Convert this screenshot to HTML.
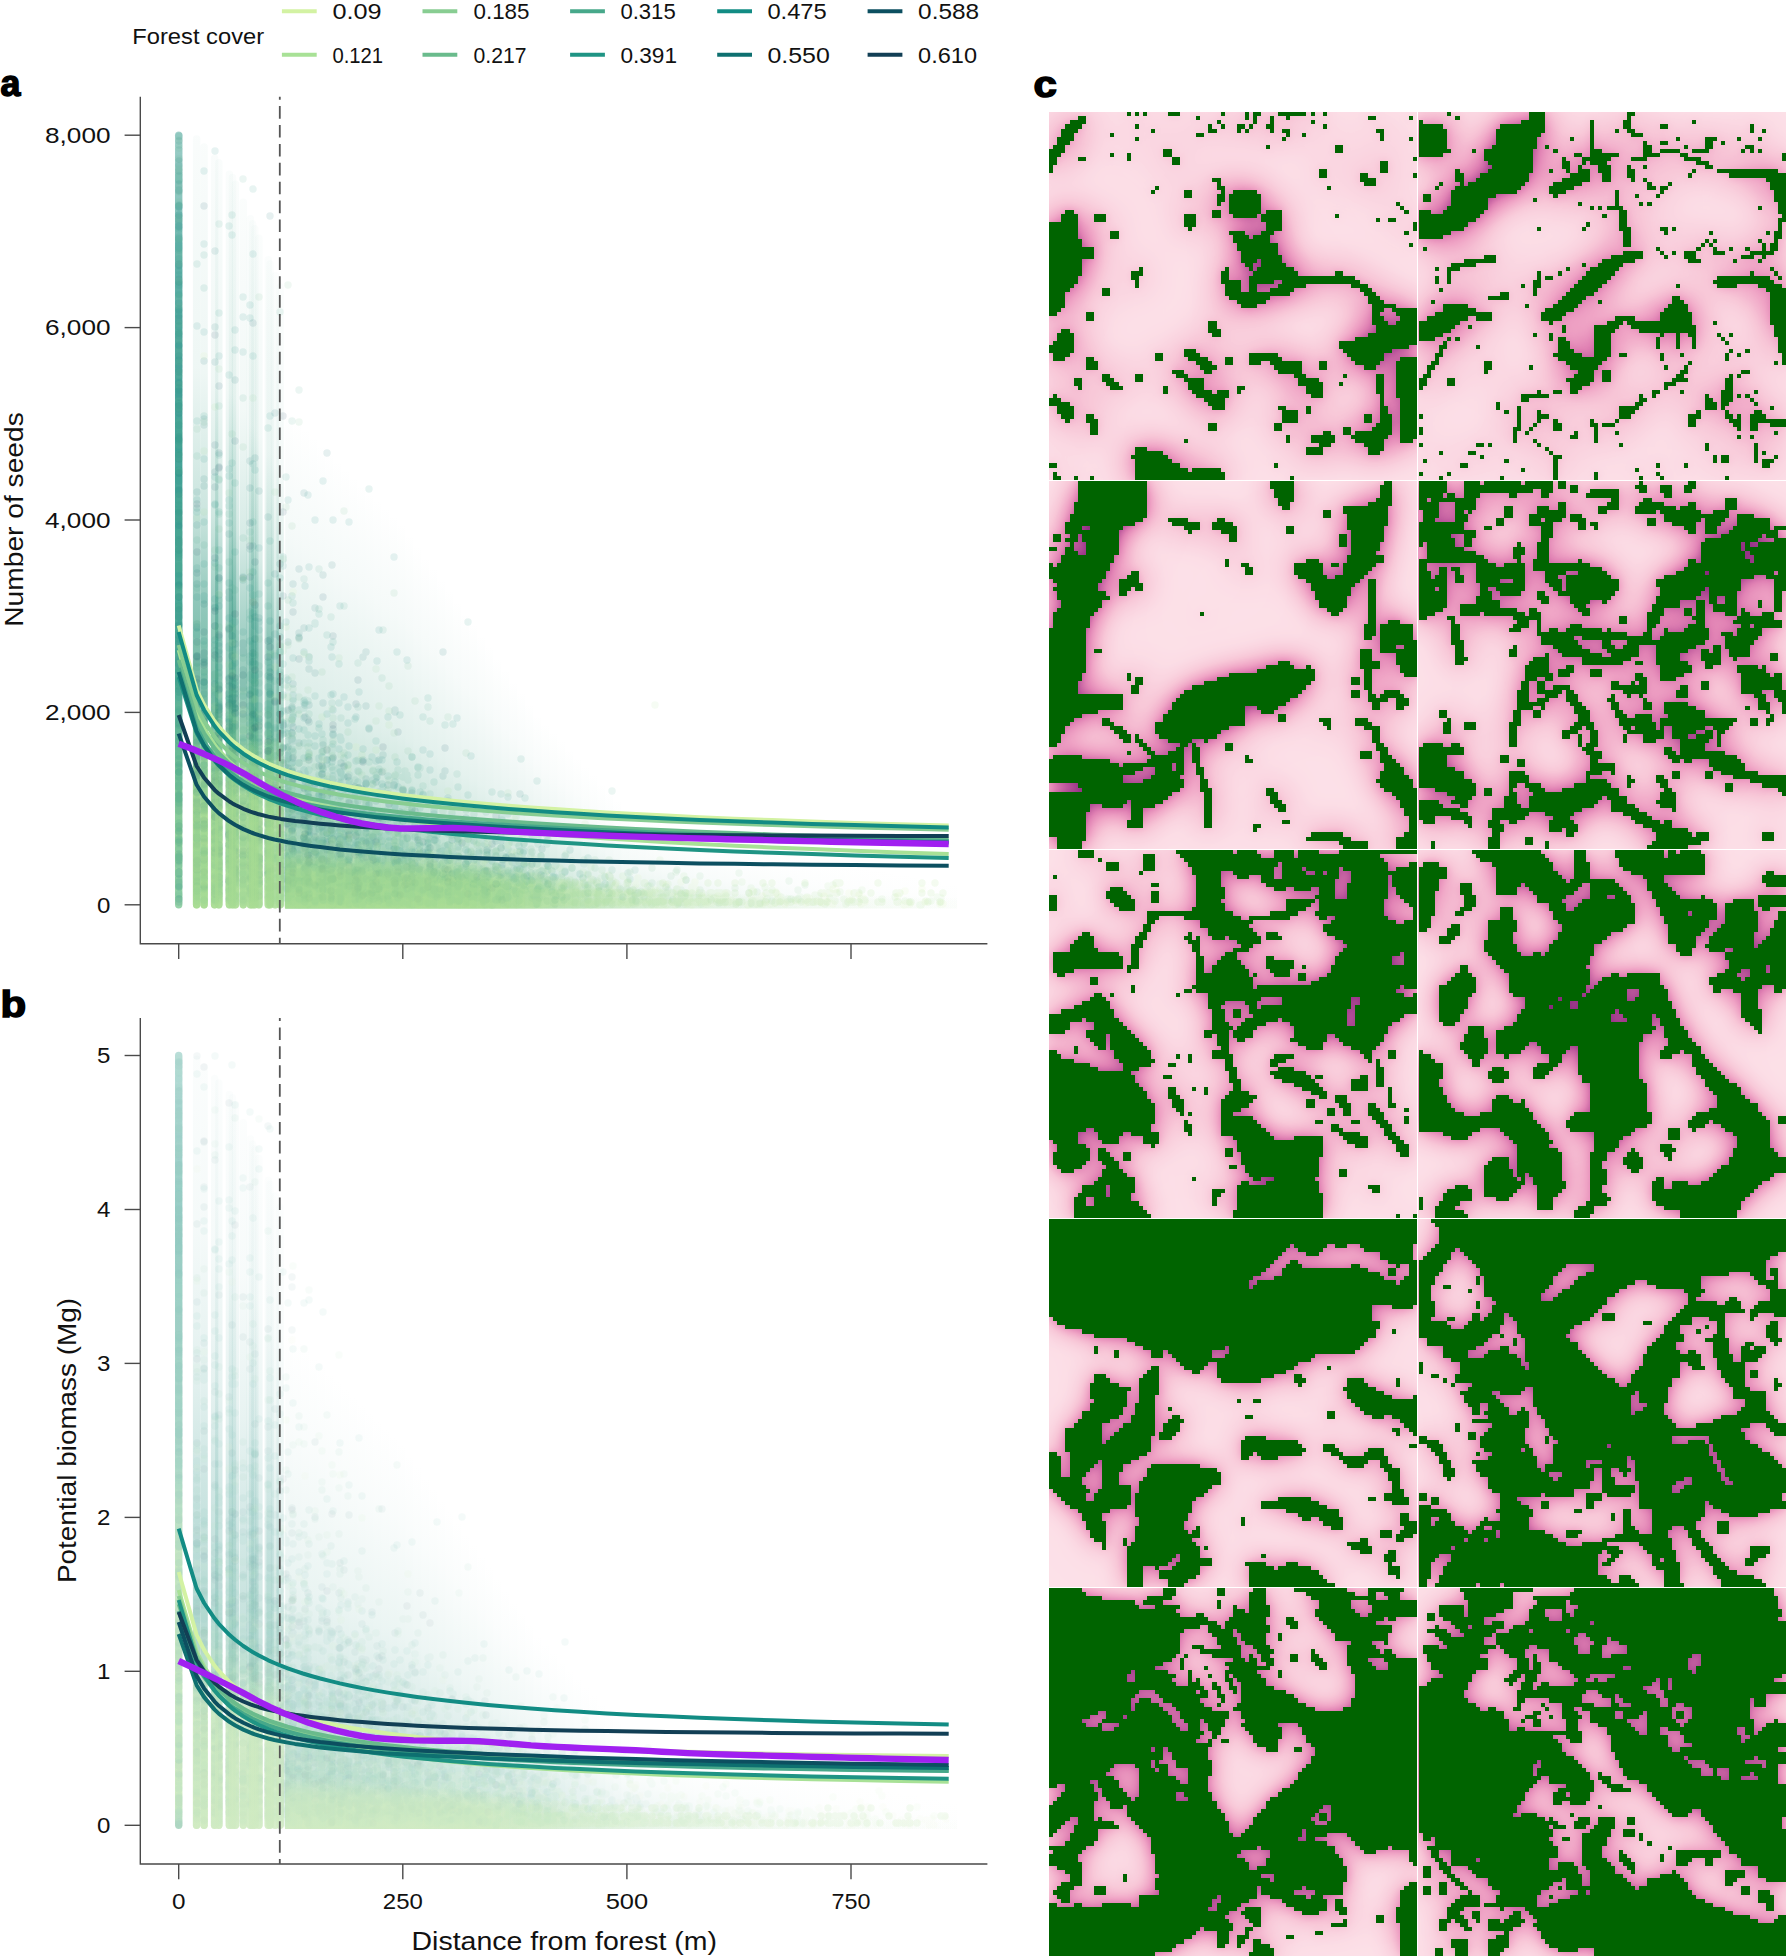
<!DOCTYPE html>
<html><head><meta charset="utf-8"><title>Figure</title>
<style>html,body{margin:0;padding:0;background:#fff}body{width:1786px;height:1957px;position:relative;overflow:hidden}</style>
</head><body>
<svg width="1040" height="1957" viewBox="0 0 1040 1957" style="position:absolute;left:0;top:0" font-family="Liberation Sans, sans-serif" fill="#111">
<text x="132.3" y="43.9" font-size="22.5" text-anchor="start" textLength="131.8" lengthAdjust="spacingAndGlyphs">Forest cover</text>
<path d="M281.9 11.3h34.8" stroke="#d3f2a3" stroke-width="4" fill="none"/>
<text x="332.4" y="19.3" font-size="22" text-anchor="start" textLength="49.2" lengthAdjust="spacingAndGlyphs">0.09</text>
<path d="M281.9 54.7h34.8" stroke="#a8e196" stroke-width="4" fill="none"/>
<text x="332.4" y="62.7" font-size="22" text-anchor="start" textLength="50.7" lengthAdjust="spacingAndGlyphs">0.121</text>
<path d="M422.5 11.3h34.8" stroke="#88cd92" stroke-width="4" fill="none"/>
<text x="473.5" y="19.3" font-size="22" text-anchor="start" textLength="56.0" lengthAdjust="spacingAndGlyphs">0.185</text>
<path d="M422.5 54.7h34.8" stroke="#6abb8c" stroke-width="4" fill="none"/>
<text x="473.5" y="62.7" font-size="22" text-anchor="start" textLength="53.0" lengthAdjust="spacingAndGlyphs">0.217</text>
<path d="M570.1 11.3h34.8" stroke="#47a88a" stroke-width="4" fill="none"/>
<text x="620.4" y="19.3" font-size="22" text-anchor="start" textLength="55.3" lengthAdjust="spacingAndGlyphs">0.315</text>
<path d="M570.1 54.7h34.8" stroke="#1f9484" stroke-width="4" fill="none"/>
<text x="620.4" y="62.7" font-size="22" text-anchor="start" textLength="56.6" lengthAdjust="spacingAndGlyphs">0.391</text>
<path d="M717.2 11.3h34.8" stroke="#128c84" stroke-width="4" fill="none"/>
<text x="767.4" y="19.3" font-size="22" text-anchor="start" textLength="59.3" lengthAdjust="spacingAndGlyphs">0.475</text>
<path d="M717.2 54.7h34.8" stroke="#0e7070" stroke-width="4" fill="none"/>
<text x="767.4" y="62.7" font-size="22" text-anchor="start" textLength="62.4" lengthAdjust="spacingAndGlyphs">0.550</text>
<path d="M867.6 11.3h34.8" stroke="#0c4f60" stroke-width="4" fill="none"/>
<text x="918.1" y="19.3" font-size="22" text-anchor="start" textLength="61.0" lengthAdjust="spacingAndGlyphs">0.588</text>
<path d="M867.6 54.7h34.8" stroke="#123f55" stroke-width="4" fill="none"/>
<text x="918.1" y="62.7" font-size="22" text-anchor="start" textLength="58.9" lengthAdjust="spacingAndGlyphs">0.610</text>
<text transform="translate(0.4 96.2) scale(0.98 1)" font-size="36.5" font-weight="bold" fill="#000" stroke="#000" stroke-width="1.5">a</text>
<text transform="translate(0.6 1017.4) scale(1.15 1)" font-size="36.5" font-weight="bold" fill="#000" stroke="#000" stroke-width="1.5">b</text>
<defs><linearGradient id="gan" x1="0" y1="1" x2="0" y2="0"><stop offset="0" stop-color="#a8dc93" stop-opacity="0.96"/><stop offset="0.13" stop-color="#a4da92" stop-opacity="0.94"/><stop offset="0.2" stop-color="#7cc48e" stop-opacity="0.9"/><stop offset="0.28" stop-color="#4fa88a" stop-opacity="0.8"/><stop offset="0.4" stop-color="#3f9e88" stop-opacity="0.58"/><stop offset="0.52" stop-color="#45a28b" stop-opacity="0.28"/><stop offset="0.7" stop-color="#48a48c" stop-opacity="0.09"/><stop offset="1" stop-color="#48a48c" stop-opacity="0.03"/></linearGradient><linearGradient id="gaz" x1="0" y1="1" x2="0" y2="0"><stop offset="0" stop-color="#7cc694" stop-opacity="0.8"/><stop offset="0.1" stop-color="#86cc92" stop-opacity="0.9"/><stop offset="0.3" stop-color="#3fa28c" stop-opacity="0.9"/><stop offset="0.6" stop-color="#2c968a" stop-opacity="0.88"/><stop offset="0.85" stop-color="#3a9d92" stop-opacity="0.75"/><stop offset="1" stop-color="#5fb0a4" stop-opacity="0.5"/></linearGradient><linearGradient id="gab" x1="0" y1="1" x2="0" y2="0"><stop offset="0" stop-color="#a8dc93" stop-opacity="1"/><stop offset="0.6" stop-color="#a6db93" stop-opacity="0.92"/><stop offset="1" stop-color="#96d392" stop-opacity="0"/></linearGradient><linearGradient id="gac" x1="0" y1="1" x2="0" y2="0"><stop offset="0" stop-color="#74c08f" stop-opacity="0.7"/><stop offset="0.2" stop-color="#62b38f" stop-opacity="0.5"/><stop offset="0.45" stop-color="#5fae98" stop-opacity="0.22"/><stop offset="0.75" stop-color="#62ae9c" stop-opacity="0.07"/><stop offset="1" stop-color="#62ae9c" stop-opacity="0"/></linearGradient><linearGradient id="gat" x1="0" y1="1" x2="0" y2="0"><stop offset="0" stop-color="#a8dc93" stop-opacity="0.62"/><stop offset="0.6" stop-color="#a8dc93" stop-opacity="0.5"/><stop offset="1" stop-color="#a8dc93" stop-opacity="0"/></linearGradient></defs><g><rect x="175.0" y="131.5" width="7.4" height="777.0" rx="3.7" fill="url(#gaz)"/><rect x="192.9" y="135.2" width="7.4" height="773.3" rx="3.7" fill="url(#gan)" opacity="1.00"/><rect x="200.4" y="143.2" width="7.4" height="765.3" rx="3.7" fill="url(#gan)" opacity="0.97"/><rect x="210.9" y="154.4" width="7.4" height="754.1" rx="3.7" fill="url(#gan)" opacity="0.92"/><rect x="215.1" y="159.0" width="7.4" height="749.5" rx="3.7" fill="url(#gan)" opacity="0.90"/><rect x="225.7" y="170.4" width="7.4" height="738.1" rx="3.7" fill="url(#gan)" opacity="0.85"/><rect x="228.8" y="173.7" width="7.4" height="734.8" rx="3.7" fill="url(#gan)" opacity="0.84"/><rect x="231.7" y="180.4" width="7.4" height="728.1" rx="3.7" fill="url(#gan)" opacity="0.83"/><rect x="239.6" y="198.6" width="7.4" height="709.9" rx="3.7" fill="url(#gan)" opacity="0.79"/><rect x="246.7" y="214.9" width="7.4" height="693.6" rx="3.7" fill="url(#gan)" opacity="0.76"/><rect x="248.9" y="220.0" width="7.4" height="688.5" rx="3.7" fill="url(#gan)" opacity="0.75"/><rect x="251.1" y="224.9" width="7.4" height="683.6" rx="3.7" fill="url(#gan)" opacity="0.74"/><rect x="255.2" y="234.4" width="7.4" height="674.1" rx="3.7" fill="url(#gan)" opacity="0.72"/><rect x="264.6" y="256.1" width="7.4" height="652.4" rx="3.7" fill="url(#gan)" opacity="0.68"/><rect x="266.4" y="260.2" width="7.4" height="648.3" rx="3.7" fill="url(#gan)" opacity="0.68"/><rect x="271.5" y="272.0" width="7.4" height="636.5" rx="3.7" fill="url(#gan)" opacity="0.65"/><rect x="276.4" y="283.2" width="7.4" height="625.3" rx="3.7" fill="url(#gan)" opacity="0.63"/><rect x="285.2" y="411.3" width="8.05" height="497.2" fill="url(#gac)" opacity="0.94"/><rect x="285.2" y="853.1" width="8.05" height="55.4" fill="url(#gab)" opacity="0.95"/><rect x="293.2" y="419.3" width="8.05" height="489.2" fill="url(#gac)" opacity="0.94"/><rect x="293.2" y="853.5" width="8.05" height="55.0" fill="url(#gab)" opacity="0.94"/><rect x="301.2" y="427.3" width="8.05" height="481.2" fill="url(#gac)" opacity="0.93"/><rect x="301.2" y="853.9" width="8.05" height="54.6" fill="url(#gab)" opacity="0.94"/><rect x="309.2" y="435.3" width="8.05" height="473.2" fill="url(#gac)" opacity="0.92"/><rect x="309.2" y="854.3" width="8.05" height="54.2" fill="url(#gab)" opacity="0.94"/><rect x="317.2" y="443.3" width="8.05" height="465.2" fill="url(#gac)" opacity="0.92"/><rect x="317.2" y="854.7" width="8.05" height="53.8" fill="url(#gab)" opacity="0.94"/><rect x="325.2" y="451.3" width="8.05" height="457.2" fill="url(#gac)" opacity="0.91"/><rect x="325.2" y="855.1" width="8.05" height="53.4" fill="url(#gab)" opacity="0.93"/><rect x="333.2" y="459.2" width="8.05" height="449.3" fill="url(#gac)" opacity="0.90"/><rect x="333.2" y="855.4" width="8.05" height="53.1" fill="url(#gab)" opacity="0.93"/><rect x="341.2" y="467.2" width="8.05" height="441.3" fill="url(#gac)" opacity="0.90"/><rect x="341.2" y="855.8" width="8.05" height="52.7" fill="url(#gab)" opacity="0.93"/><rect x="349.2" y="475.2" width="8.05" height="433.3" fill="url(#gac)" opacity="0.89"/><rect x="349.2" y="856.2" width="8.05" height="52.3" fill="url(#gab)" opacity="0.92"/><rect x="357.2" y="483.2" width="8.05" height="425.3" fill="url(#gac)" opacity="0.88"/><rect x="357.2" y="856.6" width="8.05" height="51.9" fill="url(#gab)" opacity="0.92"/><rect x="365.2" y="491.2" width="8.05" height="417.3" fill="url(#gac)" opacity="0.88"/><rect x="365.2" y="857.0" width="8.05" height="51.5" fill="url(#gab)" opacity="0.92"/><rect x="373.2" y="499.2" width="8.05" height="409.3" fill="url(#gac)" opacity="0.87"/><rect x="373.2" y="857.4" width="8.05" height="51.1" fill="url(#gab)" opacity="0.92"/><rect x="381.2" y="507.2" width="8.05" height="401.3" fill="url(#gac)" opacity="0.86"/><rect x="381.2" y="857.8" width="8.05" height="50.7" fill="url(#gab)" opacity="0.91"/><rect x="389.2" y="515.2" width="8.05" height="393.3" fill="url(#gac)" opacity="0.86"/><rect x="389.2" y="858.2" width="8.05" height="50.3" fill="url(#gab)" opacity="0.91"/><rect x="397.2" y="523.2" width="8.05" height="385.3" fill="url(#gac)" opacity="0.85"/><rect x="397.2" y="858.5" width="8.05" height="50.0" fill="url(#gab)" opacity="0.91"/><rect x="405.2" y="533.7" width="8.05" height="374.8" fill="url(#gac)" opacity="0.84"/><rect x="405.2" y="858.9" width="8.05" height="49.6" fill="url(#gab)" opacity="0.90"/><rect x="413.2" y="544.9" width="8.05" height="363.6" fill="url(#gac)" opacity="0.82"/><rect x="413.2" y="859.3" width="8.05" height="49.2" fill="url(#gab)" opacity="0.90"/><rect x="421.2" y="556.0" width="8.05" height="352.5" fill="url(#gac)" opacity="0.81"/><rect x="421.2" y="859.7" width="8.05" height="48.8" fill="url(#gab)" opacity="0.90"/><rect x="429.2" y="567.2" width="8.05" height="341.3" fill="url(#gac)" opacity="0.79"/><rect x="429.2" y="860.1" width="8.05" height="48.4" fill="url(#gab)" opacity="0.90"/><rect x="437.2" y="578.3" width="8.05" height="330.2" fill="url(#gac)" opacity="0.78"/><rect x="437.2" y="860.5" width="8.05" height="48.0" fill="url(#gab)" opacity="0.89"/><rect x="445.2" y="589.5" width="8.05" height="319.0" fill="url(#gac)" opacity="0.76"/><rect x="445.2" y="861.0" width="8.05" height="47.5" fill="url(#gab)" opacity="0.89"/><rect x="453.2" y="600.6" width="8.05" height="307.9" fill="url(#gac)" opacity="0.75"/><rect x="453.2" y="862.1" width="8.05" height="46.4" fill="url(#gab)" opacity="0.89"/><rect x="461.2" y="611.8" width="8.05" height="296.7" fill="url(#gac)" opacity="0.73"/><rect x="461.2" y="863.2" width="8.05" height="45.3" fill="url(#gab)" opacity="0.88"/><rect x="469.2" y="622.9" width="8.05" height="285.6" fill="url(#gac)" opacity="0.72"/><rect x="469.2" y="864.2" width="8.05" height="44.3" fill="url(#gab)" opacity="0.88"/><rect x="477.2" y="634.4" width="8.05" height="274.1" fill="url(#gac)" opacity="0.70"/><rect x="477.2" y="865.3" width="8.05" height="43.2" fill="url(#gab)" opacity="0.84"/><rect x="485.2" y="645.8" width="8.05" height="262.7" fill="url(#gac)" opacity="0.69"/><rect x="485.2" y="866.4" width="8.05" height="42.1" fill="url(#gab)" opacity="0.79"/><rect x="493.2" y="657.3" width="8.05" height="251.2" fill="url(#gac)" opacity="0.67"/><rect x="493.2" y="867.4" width="8.05" height="41.1" fill="url(#gab)" opacity="0.74"/><rect x="501.2" y="668.8" width="8.05" height="239.7" fill="url(#gac)" opacity="0.66"/><rect x="501.2" y="868.5" width="8.05" height="40.0" fill="url(#gab)" opacity="0.69"/><rect x="509.2" y="680.3" width="8.05" height="228.2" fill="url(#gac)" opacity="0.64"/><rect x="509.2" y="869.6" width="8.05" height="38.9" fill="url(#gab)" opacity="0.65"/><rect x="517.2" y="691.7" width="8.05" height="216.8" fill="url(#gac)" opacity="0.63"/><rect x="517.2" y="870.6" width="8.05" height="37.9" fill="url(#gab)" opacity="0.60"/><rect x="525.2" y="703.2" width="8.05" height="205.3" fill="url(#gac)" opacity="0.62"/><rect x="525.2" y="871.7" width="8.05" height="36.8" fill="url(#gab)" opacity="0.55"/><rect x="533.2" y="714.7" width="8.05" height="193.8" fill="url(#gac)" opacity="0.60"/><rect x="533.2" y="872.8" width="8.05" height="35.7" fill="url(#gab)" opacity="0.50"/><rect x="541.2" y="723.2" width="8.05" height="185.3" fill="url(#gac)" opacity="0.57"/><rect x="541.2" y="873.9" width="8.05" height="34.6" fill="url(#gab)" opacity="0.46"/><rect x="549.2" y="731.7" width="8.05" height="176.8" fill="url(#gac)" opacity="0.55"/><rect x="549.2" y="874.9" width="8.05" height="33.6" fill="url(#gab)" opacity="0.43"/><rect x="557.2" y="740.2" width="8.05" height="168.3" fill="url(#gac)" opacity="0.52"/><rect x="557.2" y="876.0" width="8.05" height="32.5" fill="url(#gab)" opacity="0.39"/><rect x="565.2" y="748.6" width="8.05" height="159.9" fill="url(#gac)" opacity="0.49"/><rect x="565.2" y="877.1" width="8.05" height="31.4" fill="url(#gab)" opacity="0.36"/><rect x="573.2" y="757.1" width="8.05" height="151.4" fill="url(#gac)" opacity="0.47"/><rect x="573.2" y="878.1" width="8.05" height="30.4" fill="url(#gab)" opacity="0.32"/><rect x="581.2" y="765.6" width="8.05" height="142.9" fill="url(#gac)" opacity="0.44"/><rect x="581.2" y="879.1" width="8.05" height="29.4" fill="url(#gab)" opacity="0.29"/><rect x="589.2" y="774.1" width="8.05" height="134.4" fill="url(#gac)" opacity="0.41"/><rect x="589.2" y="880.0" width="8.05" height="28.5" fill="url(#gab)" opacity="0.28"/><rect x="597.2" y="782.5" width="8.05" height="126.0" fill="url(#gac)" opacity="0.39"/><rect x="597.2" y="880.8" width="8.05" height="27.7" fill="url(#gab)" opacity="0.26"/><rect x="605.2" y="791.0" width="8.05" height="117.5" fill="url(#gac)" opacity="0.36"/><rect x="605.2" y="881.6" width="8.05" height="26.9" fill="url(#gab)" opacity="0.24"/><rect x="613.2" y="799.5" width="8.05" height="109.0" fill="url(#gac)" opacity="0.33"/><rect x="613.2" y="882.5" width="8.05" height="26.0" fill="url(#gab)" opacity="0.23"/><rect x="621.2" y="808.0" width="8.05" height="100.5" fill="url(#gac)" opacity="0.31"/><rect x="621.2" y="883.3" width="8.05" height="25.2" fill="url(#gab)" opacity="0.21"/><rect x="629.2" y="812.3" width="8.05" height="96.2" fill="url(#gac)" opacity="0.29"/><rect x="629.2" y="884.1" width="8.05" height="24.4" fill="url(#gab)" opacity="0.19"/><rect x="637.2" y="815.4" width="8.05" height="93.1" fill="url(#gac)" opacity="0.28"/><rect x="637.2" y="885.0" width="8.05" height="23.5" fill="url(#gab)" opacity="0.18"/><rect x="645.2" y="818.5" width="8.05" height="90.0" fill="url(#gac)" opacity="0.27"/><rect x="645.2" y="885.8" width="8.05" height="22.7" fill="url(#gab)" opacity="0.16"/><rect x="653.2" y="821.6" width="8.05" height="86.9" fill="url(#gac)" opacity="0.26"/><rect x="653.2" y="886.6" width="8.05" height="21.9" fill="url(#gab)" opacity="0.14"/><rect x="661.2" y="824.7" width="8.05" height="83.8" fill="url(#gac)" opacity="0.25"/><rect x="661.2" y="887.5" width="8.05" height="21.0" fill="url(#gab)" opacity="0.13"/><rect x="669.2" y="827.9" width="8.05" height="80.6" fill="url(#gac)" opacity="0.24"/><rect x="669.2" y="888.3" width="8.05" height="20.2" fill="url(#gab)" opacity="0.12"/><rect x="677.2" y="831.0" width="8.05" height="77.5" fill="url(#gac)" opacity="0.23"/><rect x="677.2" y="889.1" width="8.05" height="19.4" fill="url(#gab)" opacity="0.12"/><rect x="685.2" y="834.1" width="8.05" height="74.4" fill="url(#gac)" opacity="0.22"/><rect x="685.2" y="890.0" width="8.05" height="18.5" fill="url(#gab)" opacity="0.12"/><rect x="693.2" y="837.2" width="8.05" height="71.3" fill="url(#gac)" opacity="0.21"/><rect x="693.2" y="890.8" width="8.05" height="17.7" fill="url(#gab)" opacity="0.11"/><rect x="701.2" y="840.4" width="8.05" height="68.1" fill="url(#gac)" opacity="0.20"/><rect x="701.2" y="891.6" width="8.05" height="16.9" fill="url(#gab)" opacity="0.11"/><rect x="709.2" y="843.5" width="8.05" height="65.0" fill="url(#gac)" opacity="0.19"/><rect x="709.2" y="892.5" width="8.05" height="16.0" fill="url(#gab)" opacity="0.10"/><rect x="717.2" y="845.4" width="8.05" height="63.1" fill="url(#gac)" opacity="0.18"/><rect x="717.2" y="892.9" width="8.05" height="15.6" fill="url(#gab)" opacity="0.10"/><rect x="725.2" y="846.4" width="8.05" height="62.1" fill="url(#gac)" opacity="0.17"/><rect x="725.2" y="893.0" width="8.05" height="15.5" fill="url(#gab)" opacity="0.09"/><rect x="733.2" y="847.5" width="8.05" height="61.0" fill="url(#gac)" opacity="0.16"/><rect x="733.2" y="893.2" width="8.05" height="15.3" fill="url(#gab)" opacity="0.09"/><rect x="741.2" y="848.5" width="8.05" height="60.0" fill="url(#gac)" opacity="0.15"/><rect x="741.2" y="893.3" width="8.05" height="15.2" fill="url(#gab)" opacity="0.08"/><rect x="749.2" y="849.5" width="8.05" height="59.0" fill="url(#gac)" opacity="0.15"/><rect x="749.2" y="893.4" width="8.05" height="15.1" fill="url(#gab)" opacity="0.08"/><rect x="757.2" y="850.5" width="8.05" height="58.0" fill="url(#gac)" opacity="0.14"/><rect x="757.2" y="893.6" width="8.05" height="14.9" fill="url(#gab)" opacity="0.08"/><rect x="765.2" y="851.6" width="8.05" height="56.9" fill="url(#gac)" opacity="0.13"/><rect x="765.2" y="893.7" width="8.05" height="14.8" fill="url(#gab)" opacity="0.07"/><rect x="773.2" y="852.6" width="8.05" height="55.9" fill="url(#gac)" opacity="0.12"/><rect x="773.2" y="893.8" width="8.05" height="14.7" fill="url(#gab)" opacity="0.07"/><rect x="781.2" y="853.6" width="8.05" height="54.9" fill="url(#gac)" opacity="0.11"/><rect x="781.2" y="894.0" width="8.05" height="14.5" fill="url(#gab)" opacity="0.06"/><rect x="789.2" y="854.7" width="8.05" height="53.8" fill="url(#gac)" opacity="0.10"/><rect x="789.2" y="894.1" width="8.05" height="14.4" fill="url(#gab)" opacity="0.06"/><rect x="797.2" y="855.7" width="8.05" height="52.8" fill="url(#gac)" opacity="0.09"/><rect x="797.2" y="894.3" width="8.05" height="14.2" fill="url(#gab)" opacity="0.05"/><rect x="805.2" y="856.7" width="8.05" height="51.8" fill="url(#gac)" opacity="0.08"/><rect x="805.2" y="894.4" width="8.05" height="14.1" fill="url(#gab)" opacity="0.05"/><rect x="813.2" y="857.8" width="8.05" height="50.7" fill="url(#gac)" opacity="0.08"/><rect x="813.2" y="894.5" width="8.05" height="14.0" fill="url(#gab)" opacity="0.05"/><rect x="821.2" y="858.8" width="8.05" height="49.7" fill="url(#gac)" opacity="0.07"/><rect x="821.2" y="894.7" width="8.05" height="13.8" fill="url(#gab)" opacity="0.05"/><rect x="829.2" y="859.8" width="8.05" height="48.7" fill="url(#gac)" opacity="0.07"/><rect x="829.2" y="894.8" width="8.05" height="13.7" fill="url(#gab)" opacity="0.04"/><rect x="837.2" y="860.8" width="8.05" height="47.7" fill="url(#gac)" opacity="0.07"/><rect x="837.2" y="894.9" width="8.05" height="13.6" fill="url(#gab)" opacity="0.04"/><rect x="845.2" y="861.9" width="8.05" height="46.6" fill="url(#gac)" opacity="0.06"/><rect x="845.2" y="895.1" width="8.05" height="13.4" fill="url(#gab)" opacity="0.04"/><rect x="853.2" y="862.9" width="8.05" height="45.6" fill="url(#gac)" opacity="0.06"/><rect x="853.2" y="895.2" width="8.05" height="13.3" fill="url(#gab)" opacity="0.04"/><rect x="861.2" y="863.9" width="8.05" height="44.6" fill="url(#gac)" opacity="0.06"/><rect x="861.2" y="895.4" width="8.05" height="13.1" fill="url(#gab)" opacity="0.04"/><rect x="869.2" y="865.0" width="8.05" height="43.5" fill="url(#gac)" opacity="0.05"/><rect x="869.2" y="895.5" width="8.05" height="13.0" fill="url(#gab)" opacity="0.04"/><rect x="877.2" y="866.0" width="8.05" height="42.5" fill="url(#gac)" opacity="0.05"/><rect x="877.2" y="895.6" width="8.05" height="12.9" fill="url(#gab)" opacity="0.03"/><rect x="885.2" y="867.0" width="8.05" height="41.5" fill="url(#gac)" opacity="0.05"/><rect x="885.2" y="895.8" width="8.05" height="12.7" fill="url(#gab)" opacity="0.03"/><rect x="893.2" y="868.1" width="8.05" height="40.4" fill="url(#gac)" opacity="0.04"/><rect x="893.2" y="895.9" width="8.05" height="12.6" fill="url(#gab)" opacity="0.03"/><rect x="901.2" y="869.1" width="8.05" height="39.4" fill="url(#gac)" opacity="0.04"/><rect x="901.2" y="896.0" width="8.05" height="12.5" fill="url(#gab)" opacity="0.03"/><rect x="909.2" y="870.1" width="8.05" height="38.4" fill="url(#gac)" opacity="0.04"/><rect x="909.2" y="896.2" width="8.05" height="12.3" fill="url(#gab)" opacity="0.03"/><rect x="917.2" y="871.1" width="8.05" height="37.4" fill="url(#gac)" opacity="0.03"/><rect x="917.2" y="896.3" width="8.05" height="12.2" fill="url(#gab)" opacity="0.03"/><rect x="925.2" y="872.2" width="8.05" height="36.3" fill="url(#gac)" opacity="0.03"/><rect x="925.2" y="896.4" width="8.05" height="12.1" fill="url(#gab)" opacity="0.02"/><rect x="933.2" y="873.2" width="8.05" height="35.3" fill="url(#gac)" opacity="0.03"/><rect x="933.2" y="896.6" width="8.05" height="11.9" fill="url(#gab)" opacity="0.02"/><rect x="941.2" y="874.2" width="8.05" height="34.3" fill="url(#gac)" opacity="0.02"/><rect x="941.2" y="896.7" width="8.05" height="11.8" fill="url(#gab)" opacity="0.02"/><rect x="949.2" y="874.8" width="8.05" height="33.7" fill="url(#gac)" opacity="0.02"/><rect x="949.2" y="896.8" width="8.05" height="11.7" fill="url(#gab)" opacity="0.02"/></g><g fill="none" stroke-linecap="round" stroke-width="7.4" stroke-opacity="0.100"><path d="M197 504zm0 48zm0 105zm0 22zm0 23zm0 10zm0 13zm0 50zm0 27zm0 3zm0 2zm0 1zm0 4zm0 8zm0 26zm0 15zm0 2zm0 1zm0 6zm7-205zm0 0zm0 56zm0 63zm0 36zm0 8zm0 14zm11-507zm0 276zm0 44zm0 70zm0 56zm0 15zm0 4zm0 15zm0 2zm0 15zm0 6zm0 15zm0 25zm4-410zm0 110zm0 57zm0 24zm0 79zm0 25zm0 2zm0 42zm0 9zm0 3zm0 31zm0 4zm10-225zm0 156zm0 50zm0 46zm0 0zm0 0zm3-205zm0 96zm0 4zm0 42zm0 14zm0 9zm0 7zm0 4zm3-238zm0 99zm0 40zm0 74zm0 24zm0 8zm0 2zm0 7zm0 6zm0 5zm8-301zm0 127zm0 101zm0 22zm0 23zm0 15zm7-320zm0 190zm0 46zm0 9zm0 23zm0 24zm0 28zm3-264zm0 213zm0 33zm0 24zm0 20zm2-222zm0 58zm0 68zm4-70zm0 89zm0 15zm0 10zm0 18zm0 1zm0 8zm0 6zm0 2zm0 21zm9-154zm0 9zm0 32zm0 36zm0 37zm2-209zm0 157zm0 68zm0 5zm0 11zm5-186zm0 83zm0 33zm0 7zm0 43zm0 18zm5-110zm0 29zm0 60zm3-449zm0 96zm0 213zm0 23zm0 15zm0 17zm0 49zm0 19zm0 22zm3-66zm0 20zm2-114zm0 171zm4-99zm0 63zm0 3zm0 1zm1 24zm6 20zm5-73zm0 24zm1-10zm0 15zm3-8zm0 14zm1-41zm0 48zm6-78zm7 76zm0 9zm1-53zm0 81zm4-147zm0 111zm4-71zm0 3zm0 51zm0 47zm2-166zm6 122zm1 7zm0 22zm9-73zm0 32zm6 20zm0 28zm0 7zm0 3zm1-57zm0 44zm2 8zm5-126zm0 133zm3-38zm6 36zm1-33zm3-18zm0 32zm0 8zm3-64zm4-71zm6 57zm6 79zm3-11zm2 23zm5-17zm0 7zm13 14zm10-18zm0 6zm2-23zm18 6zm0 12zm20 12zm24-6z" stroke="#123f55"/><path d="M197 573zm0 69zm0 14zm0 27zm0 83zm0 7zm0 19zm0 8zm0 6zm0 21zm0 10zm0 1zm0 2zm0 4zm0 16zm0 7zm0 14zm0 1zm7-676zm0 426zm0 21zm0 6zm0 23zm0 31zm0 19zm0 25zm0 40zm0 9zm0 5zm0 13zm0 2zm0 25zm0 7zm0 2zm0 12zm0 14zm11-441zm0 27zm0 15zm0 71zm0 68zm0 110zm0 26zm0 6zm0 9zm0 25zm0 15zm0 31zm0 41zm0 5zm4-508zm0 67zm0 14zm0 222zm0 19zm0 5zm0 1zm0 9zm0 6zm0 8zm0 2zm0 32zm0 13zm0 42zm0 27zm0 12zm0 1zm0 11zm10-198zm0 2zm0 24zm0 22zm0 22zm0 12zm0 0zm0 38zm0 4zm0 11zm0 20zm0 1zm0 10zm0 19zm0 1zm0 33zm3-211zm0 11zm0 4zm0 45zm0 17zm0 1zm0 6zm0 39zm0 5zm0 3zm0 4zm0 16zm0 3zm0 5zm0 11zm0 15zm0 13zm0 3zm3-447zm0 237zm0 20zm0 10zm0 50zm0 31zm0 1zm0 22zm0 6zm0 34zm0 3zm0 1zm0 13zm0 3zm8-197zm0 39zm0 50zm0 23zm0 11zm0 3zm0 16zm0 16zm0 4zm0 19zm0 24zm7-357zm0 54zm0 118zm0 83zm0 29zm0 44zm0 7zm0 5zm0 16zm0 9zm0 6zm3-571zm0 391zm0 127zm0 14zm0 17zm0 8zm0 12zm2-330zm0 43zm0 122zm0 34zm0 4zm0 12zm0 9zm0 23zm0 6zm0 1zm0 6zm0 5zm0 30zm0 2zm0 14zm0 9zm4-100zm0 40zm0 1zm0 10zm0 4zm0 20zm0 23zm9-239zm0 16zm0 94zm0 70zm0 4zm0 16zm0 9zm0 16zm0 3zm0 2zm2-194zm0 145zm0 7zm0 7zm0 32zm0 13zm0 1zm0 6zm5-100zm0 29zm0 19zm5-46zm0 59zm3-253zm0 283zm5-111zm0 41zm0 16zm4-16zm0 14zm0 7zm0 42zm1-260zm0 115zm0 31zm0 21zm0 41zm0 6zm0 39zm0 18zm6-245zm0 21zm5 129zm0 20zm0 1zm0 5zm0 4zm0 19zm1-120zm0 151zm3-148zm0 87zm0 57zm0 8zm1-112zm0 54zm0 14zm0 4zm0 26zm0 24zm0 16zm6-61zm0 15zm0 33zm4-68zm3-51zm0 8zm0 18zm1-195zm0 271zm0 1zm4-27zm0 8zm4-20zm0 20zm0 20zm0 9zm0 0zm0 19zm2-262zm0 93zm0 29zm0 81zm0 40zm6-34zm1-34zm0 3zm1 57zm3-105zm4 11zm0 54zm1 7zm0 27zm0 6zm6-84zm0 88zm1-171zm2-24zm0 190zm0 8zm0 9zm1-35zm0 33zm3-96zm0 23zm0 2zm4 29zm6-32zm1 74zm6 4zm3-117zm15 88zm1-128zm9 135zm5 10zm0 5zm3-71zm3 29zm5 2zm7 6zm4 24zm11-124zm0 121zm3 9zm14-35zm15 34zm10-6zm5-27zm4-28zm0 68zm6 16zm4-42z" stroke="#0c4f60"/><path d="M197 492zm0 16zm0 17zm0 59zm0 40zm0 4zm0 34zm0 1zm0 26zm0 53zm0 14zm0 18zm0 2zm0 16zm0 1zm0 20zm0 1zm0 10zm0 5zm0 46zm0 0zm0 2zm0 9zm0 5zm7-530zm0 58zm0 6zm0 54zm0 7zm0 118zm0 58zm0 50zm0 6zm0 5zm0 9zm0 1zm0 8zm0 6zm0 18zm0 11zm0 1zm0 29zm0 1zm0 17zm0 14zm0 0zm0 16zm0 4zm0 2zm0 12zm0 3zm0 10zm0 2zm11-636zm0 76zm0 35zm0 246zm0 76zm0 37zm0 15zm0 6zm0 5zm0 19zm0 4zm0 13zm0 1zm0 33zm0 4zm0 3zm0 8zm0 3zm0 5zm0 10zm0 4zm0 3zm0 8zm0 19zm0 10zm4-257zm0 9zm0 5zm0 39zm0 16zm0 3zm0 1zm0 18zm0 6zm0 9zm0 24zm0 13zm0 3zm0 7zm0 12zm0 3zm0 1zm0 23zm0 16zm0 3zm0 8zm0 6zm0 9zm0 12zm0 1zm0 11zm10-361zm0 58zm0 6zm0 88zm0 8zm0 9zm0 19zm0 29zm0 5zm0 11zm0 25zm0 4zm0 8zm0 0zm0 1zm0 21zm0 2zm0 5zm0 1zm0 3zm0 22zm0 10zm0 10zm0 2zm0 10zm3-255zm0 20zm0 69zm0 5zm0 22zm0 4zm0 6zm0 1zm0 3zm0 2zm0 15zm0 13zm0 25zm0 4zm0 2zm0 19zm0 16zm0 30zm0 2zm3-514zm0 264zm0 45zm0 15zm0 20zm0 2zm0 23zm0 0zm0 18zm0 9zm0 17zm0 9zm0 20zm0 1zm0 1zm0 5zm0 5zm0 3zm0 33zm0 8zm0 1zm0 0zm0 3zm0 14zm8-253zm0 2zm0 6zm0 2zm0 17zm0 1zm0 5zm0 6zm0 6zm0 68zm0 4zm0 21zm0 10zm0 19zm0 2zm0 11zm0 3zm0 12zm0 16zm0 1zm0 45zm7-439zm0 27zm0 61zm0 222zm0 4zm0 3zm0 20zm0 1zm0 1zm0 5zm0 6zm0 10zm0 1zm0 6zm0 2zm0 5zm0 4zm0 3zm0 5zm0 4zm0 6zm0 11zm0 9zm3-331zm0 107zm0 9zm0 53zm0 14zm0 44zm0 8zm0 11zm0 13zm0 7zm0 16zm0 31zm0 3zm0 4zm0 2zm0 14zm0 0zm0 16zm2-440zm0 159zm0 22zm0 162zm0 35zm0 2zm0 5zm0 10zm0 3zm0 36zm0 6zm4-407zm0 127zm0 101zm0 36zm0 1zm0 16zm0 4zm0 3zm0 5zm0 40zm0 11zm0 6zm0 21zm0 4zm0 17zm9-366zm0 198zm0 37zm0 6zm0 20zm0 20zm0 42zm0 3zm0 10zm0 1zm0 20zm0 1zm2-659zm0 424zm0 32zm0 22zm0 45zm0 1zm0 1zm0 9zm0 63zm0 11zm0 29zm0 18zm0 25zm5-483zm0 161zm0 60zm0 67zm0 72zm0 9zm0 1zm0 75zm5-294zm0 73zm0 44zm0 33zm0 39zm0 58zm0 11zm0 13zm0 4zm0 7zm0 18zm0 3zm0 1zm3-134zm0 26zm0 24zm0 93zm0 1zm3-106zm0 2zm0 9zm0 14zm0 45zm0 1zm0 13zm0 0zm0 20zm0 8zm0 4zm2-246zm0 105zm0 8zm0 3zm0 24zm0 79zm0 3zm0 17zm0 3zm0 5zm4-182zm0 26zm0 5zm0 3zm0 0zm0 30zm0 9zm0 23zm0 14zm0 6zm0 8zm0 17zm0 29zm0 1zm1-294zm0 100zm0 57zm0 34zm0 21zm0 8zm0 6zm0 14zm0 16zm0 11zm0 18zm6-300zm0 64zm0 110zm0 31zm0 26zm0 4zm0 50zm0 5zm0 1zm0 30zm5-397zm0 135zm0 179zm0 19zm0 12zm0 5zm0 14zm0 38zm1-190zm0 76zm0 99zm0 3zm3-86zm0 27zm0 7zm0 12zm0 20zm0 0zm0 15zm1-209zm0 36zm0 17zm0 60zm0 26zm0 44zm0 3zm0 6zm6-253zm0 65zm0 144zm0 7zm0 7zm0 23zm0 1zm0 7zm4-96zm0 74zm0 42zm3-86zm0 32zm0 31zm0 9zm0 2zm1-295zm0 128zm0 42zm0 67zm0 17zm0 6zm0 8zm0 40zm0 7zm4-437zm0 307zm0 29zm0 44zm0 41zm0 4zm0 3zm5-316zm0 312zm0 19zm1-161zm0 70zm0 74zm6-93zm1 53zm0 7zm0 2zm1-85zm0 92zm0 10zm3-44zm0 16zm0 7zm0 19zm4-16zm1-35zm0 46zm0 28zm6-72zm0 15zm0 44zm3-72zm0 44zm0 44zm1-101zm0 38zm0 29zm3-33zm0 49zm0 25zm1-239zm0 103zm3-108zm0 54zm0 73zm0 5zm0 44zm3-99zm0 76zm0 46zm0 43zm3-37zm1-20zm0 59zm3-114zm0 19zm0 61zm1 33zm2-135zm0 113zm3-55zm1-63zm0 144zm5-114zm0 34zm0 55zm6-89zm0 64zm0 10zm0 22zm1-171zm0 2zm0 144zm0 5zm0 19zm0 4zm0 10zm3-33zm2-49zm3-22zm0 31zm2 34zm2-17zm0 46zm5-91zm0 16zm0 56zm0 5zm3-7zm0 20zm4-29zm0 15zm4-17zm5 4zm2 11zm0 2zm2 6zm3-35zm0 19zm5 30zm3-237zm0 124zm0 98zm2-103zm3 30zm0 60zm4-21zm0 34zm1 6zm0 3zm5-44zm4 38zm4-59zm0 46zm7-37zm11 63zm3-40zm0 42zm9-51zm0 29zm5-29zm0 7zm0 27zm1-10zm10-8zm8-63zm7 82zm5-12zm9 11zm1-26zm6 35z" stroke="#0e7070"/><path d="M197 326zm0 174zm0 68zm0 1zm0 28zm0 30zm0 29zm0 11zm0 40zm0 1zm0 0zm0 5zm0 5zm0 20zm0 1zm0 2zm0 15zm0 4zm0 5zm0 8zm0 4zm0 9zm0 6zm0 9zm0 3zm0 11zm0 1zm0 1zm0 1zm0 1zm0 6zm0 12zm0 0zm0 2zm0 16zm0 1zm0 0zm0 4zm0 1zm0 3zm0 14zm0 3zm0 10zm0 3zm0 7zm7-730zm0 0zm0 73zm0 88zm0 127zm0 63zm0 42zm0 32zm0 4zm0 41zm0 31zm0 11zm0 3zm0 8zm0 26zm0 3zm0 3zm0 46zm0 0zm0 13zm0 7zm0 0zm0 2zm0 1zm0 4zm0 3zm0 7zm0 12zm0 5zm0 3zm0 10zm0 11zm0 3zm0 11zm0 14zm0 10zm11-737zm0 326zm0 27zm0 59zm0 36zm0 41zm0 11zm0 44zm0 1zm0 6zm0 14zm0 2zm0 10zm0 10zm0 3zm0 10zm0 1zm0 7zm0 1zm0 11zm0 6zm0 3zm0 23zm0 2zm0 5zm0 0zm0 7zm0 9zm0 7zm0 10zm0 5zm0 20zm0 23zm0 9zm4-544zm0 124zm0 70zm0 28zm0 28zm0 47zm0 1zm0 13zm0 37zm0 6zm0 7zm0 36zm0 0zm0 3zm0 30zm0 4zm0 1zm0 7zm0 5zm0 0zm0 21zm0 3zm0 9zm0 3zm0 9zm0 6zm0 23zm0 4zm0 5zm0 2zm10-513zm0 94zm0 7zm0 47zm0 60zm0 35zm0 10zm0 50zm0 15zm0 4zm0 18zm0 5zm0 10zm0 28zm0 8zm0 5zm0 8zm0 8zm0 7zm0 0zm0 5zm0 21zm0 12zm0 2zm0 4zm0 7zm0 7zm0 4zm0 1zm0 4zm0 20zm0 1zm3-216zm0 17zm0 17zm0 1zm0 8zm0 18zm0 24zm0 8zm0 0zm0 24zm0 10zm0 20zm0 12zm0 6zm0 10zm0 11zm0 2zm0 7zm0 4zm0 24zm0 3zm0 10zm3-572zm0 20zm0 335zm0 9zm0 14zm0 56zm0 2zm0 8zm0 1zm0 4zm0 30zm0 4zm0 9zm0 11zm0 16zm0 7zm0 0zm0 18zm8-557zm0 35zm0 228zm0 52zm0 106zm0 15zm0 1zm0 23zm0 0zm0 2zm0 25zm0 8zm0 6zm0 13zm0 6zm0 8zm0 6zm0 5zm0 0zm0 7zm0 11zm0 1zm0 6zm0 1zm0 2zm0 18zm7-597zm0 13zm0 270zm0 106zm0 12zm0 18zm0 23zm0 13zm0 7zm0 26zm0 1zm0 13zm0 5zm0 24zm0 19zm0 16zm0 5zm0 12zm0 4zm0 1zm3-639zm0 102zm0 108zm0 108zm0 41zm0 31zm0 5zm0 7zm0 8zm0 3zm0 43zm0 10zm0 2zm0 16zm0 61zm0 4zm0 2zm0 5zm0 24zm0 4zm0 4zm0 3zm0 6zm0 8zm0 1zm0 3zm0 28zm2-421zm0 151zm0 2zm0 3zm0 38zm0 12zm0 7zm0 62zm0 6zm0 10zm0 11zm0 46zm0 1zm0 7zm0 3zm0 4zm0 4zm0 3zm0 1zm0 17zm0 27zm0 0zm0 7zm0 6zm4-350zm0 74zm0 8zm0 63zm0 21zm0 28zm0 9zm0 11zm0 3zm0 7zm0 4zm0 2zm0 4zm0 12zm0 6zm0 29zm0 7zm0 2zm0 1zm0 1zm0 3zm0 15zm0 2zm0 3zm0 1zm0 11zm0 9zm9-197zm0 39zm0 8zm0 1zm0 19zm0 8zm0 12zm0 4zm0 3zm0 35zm0 9zm0 6zm0 1zm0 1zm0 2zm0 0zm0 5zm0 8zm0 3zm0 10zm0 2zm0 11zm0 14zm2-472zm0 205zm0 47zm0 11zm0 15zm0 40zm0 24zm0 0zm0 8zm0 18zm0 17zm0 6zm0 3zm0 13zm0 13zm0 6zm0 2zm0 11zm0 6zm0 1zm0 5zm0 14zm5-225zm0 72zm0 28zm0 46zm0 1zm0 43zm0 2zm0 4zm0 3zm0 23zm5-252zm0 88zm0 6zm0 16zm0 53zm0 22zm0 23zm0 6zm0 21zm0 28zm0 7zm3-339zm0 3zm0 6zm0 129zm0 28zm0 3zm0 7zm0 68zm0 14zm0 7zm0 13zm0 1zm0 1zm0 20zm0 5zm0 2zm0 10zm0 1zm0 0zm0 0zm0 18zm3-271zm0 111zm0 15zm0 16zm0 1zm0 34zm0 24zm0 27zm0 2zm0 37zm2-389zm0 180zm0 71zm0 6zm0 2zm0 16zm0 10zm0 3zm0 7zm0 7zm0 7zm0 7zm0 3zm0 1zm0 3zm0 20zm0 24zm0 4zm0 9zm4-284zm0 123zm0 14zm0 26zm0 4zm0 9zm0 32zm0 17zm0 10zm0 6zm0 2zm0 4zm0 15zm0 6zm0 14zm1-220zm0 37zm0 4zm0 16zm0 37zm0 10zm0 37zm0 20zm0 15zm0 7zm0 10zm0 1zm0 33zm6-156zm0 34zm0 27zm0 7zm0 1zm0 5zm0 12zm0 66zm0 8zm5-237zm0 66zm0 52zm0 72zm0 27zm0 4zm0 8zm1-295zm0 117zm0 70zm0 36zm0 5zm0 11zm0 16zm0 6zm0 25zm0 27zm3-404zm0 262zm0 32zm0 0zm0 11zm0 9zm0 4zm0 6zm0 18zm0 18zm0 24zm1-312zm0 61zm0 29zm0 4zm0 136zm0 1zm0 28zm0 9zm0 30zm0 0zm0 17zm0 0zm0 2zm0 10zm6-374zm0 216zm0 10zm0 39zm0 56zm0 10zm0 17zm4-144zm0 34zm0 1zm0 35zm0 13zm0 22zm0 15zm0 12zm0 17zm0 13zm0 3zm3-137zm0 22zm0 26zm0 5zm0 21zm0 1zm0 16zm0 1zm0 29zm0 9zm0 15zm1-416zm0 326zm0 46zm0 2zm0 1zm0 0zm0 5zm0 2zm0 6zm0 4zm0 5zm0 22zm4-186zm0 75zm0 7zm0 10zm0 21zm0 6zm0 7zm0 10zm0 20zm0 16zm0 4zm4-243zm0 159zm0 21zm0 6zm0 23zm0 11zm0 2zm0 11zm0 21zm1-244zm0 102zm0 3zm0 52zm0 11zm1-305zm0 174zm0 16zm0 24zm0 42zm0 3zm0 37zm0 51zm0 12zm6-130zm0 57zm0 14zm0 12zm0 1zm0 0zm0 19zm0 6zm0 14zm0 19zm0 1zm0 7zm0 3zm1-165zm0 35zm0 61zm0 3zm0 4zm0 3zm0 0zm0 11zm0 13zm0 20zm1-147zm0 33zm0 10zm0 29zm0 20zm0 12zm0 22zm0 27zm0 5zm3-201zm0 80zm0 58zm0 1zm0 17zm0 33zm4-179zm0 16zm0 68zm1-269zm0 224zm0 110zm0 4zm0 13zm0 3zm0 5zm6-85zm0 37zm0 7zm0 7zm0 23zm0 26zm0 4zm1-183zm0 44zm0 120zm0 12zm0 4zm2-109zm0 34zm0 2zm0 14zm0 2zm0 12zm0 40zm1-200zm0 132zm0 26zm0 21zm0 12zm3-122zm0 92zm0 2zm0 17zm1-123zm0 0zm0 62zm0 2zm0 25zm0 19zm0 1zm0 12zm3-86zm0 49zm0 8zm0 27zm0 11zm0 14zm3-44zm0 2zm0 1zm0 10zm0 39zm3-144zm0 87zm0 13zm0 7zm0 16zm0 1zm0 9zm0 2zm1-112zm0 73zm0 26zm0 5zm3-123zm0 17zm0 82zm0 9zm0 15zm0 2zm1-225zm0 185zm0 1zm0 25zm0 17zm2-259zm0 187zm0 70zm0 14zm3-141zm0 24zm0 52zm0 2zm0 3zm0 19zm1-3zm5-140zm0 77zm0 40zm0 38zm0 2zm0 22zm1-59zm0 40zm5-320zm0 277zm1-28zm0 40zm0 1zm0 2zm0 14zm0 13zm0 9zm0 5zm2-128zm1 25zm0 42zm0 2zm0 36zm0 9zm0 9zm0 11zm0 2zm2-47zm0 10zm0 21zm0 0zm3-91zm0 64zm2-54zm2-141zm0 218zm0 11zm1-28zm4-61zm0 13zm0 39zm0 4zm0 12zm0 1zm0 18zm3-62zm0 12zm3-70zm0 50zm1 29zm0 11zm1-11zm0 7zm0 1zm3-104zm0 45zm0 30zm0 65zm5-47zm0 10zm0 34zm2-133zm0 16zm0 62zm0 23zm0 11zm2 19zm0 2zm2-76zm0 23zm0 39zm0 18zm1-84zm0 77zm2-49zm0 62zm3-45zm0 27zm3-28zm2 6zm0 20zm3-79zm0 55zm0 34zm0 4zm0 4zm2-93zm0 31zm7-115zm0 154zm1 5zm0 0zm0 10zm1-61zm0 58zm7-53zm0 27zm0 17zm2-43zm0 20zm0 9zm0 11zm0 15zm3-131zm0 133zm2-12zm1-17zm0 19zm0 9zm3-56zm0 42zm0 18zm2-10zm5-10zm0 3zm0 3zm0 7zm1-14zm0 18zm0 6zm2-43zm1 25zm4-16zm4-5zm0 44zm2-1zm1-23zm2-39zm1-20zm1 67zm3 2zm0 12zm2-101zm0 17zm0 72zm0 11zm1-41zm3 6zm2 17zm2-23zm0 3zm0 18zm0 14zm0 3zm1-29zm0 3zm2-22zm5 5zm0 13zm0 14zm3-51zm0 54zm11 8zm10-23zm5 11zm2 23zm10-44zm0 16zm5-22zm10 24z" stroke="#128c84"/><path d="M197 264zm0 157zm0 91zm0 120zm0 3zm0 0zm0 74zm0 40zm0 1zm0 9zm0 6zm0 6zm0 10zm0 10zm0 2zm0 19zm0 6zm0 0zm0 2zm0 6zm0 9zm0 1zm0 2zm0 7zm0 0zm0 1zm0 2zm0 4zm0 4zm0 2zm0 4zm0 3zm0 2zm0 3zm0 7zm0 10zm0 0zm0 2zm0 7zm7-641zm0 33zm0 128zm0 168zm0 79zm0 19zm0 28zm0 1zm0 11zm0 43zm0 6zm0 15zm0 19zm0 8zm0 14zm0 4zm0 3zm0 14zm0 5zm0 17zm0 1zm0 7zm0 0zm0 0zm0 11zm0 11zm11-395zm0 102zm0 38zm0 13zm0 16zm0 4zm0 31zm0 47zm0 31zm0 0zm0 3zm0 1zm0 3zm0 18zm0 1zm0 3zm0 1zm0 4zm0 0zm0 20zm0 10zm0 2zm0 0zm0 1zm0 6zm0 0zm0 3zm0 0zm0 13zm0 12zm0 12zm0 1zm4-588zm0 142zm0 57zm0 56zm0 27zm0 48zm0 30zm0 12zm0 22zm0 13zm0 27zm0 0zm0 20zm0 10zm0 4zm0 14zm0 7zm0 1zm0 27zm0 3zm0 12zm0 2zm0 14zm0 3zm0 5zm0 8zm0 1zm0 3zm0 3zm0 1zm0 6zm0 1zm10-666zm0 274zm0 6zm0 140zm0 2zm0 51zm0 20zm0 12zm0 4zm0 8zm0 26zm0 10zm0 1zm0 37zm0 1zm0 3zm0 2zm0 1zm0 4zm0 2zm0 3zm0 1zm0 2zm0 6zm0 5zm0 1zm0 0zm0 6zm0 9zm0 25zm0 1zm3-674zm0 20zm0 228zm0 161zm0 79zm0 31zm0 3zm0 20zm0 1zm0 28zm0 1zm0 7zm0 5zm0 7zm0 3zm0 0zm0 16zm0 4zm0 2zm0 11zm0 2zm0 2zm0 1zm0 4zm0 10zm0 2zm0 2zm0 1zm0 2zm0 1zm0 3zm0 5zm0 2zm0 2zm0 5zm3-403zm0 69zm0 70zm0 41zm0 19zm0 27zm0 5zm0 40zm0 4zm0 10zm0 16zm0 14zm0 2zm0 12zm0 2zm0 14zm0 3zm0 2zm0 2zm0 2zm0 1zm0 3zm0 7zm0 15zm0 4zm0 1zm0 4zm0 2zm0 2zm0 2zm0 3zm0 2zm0 12zm0 2zm0 2zm8-602zm0 280zm0 119zm0 46zm0 19zm0 19zm0 8zm0 13zm0 16zm0 11zm0 1zm0 11zm0 3zm0 17zm0 5zm0 1zm0 6zm0 1zm0 14zm0 8zm0 1zm7-277zm0 22zm0 15zm0 6zm0 13zm0 3zm0 12zm0 27zm0 15zm0 42zm0 3zm0 6zm0 2zm0 9zm0 12zm0 2zm0 22zm0 2zm0 42zm0 3zm0 1zm0 13zm3-702zm0 333zm0 73zm0 85zm0 52zm0 6zm0 0zm0 24zm0 2zm0 7zm0 26zm0 9zm0 4zm0 4zm0 4zm0 1zm0 17zm0 2zm0 4zm0 17zm0 10zm0 2zm0 2zm0 25zm2-220zm0 14zm0 25zm0 42zm0 3zm0 8zm0 8zm0 6zm0 14zm0 12zm0 7zm0 13zm0 10zm0 9zm0 2zm0 8zm0 5zm0 12zm0 0zm0 10zm4-292zm0 80zm0 32zm0 3zm0 13zm0 8zm0 0zm0 8zm0 28zm0 23zm0 15zm0 6zm0 25zm0 3zm0 6zm0 1zm0 2zm0 6zm0 3zm0 4zm0 12zm0 3zm0 5zm0 1zm0 8zm0 3zm9-464zm0 155zm0 23zm0 56zm0 14zm0 28zm0 4zm0 17zm0 8zm0 12zm0 24zm0 2zm0 35zm0 6zm0 4zm0 8zm0 8zm0 3zm0 24zm0 9zm0 1zm0 3zm0 8zm2-339zm0 151zm0 54zm0 6zm0 10zm0 26zm0 17zm0 4zm0 28zm0 4zm0 11zm0 6zm0 10zm0 2zm0 25zm0 8zm5-161zm0 5zm0 8zm0 2zm0 9zm0 36zm0 6zm0 7zm0 20zm0 2zm0 11zm0 9zm0 4zm0 25zm0 4zm0 2zm0 6zm5-320zm0 74zm0 23zm0 2zm0 76zm0 24zm0 17zm0 1zm0 32zm0 3zm0 17zm0 5zm0 9zm0 1zm0 2zm0 9zm0 4zm0 10zm3-223zm0 47zm0 12zm0 7zm0 17zm0 27zm0 7zm0 13zm0 13zm0 28zm0 9zm0 17zm0 3zm0 21zm0 1zm0 12zm3-421zm0 307zm0 25zm0 7zm0 5zm0 22zm0 4zm0 17zm0 3zm0 1zm0 5zm0 8zm2-153zm0 13zm0 25zm0 19zm0 2zm0 2zm0 2zm0 10zm0 11zm0 1zm0 7zm0 22zm0 4zm0 3zm0 1zm0 5zm0 6zm0 17zm0 6zm0 3zm0 4zm0 7zm4-189zm0 0zm0 14zm0 16zm0 10zm0 14zm0 7zm0 24zm0 11zm0 24zm0 24zm0 7zm0 5zm0 10zm0 3zm0 4zm0 2zm0 2zm0 8zm1-291zm0 114zm0 0zm0 0zm0 68zm0 26zm0 17zm0 14zm0 1zm0 7zm0 15zm0 3zm0 5zm0 1zm0 1zm0 12zm6-250zm0 73zm0 87zm0 0zm0 2zm0 2zm0 2zm0 2zm0 6zm0 14zm0 22zm0 3zm0 0zm0 12zm0 10zm0 4zm0 5zm0 4zm0 3zm0 5zm0 6zm5-198zm0 2zm0 5zm0 22zm0 13zm0 15zm0 48zm0 6zm0 3zm0 23zm0 7zm0 24zm0 3zm0 4zm0 0zm0 15zm0 3zm0 2zm1-111zm0 36zm0 4zm0 1zm0 0zm0 8zm0 2zm0 2zm0 1zm0 12zm0 16zm0 10zm0 16zm0 9zm3-167zm0 56zm0 5zm0 32zm0 12zm0 30zm0 4zm0 6zm0 1zm0 2zm0 0zm0 1zm0 2zm0 4zm1-147zm0 10zm0 26zm0 6zm0 15zm0 4zm0 8zm0 24zm0 0zm0 6zm0 1zm0 3zm0 4zm0 11zm0 3zm0 2zm6-243zm0 1zm0 72zm0 147zm0 6zm0 37zm0 15zm4-287zm0 114zm0 68zm0 24zm0 3zm0 1zm0 25zm0 3zm0 0zm0 5zm0 6zm0 7zm0 6zm0 22zm3-164zm0 23zm0 70zm0 13zm0 11zm0 15zm0 20zm1-117zm0 18zm0 16zm0 21zm0 2zm0 15zm0 4zm0 8zm0 25zm0 6zm0 5zm4-254zm0 125zm0 4zm0 26zm0 26zm0 3zm0 6zm0 4zm0 4zm0 14zm0 4zm0 4zm0 4zm0 6zm0 10zm0 5zm0 1zm4-186zm0 130zm0 6zm0 4zm0 5zm0 17zm0 34zm1-104zm0 3zm0 29zm0 27zm0 2zm0 10zm0 2zm0 13zm0 6zm0 11zm0 9zm1-257zm0 102zm0 26zm0 17zm0 0zm0 11zm0 12zm0 1zm0 11zm0 8zm0 6zm0 5zm0 15zm0 8zm0 13zm0 1zm0 7zm6-221zm0 39zm0 65zm0 41zm0 19zm0 8zm0 3zm0 2zm0 5zm0 37zm0 10zm1-287zm0 164zm0 19zm0 20zm0 82zm0 1zm0 0zm1-120zm0 5zm0 19zm0 26zm0 36zm0 20zm0 9zm0 3zm0 6zm0 3zm0 3zm3-135zm0 22zm0 40zm0 11zm0 6zm0 3zm0 23zm0 9zm0 3zm0 8zm4-137zm0 71zm0 13zm0 2zm0 19zm0 19zm0 6zm0 4zm1-108zm0 5zm0 14zm0 31zm0 17zm0 28zm0 0zm6-157zm0 70zm0 5zm0 18zm0 34zm0 26zm0 8zm0 6zm1-101zm0 42zm0 18zm0 26zm0 5zm2-105zm0 11zm0 36zm0 14zm0 10zm0 18zm0 7zm1-6zm0 15zm0 8zm0 1zm0 9zm0 5zm3-106zm0 57zm0 5zm0 14zm0 2zm0 2zm0 4zm0 4zm0 2zm0 5zm1-47zm0 21zm0 3zm0 16zm0 5zm0 0zm0 1zm3-104zm0 12zm0 1zm0 6zm0 3zm0 71zm3-387zm0 239zm0 98zm0 2zm0 9zm0 4zm0 2zm0 13zm0 4zm0 2zm3-24zm0 30zm0 2zm0 8zm0 9zm0 3zm1-119zm0 39zm0 19zm0 2zm0 9zm0 4zm0 3zm0 12zm0 0zm0 14zm0 13zm0 13zm3-158zm0 78zm0 7zm0 6zm0 8zm0 23zm0 8zm0 4zm1-98zm0 45zm0 38zm0 10zm0 20zm0 7zm2-125zm0 20zm0 2zm0 95zm3-66zm0 24zm0 5zm0 15zm0 3zm0 6zm0 3zm0 6zm1-98zm0 66zm0 13zm0 7zm0 10zm5-107zm0 33zm0 20zm0 18zm0 9zm0 19zm0 10zm0 9zm0 5zm1-94zm0 36zm0 21zm0 4zm0 2zm0 5zm0 7zm0 23zm5-118zm0 1zm0 55zm0 17zm0 5zm1-81zm0 25zm0 42zm0 14zm0 0zm0 8zm0 5zm0 2zm0 0zm0 15zm2-241zm0 170zm0 43zm0 11zm0 15zm1-75zm0 17zm0 17zm0 11zm0 17zm2-163zm0 154zm0 2zm3-58zm0 3zm0 22zm0 1zm0 4zm0 18zm0 29zm0 4zm2-50zm0 1zm0 4zm0 17zm0 0zm0 2zm0 12zm0 5zm2-89zm0 18zm1-1zm0 81zm4-137zm0 33zm0 69zm0 6zm0 6zm0 0zm0 6zm0 12zm0 7zm0 2zm3-46zm0 14zm0 16zm3-107zm0 111zm0 1zm1-44zm0 27zm0 3zm0 7zm1-88zm0 16zm0 77zm0 4zm3-172zm0 107zm0 57zm0 12zm5-195zm0 103zm0 45zm0 5zm0 21zm2-44zm0 11zm0 21zm0 17zm0 16zm4-111zm0 32zm0 26zm0 29zm0 9zm0 11zm1-70zm0 46zm0 25zm0 6zm2-92zm0 61zm0 8zm0 7zm3-59zm0 10zm0 60zm0 1zm0 2zm3-12zm0 0zm2-157zm0 101zm0 53zm3-34zm0 47zm2-46zm0 14zm0 25zm0 17zm2-89zm0 9zm0 29zm0 41zm0 8zm1-176zm0 130zm0 19zm0 12zm4-61zm0 12zm0 33zm0 6zm0 12zm0 14zm1-114zm0 55zm0 5zm1 10zm0 12zm0 15zm0 8zm0 9zm3-23zm0 6zm0 1zm0 1zm0 3zm0 6zm4-45zm0 14zm0 2zm0 15zm2-259zm0 173zm3 27zm0 75zm2-61zm0 21zm0 11zm0 16zm1-60zm0 7zm0 10zm3 39zm0 16zm0 2zm2-45zm0 29zm0 3zm4-79zm0 77zm0 19zm1-28zm0 17zm0 5zm1-25zm0 1zm0 16zm1-6zm0 18zm1-45zm0 32zm0 8zm5-103zm0 82zm4-7zm0 17zm3-16zm0 28zm0 1zm2-103zm0 99zm1-25zm0 26zm1-34zm3-3zm2 14zm4 6zm0 0zm4 2zm3-52zm0 56zm1-14zm1-110zm2 94zm0 37zm1-46zm0 33zm0 7zm1-86zm0 14zm0 71zm0 7zm6-17zm0 7zm1-45zm0 46zm0 17zm4-58zm0 61zm1-120zm0 83zm0 27zm0 4zm0 9zm1-67zm0 64zm1-14zm2-31zm1 33zm2-13zm4-36zm0 26zm0 14zm0 5zm4-14zm0 12zm0 9zm3-15zm1 19zm6-8zm2 12zm3-3zm5-68zm16 29zm0 35zm11-6zm6-3z" stroke="#1f9484"/><path d="M197 456zm0 84zm0 48zm0 111zm0 31zm0 7zm0 8zm0 4zm0 31zm0 2zm0 16zm0 1zm0 2zm0 5zm0 0zm0 5zm0 6zm0 8zm0 3zm0 6zm0 1zm0 5zm0 3zm0 1zm0 2zm0 1zm0 6zm0 2zm0 1zm0 3zm0 3zm0 3zm0 1zm0 3zm0 2zm0 1zm0 10zm0 3zm0 3zm0 5zm0 4zm0 0zm7-352zm0 100zm0 32zm0 22zm0 28zm0 4zm0 12zm0 27zm0 19zm0 4zm0 3zm0 3zm0 11zm0 0zm0 11zm0 0zm0 5zm0 23zm0 3zm0 9zm0 19zm0 8zm0 3zm0 1zm0 1zm0 0zm0 2zm0 5zm0 2zm11-276zm0 66zm0 24zm0 22zm0 25zm0 8zm0 4zm0 1zm0 8zm0 10zm0 4zm0 16zm0 17zm0 4zm0 6zm0 2zm0 7zm0 7zm0 1zm0 5zm0 2zm0 10zm0 11zm0 4zm0 1zm0 1zm0 4zm0 3zm4-675zm0 182zm0 108zm0 66zm0 20zm0 77zm0 51zm0 9zm0 12zm0 6zm0 21zm0 3zm0 0zm0 3zm0 5zm0 20zm0 1zm0 11zm0 3zm0 6zm0 4zm0 4zm0 1zm0 3zm0 0zm0 11zm0 1zm0 7zm0 3zm0 3zm0 1zm0 3zm0 4zm0 1zm0 6zm0 0zm0 1zm0 0zm0 5zm0 0zm0 8zm0 2zm0 4zm10-386zm0 48zm0 68zm0 68zm0 8zm0 59zm0 2zm0 0zm0 3zm0 27zm0 0zm0 0zm0 1zm0 9zm0 5zm0 6zm0 2zm0 7zm0 3zm0 5zm0 2zm0 1zm0 7zm0 0zm0 13zm0 13zm0 6zm0 6zm0 17zm3-312zm0 40zm0 66zm0 38zm0 8zm0 40zm0 11zm0 1zm0 20zm0 4zm0 5zm0 1zm0 3zm0 9zm0 1zm0 0zm0 2zm0 6zm0 3zm0 0zm0 4zm0 2zm0 1zm0 1zm0 4zm0 3zm0 9zm0 18zm0 4zm0 1zm0 3zm3-306zm0 43zm0 6zm0 54zm0 34zm0 15zm0 20zm0 13zm0 4zm0 5zm0 2zm0 1zm0 28zm0 1zm0 6zm0 10zm0 1zm0 4zm0 2zm0 2zm0 1zm0 1zm0 24zm0 1zm0 1zm0 4zm0 6zm0 1zm0 3zm0 2zm0 16zm0 1zm8-723zm0 219zm0 140zm0 120zm0 72zm0 10zm0 5zm0 10zm0 33zm0 2zm0 35zm0 18zm0 1zm0 1zm0 1zm0 9zm0 6zm0 2zm0 1zm0 6zm0 3zm0 3zm0 0zm0 4zm0 5zm0 9zm7-362zm0 80zm0 3zm0 126zm0 2zm0 8zm0 38zm0 6zm0 5zm0 2zm0 6zm0 1zm0 2zm0 1zm0 20zm0 4zm0 4zm0 6zm0 6zm0 4zm0 8zm0 1zm0 14zm0 2zm0 7zm0 11zm3-187zm0 10zm0 62zm0 2zm0 22zm0 23zm0 6zm0 4zm0 13zm0 12zm0 2zm0 18zm0 5zm0 2zm2-238zm0 10zm0 58zm0 27zm0 4zm0 20zm0 26zm0 0zm0 19zm0 8zm0 1zm0 3zm0 3zm0 2zm0 4zm0 0zm0 0zm0 7zm0 12zm0 1zm0 2zm0 8zm0 3zm0 9zm0 0zm0 2zm0 5zm0 2zm0 3zm0 1zm0 1zm0 6zm4-236zm0 17zm0 60zm0 31zm0 30zm0 26zm0 7zm0 11zm0 8zm0 5zm0 15zm0 6zm0 2zm0 9zm0 4zm0 7zm9-194zm0 38zm0 29zm0 41zm0 6zm0 10zm0 10zm0 6zm0 3zm0 1zm0 20zm0 0zm0 12zm0 1zm0 10zm2-124zm0 4zm0 2zm0 13zm0 14zm0 44zm0 0zm0 4zm0 1zm0 3zm0 23zm0 3zm0 1zm0 1zm0 0zm0 2zm0 4zm0 5zm5-216zm0 49zm0 7zm0 1zm0 34zm0 7zm0 6zm0 2zm0 8zm0 14zm0 20zm0 0zm0 9zm0 15zm0 6zm0 12zm0 3zm0 0zm0 26zm5-588zm0 360zm0 96zm0 5zm0 19zm0 40zm0 10zm0 0zm0 2zm0 0zm0 4zm0 1zm0 16zm0 3zm0 3zm0 1zm0 2zm0 5zm0 1zm0 6zm0 1zm0 13zm0 2zm3-218zm0 48zm0 16zm0 15zm0 6zm0 21zm0 5zm0 17zm0 10zm0 2zm0 1zm0 3zm0 8zm0 1zm0 3zm0 7zm0 6zm0 2zm0 6zm0 1zm0 0zm0 4zm0 0zm0 5zm0 4zm0 1zm0 12zm0 5zm0 0zm0 4zm3-219zm0 7zm0 26zm0 11zm0 2zm0 31zm0 13zm0 6zm0 7zm0 35zm0 1zm0 9zm0 1zm0 3zm0 6zm0 5zm0 13zm0 4zm0 18zm0 0zm0 1zm0 0zm0 1zm0 3zm0 6zm0 1zm0 7zm0 1zm0 0zm2-162zm0 22zm0 3zm0 32zm0 9zm0 1zm0 36zm0 2zm0 14zm0 3zm0 7zm0 4zm0 1zm0 6zm0 2zm0 8zm0 3zm0 1zm0 2zm0 0zm0 8zm0 2zm4-479zm0 287zm0 81zm0 21zm0 14zm0 15zm0 29zm0 5zm0 3zm0 0zm0 1zm0 0zm0 2zm0 3zm0 4zm0 3zm0 10zm1-198zm0 76zm0 6zm0 20zm0 19zm0 2zm0 4zm0 16zm0 7zm0 3zm0 13zm0 5zm0 7zm0 9zm0 12zm0 1zm0 1zm6-512zm0 386zm0 31zm0 2zm0 6zm0 0zm0 9zm0 23zm0 2zm0 0zm0 10zm0 13zm0 4zm0 4zm0 0zm0 2zm0 1zm0 4zm0 0zm0 12zm0 0zm0 2zm5-322zm0 236zm0 4zm0 11zm0 7zm0 21zm0 5zm0 0zm0 8zm0 7zm0 9zm0 0zm0 10zm1-197zm0 89zm0 9zm0 25zm0 5zm0 25zm0 2zm0 10zm0 16zm0 15zm3-195zm0 70zm0 15zm0 6zm0 3zm0 37zm0 20zm0 12zm0 2zm0 6zm0 1zm0 5zm0 6zm0 6zm0 1zm0 0zm0 6zm0 2zm1-185zm0 43zm0 13zm0 19zm0 32zm0 8zm0 13zm0 2zm0 9zm0 12zm0 7zm0 4zm0 0zm0 0zm0 0zm0 2zm0 8zm0 8zm0 3zm6-98zm0 3zm0 15zm0 6zm0 1zm0 15zm0 6zm0 7zm0 15zm0 3zm0 8zm0 0zm0 2zm0 8zm0 4zm0 8zm0 2zm0 0zm4-333zm0 40zm0 165zm0 21zm0 8zm0 6zm0 33zm0 7zm0 2zm0 1zm0 11zm0 13zm0 7zm3-118zm0 31zm0 8zm0 14zm0 29zm0 12zm0 4zm0 4zm0 19zm0 8zm0 2zm1-156zm0 2zm0 1zm0 8zm0 18zm0 9zm0 4zm0 27zm0 7zm0 2zm0 4zm0 10zm0 9zm0 23zm0 0zm0 4zm0 5zm0 1zm0 9zm0 3zm0 1zm0 5zm0 6zm0 2zm4-118zm0 14zm0 3zm0 7zm0 14zm0 29zm0 13zm0 0zm0 5zm0 10zm0 1zm0 1zm0 8zm0 7zm0 6zm4-283zm0 174zm0 17zm0 30zm0 0zm0 12zm0 1zm0 14zm0 2zm0 4zm0 4zm0 6zm0 2zm0 2zm0 4zm1-186zm0 44zm0 5zm0 15zm0 58zm0 5zm0 1zm0 5zm0 5zm0 8zm0 18zm0 2zm0 6zm0 2zm0 1zm0 5zm0 8zm0 3zm0 0zm1-137zm0 49zm0 34zm0 12zm0 0zm0 2zm0 1zm0 3zm0 2zm0 1zm6-79zm0 0zm0 16zm0 46zm0 0zm0 7zm0 11zm0 2zm0 1zm0 18zm1-57zm0 3zm0 1zm0 19zm0 14zm0 17zm0 1zm0 17zm0 3zm1-183zm0 92zm0 1zm0 6zm0 10zm0 3zm0 29zm0 8zm0 3zm0 8zm3-272zm0 152zm0 31zm0 19zm0 16zm0 38zm0 8zm0 6zm4-111zm0 11zm0 35zm0 7zm0 22zm0 20zm0 2zm0 20zm0 2zm0 3zm0 8zm1-120zm0 9zm0 3zm0 47zm0 8zm0 10zm0 8zm0 0zm0 12zm0 2zm0 5zm0 0zm0 0zm0 2zm0 8zm0 2zm0 2zm0 2zm0 8zm6-123zm0 22zm0 42zm0 1zm0 21zm0 7zm0 15zm0 6zm1-86zm0 15zm0 21zm0 23zm0 4zm0 8zm0 9zm0 1zm0 1zm0 1zm0 12zm2-240zm0 44zm0 144zm0 11zm0 1zm0 12zm0 8zm0 0zm0 2zm0 7zm0 4zm0 7zm0 1zm1-72zm0 9zm0 2zm0 10zm0 1zm0 9zm0 7zm0 8zm0 5zm3-55zm0 0zm0 13zm0 11zm0 1zm0 11zm0 3zm0 0zm0 1zm0 13zm0 14zm0 7zm1-108zm0 54zm0 16zm0 10zm0 11zm0 5zm0 14zm3-95zm0 2zm0 3zm0 19zm0 32zm0 20zm0 7zm0 1zm0 1zm3-132zm0 41zm0 13zm0 4zm0 21zm0 3zm0 3zm0 33zm0 2zm0 16zm3-62zm0 41zm0 6zm0 1zm0 1zm0 10zm0 5zm1-116zm0 59zm0 15zm0 25zm0 2zm0 16zm0 2zm3-71zm0 28zm0 1zm0 18zm0 2zm0 8zm0 9zm1-67zm0 13zm0 12zm0 23zm2-110zm0 68zm0 25zm0 16zm0 4zm0 3zm3-207zm0 133zm0 51zm0 6zm0 5zm0 6zm0 8zm0 2zm0 7zm1-266zm0 194zm0 36zm0 3zm0 0zm0 9zm0 6zm0 13zm5 8zm1-73zm0 5zm0 15zm0 20zm0 6zm0 15zm0 13zm5-83zm0 4zm1-45zm0 44zm0 5zm0 15zm0 15zm0 1zm0 6zm0 3zm0 5zm0 0zm0 4zm0 0zm0 5zm0 1zm0 2zm0 0zm0 2zm0 2zm0 8zm0 8zm0 0zm2-126zm0 45zm0 3zm0 40zm0 16zm0 10zm0 4zm0 7zm1-131zm0 60zm0 7zm0 6zm0 5zm0 30zm0 10zm0 6zm2-67zm0 16zm0 6zm0 4zm0 7zm0 10zm0 8zm0 14zm0 0zm0 5zm0 4zm3-124zm0 13zm0 17zm0 1zm0 6zm0 46zm0 43zm2-132zm0 91zm0 5zm0 8zm0 16zm0 1zm2-117zm0 41zm0 15zm0 31zm0 15zm0 19zm1-116zm0 24zm0 17zm0 12zm0 5zm0 14zm0 1zm0 6zm0 2zm0 1zm0 42zm4-147zm0 34zm0 18zm0 41zm0 13zm0 1zm0 11zm0 4zm0 7zm0 2zm0 1zm0 0zm0 3zm0 2zm3-75zm0 5zm3-56zm0 51zm0 18zm0 49zm0 5zm1-17zm0 0zm0 5zm0 1zm0 4zm0 9zm0 3zm1-128zm0 103zm0 6zm0 14zm0 9zm0 1zm0 1zm3-116zm0 8zm0 42zm0 17zm0 17zm0 13zm0 1zm0 5zm5-182zm0 117zm0 7zm0 8zm0 11zm0 0zm0 11zm0 3zm0 8zm0 0zm0 1zm0 3zm0 1zm0 2zm0 7zm0 17zm2-182zm0 73zm0 39zm0 28zm0 3zm0 1zm0 1zm0 3zm0 4zm0 3zm0 14zm0 5zm2-12zm2-45zm0 34zm0 1zm0 21zm0 9zm1-25zm0 11zm2-61zm0 14zm0 33zm3-27zm0 1zm0 46zm3-65zm0 18zm0 15zm0 4zm0 13zm0 1zm0 13zm2-74zm0 10zm0 16zm0 9zm0 34zm3-57zm0 2zm0 17zm0 4zm0 5zm0 9zm0 28zm2-26zm0 1zm0 1zm0 2zm2-40zm0 22zm0 11zm0 0zm0 9zm0 2zm0 1zm0 7zm0 8zm0 2zm0 3zm1-38zm0 23zm4-111zm0 32zm0 82zm0 5zm1-37zm0 17zm1-1zm0 2zm0 5zm0 15zm0 0zm0 7zm3-33zm0 16zm0 11zm4-85zm0 57zm0 5zm0 12zm0 16zm0 3zm2-67zm0 3zm0 22zm0 15zm0 7zm0 4zm0 3zm0 2zm0 1zm0 4zm3-20zm2 18zm1-81zm0 40zm0 18zm0 8zm0 10zm0 6zm3-35zm2-18zm0 8zm0 17zm4 25zm0 0zm0 5zm0 2zm1-63zm1 7zm0 35zm0 7zm0 7zm1-81zm0 59zm0 28zm1-7zm1-17zm0 8zm4-74zm0 44zm0 30zm0 6zm0 6zm0 4zm4-61zm0 13zm0 15zm2 15zm0 6zm0 1zm0 2zm1 6zm0 4zm2-44zm0 22zm0 20zm1-78zm0 72zm1-36zm0 45zm0 2zm3-57zm0 41zm2-38zm0 24zm0 10zm0 1zm0 2zm0 5zm1-48zm0 55zm3-24zm2-5zm0 12zm0 9zm3-15zm0 8zm2 18zm1-50zm0 23zm0 20zm3-24zm1-5zm0 20zm3-10zm4-9zm0 23zm1-37zm0 28zm0 10zm0 1zm2-2zm0 7zm1-20zm1-3zm2-29zm0 29zm0 21zm1-12zm0 5zm0 6zm0 5zm2-7zm1-20zm2 11zm3-46zm0 8zm0 57zm1-9zm4-2zm1 12zm2-36zm0 38zm1-39zm3-32zm1 60zm2 4zm2-11zm8-18zm11 10zm2 7zm20-8zm4 16zm3-102zm0 79zm11 27zm5-24zm2 6zm5-9zm0 25zm1 6zm2-8z" stroke="#47a88a"/><path d="M197 429zm0 215zm0 58zm0 4zm0 13zm0 5zm0 26zm0 38zm0 17zm0 3zm0 1zm0 2zm0 6zm0 1zm0 5zm0 7zm0 7zm0 2zm0 10zm0 5zm0 1zm0 4zm0 4zm0 3zm0 6zm0 1zm0 0zm0 2zm0 0zm0 1zm0 0zm0 8zm0 2zm0 5zm0 0zm7-469zm0 316zm0 36zm0 10zm0 41zm0 5zm0 1zm0 2zm0 7zm0 14zm0 4zm0 6zm0 0zm0 1zm0 5zm0 1zm0 1zm0 1zm0 1zm0 1zm0 0zm0 3zm0 2zm0 3zm0 1zm0 7zm0 0zm0 2zm0 7zm11-350zm0 17zm0 65zm0 4zm0 39zm0 15zm0 28zm0 30zm0 11zm0 21zm0 9zm0 15zm0 8zm0 14zm0 13zm0 3zm0 7zm0 0zm0 5zm0 0zm0 6zm0 1zm0 2zm0 0zm0 2zm0 2zm0 4zm0 6zm0 1zm0 7zm0 4zm0 5zm4-415zm0 50zm0 98zm0 59zm0 28zm0 10zm0 20zm0 1zm0 7zm0 5zm0 24zm0 20zm0 8zm0 7zm0 5zm0 6zm0 0zm0 11zm0 1zm0 4zm0 1zm0 5zm0 1zm0 9zm0 6zm0 3zm0 2zm0 4zm0 0zm0 1zm0 0zm0 6zm0 1zm0 10zm0 1zm0 5zm0 0zm10-192zm0 4zm0 18zm0 30zm0 24zm0 21zm0 6zm0 4zm0 2zm0 4zm0 1zm0 3zm0 0zm0 2zm0 8zm0 1zm0 13zm0 3zm0 3zm0 0zm0 2zm0 0zm0 1zm0 4zm0 1zm0 5zm0 10zm0 4zm0 1zm0 5zm0 2zm0 2zm0 0zm0 3zm0 7zm3-466zm0 258zm0 38zm0 11zm0 31zm0 13zm0 24zm0 1zm0 5zm0 6zm0 16zm0 3zm0 12zm0 3zm0 7zm0 4zm0 1zm0 2zm0 4zm0 15zm0 1zm0 1zm0 0zm0 6zm0 6zm0 0zm3-147zm0 5zm0 26zm0 2zm0 11zm0 3zm0 28zm0 4zm0 3zm0 1zm0 0zm0 3zm0 1zm0 13zm0 5zm0 4zm0 1zm0 8zm0 1zm0 3zm0 3zm0 8zm0 1zm0 2zm0 1zm8-445zm0 244zm0 28zm0 27zm0 27zm0 7zm0 3zm0 15zm0 5zm0 1zm0 7zm0 9zm0 1zm0 0zm0 2zm0 18zm0 1zm0 19zm0 11zm0 0zm0 3zm0 7zm0 0zm0 4zm0 2zm0 6zm0 2zm7-356zm0 170zm0 17zm0 13zm0 4zm0 52zm0 10zm0 5zm0 6zm0 5zm0 1zm0 7zm0 1zm0 1zm0 1zm0 0zm0 22zm0 6zm0 1zm0 1zm0 4zm0 7zm0 4zm0 4zm0 0zm0 15zm0 0zm0 1zm0 4zm3-209zm0 55zm0 28zm0 6zm0 12zm0 19zm0 7zm0 8zm0 7zm0 6zm0 17zm0 3zm0 1zm0 3zm0 1zm0 6zm0 8zm0 0zm0 2zm0 3zm0 0zm0 0zm0 7zm0 9zm0 1zm2-220zm0 90zm0 9zm0 0zm0 23zm0 5zm0 14zm0 8zm0 5zm0 19zm0 1zm0 2zm0 5zm0 3zm0 2zm0 4zm0 1zm0 5zm0 5zm0 1zm0 6zm0 3zm0 1zm0 6zm4-603zm0 342zm0 107zm0 36zm0 3zm0 26zm0 49zm0 8zm0 5zm0 4zm0 9zm0 2zm0 12zm0 3zm9-189zm0 34zm0 72zm0 1zm0 3zm0 7zm0 1zm0 10zm0 2zm0 3zm0 5zm0 0zm0 8zm0 9zm0 4zm0 7zm0 0zm0 2zm0 2zm0 1zm0 6zm0 5zm2-139zm0 19zm0 17zm0 42zm0 2zm0 3zm0 18zm0 1zm0 2zm0 1zm0 5zm0 4zm0 8zm0 10zm5-235zm0 88zm0 18zm0 32zm0 4zm0 17zm0 5zm0 29zm0 3zm0 9zm0 3zm0 9zm0 3zm0 3zm0 1zm0 3zm0 3zm0 7zm0 5zm0 7zm5-257zm0 106zm0 61zm0 22zm0 1zm0 6zm0 14zm0 3zm0 14zm0 1zm0 10zm0 11zm0 3zm0 1zm0 2zm0 0zm3-204zm0 127zm0 7zm0 5zm0 19zm0 1zm0 3zm0 5zm0 3zm0 4zm0 2zm0 6zm0 3zm0 8zm0 4zm0 1zm0 8zm3-396zm0 254zm0 18zm0 10zm0 31zm0 9zm0 1zm0 23zm0 4zm0 2zm0 17zm0 10zm0 0zm0 5zm0 1zm0 2zm0 4zm2-613zm0 315zm0 136zm0 12zm0 33zm0 53zm0 1zm0 17zm0 2zm0 1zm0 5zm0 0zm0 0zm0 2zm0 1zm0 3zm0 4zm0 6zm0 20zm0 7zm4-377zm0 194zm0 69zm0 27zm0 18zm0 12zm0 4zm0 0zm0 3zm0 4zm0 7zm0 12zm0 2zm0 0zm0 8zm0 9zm0 2zm0 0zm1-208zm0 24zm0 38zm0 5zm0 12zm0 26zm0 10zm0 9zm0 1zm0 10zm0 0zm0 10zm0 4zm0 0zm0 1zm0 8zm0 3zm0 10zm0 5zm0 1zm0 2zm0 7zm0 6zm0 3zm0 0zm0 7zm0 1zm6-470zm0 217zm0 58zm0 49zm0 17zm0 34zm0 19zm0 7zm0 1zm0 8zm0 4zm0 8zm0 2zm0 10zm0 4zm0 4zm0 10zm0 2zm0 0zm0 0zm0 5zm0 0zm0 6zm0 6zm0 2zm0 0zm0 2zm0 1zm0 0zm5-87zm0 28zm0 9zm0 22zm0 5zm0 18zm0 4zm0 1zm0 2zm0 2zm1-112zm0 9zm0 61zm0 0zm0 0zm0 7zm0 0zm0 10zm0 5zm0 6zm0 7zm3-148zm0 41zm0 21zm0 12zm0 9zm0 13zm0 14zm0 0zm0 11zm0 3zm0 4zm0 0zm0 0zm0 4zm0 1zm0 9zm0 1zm0 4zm0 2zm0 8zm1-247zm0 98zm0 57zm0 2zm0 3zm0 12zm0 15zm0 7zm0 7zm0 7zm0 18zm0 1zm0 0zm0 4zm0 5zm0 4zm0 0zm0 4zm0 2zm6-136zm0 28zm0 10zm0 3zm0 11zm0 31zm0 5zm0 2zm0 7zm0 12zm0 2zm0 9zm0 16zm4-127zm0 1zm0 41zm0 10zm0 5zm0 19zm0 0zm0 9zm0 3zm0 7zm0 6zm0 7zm0 9zm0 7zm0 2zm3-230zm0 96zm0 40zm0 36zm0 1zm0 1zm0 5zm0 4zm0 15zm0 13zm0 2zm0 1zm0 3zm1-94zm0 18zm0 10zm0 21zm0 7zm0 9zm0 1zm0 7zm0 9zm0 4zm0 0zm0 3zm0 6zm0 2zm0 1zm0 8zm4-122zm0 29zm0 13zm0 14zm0 19zm0 4zm0 10zm0 6zm0 13zm0 1zm0 0zm0 5zm0 3zm0 1zm4-106zm0 33zm0 4zm0 5zm0 12zm0 9zm0 18zm0 1zm0 6zm0 6zm1-106zm0 31zm0 22zm0 6zm0 1zm0 1zm0 6zm0 20zm0 8zm0 0zm0 1zm0 3zm0 10zm0 3zm0 2zm1-175zm0 23zm0 52zm0 22zm0 23zm0 1zm0 4zm0 7zm0 4zm0 11zm0 0zm0 1zm0 6zm0 14zm0 1zm0 4zm0 7zm0 2zm0 2zm6-60zm0 11zm0 3zm0 2zm0 3zm0 21zm0 11zm0 6zm0 1zm0 0zm0 0zm1-102zm0 42zm0 35zm0 4zm1-82zm0 5zm0 6zm0 9zm0 20zm0 2zm0 10zm0 10zm0 1zm0 4zm0 2zm0 8zm0 18zm0 2zm0 2zm0 3zm0 3zm3-391zm0 242zm0 102zm0 3zm0 2zm0 2zm0 1zm0 12zm0 3zm0 7zm0 2zm0 16zm4-171zm0 71zm0 75zm0 0zm0 1zm0 8zm0 2zm0 8zm0 3zm0 0zm1-76zm0 15zm0 27zm0 14zm0 7zm0 1zm0 4zm0 5zm0 1zm0 0zm6-94zm0 19zm0 50zm0 4zm0 8zm0 5zm0 3zm0 2zm0 2zm0 2zm0 1zm0 0zm1-71zm0 2zm0 3zm0 18zm0 15zm0 3zm0 4zm0 13zm0 6zm0 10zm2-143zm0 28zm0 40zm0 6zm0 34zm0 5zm0 0zm0 9zm1-110zm0 60zm0 1zm0 12zm0 3zm0 12zm0 9zm0 1zm0 4zm0 2zm0 6zm0 1zm0 7zm3-69zm0 5zm0 27zm0 2zm0 10zm0 8zm0 1zm0 3zm0 3zm0 1zm0 1zm0 4zm0 1zm0 12zm1-66zm0 5zm0 7zm0 11zm0 8zm0 11zm0 4zm0 2zm0 6zm0 6zm0 1zm0 8zm3-100zm0 4zm0 28zm0 29zm0 27zm0 6zm3-83zm0 24zm0 5zm0 3zm0 3zm0 5zm0 13zm0 7zm0 5zm0 1zm0 5zm0 6zm0 8zm3-36zm0 19zm0 1zm0 6zm0 6zm1-78zm0 5zm0 0zm0 18zm0 16zm0 4zm0 6zm0 9zm0 4zm0 5zm0 4zm0 7zm0 5zm3-124zm0 58zm0 12zm0 16zm0 11zm0 1zm0 6zm0 2zm0 5zm0 1zm0 8zm0 1zm0 0zm1-85zm0 26zm0 14zm0 13zm0 2zm0 1zm0 3zm0 14zm0 0zm2-51zm0 28zm0 4zm0 14zm0 1zm0 5zm0 4zm0 8zm0 1zm3-86zm0 29zm0 10zm0 22zm0 8zm0 0zm0 3zm0 9zm0 5zm0 0zm1-52zm0 16zm0 13zm0 5zm0 9zm0 5zm0 3zm0 6zm5-113zm0 64zm0 1zm0 1zm0 38zm0 2zm0 3zm1-213zm0 94zm0 71zm0 8zm0 11zm0 9zm0 2zm0 6zm0 1zm0 4zm0 9zm0 1zm5-309zm0 236zm0 23zm0 0zm0 9zm0 4zm0 9zm0 10zm0 8zm0 5zm1-140zm0 18zm0 59zm0 8zm0 2zm0 7zm0 23zm0 2zm0 1zm0 0zm0 1zm0 0zm0 2zm0 9zm0 2zm0 2zm0 0zm0 1zm0 2zm0 1zm0 6zm2-61zm0 4zm0 20zm0 6zm0 18zm0 7zm0 1zm0 0zm0 4zm1-31zm0 13zm0 5zm0 1zm0 0zm0 5zm0 4zm0 1zm0 3zm0 1zm2-71zm0 43zm0 6zm0 6zm0 4zm0 4zm0 1zm0 6zm3-114zm0 33zm0 12zm0 10zm0 11zm0 14zm0 14zm0 12zm0 1zm2-24zm0 16zm0 7zm0 3zm0 2zm2-56zm0 19zm0 11zm0 12zm0 2zm0 14zm1-236zm0 85zm0 53zm0 51zm0 3zm0 14zm0 14zm0 6zm0 5zm0 2zm0 0zm4-54zm0 4zm0 14zm0 1zm0 11zm0 1zm0 7zm0 2zm0 1zm0 3zm0 1zm0 5zm0 1zm0 1zm0 0zm0 2zm0 1zm0 1zm0 3zm3-203zm0 132zm0 2zm0 33zm0 9zm0 16zm0 4zm0 5zm3-87zm0 24zm0 16zm0 14zm0 10zm0 6zm0 4zm0 2zm0 7zm1-48zm0 31zm0 9zm0 6zm0 4zm0 1zm0 1zm1-35zm0 9zm0 2zm3-22zm0 2zm0 16zm0 2zm0 15zm0 0zm0 11zm0 0zm5-63zm0 35zm0 1zm0 3zm0 5zm0 4zm0 2zm0 10zm0 1zm0 1zm0 3zm2-59zm0 4zm0 31zm0 3zm0 1zm0 1zm0 7zm0 1zm0 0zm0 6zm0 0zm2-17zm0 13zm0 1zm2-38zm0 19zm0 13zm0 5zm0 5zm0 2zm1-56zm0 32zm0 16zm0 6zm2-52zm0 9zm0 10zm0 5zm0 19zm3-64zm0 63zm0 2zm0 8zm3-89zm0 52zm0 33zm0 0zm0 3zm0 1zm2-28zm0 24zm3-179zm0 128zm0 23zm0 1zm0 3zm0 10zm0 10zm0 3zm0 1zm0 4zm0 1zm2-18zm0 15zm0 0zm0 3zm2-10zm0 2zm0 4zm1-12zm0 14zm4-4zm1-57zm0 61zm1-62zm0 13zm0 13zm0 8zm0 6zm0 2zm0 0zm0 7zm0 13zm0 2zm3-82zm0 22zm0 55zm4-143zm0 84zm0 2zm0 5zm0 31zm0 1zm0 16zm0 4zm0 2zm0 1zm2-7zm0 2zm0 0zm0 3zm0 5zm3-62zm0 12zm0 21zm0 5zm2 2zm0 9zm0 1zm0 11zm1-15zm0 3zm0 13zm1-16zm0 9zm0 4zm0 2zm0 2zm2-71zm0 13zm2 28zm0 11zm0 5zm4-43zm0 4zm0 19zm0 10zm0 5zm0 9zm0 2zm0 4zm1-48zm0 18zm0 4zm0 19zm0 5zm0 1zm1-25zm0 18zm0 3zm0 10zm1-34zm0 3zm0 6zm0 4zm1-57zm0 12zm0 21zm0 34zm0 1zm0 3zm1-49zm0 53zm4-30zm0 34zm4-81zm0 6zm0 22zm0 14zm0 6zm0 21zm0 6zm0 3zm2-35zm0 18zm0 9zm1-10zm2-36zm0 39zm0 2zm0 7zm1-37zm0 28zm1-14zm0 3zm3 0zm2 4zm0 2zm0 9zm0 13zm1-15zm0 2zm3-49zm0 31zm0 18zm2-50zm0 36zm2-60zm0 53zm0 8zm0 19zm0 6zm1-60zm0 52zm0 7zm2-40zm0 27zm0 1zm0 4zm0 3zm0 2zm1-59zm0 12zm0 23zm0 11zm0 10zm0 2zm0 0zm0 2zm1-33zm0 12zm0 9zm0 2zm2-31zm0 23zm0 13zm1-52zm1 42zm2-23zm0 24zm0 9zm0 6zm0 1zm4-53zm0 6zm0 25zm0 13zm1-10zm0 17zm0 1zm4-8zm0 5zm0 6zm1-29zm0 2zm0 13zm0 11zm1-25zm0 16zm0 7zm1-26zm2-2zm0 7zm1 19zm5-33zm0 7zm1 9zm4 0zm0 5zm0 0zm1-7zm0 18zm2-18zm0 22zm1-6zm6-20zm0 23zm2-9zm1-17zm2 10zm5 6zm1 7zm2-12zm0 21zm5-9zm3 0zm1-34zm0 4zm4 11zm0 10zm0 12zm0 1zm0 2zm0 0zm5-20zm2-20zm0 8zm2 29zm1 6zm1-12zm7 11zm3-26zm0 10zm0 12zm1-21zm0 7zm2-1zm8 6zm0 0zm10 2zm2 9zm1-10zm11 4zm0 3zm8-29zm0 15zm14 4zm5-11zm2 24zm4-30zm1 34zm3-10zm0 5zm4-3zm1-16z" stroke="#6abb8c"/><path d="M197 518zm0 105zm0 44zm0 63zm0 4zm0 2zm0 12zm0 16zm0 11zm0 5zm0 20zm0 1zm0 16zm0 7zm0 8zm0 3zm0 10zm0 2zm0 11zm0 1zm0 10zm0 1zm0 5zm0 3zm0 3zm0 2zm0 7zm0 4zm0 2zm0 4zm0 1zm0 1zm0 2zm7-233zm0 105zm0 26zm0 9zm0 1zm0 9zm0 1zm0 19zm0 2zm0 5zm0 2zm0 3zm0 4zm0 8zm0 1zm0 2zm0 7zm0 5zm0 2zm0 19zm0 1zm0 2zm11-217zm0 22zm0 29zm0 6zm0 30zm0 10zm0 7zm0 29zm0 2zm0 8zm0 8zm0 2zm0 6zm0 11zm0 9zm0 1zm0 3zm0 12zm0 5zm0 3zm0 2zm0 2zm0 1zm0 0zm0 1zm0 5zm0 0zm0 0zm0 1zm0 0zm4-533zm0 365zm0 26zm0 18zm0 7zm0 33zm0 10zm0 3zm0 6zm0 9zm0 0zm0 1zm0 1zm0 2zm0 13zm0 0zm0 4zm0 8zm0 8zm0 4zm0 1zm0 1zm0 0zm0 1zm0 4zm0 2zm0 6zm0 1zm10-410zm0 133zm0 89zm0 47zm0 14zm0 11zm0 0zm0 33zm0 5zm0 1zm0 1zm0 17zm0 2zm0 5zm0 2zm0 28zm0 6zm0 2zm0 1zm0 0zm0 3zm3-265zm0 133zm0 18zm0 12zm0 33zm0 6zm0 10zm0 4zm0 13zm0 6zm0 3zm0 2zm0 7zm0 4zm0 5zm0 0zm0 4zm0 11zm0 0zm0 4zm0 1zm3-250zm0 129zm0 7zm0 27zm0 18zm0 6zm0 3zm0 1zm0 3zm0 6zm0 1zm0 4zm0 10zm0 1zm0 10zm0 5zm0 7zm0 0zm0 0zm0 2zm0 4zm0 3zm8-173zm0 3zm0 25zm0 8zm0 33zm0 8zm0 3zm0 5zm0 4zm0 13zm0 12zm0 10zm0 9zm0 0zm0 1zm0 3zm0 3zm0 1zm0 2zm0 13zm0 0zm0 6zm0 0zm0 0zm0 1zm0 1zm0 2zm0 2zm0 3zm0 0zm0 2zm0 2zm7-331zm0 147zm0 10zm0 1zm0 71zm0 6zm0 6zm0 11zm0 2zm0 3zm0 5zm0 3zm0 5zm0 2zm0 3zm0 7zm0 2zm0 9zm0 7zm0 12zm0 3zm0 1zm0 0zm0 3zm0 1zm0 1zm0 5zm0 1zm0 0zm3-501zm0 302zm0 51zm0 18zm0 39zm0 3zm0 4zm0 1zm0 10zm0 18zm0 7zm0 4zm0 5zm0 5zm0 4zm0 0zm0 11zm0 5zm0 3zm0 1zm0 0zm0 1zm0 1zm0 1zm2-103zm0 3zm0 0zm0 12zm0 25zm0 1zm0 7zm0 29zm0 2zm0 3zm0 2zm0 10zm0 2zm0 3zm0 2zm0 1zm0 6zm4-172zm0 63zm0 12zm0 1zm0 20zm0 36zm0 2zm0 1zm0 1zm0 1zm0 9zm0 11zm0 2zm0 4zm0 1zm0 0zm0 2zm0 4zm9-93zm0 39zm0 2zm0 20zm0 2zm0 0zm0 7zm0 4zm0 4zm0 1zm0 10zm0 0zm0 1zm0 0zm0 0zm0 7zm0 1zm2-246zm0 129zm0 30zm0 2zm0 14zm0 13zm0 2zm0 7zm0 8zm0 3zm0 0zm0 5zm0 3zm0 1zm0 7zm0 0zm0 3zm0 2zm0 1zm0 1zm0 1zm0 1zm0 0zm0 2zm0 1zm0 7zm0 2zm0 4zm5-411zm0 252zm0 8zm0 24zm0 26zm0 4zm0 39zm0 10zm0 2zm0 4zm0 3zm0 5zm0 1zm0 0zm0 6zm0 1zm0 2zm0 8zm0 2zm0 2zm0 5zm5-129zm0 16zm0 26zm0 16zm0 17zm0 1zm0 5zm0 7zm0 6zm0 9zm0 4zm0 6zm0 2zm0 7zm0 4zm0 2zm0 2zm0 0zm0 4zm0 2zm3-344zm0 88zm0 4zm0 112zm0 42zm0 36zm0 2zm0 10zm0 16zm0 2zm0 3zm0 0zm0 7zm0 8zm0 10zm0 3zm3-184zm0 105zm0 14zm0 29zm0 3zm0 9zm0 3zm0 1zm0 1zm0 1zm0 1zm0 5zm0 6zm0 5zm2-256zm0 42zm0 91zm0 13zm0 0zm0 8zm0 3zm0 12zm0 0zm0 22zm0 2zm0 1zm0 5zm0 15zm0 1zm0 8zm0 1zm0 0zm0 1zm0 12zm0 0zm0 2zm0 2zm0 1zm0 2zm0 0zm0 9zm4-221zm0 43zm0 87zm0 1zm0 14zm0 19zm0 4zm0 13zm0 1zm0 4zm0 13zm0 5zm0 5zm0 1zm0 1zm0 1zm0 6zm0 0zm0 3zm1-163zm0 90zm0 10zm0 8zm0 10zm0 1zm0 13zm0 4zm0 3zm0 3zm0 8zm0 3zm0 4zm0 3zm0 0zm0 2zm0 2zm0 5zm6-190zm0 90zm0 16zm0 2zm0 17zm0 1zm0 17zm0 0zm0 0zm0 8zm0 6zm0 2zm0 4zm0 7zm0 1zm0 8zm0 1zm0 0zm0 1zm0 1zm0 9zm5-78zm0 1zm0 18zm0 5zm0 10zm0 11zm0 3zm0 7zm0 3zm0 6zm0 0zm0 2zm0 5zm0 6zm1-79zm0 11zm0 0zm0 31zm0 3zm0 20zm0 3zm0 7zm3-210zm0 70zm0 79zm0 3zm0 6zm0 16zm0 6zm0 4zm0 3zm0 6zm0 2zm0 3zm0 2zm0 1zm0 0zm0 1zm0 0zm0 0zm0 2zm0 0zm0 1zm0 0zm0 1zm0 3zm0 5zm1-119zm0 7zm0 57zm0 11zm0 4zm0 0zm0 4zm0 1zm0 3zm0 2zm0 1zm0 1zm0 5zm0 3zm0 1zm0 3zm0 1zm0 6zm0 4zm0 0zm6-44zm0 0zm0 12zm0 4zm0 2zm0 12zm0 1zm0 2zm0 3zm0 3zm0 9zm4-60zm0 12zm0 7zm0 10zm0 1zm0 6zm0 0zm0 6zm0 2zm0 8zm0 0zm0 4zm0 1zm3-88zm0 24zm0 6zm0 14zm0 14zm0 2zm0 0zm0 3zm0 6zm0 3zm0 11zm0 1zm0 1zm1-145zm0 83zm0 1zm0 27zm0 2zm0 3zm0 0zm0 10zm0 6zm0 3zm0 6zm0 1zm4-145zm0 27zm0 19zm0 25zm0 0zm0 5zm0 10zm0 24zm0 4zm0 8zm0 5zm0 4zm0 1zm0 0zm0 5zm0 4zm0 1zm0 5zm0 3zm0 1zm0 2zm4-52zm0 4zm0 0zm0 2zm0 1zm0 1zm0 1zm0 8zm0 6zm0 0zm0 5zm0 9zm0 1zm0 4zm0 2zm0 5zm0 2zm1-192zm0 47zm0 86zm0 7zm0 5zm0 7zm0 16zm0 5zm0 4zm0 4zm0 1zm0 6zm0 6zm0 2zm1-65zm0 8zm0 33zm0 3zm0 4zm0 3zm0 3zm0 5zm0 0zm0 5zm6-246zm0 207zm0 6zm0 6zm0 17zm0 1zm0 3zm0 3zm1-66zm0 22zm0 2zm0 3zm0 4zm0 10zm0 13zm0 4zm0 3zm0 1zm1-142zm0 62zm0 7zm0 14zm0 18zm0 5zm0 5zm0 4zm0 6zm0 5zm0 2zm0 8zm0 5zm0 2zm3-87zm0 33zm0 11zm0 6zm0 8zm0 2zm0 10zm0 2zm0 0zm0 6zm0 2zm0 2zm0 1zm0 6zm4-135zm0 54zm0 53zm0 1zm0 6zm0 3zm0 3zm0 2zm0 3zm0 4zm0 1zm0 0zm0 5zm0 3zm1-74zm0 14zm0 8zm0 6zm0 11zm0 12zm0 6zm0 4zm0 5zm0 1zm0 0zm0 8zm6-74zm0 3zm0 34zm0 2zm0 1zm0 3zm0 2zm0 2zm0 0zm0 10zm0 8zm0 4zm0 2zm0 1zm1-51zm0 1zm0 3zm0 23zm0 3zm0 2zm0 2zm0 0zm0 2zm0 5zm0 8zm0 2zm0 0zm0 1zm0 0zm2-76zm0 9zm0 2zm0 12zm0 8zm0 10zm0 2zm0 1zm0 3zm0 1zm0 4zm0 1zm0 2zm0 6zm0 3zm0 4zm0 1zm0 2zm0 2zm0 0zm1-56zm0 17zm0 6zm0 7zm0 1zm0 4zm0 1zm0 6zm0 6zm3-117zm0 71zm0 16zm0 3zm0 6zm0 2zm0 4zm0 8zm0 1zm0 4zm0 2zm0 6zm0 2zm1-60zm0 9zm0 23zm0 1zm0 1zm0 4zm0 1zm0 4zm0 1zm0 0zm0 8zm0 5zm0 4zm0 3zm3-104zm0 36zm0 3zm0 29zm0 4zm0 3zm0 4zm0 5zm0 3zm0 6zm3-49zm0 9zm0 11zm0 2zm0 2zm0 20zm0 11zm3-115zm0 41zm0 40zm0 7zm0 4zm0 1zm0 11zm0 2zm0 14zm1-134zm0 52zm0 10zm0 4zm0 32zm0 5zm0 2zm0 1zm0 6zm0 1zm0 7zm0 0zm0 0zm0 1zm0 3zm0 1zm0 7zm3-233zm0 52zm0 147zm0 11zm0 7zm0 1zm1-29zm0 16zm0 1zm0 11zm0 4zm0 1zm0 7zm0 1zm0 3zm2-196zm0 126zm0 11zm0 23zm0 5zm0 4zm0 22zm0 5zm0 0zm3-32zm0 5zm0 8zm0 0zm0 1zm0 0zm0 4zm0 5zm0 1zm0 7zm0 1zm0 1zm1-132zm0 56zm0 43zm0 1zm0 8zm0 1zm0 13zm0 2zm0 0zm5-52zm0 11zm0 7zm0 12zm0 15zm0 10zm1-187zm0 151zm0 20zm0 5zm0 6zm0 2zm0 2zm0 2zm0 2zm0 2zm5-170zm0 109zm0 27zm0 10zm0 5zm0 3zm0 3zm0 2zm0 1zm0 0zm0 8zm0 3zm1-48zm0 4zm0 11zm0 3zm0 0zm0 8zm0 1zm0 1zm0 0zm0 6zm0 1zm0 0zm0 1zm0 1zm0 0zm0 3zm0 2zm0 1zm0 4zm2-57zm0 26zm0 10zm0 6zm0 8zm0 3zm0 0zm0 0zm0 2zm0 0zm1-73zm0 10zm0 33zm0 2zm0 17zm0 12zm0 3zm2-108zm0 58zm0 7zm0 3zm0 6zm0 3zm0 11zm0 3zm0 12zm3-46zm0 31zm0 2zm0 6zm0 3zm0 5zm2-103zm0 40zm0 19zm0 11zm0 10zm0 6zm0 2zm0 7zm2-54zm0 31zm0 14zm0 2zm0 1zm0 0zm0 2zm0 7zm0 0zm0 4zm1-90zm0 40zm0 5zm0 12zm0 4zm0 0zm0 21zm0 4zm0 7zm4-57zm0 10zm0 2zm0 1zm0 9zm0 8zm0 10zm0 1zm0 5zm0 1zm0 8zm0 1zm0 0zm0 3zm3-48zm0 18zm0 8zm0 3zm0 4zm0 4zm0 1zm0 2zm0 7zm3-29zm0 9zm0 6zm0 2zm0 7zm0 4zm1-72zm0 22zm0 9zm0 7zm0 0zm0 17zm0 2zm0 2zm0 0zm0 4zm0 9zm1-58zm0 28zm0 21zm0 2zm3-37zm0 3zm0 12zm0 6zm0 9zm0 6zm0 6zm5-45zm0 5zm0 11zm0 12zm0 4zm0 1zm0 3zm0 1zm0 0zm0 0zm0 4zm0 3zm0 0zm2-79zm0 38zm0 4zm0 1zm0 2zm0 6zm0 1zm0 5zm0 0zm0 0zm0 6zm0 2zm0 13zm0 5zm2-34zm0 0zm0 2zm0 10zm0 1zm0 12zm2-42zm0 15zm0 5zm0 5zm0 5zm0 0zm0 3zm0 3zm0 13zm1-36zm0 22zm0 5zm0 3zm0 0zm0 1zm0 6zm0 1zm2-19zm0 2zm0 1zm0 3zm0 10zm0 1zm0 0zm3-47zm0 9zm0 36zm0 1zm0 0zm0 1zm3-31zm0 18zm0 3zm0 1zm0 10zm2-48zm0 37zm0 3zm0 6zm0 1zm3-20zm0 2zm0 2zm0 5zm0 0zm0 6zm0 3zm0 1zm0 2zm2-40zm0 28zm0 2zm0 8zm2-68zm0 4zm0 19zm0 24zm0 3zm0 7zm0 8zm0 1zm0 4zm1-19zm0 9zm0 1zm0 4zm0 0zm0 3zm4-39zm0 21zm0 13zm0 3zm1-10zm0 2zm1-34zm0 0zm0 5zm0 11zm0 10zm0 2zm0 1zm0 7zm0 3zm0 0zm0 2zm0 4zm0 1zm0 1zm3-35zm0 19zm0 2zm0 8zm4-72zm0 42zm0 1zm0 18zm0 0zm0 4zm0 1zm0 0zm0 0zm0 3zm0 3zm0 3zm2-29zm0 10zm0 3zm0 0zm0 12zm0 1zm0 1zm0 1zm3-49zm0 3zm0 49zm2-36zm0 15zm0 19zm0 1zm0 2zm1-38zm0 11zm0 7zm0 7zm1-10zm0 1zm0 13zm0 3zm2-28zm0 0zm0 18zm0 8zm0 3zm0 2zm0 1zm2-42zm0 6zm0 5zm0 13zm0 8zm0 5zm4-31zm0 7zm0 17zm0 1zm0 2zm0 1zm0 3zm0 2zm0 0zm0 0zm1-38zm0 27zm0 15zm0 0zm0 1zm0 0zm1-34zm0 18zm0 2zm0 15zm1-14zm0 2zm0 11zm1-48zm0 7zm0 2zm0 30zm1-17zm0 7zm0 3zm0 2zm0 11zm0 1zm0 2zm4-38zm0 18zm0 6zm0 3zm0 8zm0 0zm0 4zm4-54zm0 6zm0 21zm0 9zm0 1zm0 4zm0 10zm2-3zm0 3zm1-26zm0 13zm2 12zm1-27zm0 23zm0 4zm1-24zm0 10zm0 5zm0 1zm0 1zm3-16zm0 17zm2-102zm0 83zm0 3zm0 11zm0 2zm1 9zm0 0zm0 3zm3-52zm0 44zm0 7zm0 1zm2-15zm2-1zm1-17zm0 6zm0 27zm2-13zm0 1zm0 1zm0 5zm0 5zm0 1zm1-24zm0 9zm1-8zm0 6zm0 5zm0 4zm0 6zm0 1zm2-5zm0 0zm0 2zm0 2zm0 1zm1-30zm0 10zm0 6zm0 9zm1-5zm0 1zm2-28zm4 15zm0 21zm1-18zm0 19zm2-44zm0 24zm0 2zm0 1zm0 10zm1-2zm0 9zm1-12zm1-8zm1 1zm0 1zm0 13zm0 4zm0 0zm1-21zm0 1zm0 6zm0 5zm0 1zm0 0zm0 1zm0 3zm0 0zm0 2zm0 1zm0 2zm2-47zm1 30zm2 6zm0 3zm3-6zm0 0zm0 4zm0 7zm1-30zm0 13zm0 18zm4-5zm0 3zm0 1zm0 1zm0 2zm0 1zm1-3zm0 0zm2-8zm1 6zm6-22zm0 14zm0 12zm0 0zm3-19zm1-30zm0 44zm4-13zm0 16zm2-40zm0 7zm0 0zm2 34zm1-7zm1-4zm0 8zm7 4zm2-10zm0 3zm3-22zm0 14zm0 13zm0 3zm3-2zm2 2zm2-1zm1 1zm1-23zm0 2zm1 11zm1 4zm2-12zm1-16zm0 27zm2 3zm2-12zm3-28zm0 39zm0 1zm3-6zm0 10zm10-4zm5-11zm1-7zm0 0zm2-10zm1 20zm2 8zm0 4zm3-8zm0 7zm2-2zm2-1zm1-8zm7-6zm1 14zm3 3zm0 1zm5-2zm4-5zm2 4zm3-7zm0 6zm2-10zm0 10zm8-28zm0 19zm1-2zm4 1zm5-10zm0 13zm13 2zm1-19zm0 14zm11 10zm8 3zm6-1zm10-14zm1 16zm3-31zm0 29zm10-9zm2 10zm6-11zm3 11zm12-2zm17-20zm2 18zm7-9zm0 9zm7-14z" stroke="#88cd92"/><path d="M197 699zm0 14zm0 12zm0 82zm0 2zm0 39zm0 10zm0 4zm0 2zm0 5zm0 6zm0 1zm0 4zm0 1zm0 4zm0 4zm0 3zm0 1zm0 4zm0 2zm0 4zm0 0zm0 1zm7-453zm0 61zm0 205zm0 82zm0 12zm0 29zm0 1zm0 16zm0 1zm0 7zm0 1zm0 0zm0 2zm0 7zm0 5zm0 1zm0 1zm0 2zm0 10zm0 5zm0 3zm11-495zm0 299zm0 57zm0 66zm0 7zm0 5zm0 2zm0 5zm0 0zm0 7zm0 2zm0 1zm0 5zm0 6zm0 8zm0 0zm0 6zm0 1zm0 8zm0 2zm0 0zm0 2zm0 1zm0 0zm0 2zm4-105zm0 25zm0 16zm0 14zm0 15zm0 0zm0 5zm0 0zm0 4zm0 3zm0 2zm0 5zm0 1zm0 1zm0 1zm0 2zm0 2zm0 3zm0 0zm0 3zm0 0zm0 4zm0 2zm10-237zm0 82zm0 37zm0 15zm0 8zm0 6zm0 16zm0 28zm0 2zm0 4zm0 4zm0 9zm0 4zm0 2zm0 2zm0 1zm0 0zm0 0zm0 3zm0 1zm0 3zm0 4zm0 0zm0 1zm0 4zm3-228zm0 44zm0 26zm0 10zm0 6zm0 43zm0 35zm0 13zm0 0zm0 2zm0 1zm0 0zm0 4zm0 2zm0 2zm0 8zm0 10zm0 6zm0 2zm0 3zm0 0zm0 1zm0 2zm0 0zm0 1zm0 2zm0 2zm0 0zm0 0zm0 3zm3-181zm0 46zm0 43zm0 14zm0 4zm0 12zm0 1zm0 5zm0 16zm0 10zm0 3zm0 3zm0 6zm0 2zm0 2zm0 0zm0 2zm0 2zm0 1zm0 2zm0 3zm0 0zm0 1zm0 1zm0 0zm0 0zm0 1zm0 2zm8-323zm0 174zm0 19zm0 26zm0 32zm0 3zm0 2zm0 26zm0 5zm0 4zm0 2zm0 1zm0 0zm0 3zm0 4zm0 3zm0 1zm0 4zm0 1zm0 2zm0 2zm0 0zm0 6zm0 2zm0 0zm0 2zm7-155zm0 0zm0 57zm0 7zm0 2zm0 14zm0 3zm0 6zm0 4zm0 12zm0 1zm0 4zm0 1zm0 3zm0 11zm0 6zm0 6zm0 3zm0 1zm0 1zm0 1zm0 0zm0 4zm0 2zm0 5zm0 2zm0 0zm3-100zm0 13zm0 2zm0 21zm0 6zm0 6zm0 3zm0 3zm0 12zm0 5zm0 5zm0 5zm0 1zm0 4zm0 0zm0 4zm0 4zm0 2zm0 2zm0 0zm0 0zm2-203zm0 71zm0 21zm0 12zm0 40zm0 0zm0 11zm0 4zm0 5zm0 12zm0 5zm0 14zm0 2zm0 5zm4-110zm0 2zm0 18zm0 33zm0 9zm0 6zm0 2zm0 3zm0 1zm0 3zm0 9zm0 0zm0 1zm0 5zm0 3zm0 1zm0 1zm0 0zm0 3zm0 8zm0 0zm0 0zm0 0zm0 4zm9-169zm0 9zm0 79zm0 33zm0 5zm0 1zm0 2zm0 22zm0 1zm0 0zm0 1zm0 1zm0 0zm0 2zm0 1zm0 2zm0 0zm0 5zm0 0zm0 1zm0 1zm0 0zm0 0zm0 2zm2-128zm0 9zm0 21zm0 2zm0 25zm0 9zm0 13zm0 16zm0 4zm0 2zm0 2zm0 6zm0 6zm0 7zm0 4zm0 2zm0 1zm5-206zm0 126zm0 18zm0 17zm0 4zm0 4zm0 18zm0 0zm0 3zm0 0zm0 5zm0 0zm0 1zm0 2zm0 3zm0 2zm5-154zm0 29zm0 14zm0 26zm0 1zm0 49zm0 4zm0 3zm0 4zm0 0zm0 4zm0 1zm0 1zm0 4zm0 3zm0 0zm0 9zm0 1zm0 1zm0 0zm0 3zm3-62zm0 3zm0 16zm0 8zm0 10zm0 13zm0 1zm0 2zm0 1zm0 5zm0 1zm0 2zm0 1zm0 0zm3-277zm0 170zm0 13zm0 25zm0 15zm0 20zm0 2zm0 10zm0 1zm0 7zm0 2zm0 2zm0 2zm0 0zm0 4zm0 3zm0 1zm2-207zm0 87zm0 19zm0 17zm0 12zm0 14zm0 7zm0 2zm0 1zm0 1zm0 3zm0 3zm0 1zm0 4zm0 2zm0 1zm0 1zm0 9zm0 4zm0 6zm0 1zm0 1zm0 0zm0 4zm0 1zm0 3zm0 0zm0 2zm0 0zm4-120zm0 3zm0 25zm0 47zm0 2zm0 8zm0 19zm0 0zm0 3zm0 7zm0 1zm1-57zm0 11zm0 15zm0 5zm0 1zm0 1zm0 8zm0 5zm0 0zm0 3zm0 4zm0 1zm0 0zm0 1zm0 2zm0 1zm0 2zm0 3zm6-60zm0 10zm0 4zm0 2zm0 5zm0 2zm0 5zm0 9zm0 4zm0 0zm0 1zm0 0zm0 2zm0 6zm0 0zm0 0zm0 2zm0 0zm0 0zm0 1zm0 2zm0 3zm5-248zm0 182zm0 15zm0 15zm0 8zm0 6zm0 6zm0 6zm0 4zm0 7zm1-103zm0 41zm0 2zm0 6zm0 2zm0 25zm0 1zm0 3zm0 11zm0 4zm0 3zm0 2zm0 0zm0 1zm0 2zm3-52zm0 5zm0 0zm0 3zm0 1zm0 1zm0 10zm0 2zm0 3zm0 7zm0 2zm0 4zm0 2zm0 1zm0 7zm0 3zm0 1zm0 2zm1-151zm0 44zm0 16zm0 1zm0 24zm0 3zm0 5zm0 26zm0 6zm0 2zm0 0zm0 6zm0 2zm0 0zm0 12zm0 1zm0 1zm6-92zm0 27zm0 14zm0 8zm0 8zm0 1zm0 0zm0 1zm0 2zm0 7zm0 3zm0 7zm0 2zm0 0zm0 5zm0 1zm0 0zm0 2zm0 0zm4-55zm0 35zm0 10zm0 0zm0 2zm0 8zm3-182zm0 143zm0 4zm0 5zm0 7zm0 1zm0 3zm0 0zm0 4zm0 1zm0 6zm0 3zm0 1zm0 7zm0 1zm1-38zm0 4zm0 2zm0 5zm0 4zm0 1zm0 5zm0 2zm0 3zm0 1zm4-100zm0 25zm0 49zm0 4zm0 7zm0 1zm0 2zm0 0zm0 1zm0 8zm0 1zm0 0zm0 5zm0 1zm0 4zm0 1zm0 0zm0 0zm4-70zm0 24zm0 3zm0 2zm0 14zm0 9zm0 6zm0 1zm0 2zm0 2zm0 3zm0 7zm0 0zm1-64zm0 13zm0 8zm0 3zm0 9zm0 0zm0 5zm0 1zm0 4zm0 7zm0 2zm0 1zm0 10zm1-85zm0 35zm0 11zm0 5zm0 2zm0 6zm0 0zm0 9zm0 1zm0 1zm0 4zm0 2zm0 0zm0 2zm0 1zm0 6zm0 2zm6-82zm0 22zm0 13zm0 7zm0 3zm0 8zm0 1zm0 4zm0 4zm0 3zm0 4zm0 8zm0 1zm0 0zm0 2zm1-53zm0 18zm0 5zm0 3zm0 8zm0 9zm0 3zm0 1zm0 2zm0 1zm0 4zm1-83zm0 9zm0 26zm0 11zm0 12zm0 2zm0 9zm0 1zm0 1zm0 3zm0 3zm0 1zm0 2zm0 2zm0 0zm0 2zm3-72zm0 30zm0 20zm0 3zm0 1zm0 11zm0 0zm0 1zm0 5zm0 0zm4-135zm0 61zm0 37zm0 12zm0 2zm0 5zm0 0zm0 4zm0 1zm0 6zm0 0zm0 5zm0 0zm0 1zm1-67zm0 34zm0 2zm0 0zm0 2zm0 3zm0 3zm0 3zm0 1zm0 1zm0 7zm0 0zm0 2zm0 2zm0 0zm0 4zm0 1zm0 0zm0 1zm6-48zm0 2zm0 9zm0 4zm0 4zm0 3zm0 1zm0 13zm0 9zm0 0zm0 4zm1-45zm0 10zm0 4zm0 8zm0 7zm0 0zm0 1zm0 3zm0 6zm0 2zm0 2zm0 3zm2-79zm0 46zm0 0zm0 1zm0 12zm0 2zm0 9zm0 5zm1-41zm0 8zm0 12zm0 4zm0 1zm0 1zm0 3zm0 1zm0 5zm0 1zm0 4zm0 2zm3-146zm0 36zm0 53zm0 1zm0 20zm0 5zm0 8zm0 1zm0 2zm0 17zm0 1zm0 0zm0 1zm0 1zm0 3zm0 1zm1-57zm0 19zm0 1zm0 3zm0 2zm0 1zm0 1zm0 9zm0 6zm0 5zm0 1zm0 0zm0 1zm0 0zm0 0zm0 1zm0 0zm0 3zm0 3zm3-12zm0 0zm0 3zm0 3zm0 2zm0 1zm0 3zm3-57zm0 10zm0 6zm0 9zm0 6zm0 2zm0 3zm0 1zm0 2zm0 2zm0 0zm0 4zm0 1zm0 5zm0 0zm0 3zm0 0zm0 1zm3-77zm0 9zm0 22zm0 13zm0 7zm0 6zm0 7zm0 2zm0 13zm1-49zm0 12zm0 0zm0 3zm0 4zm0 4zm0 18zm0 0zm0 5zm0 0zm0 1zm0 2zm3-154zm0 80zm0 45zm0 1zm0 2zm0 2zm0 7zm0 1zm0 0zm0 3zm0 1zm0 0zm0 10zm0 0zm0 1zm1-55zm0 3zm0 15zm0 18zm0 8zm0 4zm0 6zm0 1zm0 1zm2-39zm0 13zm0 4zm0 12zm0 0zm0 1zm0 0zm0 4zm3-86zm0 57zm0 5zm0 0zm0 3zm0 8zm0 4zm0 6zm0 3zm0 0zm0 1zm0 2zm0 2zm1-87zm0 34zm0 6zm0 12zm0 2zm0 14zm0 4zm0 1zm0 2zm5-74zm0 60zm0 11zm0 1zm0 0zm0 6zm0 2zm0 2zm1-175zm0 128zm0 8zm0 5zm0 1zm0 3zm0 1zm0 3zm0 4zm0 8zm0 3zm0 0zm0 3zm0 4zm0 4zm0 1zm0 0zm0 3zm0 0zm5-25zm0 1zm0 3zm0 2zm0 8zm0 1zm0 2zm0 1zm0 0zm0 7zm1-55zm0 10zm0 11zm0 4zm0 1zm0 2zm0 7zm0 1zm0 5zm0 2zm0 7zm0 1zm0 1zm0 1zm0 0zm0 0zm2-42zm0 1zm0 0zm0 14zm0 9zm0 3zm0 0zm0 1zm0 0zm0 1zm0 2zm0 7zm0 3zm0 2zm0 1zm0 1zm1-73zm0 24zm0 9zm0 2zm0 7zm0 2zm0 21zm0 0zm0 1zm0 0zm0 4zm2-37zm0 15zm0 7zm0 1zm0 7zm0 4zm0 5zm3-28zm0 2zm0 7zm0 5zm0 0zm0 0zm0 2zm0 2zm0 1zm0 3zm2-34zm0 16zm0 2zm0 2zm0 6zm0 3zm0 0zm0 1zm0 2zm0 1zm0 2zm0 3zm2-39zm0 15zm0 3zm0 3zm0 2zm0 3zm0 1zm0 2zm0 3zm0 3zm0 0zm0 2zm0 1zm0 1zm0 1zm0 0zm1-28zm0 12zm0 1zm0 7zm0 1zm0 2zm0 3zm0 1zm0 2zm4-96zm0 5zm0 11zm0 39zm0 0zm0 5zm0 4zm0 3zm0 12zm0 2zm0 3zm0 6zm0 0zm0 1zm0 2zm0 1zm0 0zm0 1zm3-44zm0 18zm0 1zm0 3zm0 2zm0 5zm0 3zm0 8zm0 0zm0 0zm0 1zm0 0zm0 3zm0 1zm3-27zm0 4zm0 1zm0 9zm0 3zm0 7zm0 2zm0 0zm1-22zm0 5zm0 5zm0 3zm0 2zm0 3zm0 5zm0 1zm1-26zm0 8zm0 2zm0 7zm0 2zm3-34zm0 2zm0 27zm0 1zm0 6zm0 1zm0 1zm0 0zm5-41zm0 16zm0 10zm0 2zm0 2zm0 2zm0 3zm0 0zm0 0zm0 0zm0 1zm0 2zm0 1zm0 1zm0 2zm0 1zm0 0zm2-28zm0 1zm0 6zm0 5zm0 0zm0 1zm0 2zm0 2zm0 7zm0 2zm0 0zm0 1zm0 2zm2-50zm0 8zm0 10zm0 16zm0 6zm0 9zm2-40zm0 3zm0 21zm0 1zm0 1zm0 1zm0 4zm0 3zm0 1zm0 1zm0 4zm1-21zm0 3zm0 1zm0 10zm0 1zm0 0zm0 2zm0 1zm2-14zm0 16zm3-20zm0 4zm0 4zm0 3zm0 1zm0 2zm0 1zm0 6zm0 1zm3-43zm0 10zm0 14zm2-19zm0 0zm0 1zm0 20zm0 4zm0 2zm0 5zm3-108zm0 73zm0 4zm0 6zm0 10zm0 1zm0 3zm0 0zm0 3zm0 0zm0 3zm0 0zm0 1zm0 3zm0 1zm0 1zm0 1zm0 1zm0 2zm2-45zm0 10zm0 20zm0 2zm0 1zm0 2zm0 9zm2-54zm0 17zm0 5zm0 1zm0 0zm0 3zm0 17zm0 2zm0 10zm1-58zm0 37zm0 10zm0 1zm0 1zm0 3zm0 5zm0 0zm4-30zm0 6zm0 9zm0 1zm0 2zm0 10zm0 3zm1-35zm0 20zm0 2zm0 8zm0 5zm1-67zm0 4zm0 16zm0 9zm0 14zm0 10zm0 5zm0 2zm0 1zm0 3zm0 3zm0 1zm3-27zm0 8zm0 0zm0 2zm0 4zm0 1zm0 3zm0 6zm0 0zm0 2zm4-41zm0 13zm0 1zm0 6zm0 1zm0 10zm0 1zm0 1zm0 3zm0 2zm0 2zm0 1zm2-65zm0 19zm0 15zm0 1zm0 1zm0 2zm0 2zm0 0zm0 9zm0 0zm0 1zm0 0zm0 3zm0 4zm0 0zm0 1zm0 2zm0 1zm0 1zm0 3zm0 0zm0 0zm3-39zm0 12zm0 14zm0 2zm0 9zm2 2zm1-27zm0 10zm0 9zm0 0zm0 6zm1-40zm0 23zm0 13zm0 3zm2-58zm0 41zm0 6zm0 1zm0 4zm0 6zm0 3zm0 0zm2-22zm0 12zm0 9zm4-28zm0 7zm0 4zm0 10zm0 2zm1-24zm0 3zm0 10zm0 2zm0 12zm0 0zm0 1zm0 1zm1-42zm0 29zm0 7zm0 7zm0 0zm1-21zm0 1zm0 5zm0 10zm0 1zm0 2zm0 0zm1-23zm0 7zm0 5zm0 1zm0 4zm0 1zm0 2zm0 4zm1-29zm0 13zm0 4zm0 1zm0 0zm0 2zm0 9zm4-29zm0 5zm0 1zm0 14zm0 0zm0 7zm0 0zm4-19zm0 1zm0 4zm0 1zm0 9zm0 1zm0 2zm0 0zm0 0zm0 4zm2-35zm0 9zm0 14zm0 1zm0 5zm0 4zm0 1zm1-17zm0 3zm0 4zm0 4zm0 0zm0 5zm2-20zm0 4zm0 1zm0 3zm0 11zm0 2zm0 1zm1-16zm0 5zm0 7zm1-5zm0 4zm0 5zm3-9zm0 0zm0 7zm0 1zm2-43zm0 8zm0 24zm0 1zm0 1zm0 0zm0 5zm0 1zm0 2zm0 0zm0 1zm0 1zm0 0zm1-39zm0 28zm0 9zm0 1zm0 0zm3-21zm0 20zm2-19zm0 15zm0 4zm0 0zm2-6zm0 7zm1-51zm0 43zm0 7zm0 3zm2-48zm0 14zm0 4zm0 6zm0 3zm0 3zm0 6zm0 3zm0 7zm1-23zm0 6zm0 13zm0 1zm1-5zm0 7zm2-67zm0 53zm0 10zm0 1zm0 1zm0 4zm1-41zm0 14zm0 9zm0 2zm0 3zm0 3zm0 0zm0 0zm0 7zm3-8zm4-2zm0 2zm0 2zm0 8zm1-27zm0 8zm0 9zm0 5zm0 1zm0 0zm0 4zm2-9zm0 3zm0 0zm0 5zm1 0zm0 1zm0 2zm0 0zm1-23zm0 15zm0 1zm0 1zm1-8zm0 2zm0 0zm0 3zm0 0zm1-17zm1-1zm0 4zm0 8zm0 9zm0 1zm0 2zm2-5zm0 5zm0 2zm1-24zm0 18zm0 6zm2-35zm0 16zm0 7zm0 10zm3-4zm0 3zm0 3zm1-20zm0 5zm0 8zm0 3zm0 3zm4-12zm0 8zm1-2zm0 0zm2-5zm0 11zm1-13zm1 2zm0 11zm2-22zm0 2zm0 14zm1-29zm0 31zm0 0zm2-8zm0 7zm0 2zm2-14zm0 12zm3-5zm0 11zm0 0zm3-24zm0 16zm2-12zm0 15zm1-14zm0 13zm0 1zm1 6zm2-17zm0 7zm1 5zm0 5zm3-9zm3-24zm0 6zm1 27zm1-81zm0 80zm3-17zm0 2zm0 13zm0 2zm3-37zm0 15zm0 8zm0 2zm0 12zm0 1zm4-1zm2-11zm1-2zm0 5zm1-1zm2-17zm0 21zm0 1zm3-24zm1 27zm4-22zm0 5zm0 2zm0 11zm3-6zm0 7zm1-19zm0 18zm0 0zm8-2zm0 2zm0 4zm1-8zm1-19zm5 4zm0 24zm2-12zm1 7zm1 3zm1-5zm13 7zm2-11zm2-7zm2 5zm0 3zm0 1zm0 7zm1-2zm2-195zm0 198zm1 1zm1-3zm3-41zm0 24zm0 5zm1-5zm0 16zm2-3zm0 6zm1-3zm0 4zm4-20zm4 18zm5-5zm1 3zm1 3zm5-27zm0 20zm1-3zm0 4zm0 7zm0 0zm1-3zm2-1zm0 3zm4-5zm4 0zm3 0zm0 2zm2 4zm3-6zm2 3zm8-3zm3 1zm1 1zm3 0zm2-1zm3-3zm13 6zm3-20zm9 6zm1 13zm0 3zm1-3zm1-9zm2 12zm4 0zm5-17zm1 13zm1-1zm5-9zm3 12zm0 1zm2-3zm4-3zm0 4zm7-2zm0 1zm7 0zm5-3zm0 3zm6 0zm1-3zm6 5zm2-7zm4 1zm2 6zm4 2zm3-18zm2 12zm3-13zm2 16zm5-9zm4 7zm2 5zm6-4zm9-1zm1-9zm3 10zm17-1zm13-2zm10 4zm4 1zm11 3zm1 0zm5-4zm5 0zm6-4zm4 1zm0 4z" stroke="#a8e196"/><path d="M197 796zm0 20zm0 2zm0 19zm0 8zm0 2zm0 8zm0 4zm0 1zm0 1zm0 4zm0 3zm0 9zm0 0zm0 11zm0 0zm0 2zm0 2zm0 5zm0 0zm0 1zm0 4zm0 3zm7-549zm0 461zm0 10zm0 8zm0 10zm0 2zm0 11zm0 3zm0 9zm0 2zm0 4zm0 5zm0 2zm0 0zm0 0zm0 8zm0 1zm0 1zm0 0zm0 1zm0 0zm0 2zm0 6zm0 2zm11-171zm0 7zm0 98zm0 8zm0 4zm0 1zm0 8zm0 5zm0 9zm0 1zm0 1zm0 3zm0 11zm0 3zm0 0zm0 2zm0 0zm0 1zm0 1zm0 2zm0 0zm0 2zm0 0zm0 1zm0 1zm0 2zm4-310zm0 101zm0 27zm0 18zm0 19zm0 64zm0 3zm0 32zm0 6zm0 0zm0 10zm0 2zm0 1zm0 2zm0 17zm0 1zm0 0zm0 1zm0 1zm0 1zm0 1zm0 0zm0 1zm0 2zm0 0zm10-105zm0 19zm0 3zm0 15zm0 9zm0 7zm0 8zm0 2zm0 1zm0 4zm0 2zm0 2zm0 0zm0 5zm0 5zm0 3zm0 3zm0 1zm0 2zm0 2zm0 0zm0 1zm0 1zm0 9zm0 0zm3-260zm0 138zm0 73zm0 11zm0 3zm0 4zm0 3zm0 4zm0 6zm0 1zm0 2zm0 0zm0 0zm0 1zm0 8zm0 0zm0 1zm0 0zm0 0zm0 0zm0 2zm0 2zm0 0zm3-245zm0 164zm0 4zm0 33zm0 8zm0 8zm0 0zm0 6zm0 1zm0 1zm0 7zm0 2zm0 2zm0 3zm0 5zm0 0zm0 1zm0 3zm8-195zm0 135zm0 16zm0 26zm0 0zm0 2zm0 2zm0 5zm0 2zm0 1zm0 0zm0 3zm0 1zm7-108zm0 50zm0 7zm0 5zm0 9zm0 5zm0 0zm0 1zm0 2zm0 1zm0 1zm0 5zm0 1zm0 2zm0 4zm0 2zm0 4zm0 0zm0 1zm0 3zm0 0zm0 1zm0 0zm0 1zm0 4zm0 0zm0 0zm3-302zm0 228zm0 44zm0 7zm0 8zm0 2zm0 4zm0 1zm0 1zm0 0zm0 1zm0 2zm0 1zm2-98zm0 22zm0 24zm0 11zm0 2zm0 8zm0 5zm0 0zm0 8zm0 3zm0 5zm0 1zm0 2zm0 0zm0 3zm0 2zm0 5zm0 0zm4-190zm0 81zm0 42zm0 0zm0 6zm0 15zm0 18zm0 3zm0 9zm0 9zm0 0zm0 4zm0 0zm0 1zm0 1zm0 0zm9-126zm0 57zm0 9zm0 6zm0 3zm0 5zm0 7zm0 13zm0 0zm0 10zm0 4zm0 0zm0 0zm0 1zm0 1zm0 7zm0 0zm0 3zm0 0zm0 1zm2-60zm0 8zm0 24zm0 1zm0 3zm0 4zm0 3zm0 1zm0 1zm0 5zm0 2zm0 2zm0 1zm0 5zm5-237zm0 103zm0 38zm0 28zm0 15zm0 17zm0 16zm0 2zm0 1zm0 1zm0 6zm0 1zm0 1zm0 0zm0 2zm0 4zm0 0zm5-80zm0 23zm0 25zm0 1zm0 17zm0 3zm0 3zm0 2zm0 0zm0 3zm0 0zm0 0zm0 0zm0 2zm0 0zm0 0zm0 1zm0 1zm0 1zm3-65zm0 4zm0 9zm0 11zm0 11zm0 4zm0 5zm0 2zm0 3zm0 1zm0 1zm0 4zm0 1zm0 1zm0 3zm0 3zm0 1zm3-72zm0 15zm0 3zm0 12zm0 13zm0 1zm0 0zm0 3zm0 0zm0 3zm0 2zm0 3zm0 2zm0 4zm0 3zm0 1zm0 1zm0 4zm0 1zm0 2zm2-82zm0 23zm0 2zm0 1zm0 26zm0 3zm0 1zm0 0zm0 7zm0 1zm0 1zm0 2zm0 0zm0 0zm0 2zm0 5zm0 1zm0 1zm0 1zm0 3zm0 2zm0 0zm4-110zm0 84zm0 0zm0 1zm0 0zm0 1zm0 1zm0 2zm0 6zm0 8zm0 0zm0 1zm0 1zm0 1zm0 0zm0 3zm0 1zm0 1zm1-313zm0 236zm0 4zm0 0zm0 1zm0 5zm0 23zm0 3zm0 6zm0 4zm0 17zm0 1zm0 5zm0 1zm0 5zm0 1zm6-36zm0 6zm0 11zm0 2zm0 1zm0 2zm0 2zm0 5zm0 1zm0 1zm0 0zm0 1zm0 3zm0 1zm0 0zm0 1zm5-76zm0 3zm0 18zm0 9zm0 9zm0 7zm0 14zm0 0zm0 2zm0 3zm0 0zm0 6zm0 4zm1-54zm0 5zm0 17zm0 10zm0 5zm0 2zm0 2zm0 1zm0 0zm0 3zm0 1zm0 6zm0 2zm3-39zm0 4zm0 0zm0 2zm0 5zm0 6zm0 4zm0 4zm0 1zm0 1zm0 2zm0 1zm0 2zm0 1zm0 1zm0 2zm0 2zm0 0zm1-121zm0 80zm0 10zm0 4zm0 1zm0 1zm0 0zm0 4zm0 1zm0 2zm0 4zm0 12zm0 1zm6-84zm0 32zm0 0zm0 25zm0 1zm0 5zm0 1zm0 3zm0 1zm0 0zm0 2zm0 0zm0 4zm0 6zm0 1zm0 4zm0 1zm4-43zm0 1zm0 9zm0 10zm0 2zm0 1zm0 3zm0 2zm0 1zm0 2zm0 1zm0 3zm0 2zm0 2zm0 1zm0 0zm0 1zm0 0zm0 1zm0 1zm3-55zm0 8zm0 7zm0 8zm0 1zm0 4zm0 4zm0 2zm0 1zm0 3zm0 1zm0 2zm0 7zm0 1zm0 3zm0 1zm0 1zm0 1zm1-144zm0 89zm0 2zm0 9zm0 8zm0 6zm0 8zm0 4zm0 6zm0 1zm0 0zm0 6zm0 1zm0 4zm4-100zm0 28zm0 14zm0 5zm0 25zm0 7zm0 0zm0 2zm0 7zm0 3zm0 1zm0 3zm0 0zm0 3zm0 3zm4-52zm0 4zm0 0zm0 13zm0 1zm0 5zm0 4zm0 2zm0 7zm0 2zm0 3zm0 4zm0 1zm0 1zm0 1zm0 2zm0 0zm0 1zm1-97zm0 5zm0 30zm0 6zm0 24zm0 0zm0 5zm0 2zm0 11zm0 2zm0 0zm0 1zm0 0zm0 11zm1-90zm0 59zm0 0zm0 1zm0 0zm0 2zm0 1zm0 5zm0 5zm0 6zm0 2zm0 0zm0 1zm0 2zm0 1zm0 1zm0 1zm0 1zm6-84zm0 61zm0 14zm0 6zm0 1zm0 1zm0 1zm1-61zm0 25zm0 14zm0 0zm0 0zm0 1zm0 0zm0 1zm0 4zm0 2zm0 6zm0 4zm0 1zm0 1zm0 1zm0 1zm0 0zm0 1zm0 1zm0 0zm1-60zm0 17zm0 5zm0 7zm0 5zm0 4zm0 2zm0 1zm0 4zm0 6zm0 2zm0 1zm0 3zm0 1zm0 2zm3-54zm0 20zm0 6zm0 7zm0 4zm0 3zm0 5zm0 1zm0 7zm0 1zm4-37zm0 3zm0 12zm0 10zm0 1zm0 6zm0 0zm0 1zm0 2zm0 0zm1-64zm0 17zm0 17zm0 6zm0 3zm0 5zm0 4zm0 3zm0 0zm0 4zm0 0zm0 1zm0 1zm0 0zm0 4zm6-75zm0 22zm0 29zm0 8zm0 0zm0 1zm0 1zm0 0zm0 2zm0 0zm0 3zm0 2zm0 0zm0 0zm0 1zm0 1zm0 2zm0 2zm0 2zm0 1zm1-158zm0 41zm0 71zm0 34zm0 1zm0 1zm0 1zm0 4zm0 1zm0 3zm0 0zm0 1zm2-55zm0 30zm0 6zm0 4zm0 4zm0 0zm0 1zm0 1zm0 2zm0 1zm0 3zm0 0zm0 1zm0 1zm1-38zm0 9zm0 4zm0 2zm0 5zm0 1zm0 2zm0 2zm0 2zm0 1zm0 3zm0 1zm0 3zm0 0zm0 0zm0 0zm0 1zm0 2zm0 0zm0 1zm0 0zm3-38zm0 9zm0 8zm0 2zm0 1zm0 4zm0 2zm0 1zm0 4zm0 4zm0 2zm0 0zm1-33zm0 9zm0 2zm0 0zm0 10zm0 1zm0 0zm0 4zm0 2zm0 3zm0 0zm0 1zm3-46zm0 3zm0 16zm0 3zm0 11zm0 4zm0 0zm0 0zm0 1zm0 2zm0 0zm0 1zm0 4zm0 2zm0 0zm3-49zm0 4zm0 7zm0 10zm0 17zm0 8zm0 0zm0 1zm3-28zm0 11zm0 6zm0 2zm0 0zm0 4zm0 6zm0 1zm0 0zm1-45zm0 17zm0 10zm0 3zm0 6zm0 2zm0 2zm0 1zm0 2zm0 0zm0 1zm3-20zm0 5zm0 3zm0 0zm0 0zm0 8zm0 4zm1-57zm0 20zm0 1zm0 17zm0 1zm0 4zm0 4zm0 1zm0 1zm0 1zm0 2zm0 3zm0 3zm0 0zm0 0zm2-24zm0 3zm0 11zm0 6zm0 2zm0 1zm3-22zm0 13zm0 5zm0 1zm0 1zm0 0zm0 1zm0 2zm1-15zm0 3zm0 1zm0 5zm0 1zm0 0zm0 1zm0 1zm5-35zm0 7zm0 4zm0 5zm0 5zm0 6zm0 0zm0 3zm0 2zm1-31zm0 6zm0 4zm0 2zm0 6zm0 1zm0 9zm0 0zm0 1zm0 2zm0 3zm0 2zm5-68zm0 43zm0 2zm0 2zm0 4zm0 2zm0 5zm0 3zm0 2zm0 0zm0 5zm1-60zm0 13zm0 20zm0 1zm0 2zm0 1zm0 5zm0 2zm0 2zm0 1zm0 1zm0 3zm0 0zm0 1zm0 1zm0 1zm0 0zm0 1zm0 1zm0 1zm0 1zm0 1zm0 2zm2-36zm0 2zm0 0zm0 10zm0 0zm0 1zm0 1zm0 12zm0 0zm0 0zm0 3zm0 7zm0 1zm1-24zm0 13zm0 0zm0 0zm0 9zm0 1zm2-22zm0 1zm0 4zm0 5zm0 1zm0 0zm0 0zm0 2zm0 4zm0 6zm3-25zm0 10zm0 2zm0 0zm0 4zm0 4zm0 4zm2-27zm0 16zm0 5zm0 0zm0 1zm0 0zm0 0zm0 1zm0 1zm0 0zm0 2zm0 0zm0 2zm2-38zm0 13zm0 7zm0 7zm0 8zm1-22zm0 19zm0 1zm0 0zm0 4zm4-39zm0 8zm0 7zm0 5zm0 1zm0 2zm0 0zm0 1zm0 0zm0 2zm0 0zm0 1zm0 0zm0 1zm0 0zm0 1zm0 1zm0 1zm0 1zm0 1zm0 3zm0 0zm0 1zm0 0zm0 2zm0 0zm0 0zm0 0zm0 0zm3-24zm0 5zm0 1zm0 3zm0 1zm0 7zm0 5zm0 1zm3-33zm0 20zm0 1zm0 9zm0 3zm0 1zm0 1zm1-53zm0 18zm0 0zm0 13zm0 3zm0 2zm0 2zm0 5zm0 4zm0 1zm0 1zm0 2zm1-29zm0 8zm0 5zm0 0zm0 11zm0 2zm3-42zm0 15zm0 5zm0 2zm0 8zm0 3zm0 2zm0 2zm0 4zm0 1zm0 0zm0 2zm0 0zm0 2zm5-49zm0 11zm0 3zm0 8zm0 2zm0 2zm0 4zm0 2zm0 3zm0 2zm0 0zm0 1zm0 2zm0 2zm0 3zm0 1zm0 0zm0 3zm0 1zm2-51zm0 5zm0 3zm0 10zm0 8zm0 4zm0 9zm0 2zm0 1zm0 1zm0 1zm0 0zm0 1zm0 5zm2-19zm0 4zm0 7zm0 1zm0 0zm0 4zm2-37zm0 11zm0 0zm0 7zm0 15zm0 2zm0 0zm0 3zm0 0zm0 1zm1-30zm0 11zm0 1zm0 2zm0 4zm0 1zm0 6zm0 1zm2-20zm0 5zm0 1zm0 3zm0 1zm0 0zm0 4zm0 0zm0 1zm0 5zm3-16zm0 2zm0 6zm0 1zm0 4zm0 5zm0 0zm0 1zm0 2zm3-13zm0 1zm0 0zm0 3zm0 3zm0 0zm0 2zm0 4zm2-21zm0 6zm0 7zm0 1zm0 1zm0 2zm0 2zm0 1zm3-51zm0 16zm0 11zm0 2zm0 3zm0 7zm0 2zm0 2zm0 0zm0 2zm0 2zm0 3zm0 0zm0 0zm0 1zm0 0zm0 1zm0 0zm2-24zm0 6zm0 6zm2-82zm0 50zm0 7zm0 15zm0 10zm0 2zm0 1zm0 0zm0 0zm0 3zm0 2zm0 3zm0 1zm1-18zm0 8zm0 10zm4-20zm0 6zm0 4zm0 1zm0 0zm0 1zm0 3zm0 1zm0 1zm0 3zm1-5zm0 2zm0 1zm0 2zm1-15zm0 1zm0 3zm0 2zm0 0zm0 0zm0 1zm0 4zm0 1zm0 1zm0 0zm0 2zm0 1zm0 0zm3-29zm0 3zm0 8zm0 4zm0 9zm0 0zm0 1zm0 1zm0 1zm0 1zm4-19zm0 2zm0 2zm0 6zm0 0zm0 3zm0 1zm0 2zm0 2zm2-9zm0 0zm0 2zm0 3zm0 0zm0 2zm0 0zm0 1zm0 0zm0 1zm0 0zm0 0zm0 1zm0 0zm0 1zm0 0zm3-36zm0 21zm0 5zm0 1zm0 1zm0 4zm2-35zm0 10zm0 25zm0 1zm0 1zm1-7zm0 2zm0 2zm0 0zm0 2zm0 2zm1-30zm0 19zm0 4zm0 5zm2-34zm0 23zm0 1zm0 7zm0 0zm0 1zm0 4zm2-10zm0 8zm0 1zm4-41zm0 15zm0 14zm0 3zm0 1zm0 3zm0 2zm0 3zm0 0zm1-7zm0 1zm0 4zm0 1zm0 1zm0 1zm0 0zm1-34zm0 1zm0 12zm0 12zm0 5zm0 2zm0 1zm1-1zm1-31zm0 14zm0 11zm0 1zm0 0zm0 4zm1-58zm0 53zm0 0zm0 2zm0 2zm0 3zm0 1zm4-21zm0 8zm0 2zm0 3zm0 2zm0 2zm0 1zm0 0zm0 1zm0 0zm0 0zm0 3zm0 0zm4-39zm0 14zm0 2zm0 8zm0 1zm0 2zm0 1zm0 1zm0 5zm0 1zm0 3zm2-2zm0 1zm0 1zm1-25zm0 16zm0 3zm0 4zm2-32zm0 21zm0 2zm0 6zm0 1zm0 2zm0 1zm1-23zm0 9zm0 13zm0 0zm0 3zm1-7zm0 2zm3-15zm0 10zm2-50zm0 40zm0 12zm0 1zm0 0zm0 2zm0 3zm0 2zm1-4zm0 1zm0 2zm3-50zm0 40zm0 0zm0 6zm0 3zm0 0zm0 1zm0 0zm2-85zm2 72zm0 3zm0 4zm0 3zm0 1zm0 2zm3-13zm0 1zm0 2zm0 3zm0 3zm0 0zm0 2zm1-26zm0 11zm0 2zm0 9zm0 2zm1-6zm0 4zm2-17zm0 7zm0 8zm0 4zm0 2zm0 0zm1-25zm0 22zm0 0zm1-10zm0 1zm0 8zm0 6zm0 1zm6-5zm0 1zm0 3zm0 0zm1-39zm0 7zm0 16zm0 10zm0 2zm0 2zm0 1zm0 0zm0 1zm0 0zm0 1zm2-37zm0 27zm0 4zm0 2zm0 3zm1-6zm0 3zm0 1zm0 1zm1-32zm0 21zm1-26zm0 9zm0 20zm1-30zm0 18zm0 10zm0 4zm0 5zm1-17zm0 16zm0 0zm0 0zm0 3zm2-5zm0 0zm0 3zm0 3zm1-11zm0 3zm0 3zm0 1zm0 1zm0 3zm2-29zm0 16zm0 0zm0 10zm0 2zm3-28zm0 18zm1 2zm0 1zm0 1zm0 0zm0 3zm0 2zm0 0zm4-34zm0 11zm0 3zm0 11zm0 0zm0 10zm1-6zm0 1zm2-4zm1 7zm1-3zm2-4zm0 2zm0 3zm0 2zm1-4zm2-13zm0 2zm0 6zm0 5zm2-15zm0 21zm2-4zm1-6zm0 4zm0 2zm0 3zm3-3zm2-10zm1 7zm0 4zm0 2zm1-13zm0 14zm1-3zm1 2zm4-19zm0 9zm2 3zm6-2zm0 10zm0 0zm3-25zm0 18zm0 5zm0 0zm2-3zm2 3zm1-6zm1 4zm1-10zm0 13zm0 2zm3-3zm1-7zm2 8zm1-7zm1 4zm3-25zm1 2zm0 18zm0 1zm0 5zm2-1zm1-10zm0 4zm0 10zm0 0zm2-19zm0 9zm0 7zm0 1zm1-10zm0 11zm5 1zm6-10zm0 3zm0 3zm0 4zm1-2zm2 1zm0 1zm1-5zm1-7zm0 10zm1-12zm2 10zm0 3zm1-19zm0 13zm1 3zm0 3zm1-25zm0 23zm0 1zm2-6zm0 7zm1-9zm0 8zm4-10zm3 9zm1-7zm1 4zm0 3zm2 3zm0 1zm3-15zm0 10zm2 4zm0 1zm3-5zm1 3zm0 2zm5-20zm0 18zm0 0zm0 2zm2-2zm0 1zm7 1zm2-16zm0 9zm1-3zm0 7zm3-20zm0 12zm5 5zm0 1zm2 2zm0 2zm1-11zm0 6zm0 3zm2-11zm1-4zm0 17zm0 1zm3-23zm1 7zm0 14zm3-3zm2-1zm1-3zm2 3zm2 1zm0 4zm4-6zm0 1zm1 4zm6-4zm1-3zm3 6zm4-8zm0 2zm0 7zm6-3zm1 3zm4 1zm12 1zm1-1zm2-8zm1 5zm1-10zm4 9zm0 3zm0 1zm5-8zm1 8zm7 0zm5-1zm1-11zm0 10zm2-7zm2 6zm1-1zm0 1zm4 3zm11-3zm10-3zm0 5zm3-5zm8 3zm4 1zm1 1zm2-7zm2 4zm1 1zm3 2zm3-14zm0 15zm3-15zm13 4zm1 7zm9-5zm2 9zm2-6zm0 3zm2 1zm33-6zm6 8zm0 1zm1-14zm2 12zm0 1zm3 0zm12-15zm3 13zm15 2zm2-1zm1 1z" stroke="#d3f2a3"/><path d="M179 141zm0 20zm0 3zm0 1zm0 6zm0 13zm0 2zm0 5zm0 15zm0 1zm0 8zm0 5zm0 6zm0 1zm0 37zm0 0zm0 1zm0 14zm0 3zm0 21zm0 7zm0 0zm0 8zm0 4zm0 1zm0 4zm0 7zm0 3zm0 4zm0 5zm0 4zm0 1zm0 4zm0 5zm0 0zm0 4zm0 1zm0 1zm0 5zm0 1zm0 11zm0 8zm0 5zm0 1zm0 9zm0 3zm0 4zm0 24zm0 0zm0 2zm0 16zm0 3zm0 0zm0 1zm0 14zm0 17zm0 4zm0 19zm0 5zm0 7zm0 15zm0 3zm0 7zm0 35zm0 12zm0 13zm0 1zm0 1zm0 0zm0 1zm0 3zm0 1zm0 8zm0 11zm0 7zm0 16zm0 3zm0 3zm0 16zm0 1zm0 1zm0 7zm0 0zm0 2zm0 29zm0 4zm0 16zm0 24zm0 7zm0 23zm0 0zm0 3zm0 3zm0 5zm0 1zm0 4zm0 15zm0 6zm0 10zm0 12zm0 3zm0 1zm0 3zm0 11zm0 2zm0 8zm0 4zm0 13zm0 2zm0 1z" stroke="#0e7070"/><path d="M179 136zm0 0zm0 1zm0 13zm0 2zm0 1zm0 0zm0 4zm0 0zm0 2zm0 17zm0 4zm0 10zm0 15zm0 2zm0 8zm0 11zm0 11zm0 2zm0 4zm0 4zm0 0zm0 1zm0 23zm0 12zm0 4zm0 5zm0 2zm0 18zm0 0zm0 4zm0 5zm0 12zm0 12zm0 11zm0 11zm0 3zm0 7zm0 11zm0 6zm0 9zm0 2zm0 20zm0 14zm0 2zm0 8zm0 29zm0 1zm0 0zm0 2zm0 24zm0 7zm0 1zm0 14zm0 6zm0 2zm0 19zm0 2zm0 1zm0 19zm0 3zm0 4zm0 0zm0 14zm0 9zm0 3zm0 15zm0 7zm0 8zm0 0zm0 12zm0 21zm0 6zm0 1zm0 3zm0 1zm0 2zm0 5zm0 7zm0 13zm0 9zm0 4zm0 14zm0 22zm0 1zm0 3zm0 9zm0 4zm0 1zm0 8zm0 1zm0 2zm0 8zm0 4zm0 3zm0 20zm0 2zm0 1zm0 2zm0 12zm0 9zm0 8zm0 1zm0 7zm0 14zm0 4zm0 1zm0 0zm0 3zm0 12z" stroke="#128c84"/><path d="M179 136zm0 9zm0 21zm0 2zm0 1zm0 5zm0 3zm0 3zm0 1zm0 0zm0 25zm0 11zm0 6zm0 6zm0 10zm0 6zm0 3zm0 2zm0 9zm0 0zm0 7zm0 9zm0 10zm0 10zm0 14zm0 6zm0 11zm0 1zm0 3zm0 5zm0 1zm0 10zm0 14zm0 22zm0 4zm0 4zm0 14zm0 5zm0 9zm0 2zm0 3zm0 5zm0 1zm0 0zm0 4zm0 7zm0 2zm0 11zm0 1zm0 16zm0 3zm0 18zm0 8zm0 2zm0 8zm0 2zm0 10zm0 21zm0 3zm0 6zm0 0zm0 3zm0 12zm0 3zm0 1zm0 4zm0 12zm0 1zm0 17zm0 2zm0 11zm0 9zm0 8zm0 4zm0 4zm0 10zm0 0zm0 10zm0 2zm0 0zm0 7zm0 8zm0 1zm0 6zm0 26zm0 2zm0 14zm0 4zm0 14zm0 2zm0 6zm0 2zm0 11zm0 5zm0 8zm0 4zm0 1zm0 2zm0 7zm0 5zm0 32zm0 8zm0 2zm0 2zm0 13zm0 4zm0 12zm0 2zm0 13zm0 7z" stroke="#1f9484"/><path d="M179 140zm0 0zm0 8zm0 11zm0 10zm0 5zm0 6zm0 7zm0 3zm0 2zm0 10zm0 2zm0 14zm0 1zm0 20zm0 14zm0 0zm0 3zm0 0zm0 6zm0 1zm0 18zm0 16zm0 9zm0 18zm0 9zm0 7zm0 11zm0 3zm0 8zm0 11zm0 2zm0 10zm0 16zm0 6zm0 1zm0 14zm0 1zm0 3zm0 2zm0 6zm0 1zm0 6zm0 1zm0 3zm0 9zm0 4zm0 13zm0 25zm0 1zm0 7zm0 0zm0 4zm0 1zm0 0zm0 5zm0 4zm0 15zm0 6zm0 3zm0 3zm0 4zm0 2zm0 6zm0 5zm0 3zm0 3zm0 1zm0 19zm0 3zm0 4zm0 1zm0 11zm0 27zm0 29zm0 4zm0 18zm0 21zm0 6zm0 14zm0 7zm0 4zm0 9zm0 4zm0 4zm0 6zm0 6zm0 5zm0 4zm0 0zm0 2zm0 0zm0 11zm0 6zm0 6zm0 5zm0 7zm0 0zm0 1zm0 7zm0 6zm0 5zm0 0zm0 8zm0 5zm0 13zm0 3zm0 0zm0 2zm0 34z" stroke="#6abb8c"/></g><g><rect x="192.9" y="739.8" width="7.4" height="168.7" rx="3.7" fill="url(#gat)"/><rect x="200.4" y="739.8" width="7.4" height="168.7" rx="3.7" fill="url(#gat)"/><rect x="210.9" y="739.8" width="7.4" height="168.7" rx="3.7" fill="url(#gat)"/><rect x="215.1" y="739.8" width="7.4" height="168.7" rx="3.7" fill="url(#gat)"/><rect x="225.7" y="739.8" width="7.4" height="168.7" rx="3.7" fill="url(#gat)"/><rect x="228.8" y="739.8" width="7.4" height="168.7" rx="3.7" fill="url(#gat)"/><rect x="231.7" y="739.8" width="7.4" height="168.7" rx="3.7" fill="url(#gat)"/><rect x="239.6" y="739.8" width="7.4" height="168.7" rx="3.7" fill="url(#gat)"/><rect x="246.7" y="739.8" width="7.4" height="168.7" rx="3.7" fill="url(#gat)"/><rect x="248.9" y="739.8" width="7.4" height="168.7" rx="3.7" fill="url(#gat)"/><rect x="251.1" y="739.8" width="7.4" height="168.7" rx="3.7" fill="url(#gat)"/><rect x="255.2" y="739.8" width="7.4" height="168.7" rx="3.7" fill="url(#gat)"/><rect x="264.6" y="739.8" width="7.4" height="168.7" rx="3.7" fill="url(#gat)"/><rect x="266.4" y="739.8" width="7.4" height="168.7" rx="3.7" fill="url(#gat)"/><rect x="271.5" y="739.8" width="7.4" height="168.7" rx="3.7" fill="url(#gat)"/><rect x="276.4" y="739.8" width="7.4" height="168.7" rx="3.7" fill="url(#gat)"/><rect x="285.2" y="845.3" width="8.05" height="63.2" fill="url(#gat)" opacity="1.00"/><rect x="293.2" y="845.9" width="8.05" height="62.6" fill="url(#gat)" opacity="0.99"/><rect x="301.2" y="846.4" width="8.05" height="62.1" fill="url(#gat)" opacity="0.99"/><rect x="309.2" y="847.0" width="8.05" height="61.5" fill="url(#gat)" opacity="0.98"/><rect x="317.2" y="847.6" width="8.05" height="60.9" fill="url(#gat)" opacity="0.98"/><rect x="325.2" y="848.2" width="8.05" height="60.3" fill="url(#gat)" opacity="0.98"/><rect x="333.2" y="848.8" width="8.05" height="59.7" fill="url(#gat)" opacity="0.97"/><rect x="341.2" y="849.3" width="8.05" height="59.2" fill="url(#gat)" opacity="0.97"/><rect x="349.2" y="849.9" width="8.05" height="58.6" fill="url(#gat)" opacity="0.96"/><rect x="357.2" y="850.5" width="8.05" height="58.0" fill="url(#gat)" opacity="0.96"/><rect x="365.2" y="851.1" width="8.05" height="57.4" fill="url(#gat)" opacity="0.95"/><rect x="373.2" y="851.7" width="8.05" height="56.8" fill="url(#gat)" opacity="0.95"/><rect x="381.2" y="852.3" width="8.05" height="56.2" fill="url(#gat)" opacity="0.95"/><rect x="389.2" y="852.8" width="8.05" height="55.7" fill="url(#gat)" opacity="0.94"/><rect x="397.2" y="853.4" width="8.05" height="55.1" fill="url(#gat)" opacity="0.94"/><rect x="405.2" y="854.0" width="8.05" height="54.5" fill="url(#gat)" opacity="0.93"/><rect x="413.2" y="854.6" width="8.05" height="53.9" fill="url(#gat)" opacity="0.93"/><rect x="421.2" y="855.2" width="8.05" height="53.3" fill="url(#gat)" opacity="0.93"/><rect x="429.2" y="855.7" width="8.05" height="52.8" fill="url(#gat)" opacity="0.92"/><rect x="437.2" y="856.3" width="8.05" height="52.2" fill="url(#gat)" opacity="0.92"/><rect x="445.2" y="857.0" width="8.05" height="51.5" fill="url(#gat)" opacity="0.91"/><rect x="453.2" y="858.2" width="8.05" height="50.3" fill="url(#gat)" opacity="0.91"/><rect x="461.2" y="859.4" width="8.05" height="49.1" fill="url(#gat)" opacity="0.90"/><rect x="469.2" y="860.6" width="8.05" height="47.9" fill="url(#gat)" opacity="0.90"/><rect x="477.2" y="861.8" width="8.05" height="46.7" fill="url(#gat)" opacity="0.86"/><rect x="485.2" y="863.0" width="8.05" height="45.5" fill="url(#gat)" opacity="0.81"/><rect x="493.2" y="864.2" width="8.05" height="44.3" fill="url(#gat)" opacity="0.76"/><rect x="501.2" y="865.4" width="8.05" height="43.1" fill="url(#gat)" opacity="0.70"/><rect x="509.2" y="866.6" width="8.05" height="41.9" fill="url(#gat)" opacity="0.65"/><rect x="517.2" y="867.7" width="8.05" height="40.8" fill="url(#gat)" opacity="0.60"/><rect x="525.2" y="868.9" width="8.05" height="39.6" fill="url(#gat)" opacity="0.55"/><rect x="533.2" y="870.1" width="8.05" height="38.4" fill="url(#gat)" opacity="0.50"/><rect x="541.2" y="871.3" width="8.05" height="37.2" fill="url(#gat)" opacity="0.46"/><rect x="549.2" y="872.5" width="8.05" height="36.0" fill="url(#gat)" opacity="0.43"/><rect x="557.2" y="873.7" width="8.05" height="34.8" fill="url(#gat)" opacity="0.39"/><rect x="565.2" y="874.9" width="8.05" height="33.6" fill="url(#gat)" opacity="0.36"/><rect x="573.2" y="876.1" width="8.05" height="32.4" fill="url(#gat)" opacity="0.32"/><rect x="581.2" y="877.2" width="8.05" height="31.3" fill="url(#gat)" opacity="0.29"/><rect x="589.2" y="878.1" width="8.05" height="30.4" fill="url(#gat)" opacity="0.28"/><rect x="597.2" y="879.1" width="8.05" height="29.4" fill="url(#gat)" opacity="0.26"/><rect x="605.2" y="880.0" width="8.05" height="28.5" fill="url(#gat)" opacity="0.24"/><rect x="613.2" y="881.0" width="8.05" height="27.5" fill="url(#gat)" opacity="0.23"/><rect x="621.2" y="881.9" width="8.05" height="26.6" fill="url(#gat)" opacity="0.21"/><rect x="629.2" y="882.9" width="8.05" height="25.6" fill="url(#gat)" opacity="0.19"/><rect x="637.2" y="883.8" width="8.05" height="24.7" fill="url(#gat)" opacity="0.18"/><rect x="645.2" y="884.8" width="8.05" height="23.7" fill="url(#gat)" opacity="0.16"/><rect x="653.2" y="885.7" width="8.05" height="22.8" fill="url(#gat)" opacity="0.14"/><rect x="661.2" y="886.7" width="8.05" height="21.8" fill="url(#gat)" opacity="0.13"/><rect x="669.2" y="887.6" width="8.05" height="20.9" fill="url(#gat)" opacity="0.12"/><rect x="677.2" y="888.6" width="8.05" height="19.9" fill="url(#gat)" opacity="0.12"/><rect x="685.2" y="889.5" width="8.05" height="19.0" fill="url(#gat)" opacity="0.12"/><rect x="693.2" y="890.5" width="8.05" height="18.0" fill="url(#gat)" opacity="0.11"/><rect x="701.2" y="891.4" width="8.05" height="17.1" fill="url(#gat)" opacity="0.11"/><rect x="709.2" y="892.4" width="8.05" height="16.1" fill="url(#gat)" opacity="0.10"/><rect x="717.2" y="892.9" width="8.05" height="15.6" fill="url(#gat)" opacity="0.10"/><rect x="725.2" y="893.0" width="8.05" height="15.5" fill="url(#gat)" opacity="0.09"/><rect x="733.2" y="893.2" width="8.05" height="15.3" fill="url(#gat)" opacity="0.09"/><rect x="741.2" y="893.3" width="8.05" height="15.2" fill="url(#gat)" opacity="0.08"/><rect x="749.2" y="893.4" width="8.05" height="15.1" fill="url(#gat)" opacity="0.08"/><rect x="757.2" y="893.6" width="8.05" height="14.9" fill="url(#gat)" opacity="0.08"/><rect x="765.2" y="893.7" width="8.05" height="14.8" fill="url(#gat)" opacity="0.07"/><rect x="773.2" y="893.8" width="8.05" height="14.7" fill="url(#gat)" opacity="0.07"/><rect x="781.2" y="894.0" width="8.05" height="14.5" fill="url(#gat)" opacity="0.06"/><rect x="789.2" y="894.1" width="8.05" height="14.4" fill="url(#gat)" opacity="0.06"/><rect x="797.2" y="894.3" width="8.05" height="14.2" fill="url(#gat)" opacity="0.05"/><rect x="805.2" y="894.4" width="8.05" height="14.1" fill="url(#gat)" opacity="0.05"/><rect x="813.2" y="894.5" width="8.05" height="14.0" fill="url(#gat)" opacity="0.05"/><rect x="821.2" y="894.7" width="8.05" height="13.8" fill="url(#gat)" opacity="0.05"/><rect x="829.2" y="894.8" width="8.05" height="13.7" fill="url(#gat)" opacity="0.04"/><rect x="837.2" y="894.9" width="8.05" height="13.6" fill="url(#gat)" opacity="0.04"/><rect x="845.2" y="895.1" width="8.05" height="13.4" fill="url(#gat)" opacity="0.04"/><rect x="853.2" y="895.2" width="8.05" height="13.3" fill="url(#gat)" opacity="0.04"/><rect x="861.2" y="895.4" width="8.05" height="13.1" fill="url(#gat)" opacity="0.04"/><rect x="869.2" y="895.5" width="8.05" height="13.0" fill="url(#gat)" opacity="0.04"/><rect x="877.2" y="895.6" width="8.05" height="12.9" fill="url(#gat)" opacity="0.03"/><rect x="885.2" y="895.8" width="8.05" height="12.7" fill="url(#gat)" opacity="0.03"/><rect x="893.2" y="895.9" width="8.05" height="12.6" fill="url(#gat)" opacity="0.03"/><rect x="901.2" y="896.0" width="8.05" height="12.5" fill="url(#gat)" opacity="0.03"/><rect x="909.2" y="896.2" width="8.05" height="12.3" fill="url(#gat)" opacity="0.03"/><rect x="917.2" y="896.3" width="8.05" height="12.2" fill="url(#gat)" opacity="0.03"/><rect x="925.2" y="896.4" width="8.05" height="12.1" fill="url(#gat)" opacity="0.02"/><rect x="933.2" y="896.6" width="8.05" height="11.9" fill="url(#gat)" opacity="0.02"/><rect x="941.2" y="896.7" width="8.05" height="11.8" fill="url(#gat)" opacity="0.02"/><rect x="949.2" y="896.8" width="8.05" height="11.7" fill="url(#gat)" opacity="0.02"/></g><path d="M520 893zm0 9zm1-9zm0 9zm2 0zm1-9zm0 9zm1-9zm0 9zm2-19zm0 10zm0 9zm4-9zm0 9zm1-19zm0 19zm0 0zm2-9zm0 9zm1-9zm0 9zm1-9zm0 9zm1-9zm0 9zm1-9zm0 9zm1-9zm0 9zm0 0zm2-9zm0 9zm1-9zm0 9zm2-9zm0 9zm3-9zm0 9zm1-9zm0 9zm0 0zm4 0zm1 0zm2-9zm1 0zm0 9zm1-9zm0 9zm2-9zm0 9zm0 0zm1-19zm0 19zm2-19zm0 0zm0 10zm0 9zm0 0zm2 0zm1-19zm0 10zm0 9zm1 0zm1-19zm0 10zm3 0zm0 9zm2-9zm0 9zm2-9zm0 9zm1-19zm0 19zm1 0zm1-9zm0 9zm3 0zm4-19zm0 19zm1-9zm3 9zm0 0zm3-9zm0 9zm0 0zm5-9zm0 9zm1-19zm0 10zm0 0zm0 9zm5 0zm2-9zm0 9zm1 0zm1-9zm3 9zm1-9zm0 9zm2 0zm1-9zm0 9zm2-9zm0 9zm1-19zm0 10zm0 9zm2 0zm2-9zm4 9zm3-19zm0 19zm1-19zm0 10zm0 9zm0 0zm4 0zm1 0zm2-9zm2 9zm1-9zm0 9zm0 0zm6-19zm0 0zm0 10zm1-10zm0 19zm3 0zm2-9zm2 0zm1 0zm2 9zm1-9zm1 9zm3 0zm0 0zm1-9zm0 9zm2-19zm0 19zm3-9zm5 0zm1 9zm1-9zm2 9zm1 0zm3 0zm2-9zm0 9zm1 0zm2 0zm2-9zm0 9zm6-9zm0 9zm4 0zm3-9zm0 9zm1 0zm1 0zm1-9zm4 9zm2-19zm0 19zm2-9zm1 0zm1 0zm5 0zm0 9zm0 0zm1-19zm0 19zm0 0zm1-9zm2 0zm0 9zm0 0zm2 0zm2-9zm0 0zm1 0zm1 0zm0 9zm2 0zm6-19zm0 10zm1 9zm3 0zm0 0zm1 0zm2 0zm7-9zm14-10zm2 19zm1-9zm0 9zm5-9zm1-10zm4 10zm4 9zm7 0zm4 0zm10 0zm4-19zm3 19zm2 0zm3 0zm2 0zm0 0zm5 0zm1-9zm3 0zm3 9zm1-9zm3 0zm5-10zm0 10zm1 0zm1-10zm2 0zm8 19zm1 0zm3 0zm2-9zm0 9zm1-9zm0 0zm4 0zm0 9zm12-9zm7-10zm0 19zm4 0zm14-9zm1 9zm1 0zm1-9zm1 0zm10 9zm1 0zm11-19zm0 10zm6 9zm3-9zm4-10zm5 19zm3-9z" fill="none" stroke="#b4e29c" stroke-linecap="round" stroke-width="7.4" stroke-opacity="0.15"/>
<defs><linearGradient id="gbn" x1="0" y1="1" x2="0" y2="0"><stop offset="0" stop-color="#cfeac0" stop-opacity="0.96"/><stop offset="0.16" stop-color="#cce9c0" stop-opacity="0.93"/><stop offset="0.2" stop-color="#b4dcc0" stop-opacity="0.85"/><stop offset="0.27" stop-color="#9ccdc4" stop-opacity="0.75"/><stop offset="0.45" stop-color="#98cac4" stop-opacity="0.5"/><stop offset="0.58" stop-color="#98cac4" stop-opacity="0.28"/><stop offset="0.78" stop-color="#98cac4" stop-opacity="0.1"/><stop offset="1" stop-color="#98cac4" stop-opacity="0.04"/></linearGradient><linearGradient id="gbz" x1="0" y1="1" x2="0" y2="0"><stop offset="0" stop-color="#a8d4c0" stop-opacity="0.9"/><stop offset="0.03" stop-color="#cdeac0" stop-opacity="0.95"/><stop offset="0.34" stop-color="#c6e7c0" stop-opacity="0.95"/><stop offset="0.48" stop-color="#a4d4c4" stop-opacity="0.9"/><stop offset="0.8" stop-color="#8cc8c0" stop-opacity="0.9"/><stop offset="1" stop-color="#9cd0c8" stop-opacity="0.7"/></linearGradient><linearGradient id="gbb" x1="0" y1="1" x2="0" y2="0"><stop offset="0" stop-color="#d0ebc2" stop-opacity="1"/><stop offset="0.5" stop-color="#cfeac2" stop-opacity="0.9"/><stop offset="1" stop-color="#c8e6c4" stop-opacity="0"/></linearGradient><linearGradient id="gbc" x1="0" y1="1" x2="0" y2="0"><stop offset="0" stop-color="#acd8c2" stop-opacity="0.75"/><stop offset="0.25" stop-color="#a0cec6" stop-opacity="0.55"/><stop offset="0.5" stop-color="#a4d0c8" stop-opacity="0.25"/><stop offset="0.8" stop-color="#a4d0c8" stop-opacity="0.07"/><stop offset="1" stop-color="#a4d0c8" stop-opacity="0"/></linearGradient><linearGradient id="gbt" x1="0" y1="1" x2="0" y2="0"><stop offset="0" stop-color="#d0ebc2" stop-opacity="0.62"/><stop offset="0.6" stop-color="#d0ebc2" stop-opacity="0.5"/><stop offset="1" stop-color="#d0ebc2" stop-opacity="0"/></linearGradient></defs><g><rect x="175.0" y="1051.8" width="7.4" height="777.2" rx="3.7" fill="url(#gbz)"/><rect x="192.9" y="1055.5" width="7.4" height="773.5" rx="3.7" fill="url(#gbn)" opacity="1.00"/><rect x="200.4" y="1063.5" width="7.4" height="765.5" rx="3.7" fill="url(#gbn)" opacity="0.97"/><rect x="210.9" y="1074.7" width="7.4" height="754.3" rx="3.7" fill="url(#gbn)" opacity="0.92"/><rect x="215.1" y="1079.3" width="7.4" height="749.7" rx="3.7" fill="url(#gbn)" opacity="0.90"/><rect x="225.7" y="1090.7" width="7.4" height="738.3" rx="3.7" fill="url(#gbn)" opacity="0.85"/><rect x="228.8" y="1094.0" width="7.4" height="735.0" rx="3.7" fill="url(#gbn)" opacity="0.84"/><rect x="231.7" y="1100.7" width="7.4" height="728.3" rx="3.7" fill="url(#gbn)" opacity="0.83"/><rect x="239.6" y="1119.0" width="7.4" height="710.0" rx="3.7" fill="url(#gbn)" opacity="0.79"/><rect x="246.7" y="1135.2" width="7.4" height="693.8" rx="3.7" fill="url(#gbn)" opacity="0.76"/><rect x="248.9" y="1140.3" width="7.4" height="688.7" rx="3.7" fill="url(#gbn)" opacity="0.75"/><rect x="251.1" y="1145.2" width="7.4" height="683.8" rx="3.7" fill="url(#gbn)" opacity="0.74"/><rect x="255.2" y="1154.7" width="7.4" height="674.3" rx="3.7" fill="url(#gbn)" opacity="0.72"/><rect x="264.6" y="1176.5" width="7.4" height="652.5" rx="3.7" fill="url(#gbn)" opacity="0.68"/><rect x="266.4" y="1180.6" width="7.4" height="648.4" rx="3.7" fill="url(#gbn)" opacity="0.68"/><rect x="271.5" y="1192.3" width="7.4" height="636.7" rx="3.7" fill="url(#gbn)" opacity="0.65"/><rect x="276.4" y="1203.6" width="7.4" height="625.4" rx="3.7" fill="url(#gbn)" opacity="0.63"/><rect x="285.2" y="1331.8" width="8.05" height="497.2" fill="url(#gbc)" opacity="0.94"/><rect x="285.2" y="1781.4" width="8.05" height="47.6" fill="url(#gbb)" opacity="0.95"/><rect x="293.2" y="1339.8" width="8.05" height="489.2" fill="url(#gbc)" opacity="0.94"/><rect x="293.2" y="1781.7" width="8.05" height="47.3" fill="url(#gbb)" opacity="0.94"/><rect x="301.2" y="1347.8" width="8.05" height="481.2" fill="url(#gbc)" opacity="0.93"/><rect x="301.2" y="1782.0" width="8.05" height="47.0" fill="url(#gbb)" opacity="0.94"/><rect x="309.2" y="1355.8" width="8.05" height="473.2" fill="url(#gbc)" opacity="0.92"/><rect x="309.2" y="1782.4" width="8.05" height="46.6" fill="url(#gbb)" opacity="0.94"/><rect x="317.2" y="1363.8" width="8.05" height="465.2" fill="url(#gbc)" opacity="0.92"/><rect x="317.2" y="1782.7" width="8.05" height="46.3" fill="url(#gbb)" opacity="0.94"/><rect x="325.2" y="1371.8" width="8.05" height="457.2" fill="url(#gbc)" opacity="0.91"/><rect x="325.2" y="1783.0" width="8.05" height="46.0" fill="url(#gbb)" opacity="0.93"/><rect x="333.2" y="1379.7" width="8.05" height="449.3" fill="url(#gbc)" opacity="0.90"/><rect x="333.2" y="1783.3" width="8.05" height="45.7" fill="url(#gbb)" opacity="0.93"/><rect x="341.2" y="1387.7" width="8.05" height="441.3" fill="url(#gbc)" opacity="0.90"/><rect x="341.2" y="1783.7" width="8.05" height="45.3" fill="url(#gbb)" opacity="0.93"/><rect x="349.2" y="1395.7" width="8.05" height="433.3" fill="url(#gbc)" opacity="0.89"/><rect x="349.2" y="1784.0" width="8.05" height="45.0" fill="url(#gbb)" opacity="0.92"/><rect x="357.2" y="1403.7" width="8.05" height="425.3" fill="url(#gbc)" opacity="0.88"/><rect x="357.2" y="1784.3" width="8.05" height="44.7" fill="url(#gbb)" opacity="0.92"/><rect x="365.2" y="1411.7" width="8.05" height="417.3" fill="url(#gbc)" opacity="0.88"/><rect x="365.2" y="1784.7" width="8.05" height="44.3" fill="url(#gbb)" opacity="0.92"/><rect x="373.2" y="1419.7" width="8.05" height="409.3" fill="url(#gbc)" opacity="0.87"/><rect x="373.2" y="1785.0" width="8.05" height="44.0" fill="url(#gbb)" opacity="0.92"/><rect x="381.2" y="1427.7" width="8.05" height="401.3" fill="url(#gbc)" opacity="0.86"/><rect x="381.2" y="1785.3" width="8.05" height="43.7" fill="url(#gbb)" opacity="0.91"/><rect x="389.2" y="1435.7" width="8.05" height="393.3" fill="url(#gbc)" opacity="0.86"/><rect x="389.2" y="1785.7" width="8.05" height="43.3" fill="url(#gbb)" opacity="0.91"/><rect x="397.2" y="1443.7" width="8.05" height="385.3" fill="url(#gbc)" opacity="0.85"/><rect x="397.2" y="1786.0" width="8.05" height="43.0" fill="url(#gbb)" opacity="0.91"/><rect x="405.2" y="1454.2" width="8.05" height="374.8" fill="url(#gbc)" opacity="0.84"/><rect x="405.2" y="1786.3" width="8.05" height="42.7" fill="url(#gbb)" opacity="0.90"/><rect x="413.2" y="1465.4" width="8.05" height="363.6" fill="url(#gbc)" opacity="0.82"/><rect x="413.2" y="1786.6" width="8.05" height="42.4" fill="url(#gbb)" opacity="0.90"/><rect x="421.2" y="1476.5" width="8.05" height="352.5" fill="url(#gbc)" opacity="0.81"/><rect x="421.2" y="1787.0" width="8.05" height="42.0" fill="url(#gbb)" opacity="0.90"/><rect x="429.2" y="1487.7" width="8.05" height="341.3" fill="url(#gbc)" opacity="0.79"/><rect x="429.2" y="1787.3" width="8.05" height="41.7" fill="url(#gbb)" opacity="0.90"/><rect x="437.2" y="1498.8" width="8.05" height="330.2" fill="url(#gbc)" opacity="0.78"/><rect x="437.2" y="1787.6" width="8.05" height="41.4" fill="url(#gbb)" opacity="0.89"/><rect x="445.2" y="1510.0" width="8.05" height="319.0" fill="url(#gbc)" opacity="0.76"/><rect x="445.2" y="1788.1" width="8.05" height="40.9" fill="url(#gbb)" opacity="0.89"/><rect x="453.2" y="1521.1" width="8.05" height="307.9" fill="url(#gbc)" opacity="0.75"/><rect x="453.2" y="1789.0" width="8.05" height="40.0" fill="url(#gbb)" opacity="0.89"/><rect x="461.2" y="1532.3" width="8.05" height="296.7" fill="url(#gbc)" opacity="0.73"/><rect x="461.2" y="1789.9" width="8.05" height="39.1" fill="url(#gbb)" opacity="0.88"/><rect x="469.2" y="1543.4" width="8.05" height="285.6" fill="url(#gbc)" opacity="0.72"/><rect x="469.2" y="1790.8" width="8.05" height="38.2" fill="url(#gbb)" opacity="0.88"/><rect x="477.2" y="1554.9" width="8.05" height="274.1" fill="url(#gbc)" opacity="0.70"/><rect x="477.2" y="1791.7" width="8.05" height="37.3" fill="url(#gbb)" opacity="0.84"/><rect x="485.2" y="1566.3" width="8.05" height="262.7" fill="url(#gbc)" opacity="0.69"/><rect x="485.2" y="1792.6" width="8.05" height="36.4" fill="url(#gbb)" opacity="0.79"/><rect x="493.2" y="1577.8" width="8.05" height="251.2" fill="url(#gbc)" opacity="0.67"/><rect x="493.2" y="1793.5" width="8.05" height="35.5" fill="url(#gbb)" opacity="0.74"/><rect x="501.2" y="1589.3" width="8.05" height="239.7" fill="url(#gbc)" opacity="0.66"/><rect x="501.2" y="1794.4" width="8.05" height="34.6" fill="url(#gbb)" opacity="0.69"/><rect x="509.2" y="1600.8" width="8.05" height="228.2" fill="url(#gbc)" opacity="0.64"/><rect x="509.2" y="1795.4" width="8.05" height="33.6" fill="url(#gbb)" opacity="0.65"/><rect x="517.2" y="1612.2" width="8.05" height="216.8" fill="url(#gbc)" opacity="0.63"/><rect x="517.2" y="1796.3" width="8.05" height="32.7" fill="url(#gbb)" opacity="0.60"/><rect x="525.2" y="1623.7" width="8.05" height="205.3" fill="url(#gbc)" opacity="0.62"/><rect x="525.2" y="1797.2" width="8.05" height="31.8" fill="url(#gbb)" opacity="0.55"/><rect x="533.2" y="1635.2" width="8.05" height="193.8" fill="url(#gbc)" opacity="0.60"/><rect x="533.2" y="1798.1" width="8.05" height="30.9" fill="url(#gbb)" opacity="0.50"/><rect x="541.2" y="1643.7" width="8.05" height="185.3" fill="url(#gbc)" opacity="0.57"/><rect x="541.2" y="1799.0" width="8.05" height="30.0" fill="url(#gbb)" opacity="0.46"/><rect x="549.2" y="1652.2" width="8.05" height="176.8" fill="url(#gbc)" opacity="0.55"/><rect x="549.2" y="1799.9" width="8.05" height="29.1" fill="url(#gbb)" opacity="0.43"/><rect x="557.2" y="1660.7" width="8.05" height="168.3" fill="url(#gbc)" opacity="0.52"/><rect x="557.2" y="1800.8" width="8.05" height="28.2" fill="url(#gbb)" opacity="0.39"/><rect x="565.2" y="1669.1" width="8.05" height="159.9" fill="url(#gbc)" opacity="0.49"/><rect x="565.2" y="1801.7" width="8.05" height="27.3" fill="url(#gbb)" opacity="0.36"/><rect x="573.2" y="1677.6" width="8.05" height="151.4" fill="url(#gbc)" opacity="0.47"/><rect x="573.2" y="1802.6" width="8.05" height="26.4" fill="url(#gbb)" opacity="0.32"/><rect x="581.2" y="1686.1" width="8.05" height="142.9" fill="url(#gbc)" opacity="0.44"/><rect x="581.2" y="1803.5" width="8.05" height="25.5" fill="url(#gbb)" opacity="0.29"/><rect x="589.2" y="1694.6" width="8.05" height="134.4" fill="url(#gbc)" opacity="0.41"/><rect x="589.2" y="1804.2" width="8.05" height="24.8" fill="url(#gbb)" opacity="0.28"/><rect x="597.2" y="1703.0" width="8.05" height="126.0" fill="url(#gbc)" opacity="0.39"/><rect x="597.2" y="1804.9" width="8.05" height="24.1" fill="url(#gbb)" opacity="0.26"/><rect x="605.2" y="1711.5" width="8.05" height="117.5" fill="url(#gbc)" opacity="0.36"/><rect x="605.2" y="1805.6" width="8.05" height="23.4" fill="url(#gbb)" opacity="0.24"/><rect x="613.2" y="1720.0" width="8.05" height="109.0" fill="url(#gbc)" opacity="0.33"/><rect x="613.2" y="1806.3" width="8.05" height="22.7" fill="url(#gbb)" opacity="0.23"/><rect x="621.2" y="1728.5" width="8.05" height="100.5" fill="url(#gbc)" opacity="0.31"/><rect x="621.2" y="1807.0" width="8.05" height="22.0" fill="url(#gbb)" opacity="0.21"/><rect x="629.2" y="1732.8" width="8.05" height="96.2" fill="url(#gbc)" opacity="0.29"/><rect x="629.2" y="1807.7" width="8.05" height="21.3" fill="url(#gbb)" opacity="0.19"/><rect x="637.2" y="1735.9" width="8.05" height="93.1" fill="url(#gbc)" opacity="0.28"/><rect x="637.2" y="1808.4" width="8.05" height="20.6" fill="url(#gbb)" opacity="0.18"/><rect x="645.2" y="1739.0" width="8.05" height="90.0" fill="url(#gbc)" opacity="0.27"/><rect x="645.2" y="1809.1" width="8.05" height="19.9" fill="url(#gbb)" opacity="0.16"/><rect x="653.2" y="1742.1" width="8.05" height="86.9" fill="url(#gbc)" opacity="0.26"/><rect x="653.2" y="1809.8" width="8.05" height="19.2" fill="url(#gbb)" opacity="0.14"/><rect x="661.2" y="1745.2" width="8.05" height="83.8" fill="url(#gbc)" opacity="0.25"/><rect x="661.2" y="1810.6" width="8.05" height="18.4" fill="url(#gbb)" opacity="0.13"/><rect x="669.2" y="1748.4" width="8.05" height="80.6" fill="url(#gbc)" opacity="0.24"/><rect x="669.2" y="1811.3" width="8.05" height="17.7" fill="url(#gbb)" opacity="0.12"/><rect x="677.2" y="1751.5" width="8.05" height="77.5" fill="url(#gbc)" opacity="0.23"/><rect x="677.2" y="1812.0" width="8.05" height="17.0" fill="url(#gbb)" opacity="0.12"/><rect x="685.2" y="1754.6" width="8.05" height="74.4" fill="url(#gbc)" opacity="0.22"/><rect x="685.2" y="1812.7" width="8.05" height="16.3" fill="url(#gbb)" opacity="0.12"/><rect x="693.2" y="1757.7" width="8.05" height="71.3" fill="url(#gbc)" opacity="0.21"/><rect x="693.2" y="1813.4" width="8.05" height="15.6" fill="url(#gbb)" opacity="0.11"/><rect x="701.2" y="1760.9" width="8.05" height="68.1" fill="url(#gbc)" opacity="0.20"/><rect x="701.2" y="1814.1" width="8.05" height="14.9" fill="url(#gbb)" opacity="0.11"/><rect x="709.2" y="1764.0" width="8.05" height="65.0" fill="url(#gbc)" opacity="0.19"/><rect x="709.2" y="1814.8" width="8.05" height="14.2" fill="url(#gbb)" opacity="0.10"/><rect x="717.2" y="1765.9" width="8.05" height="63.1" fill="url(#gbc)" opacity="0.18"/><rect x="717.2" y="1815.2" width="8.05" height="13.8" fill="url(#gbb)" opacity="0.10"/><rect x="725.2" y="1766.9" width="8.05" height="62.1" fill="url(#gbc)" opacity="0.17"/><rect x="725.2" y="1815.3" width="8.05" height="13.7" fill="url(#gbb)" opacity="0.09"/><rect x="733.2" y="1768.0" width="8.05" height="61.0" fill="url(#gbc)" opacity="0.16"/><rect x="733.2" y="1815.4" width="8.05" height="13.6" fill="url(#gbb)" opacity="0.09"/><rect x="741.2" y="1769.0" width="8.05" height="60.0" fill="url(#gbc)" opacity="0.15"/><rect x="741.2" y="1815.5" width="8.05" height="13.5" fill="url(#gbb)" opacity="0.08"/><rect x="749.2" y="1770.0" width="8.05" height="59.0" fill="url(#gbc)" opacity="0.15"/><rect x="749.2" y="1815.6" width="8.05" height="13.4" fill="url(#gbb)" opacity="0.08"/><rect x="757.2" y="1771.0" width="8.05" height="58.0" fill="url(#gbc)" opacity="0.14"/><rect x="757.2" y="1815.8" width="8.05" height="13.2" fill="url(#gbb)" opacity="0.08"/><rect x="765.2" y="1772.1" width="8.05" height="56.9" fill="url(#gbc)" opacity="0.13"/><rect x="765.2" y="1815.9" width="8.05" height="13.1" fill="url(#gbb)" opacity="0.07"/><rect x="773.2" y="1773.1" width="8.05" height="55.9" fill="url(#gbc)" opacity="0.12"/><rect x="773.2" y="1816.0" width="8.05" height="13.0" fill="url(#gbb)" opacity="0.07"/><rect x="781.2" y="1774.1" width="8.05" height="54.9" fill="url(#gbc)" opacity="0.11"/><rect x="781.2" y="1816.1" width="8.05" height="12.9" fill="url(#gbb)" opacity="0.06"/><rect x="789.2" y="1775.2" width="8.05" height="53.8" fill="url(#gbc)" opacity="0.10"/><rect x="789.2" y="1816.2" width="8.05" height="12.8" fill="url(#gbb)" opacity="0.06"/><rect x="797.2" y="1776.2" width="8.05" height="52.8" fill="url(#gbc)" opacity="0.09"/><rect x="797.2" y="1816.3" width="8.05" height="12.7" fill="url(#gbb)" opacity="0.05"/><rect x="805.2" y="1777.2" width="8.05" height="51.8" fill="url(#gbc)" opacity="0.08"/><rect x="805.2" y="1816.5" width="8.05" height="12.5" fill="url(#gbb)" opacity="0.05"/><rect x="813.2" y="1778.3" width="8.05" height="50.7" fill="url(#gbc)" opacity="0.08"/><rect x="813.2" y="1816.6" width="8.05" height="12.4" fill="url(#gbb)" opacity="0.05"/><rect x="821.2" y="1779.3" width="8.05" height="49.7" fill="url(#gbc)" opacity="0.07"/><rect x="821.2" y="1816.7" width="8.05" height="12.3" fill="url(#gbb)" opacity="0.05"/><rect x="829.2" y="1780.3" width="8.05" height="48.7" fill="url(#gbc)" opacity="0.07"/><rect x="829.2" y="1816.8" width="8.05" height="12.2" fill="url(#gbb)" opacity="0.04"/><rect x="837.2" y="1781.3" width="8.05" height="47.7" fill="url(#gbc)" opacity="0.07"/><rect x="837.2" y="1816.9" width="8.05" height="12.1" fill="url(#gbb)" opacity="0.04"/><rect x="845.2" y="1782.4" width="8.05" height="46.6" fill="url(#gbc)" opacity="0.06"/><rect x="845.2" y="1817.0" width="8.05" height="12.0" fill="url(#gbb)" opacity="0.04"/><rect x="853.2" y="1783.4" width="8.05" height="45.6" fill="url(#gbc)" opacity="0.06"/><rect x="853.2" y="1817.2" width="8.05" height="11.8" fill="url(#gbb)" opacity="0.04"/><rect x="861.2" y="1784.4" width="8.05" height="44.6" fill="url(#gbc)" opacity="0.06"/><rect x="861.2" y="1817.3" width="8.05" height="11.7" fill="url(#gbb)" opacity="0.04"/><rect x="869.2" y="1785.5" width="8.05" height="43.5" fill="url(#gbc)" opacity="0.05"/><rect x="869.2" y="1817.4" width="8.05" height="11.6" fill="url(#gbb)" opacity="0.04"/><rect x="877.2" y="1786.5" width="8.05" height="42.5" fill="url(#gbc)" opacity="0.05"/><rect x="877.2" y="1817.5" width="8.05" height="11.5" fill="url(#gbb)" opacity="0.03"/><rect x="885.2" y="1787.5" width="8.05" height="41.5" fill="url(#gbc)" opacity="0.05"/><rect x="885.2" y="1817.6" width="8.05" height="11.4" fill="url(#gbb)" opacity="0.03"/><rect x="893.2" y="1788.6" width="8.05" height="40.4" fill="url(#gbc)" opacity="0.04"/><rect x="893.2" y="1817.7" width="8.05" height="11.3" fill="url(#gbb)" opacity="0.03"/><rect x="901.2" y="1789.6" width="8.05" height="39.4" fill="url(#gbc)" opacity="0.04"/><rect x="901.2" y="1817.9" width="8.05" height="11.1" fill="url(#gbb)" opacity="0.03"/><rect x="909.2" y="1790.6" width="8.05" height="38.4" fill="url(#gbc)" opacity="0.04"/><rect x="909.2" y="1818.0" width="8.05" height="11.0" fill="url(#gbb)" opacity="0.03"/><rect x="917.2" y="1791.6" width="8.05" height="37.4" fill="url(#gbc)" opacity="0.03"/><rect x="917.2" y="1818.1" width="8.05" height="10.9" fill="url(#gbb)" opacity="0.03"/><rect x="925.2" y="1792.7" width="8.05" height="36.3" fill="url(#gbc)" opacity="0.03"/><rect x="925.2" y="1818.2" width="8.05" height="10.8" fill="url(#gbb)" opacity="0.02"/><rect x="933.2" y="1793.7" width="8.05" height="35.3" fill="url(#gbc)" opacity="0.03"/><rect x="933.2" y="1818.3" width="8.05" height="10.7" fill="url(#gbb)" opacity="0.02"/><rect x="941.2" y="1794.7" width="8.05" height="34.3" fill="url(#gbc)" opacity="0.02"/><rect x="941.2" y="1818.4" width="8.05" height="10.6" fill="url(#gbb)" opacity="0.02"/><rect x="949.2" y="1795.3" width="8.05" height="33.7" fill="url(#gbc)" opacity="0.02"/><rect x="949.2" y="1818.5" width="8.05" height="10.5" fill="url(#gbb)" opacity="0.02"/></g><g fill="none" stroke-linecap="round" stroke-width="7.4" stroke-opacity="0.085"><path d="M197 1359zm0 171zm0 79zm0 3zm0 51zm0 6zm0 18zm0 44zm0 21zm0 44zm0 7zm7-736zm0 74zm0 328zm0 87zm0 77zm0 3zm0 39zm0 25zm0 17zm0 7zm0 4zm0 13zm0 32zm0 3zm0 8zm11-245zm0 41zm0 23zm0 17zm0 55zm0 11zm0 18zm0 27zm0 17zm0 25zm0 29zm0 7zm0 5zm4-228zm0 85zm0 9zm0 26zm0 12zm0 4zm0 22zm0 8zm0 6zm0 9zm0 10zm0 30zm10-704zm0 510zm0 74zm0 37zm0 41zm3-87zm0 67zm0 29zm0 1zm0 27zm3-577zm0 289zm0 132zm0 46zm0 4zm0 2zm0 22zm0 3zm0 24zm8-98zm0 44zm0 0zm0 7zm0 25zm0 49zm0 6zm0 11zm0 24zm7-148zm0 93zm0 3zm3-203zm0 101zm0 31zm0 86zm0 23zm0 16zm2-138zm0 14zm0 16zm0 12zm4-190zm0 31zm0 86zm0 7zm0 21zm0 2zm0 5zm0 24zm0 10zm0 2zm0 21zm0 38zm0 14zm9-119zm0 98zm0 20zm2-82zm0 8zm5-116zm0 74zm0 99zm5-146zm0 26zm0 81zm0 25zm0 45zm3-326zm0 251zm0 25zm0 29zm0 6zm3-216zm0 66zm0 34zm0 25zm0 63zm0 8zm0 14zm2-39zm4-235zm0 91zm0 197zm1-36zm0 16zm6-155zm0 3zm0 131zm5 1zm1-33zm0 50zm3-70zm0 62zm1-85zm0 14zm0 62zm0 18zm6-13zm0 21zm0 15zm8-76zm0 58zm4-190zm0 132zm0 35zm0 52zm4-87zm0 5zm0 95zm1-309zm1 200zm0 82zm7-34zm0 34zm1-115zm3 46zm0 33zm0 37zm4-6zm1-45zm0 32zm6 25zm1-134zm6 135zm10-10zm1 29zm3-149zm0 63zm3-79zm0 0zm0 11zm4 106zm0 13zm5-42zm7 41zm12-181zm8 185zm3-27zm12-141zm10 143zm5-32zm0 43zm7-78zm16 66zm11 9zm9 38zm8-27zm18-3zm0 13z" stroke="#7d95a2"/><path d="M197 1224zm0 219zm0 72zm0 21zm0 7zm0 1zm0 62zm0 95zm0 14zm0 0zm0 22zm0 8zm0 1zm0 13zm0 1zm0 43zm0 9zm7-670zm0 65zm0 162zm0 62zm0 106zm0 20zm0 2zm0 32zm0 42zm0 10zm0 7zm0 21zm0 16zm0 13zm0 7zm0 4zm0 5zm0 14zm0 17zm0 26zm0 1zm0 12zm0 34zm11-267zm0 22zm0 100zm0 22zm0 29zm0 1zm0 4zm0 18zm0 21zm0 5zm0 14zm4-494zm0 283zm0 108zm0 25zm0 5zm0 1zm0 0zm0 8zm0 2zm0 18zm0 13zm0 1zm0 22zm0 9zm0 15zm10-274zm0 24zm0 49zm0 74zm0 57zm0 33zm0 2zm0 19zm0 24zm3-488zm0 128zm0 59zm0 101zm0 46zm0 34zm0 17zm0 6zm0 14zm0 11zm0 14zm0 26zm0 25zm3-336zm0 91zm0 41zm0 39zm0 17zm0 83zm0 3zm0 0zm8-447zm0 40zm0 259zm0 87zm0 15zm0 16zm0 29zm0 21zm0 5zm0 35zm7-297zm0 60zm0 72zm0 27zm0 48zm0 3zm0 28zm0 9zm0 3zm0 21zm0 24zm3-237zm0 17zm0 8zm0 79zm0 5zm0 4zm0 16zm0 37zm0 3zm0 17zm0 5zm2-332zm0 30zm0 151zm0 62zm0 73zm0 15zm0 8zm0 28zm4-237zm0 59zm0 11zm0 33zm0 40zm0 19zm0 12zm0 10zm0 13zm0 4zm0 23zm0 40zm9-489zm0 362zm0 5zm0 28zm0 26zm0 19zm0 11zm0 11zm2-223zm0 129zm0 8zm0 16zm0 4zm0 70zm5-386zm0 281zm0 6zm0 59zm0 28zm5-292zm0 138zm0 8zm0 34zm0 25zm0 12zm3-40zm0 20zm0 76zm3-125zm0 6zm0 60zm0 31zm0 50zm0 8zm0 17zm0 3zm2-93zm0 17zm0 2zm0 4zm0 8zm0 4zm0 15zm0 15zm4-509zm0 350zm0 53zm0 9zm0 15zm0 65zm1-64zm0 23zm0 5zm0 20zm0 16zm0 6zm6-57zm0 51zm5 28zm0 17zm1-40zm3-181zm0 177zm1-54zm0 65zm6-339zm0 351zm4-11zm3-17zm0 31zm1-7zm4-167zm0 137zm0 18zm4-58zm0 81zm1-76zm0 38zm0 9zm0 13zm0 38zm7-130zm0 12zm1-141zm0 85zm1 56zm0 66zm0 29zm0 5zm0 9zm3-151zm0 121zm0 4zm4-112zm0 91zm1-251zm0 127zm0 75zm0 100zm7-71zm2 7zm0 6zm0 4zm0 29zm0 25zm1-144zm0 30zm0 112zm3-26zm1-3zm3-74zm0 12zm3 2zm0 45zm4-29zm0 2zm0 35zm0 32zm4-20zm5-82zm1-5zm5 58zm1 5zm5 5zm0 9zm1-76zm0 26zm2-31zm0 117zm3-11zm3-99zm4-22zm5 79zm0 0zm0 45zm3-73zm5-143zm0 168zm3-146zm0 127zm12 52zm2 11zm11-64zm4 69zm6-12zm10-40zm11 38zm0 26zm7-107zm6 29zm28 60zm16-44z" stroke="#799ea8"/><path d="M197 1056zm0 246zm0 197zm0 44zm0 26zm0 30zm0 0zm0 12zm0 29zm0 10zm0 1zm0 19zm0 20zm0 2zm0 6zm0 26zm0 20zm0 7zm0 4zm0 6zm0 10zm0 48zm7-632zm0 156zm0 208zm0 53zm0 1zm0 25zm0 14zm0 36zm0 13zm0 18zm0 30zm0 38zm0 20zm0 7zm11-646zm0 232zm0 72zm0 21zm0 78zm0 5zm0 6zm0 1zm0 23zm0 74zm0 5zm0 10zm0 2zm0 0zm0 1zm0 9zm0 5zm0 30zm0 3zm0 20zm0 4zm0 4zm0 12zm0 20zm0 5zm0 6zm4-393zm0 97zm0 38zm0 27zm0 47zm0 22zm0 21zm0 2zm0 5zm0 5zm0 22zm0 5zm0 28zm0 13zm0 1zm0 7zm0 11zm0 0zm0 9zm0 3zm0 5zm0 5zm0 12zm0 2zm10-405zm0 124zm0 48zm0 39zm0 5zm0 46zm0 4zm0 4zm0 9zm0 3zm0 5zm0 20zm0 6zm0 1zm0 7zm0 30zm0 4zm0 1zm0 7zm0 0zm0 8zm0 4zm0 4zm0 5zm0 3zm0 1zm0 2zm0 15zm0 1zm3-285zm0 9zm0 2zm0 106zm0 0zm0 12zm0 7zm0 8zm0 2zm0 26zm0 11zm0 11zm0 32zm0 5zm0 16zm3-230zm0 23zm0 51zm0 14zm0 16zm0 10zm0 12zm0 15zm0 18zm0 26zm0 7zm0 8zm0 20zm0 5zm0 1zm0 11zm0 15zm0 12zm8-287zm0 20zm0 43zm0 24zm0 75zm0 20zm0 63zm0 1zm0 16zm0 4zm0 4zm0 6zm7-601zm0 155zm0 27zm0 166zm0 73zm0 1zm0 16zm0 5zm0 37zm0 6zm0 58zm0 17zm0 3zm0 32zm0 0zm0 21zm3-270zm0 25zm0 51zm0 19zm0 70zm0 43zm0 24zm0 37zm0 4zm2-453zm0 212zm0 36zm0 17zm0 56zm0 3zm0 24zm0 33zm0 1zm0 4zm0 10zm0 19zm0 9zm0 16zm4-316zm0 69zm0 30zm0 21zm0 86zm0 1zm0 35zm0 1zm0 10zm0 17zm0 0zm0 11zm0 1zm0 19zm0 3zm0 2zm0 17zm0 14zm9-689zm0 301zm0 24zm0 149zm0 46zm0 23zm0 13zm0 42zm0 21zm0 5zm0 12zm0 4zm0 1zm0 36zm0 10zm2-299zm0 13zm0 19zm0 79zm0 15zm0 10zm0 90zm0 14zm0 11zm0 14zm0 38zm5-302zm0 110zm0 25zm0 13zm0 62zm0 16zm0 32zm0 1zm0 4zm0 18zm0 16zm5-179zm0 8zm0 12zm0 1zm0 8zm0 6zm0 31zm0 6zm0 10zm0 2zm0 53zm0 12zm0 4zm0 10zm3-130zm0 11zm0 11zm0 15zm0 18zm0 45zm0 3zm0 14zm0 11zm3-126zm0 24zm0 9zm0 15zm0 22zm0 50zm0 12zm2-222zm0 29zm0 47zm0 32zm0 10zm0 16zm0 62zm0 9zm0 3zm4-499zm0 43zm0 178zm0 25zm0 84zm0 17zm0 53zm0 31zm0 8zm0 6zm0 3zm0 45zm1-182zm0 35zm0 82zm0 11zm0 59zm0 13zm6-176zm0 97zm0 18zm0 35zm0 25zm5-176zm0 46zm0 54zm0 15zm0 24zm0 20zm0 3zm1-174zm0 92zm0 14zm0 14zm0 12zm0 6zm0 5zm0 25zm0 7zm0 3zm0 30zm3-144zm0 22zm0 8zm0 2zm0 5zm0 4zm0 21zm0 48zm0 37zm0 3zm1-157zm0 42zm0 24zm0 24zm0 35zm6-274zm0 167zm0 5zm0 44zm0 22zm0 2zm0 27zm0 1zm0 1zm0 21zm4-176zm0 71zm0 47zm0 46zm0 16zm3-224zm0 34zm0 97zm0 14zm0 10zm0 12zm0 28zm0 0zm0 15zm0 8zm1-88zm0 60zm0 11zm4-168zm0 114zm0 4zm0 40zm4-61zm0 29zm0 27zm0 8zm0 8zm1-157zm0 77zm0 50zm0 7zm0 33zm1-105zm0 4zm0 21zm0 22zm0 8zm0 7zm0 13zm0 10zm0 6zm0 0zm0 14zm6-206zm0 36zm0 19zm0 45zm0 9zm0 6zm0 16zm0 81zm1-125zm0 32zm0 9zm1-12zm0 2zm0 38zm3-179zm0 128zm0 8zm0 4zm0 31zm0 7zm0 21zm0 2zm4-56zm0 34zm0 20zm1 6zm6-123zm0 46zm0 20zm0 15zm0 9zm0 49zm1-81zm0 13zm0 2zm0 31zm2-47zm0 18zm0 51zm0 11zm1-88zm0 54zm0 55zm3-186zm0 35zm0 19zm0 92zm0 8zm1-87zm0 26zm0 1zm0 37zm0 25zm3-120zm0 95zm0 25zm3-60zm0 43zm3-151zm0 93zm0 44zm1-15zm0 10zm0 16zm0 41zm3-62zm0 71zm1-164zm0 91zm0 71zm5-299zm0 147zm0 126zm1-41zm0 35zm5-14zm0 27zm6-26zm0 31zm0 9zm1-170zm0 107zm0 2zm0 35zm0 3zm0 15zm0 2zm2 1zm1-55zm0 37zm0 7zm0 11zm2-60zm0 43zm0 28zm3-83zm2 35zm0 1zm0 27zm2-41zm0 45zm5-125zm3 4zm0 29zm3 47zm0 18zm1 47zm1-77zm0 56zm3 13zm5-97zm0 24zm0 19zm0 22zm0 9zm2-4zm5-1zm5-46zm0 81zm3-11zm5-51zm0 57zm4-2zm7 7zm3-60zm6 44zm5-6zm10 5zm2-94zm2 68zm9 0zm0 5zm2 32zm1-58zm2 50zm1-35zm0 1zm6-16zm0 28zm1-41zm3 39zm4 27zm3-10zm1-63zm12 11zm0 3zm0 51zm5 14z" stroke="#7ab0b0"/><path d="M197 1074zm0 242zm0 37zm0 108zm0 3zm0 2zm0 14zm0 40zm0 7zm0 16zm0 1zm0 39zm0 1zm0 5zm0 13zm0 9zm0 0zm0 5zm0 17zm0 1zm0 14zm0 8zm0 7zm0 8zm0 8zm0 10zm0 16zm0 1zm0 3zm0 3zm0 13zm0 4zm0 9zm0 15zm0 0zm0 18zm0 9zm0 3zm0 10zm0 11zm0 8zm7-591zm0 10zm0 142zm0 3zm0 4zm0 27zm0 19zm0 86zm0 5zm0 2zm0 0zm0 5zm0 69zm0 12zm0 60zm0 26zm0 8zm0 1zm0 5zm0 1zm0 2zm0 0zm0 15zm0 4zm0 4zm0 3zm0 5zm0 6zm0 1zm0 8zm0 1zm0 10zm0 4zm0 35zm0 1zm0 1zm0 15zm11-765zm0 194zm0 81zm0 25zm0 61zm0 70zm0 73zm0 10zm0 22zm0 5zm0 7zm0 3zm0 3zm0 5zm0 21zm0 2zm0 25zm0 5zm0 2zm0 1zm0 5zm0 2zm0 15zm0 14zm0 4zm0 1zm0 28zm0 8zm0 7zm0 0zm0 4zm0 8zm0 4zm0 0zm0 4zm0 6zm0 2zm0 8zm4-590zm0 41zm0 17zm0 205zm0 81zm0 17zm0 5zm0 5zm0 44zm0 2zm0 5zm0 0zm0 27zm0 7zm0 4zm0 11zm0 11zm0 6zm0 2zm0 17zm0 1zm0 7zm0 2zm0 8zm0 7zm0 2zm0 1zm0 1zm0 2zm0 8zm0 9zm0 22zm0 25zm0 1zm10-540zm0 145zm0 78zm0 7zm0 59zm0 39zm0 13zm0 61zm0 3zm0 12zm0 32zm0 1zm0 22zm0 8zm0 11zm0 9zm0 8zm0 0zm0 14zm0 11zm3-732zm0 156zm0 15zm0 133zm0 8zm0 7zm0 92zm0 36zm0 11zm0 53zm0 12zm0 11zm0 3zm0 33zm0 13zm0 6zm0 39zm0 9zm0 12zm0 3zm0 2zm0 1zm0 2zm0 3zm0 2zm0 5zm0 17zm0 5zm0 13zm0 1zm0 3zm0 2zm0 19zm0 2zm0 17zm0 12zm3-612zm0 173zm0 29zm0 101zm0 21zm0 37zm0 6zm0 47zm0 11zm0 22zm0 1zm0 4zm0 1zm0 13zm0 7zm0 12zm0 4zm0 2zm0 3zm0 9zm0 9zm0 11zm0 10zm0 21zm0 4zm0 3zm0 5zm0 14zm0 8zm0 19zm8-640zm0 320zm0 39zm0 4zm0 36zm0 42zm0 20zm0 31zm0 15zm0 29zm0 6zm0 23zm0 23zm0 13zm0 3zm0 14zm7-524zm0 196zm0 1zm0 43zm0 37zm0 10zm0 2zm0 51zm0 24zm0 22zm0 5zm0 18zm0 0zm0 17zm0 3zm0 8zm0 4zm0 9zm0 6zm0 13zm0 6zm0 2zm0 8zm0 3zm0 2zm0 1zm0 5zm0 28zm3-578zm0 145zm0 112zm0 35zm0 23zm0 45zm0 13zm0 7zm0 8zm0 41zm0 16zm0 17zm0 7zm0 8zm0 9zm0 7zm0 4zm0 19zm0 7zm0 6zm0 1zm0 17zm0 6zm0 2zm0 3zm0 9zm0 2zm0 1zm0 7zm0 2zm2-354zm0 8zm0 3zm0 47zm0 2zm0 13zm0 43zm0 15zm0 13zm0 6zm0 12zm0 12zm0 28zm0 4zm0 3zm0 20zm0 24zm0 6zm0 1zm0 3zm0 14zm0 3zm0 3zm0 5zm0 11zm0 20zm0 13zm0 8zm0 0zm0 15zm0 6zm4-655zm0 20zm0 338zm0 9zm0 32zm0 111zm0 5zm0 1zm0 3zm0 20zm0 1zm0 22zm0 25zm0 0zm0 1zm0 25zm0 29zm0 0zm0 11zm9-344zm0 27zm0 167zm0 24zm0 10zm0 2zm0 2zm0 3zm0 7zm0 3zm0 17zm0 10zm0 28zm0 13zm0 17zm0 16zm0 1zm2-676zm0 171zm0 168zm0 41zm0 94zm0 5zm0 20zm0 6zm0 29zm0 26zm0 16zm0 10zm0 0zm0 3zm0 32zm0 32zm0 3zm0 3zm0 3zm0 21zm5-387zm0 31zm0 76zm0 72zm0 92zm0 7zm0 3zm0 0zm0 55zm0 2zm0 13zm0 25zm5-387zm0 177zm0 6zm0 9zm0 14zm0 30zm0 25zm0 7zm0 3zm0 44zm0 12zm0 69zm3-292zm0 17zm0 46zm0 27zm0 44zm0 29zm0 7zm0 18zm0 2zm0 11zm0 0zm0 19zm0 11zm0 25zm0 9zm0 16zm3-411zm0 152zm0 3zm0 102zm0 23zm0 19zm0 6zm0 11zm0 22zm0 8zm0 23zm0 13zm0 1zm0 12zm0 13zm0 13zm2-506zm0 171zm0 144zm0 41zm0 21zm0 31zm0 15zm0 6zm0 28zm0 6zm0 9zm0 6zm0 10zm0 2zm0 1zm0 25zm4-295zm0 35zm0 60zm0 36zm0 19zm0 30zm0 4zm0 18zm0 5zm0 2zm0 28zm0 1zm0 10zm0 5zm0 14zm0 12zm1-400zm0 141zm0 47zm0 18zm0 0zm0 47zm0 12zm0 18zm0 6zm0 31zm0 14zm0 23zm0 0zm0 7zm0 13zm0 21zm6-374zm0 211zm0 4zm0 13zm0 1zm0 22zm0 17zm0 3zm0 6zm0 36zm0 3zm0 10zm0 5zm0 11zm0 7zm0 22zm0 2zm0 3zm0 5zm0 3zm5-287zm0 60zm0 52zm0 25zm0 6zm0 13zm0 9zm0 67zm0 9zm0 36zm0 8zm1-234zm0 13zm0 39zm0 7zm0 45zm0 23zm0 18zm0 35zm0 6zm0 18zm3-213zm0 54zm0 32zm0 6zm0 1zm0 38zm0 25zm0 4zm0 1zm0 12zm0 7zm0 4zm0 26zm0 38zm1-514zm0 210zm0 87zm0 72zm0 10zm0 1zm0 35zm0 12zm0 1zm0 19zm6-64zm0 4zm0 61zm0 8zm0 3zm0 15zm4-142zm0 37zm0 43zm0 11zm0 25zm0 33zm0 26zm0 3zm0 2zm3-139zm0 3zm0 41zm0 17zm0 25zm0 20zm0 9zm0 15zm0 6zm0 2zm0 8zm1-507zm0 287zm0 94zm0 39zm4-233zm0 64zm0 50zm0 71zm0 1zm0 33zm0 21zm0 6zm0 36zm0 35zm4-185zm0 3zm0 4zm0 101zm0 21zm0 6zm0 38zm0 5zm0 5zm1-250zm0 132zm0 9zm0 19zm0 1zm0 29zm0 13zm0 7zm0 2zm0 0zm0 33zm0 6zm1-182zm0 67zm0 37zm0 33zm0 23zm0 1zm6-132zm0 56zm0 60zm0 11zm1-346zm0 198zm0 65zm0 13zm0 44zm0 5zm0 1zm0 15zm0 27zm1-206zm0 80zm0 24zm0 20zm0 24zm0 9zm0 3zm0 1zm0 10zm0 14zm0 1zm0 12zm3-242zm0 117zm0 98zm0 15zm0 6zm0 3zm4-198zm0 6zm0 32zm0 55zm0 2zm0 33zm0 2zm0 5zm0 1zm0 25zm0 23zm1-301zm0 211zm0 22zm0 16zm0 24zm0 16zm0 29zm0 1zm0 2zm6-172zm0 140zm0 18zm0 1zm0 27zm1-175zm0 45zm0 36zm0 3zm0 43zm0 4zm0 10zm0 3zm0 10zm0 25zm2-154zm0 16zm0 32zm0 67zm0 9zm0 11zm0 1zm1-368zm0 284zm0 9zm3-120zm0 54zm0 43zm0 1zm0 0zm0 99zm1-125zm0 64zm0 3zm0 49zm0 11zm3-128zm0 56zm0 45zm0 13zm3-99zm0 26zm0 23zm0 33zm0 21zm3-185zm0 97zm0 16zm0 6zm0 19zm0 0zm0 61zm1-138zm0 2zm0 48zm0 20zm0 30zm0 5zm0 30zm3-91zm0 90zm1-73zm0 3zm0 28zm2-93zm0 12zm0 42zm0 3zm0 41zm0 2zm0 26zm0 0zm3-157zm0 111zm1-95zm0 68zm0 46zm5-42zm0 18zm0 31zm0 8zm0 20zm0 2zm1-51zm5-27zm0 79zm0 9zm1-171zm0 85zm0 10zm0 33zm0 5zm0 17zm0 1zm2-256zm0 215zm0 10zm0 31zm1-101zm0 52zm0 42zm2-134zm0 34zm0 51zm3-63zm0 49zm0 61zm2-55zm0 49zm0 14zm2-149zm0 97zm0 9zm1-82zm0 80zm4-90zm0 35zm0 38zm0 8zm0 9zm0 1zm0 12zm0 19zm0 7zm0 12zm3-163zm0 30zm0 101zm0 9zm0 10zm3-72zm2 33zm0 64zm3-106zm0 79zm5-126zm0 118zm0 1zm0 9zm0 17zm0 11zm2-85zm0 31zm2-62zm0 35zm2-9zm0 25zm1-155zm0 159zm0 17zm5 37zm3-44zm2 42zm3-106zm0 72zm2 42zm2-120zm0 71zm0 23zm1 11zm0 0zm4-3zm2-3zm3-282zm0 220zm4 33zm0 24zm2-56zm0 73zm3-73zm0 42zm0 20zm0 0zm3-76zm1 61zm0 11zm0 6zm2-63zm2 13zm0 28zm4 20zm1-34zm1 12zm1 3zm2-3zm4 4zm4 3zm0 8zm3-60zm2 9zm1 46zm6-23zm0 35zm1-130zm3 128zm2 13zm5-51zm0 44zm0 9zm2 9zm4-47zm2-104zm0 84zm0 2zm0 56zm4-15zm4 6zm1 4zm8-34zm3 27zm0 10zm5-24zm7-24zm6-121zm10 165zm1-57z" stroke="#7dc0bb"/><path d="M197 1151zm0 175zm0 51zm0 95zm0 34zm0 39zm0 11zm0 25zm0 10zm0 7zm0 23zm0 5zm0 17zm0 30zm0 4zm0 9zm0 2zm0 11zm0 1zm0 2zm0 6zm0 4zm0 2zm0 5zm0 3zm0 14zm0 16zm0 3zm0 1zm0 8zm0 2zm0 1zm0 5zm0 3zm0 2zm0 12zm0 2zm0 23zm7-727zm0 102zm0 149zm0 30zm0 153zm0 17zm0 1zm0 41zm0 15zm0 0zm0 1zm0 12zm0 4zm0 3zm0 4zm0 25zm0 4zm0 21zm0 14zm0 10zm0 3zm0 0zm0 15zm0 11zm0 7zm0 7zm0 7zm0 3zm0 1zm0 8zm0 4zm0 6zm0 2zm0 29zm0 5zm0 0zm0 2zm0 2zm11-556zm0 66zm0 50zm0 21zm0 30zm0 10zm0 15zm0 106zm0 30zm0 20zm0 23zm0 8zm0 17zm0 15zm0 16zm0 4zm0 3zm0 5zm0 5zm0 16zm0 11zm0 1zm0 12zm0 2zm0 4zm0 10zm0 10zm0 0zm0 10zm0 3zm0 9zm0 9zm0 10zm0 12zm0 0zm4-543zm0 18zm0 51zm0 106zm0 54zm0 5zm0 23zm0 21zm0 0zm0 15zm0 32zm0 2zm0 11zm0 3zm0 2zm0 8zm0 16zm0 26zm0 0zm0 22zm0 5zm0 13zm0 9zm0 13zm0 0zm0 1zm0 3zm0 2zm0 9zm0 42zm0 6zm0 8zm0 2zm0 3zm0 9zm0 0zm0 6zm0 7zm10-675zm0 53zm0 8zm0 221zm0 96zm0 21zm0 17zm0 6zm0 42zm0 11zm0 7zm0 18zm0 25zm0 2zm0 11zm0 0zm0 23zm0 18zm0 14zm0 8zm0 13zm0 1zm0 22zm0 3zm0 2zm0 0zm0 2zm0 5zm0 6zm0 0zm0 2zm3-544zm0 175zm0 168zm0 15zm0 0zm0 25zm0 11zm0 4zm0 21zm0 14zm0 6zm0 6zm0 2zm0 1zm0 12zm0 7zm0 5zm0 8zm0 1zm0 0zm0 5zm0 5zm0 1zm0 15zm0 4zm0 3zm0 15zm0 18zm0 6zm3-708zm0 452zm0 36zm0 31zm0 16zm0 50zm0 2zm0 11zm0 8zm0 1zm0 11zm0 4zm0 0zm0 7zm0 0zm0 11zm0 4zm0 9zm0 3zm0 32zm0 1zm0 1zm0 1zm0 5zm0 6zm8-619zm0 280zm0 51zm0 131zm0 13zm0 5zm0 3zm0 12zm0 8zm0 3zm0 17zm0 14zm0 7zm0 4zm0 37zm0 2zm0 5zm0 2zm0 14zm0 12zm0 4zm0 10zm7-710zm0 146zm0 39zm0 9zm0 145zm0 43zm0 38zm0 63zm0 9zm0 41zm0 2zm0 45zm0 1zm0 8zm0 12zm0 2zm0 3zm0 1zm0 9zm0 8zm0 11zm0 14zm0 3zm0 3zm0 4zm0 3zm0 11zm0 12zm0 8zm3-421zm0 128zm0 45zm0 6zm0 41zm0 7zm0 20zm0 35zm0 1zm0 21zm0 21zm0 11zm0 0zm0 10zm0 6zm0 3zm0 3zm0 4zm0 26zm0 21zm0 1zm0 1zm0 7zm0 5zm0 0zm2-352zm0 75zm0 117zm0 4zm0 17zm0 5zm0 50zm0 1zm0 10zm0 1zm0 7zm0 1zm0 2zm0 12zm0 13zm0 2zm0 1zm0 20zm0 0zm0 3zm0 24zm4-543zm0 142zm0 147zm0 46zm0 64zm0 20zm0 4zm0 18zm0 4zm0 0zm0 4zm0 31zm0 8zm0 11zm0 2zm0 4zm0 12zm0 2zm0 15zm9-390zm0 104zm0 53zm0 19zm0 90zm0 9zm0 5zm0 31zm0 14zm0 7zm0 4zm0 7zm0 2zm0 3zm0 11zm0 6zm0 2zm0 11zm0 8zm0 8zm2-437zm0 237zm0 17zm0 12zm0 7zm0 15zm0 24zm0 2zm0 9zm0 10zm0 22zm0 1zm0 24zm0 2zm0 16zm0 2zm0 3zm0 12zm0 7zm0 22zm5-242zm0 21zm0 7zm0 26zm0 8zm0 3zm0 8zm0 82zm0 13zm0 10zm0 5zm0 21zm0 10zm0 3zm0 0zm0 5zm0 15zm5-423zm0 161zm0 14zm0 4zm0 51zm0 58zm0 30zm0 26zm0 21zm0 2zm0 1zm0 1zm0 8zm3-499zm0 345zm0 42zm0 0zm0 12zm0 24zm0 12zm0 11zm0 21zm0 40zm0 7zm0 10zm0 2zm0 6zm0 3zm0 5zm0 7zm3-239zm0 90zm0 7zm0 10zm0 28zm0 18zm0 34zm0 4zm0 4zm0 0zm0 8zm0 10zm0 13zm0 0zm0 3zm0 1zm0 13zm2-371zm0 111zm0 83zm0 13zm0 8zm0 35zm0 0zm0 4zm0 5zm0 25zm0 28zm0 5zm0 11zm0 13zm0 1zm0 12zm0 5zm4-211zm0 20zm0 35zm0 25zm0 38zm0 10zm0 2zm0 34zm0 12zm0 15zm0 14zm1-456zm0 234zm0 116zm0 6zm0 6zm0 4zm0 9zm0 7zm0 23zm0 14zm0 17zm0 2zm0 4zm0 11zm0 6zm6-271zm0 35zm0 123zm0 8zm0 1zm0 2zm0 24zm0 5zm0 7zm0 4zm0 24zm0 6zm0 15zm0 13zm0 1zm0 0zm0 6zm5-508zm0 232zm0 139zm0 6zm0 5zm0 5zm0 14zm0 2zm0 2zm0 9zm0 15zm0 9zm0 6zm0 38zm0 2zm0 7zm0 7zm0 3zm0 2zm0 4zm0 2zm1-142zm0 6zm0 33zm0 25zm0 37zm0 11zm0 12zm0 9zm0 9zm0 0zm3-212zm0 70zm0 5zm0 1zm0 9zm0 59zm0 9zm0 8zm0 5zm0 7zm0 2zm0 27zm1-258zm0 59zm0 31zm0 60zm0 22zm0 6zm0 0zm0 4zm0 1zm0 19zm0 2zm0 5zm0 31zm0 2zm0 6zm0 2zm0 4zm0 7zm0 4zm6-124zm0 11zm0 8zm0 13zm0 10zm0 4zm0 20zm0 0zm0 6zm0 17zm0 2zm0 7zm0 1zm0 21zm0 7zm0 1zm4-446zm0 241zm0 65zm0 5zm0 28zm0 23zm0 24zm0 4zm0 8zm0 5zm0 2zm0 42zm3-260zm0 44zm0 20zm0 114zm0 2zm0 12zm0 11zm0 4zm0 1zm0 16zm0 12zm0 5zm0 2zm1-186zm0 2zm0 38zm0 108zm0 4zm0 0zm0 9zm0 0zm0 11zm0 24zm0 11zm4-244zm0 59zm0 3zm0 1zm0 4zm0 59zm0 2zm0 42zm0 20zm0 2zm0 8zm0 0zm0 1zm0 7zm0 1zm0 25zm0 7zm0 1zm4-270zm0 201zm0 3zm0 27zm0 14zm1-157zm0 26zm0 27zm0 6zm0 13zm0 60zm0 6zm0 4zm0 18zm0 7zm0 11zm1-301zm0 210zm0 12zm0 6zm0 13zm0 0zm0 2zm0 22zm0 2zm0 5zm0 21zm0 3zm0 5zm0 9zm0 1zm6-212zm0 53zm0 64zm0 2zm0 9zm0 45zm0 14zm0 25zm1-174zm0 10zm0 21zm0 53zm0 55zm0 6zm0 5zm0 15zm0 6zm1-185zm0 41zm0 31zm0 52zm0 5zm0 13zm0 4zm0 14zm0 8zm0 1zm3-158zm0 49zm0 42zm0 9zm0 4zm0 33zm0 9zm0 1zm0 11zm4-139zm0 43zm0 34zm0 26zm0 4zm0 7zm0 13zm0 5zm0 2zm0 12zm1-145zm0 55zm0 18zm0 2zm0 0zm0 21zm0 1zm0 9zm0 15zm0 8zm0 10zm0 6zm6-142zm0 17zm0 19zm0 34zm0 5zm0 24zm0 7zm0 8zm0 4zm0 1zm0 28zm0 5zm1-149zm0 37zm0 6zm2-27zm0 4zm0 31zm0 5zm0 21zm0 17zm0 26zm0 17zm0 1zm0 0zm1-124zm0 31zm0 69zm0 8zm0 10zm0 12zm3-319zm0 55zm0 136zm0 59zm0 1zm0 42zm0 11zm0 1zm0 13zm1-114zm0 86zm0 12zm0 17zm3-186zm0 75zm0 20zm0 22zm0 13zm0 20zm0 18zm0 12zm0 6zm3-138zm0 84zm0 3zm0 12zm0 4zm0 2zm0 12zm0 14zm0 15zm3-129zm0 11zm0 15zm0 12zm0 1zm0 33zm0 19zm0 15zm0 4zm0 11zm1-149zm0 27zm0 11zm0 48zm0 5zm0 12zm0 20zm0 2zm0 0zm0 13zm0 3zm0 9zm3-89zm0 26zm0 7zm0 18zm0 5zm0 31zm0 1zm1-159zm0 97zm0 25zm0 1zm0 3zm0 2zm2-3zm0 5zm0 18zm0 6zm3-129zm0 21zm0 4zm0 30zm0 38zm0 2zm0 37zm1-70zm0 39zm0 5zm0 3zm5-56zm0 3zm0 47zm0 11zm0 6zm1-93zm0 56zm0 24zm0 15zm0 12zm5-267zm0 116zm0 21zm0 73zm0 27zm0 1zm1-79zm0 27zm0 28zm0 33zm0 2zm0 2zm2-18zm0 24zm0 1zm0 7zm0 2zm1-136zm0 84zm0 16zm0 20zm0 1zm0 7zm2-82zm0 50zm0 4zm0 0zm0 13zm0 11zm3-42zm0 26zm0 22zm0 8zm0 2zm2-135zm0 89zm0 1zm0 18zm0 23zm0 3zm2-111zm0 78zm0 12zm0 11zm1-101zm0 17zm0 1zm0 40zm0 23zm0 2zm0 6zm0 5zm4-259zm0 226zm0 8zm0 7zm0 2zm0 26zm0 1zm0 0zm3-30zm0 20zm0 3zm0 4zm0 5zm3-49zm0 19zm0 5zm0 9zm0 8zm1-35zm1-35zm0 51zm0 25zm3-140zm0 52zm0 22zm0 22zm5-42zm0 0zm0 57zm0 17zm0 7zm0 8zm2-98zm0 39zm0 23zm0 20zm0 13zm0 6zm2-104zm0 79zm0 9zm2-27zm0 17zm1-9zm0 5zm0 13zm0 6zm2-285zm0 220zm0 62zm3-66zm0 10zm0 6zm3-30zm0 10zm0 47zm0 17zm0 24zm2-49zm0 4zm0 33zm0 11zm3-88zm0 44zm0 12zm0 0zm2-98zm0 105zm0 3zm0 7zm2-71zm0 50zm0 5zm0 2zm0 27zm1-125zm0 121zm0 0zm4-22zm1-121zm0 133zm0 11zm1-66zm3-15zm0 27zm0 48zm4-109zm0 3zm0 14zm0 59zm0 8zm0 27zm0 6zm2-157zm0 39zm0 49zm0 3zm0 44zm0 2zm3-86zm0 58zm0 21zm0 17zm2-30zm0 15zm0 1zm0 0zm0 15zm1 2zm1-153zm0 114zm0 30zm0 11zm2-45zm2-40zm0 55zm0 27zm0 9zm0 1zm4-37zm0 40zm1-179zm0 138zm0 17zm1-24zm0 20zm0 26zm1-61zm0 7zm0 29zm2-52zm0 59zm4-55zm0 22zm0 10zm0 27zm4-47zm0 11zm0 54zm2-15zm1 9zm3-47zm1 12zm0 20zm5-31zm0 5zm1-33zm0 33zm0 3zm0 0zm0 15zm3-9zm4 22zm4-13zm3 5zm0 2zm0 4zm0 5zm8-22zm0 5zm1-3zm2-14zm1 37zm2-60zm0 48zm0 14zm1-37zm0 30zm1-136zm0 133zm8-15zm0 27zm1-75zm0 17zm0 46zm0 8zm4-48zm1-10zm0 27zm6 29zm3-60zm2-55zm0 122zm8-53zm0 6zm2-20zm1 22zm13-1zm0 35zm9-17zm7 25z" stroke="#84c4bb"/><path d="M197 1278zm0 94zm0 78zm0 28zm0 12zm0 7zm0 52zm0 54zm0 34zm0 25zm0 17zm0 10zm0 12zm0 5zm0 19zm0 12zm0 3zm0 6zm0 4zm0 6zm0 2zm0 3zm0 1zm0 5zm0 3zm0 8zm0 1zm0 13zm0 3zm0 19zm7-521zm0 108zm0 48zm0 6zm0 70zm0 1zm0 15zm0 41zm0 24zm0 0zm0 25zm0 26zm0 8zm0 7zm0 5zm0 23zm0 1zm0 3zm0 12zm0 5zm0 24zm0 15zm0 13zm0 1zm0 0zm0 6zm0 10zm0 5zm0 3zm0 2zm0 7zm0 4zm0 3zm11-659zm0 495zm0 2zm0 1zm0 26zm0 3zm0 5zm0 4zm0 8zm0 3zm0 13zm0 2zm0 1zm0 14zm0 6zm0 1zm0 3zm0 1zm0 4zm0 10zm0 5zm0 4zm0 3zm0 6zm0 1zm0 8zm0 1zm0 14zm0 1zm0 13zm0 11zm4-457zm0 27zm0 25zm0 72zm0 29zm0 38zm0 14zm0 30zm0 5zm0 30zm0 4zm0 2zm0 1zm0 7zm0 5zm0 8zm0 18zm0 15zm0 17zm0 14zm0 8zm0 7zm0 0zm0 1zm0 6zm0 6zm0 7zm0 1zm0 4zm0 5zm0 5zm0 1zm0 10zm0 1zm0 4zm0 0zm0 2zm0 0zm0 1zm0 12zm0 1zm0 4zm0 3zm0 3zm10-407zm0 156zm0 2zm0 5zm0 8zm0 3zm0 1zm0 10zm0 4zm0 13zm0 22zm0 2zm0 83zm0 7zm0 3zm0 6zm0 7zm0 0zm0 8zm0 6zm0 1zm0 0zm0 0zm0 6zm0 2zm0 3zm0 6zm0 4zm0 18zm0 1zm0 8zm0 4zm0 1zm3-270zm0 10zm0 56zm0 20zm0 21zm0 11zm0 13zm0 13zm0 26zm0 4zm0 6zm0 1zm0 1zm0 9zm0 4zm0 6zm0 1zm0 3zm0 9zm0 1zm0 13zm0 11zm0 6zm0 6zm0 7zm3-683zm0 179zm0 79zm0 88zm0 3zm0 7zm0 12zm0 5zm0 48zm0 14zm0 15zm0 48zm0 8zm0 4zm0 18zm0 25zm0 4zm0 8zm0 30zm0 9zm0 7zm0 7zm0 3zm0 6zm0 31zm0 8zm0 2zm0 10zm0 0zm0 12zm0 1zm0 1zm0 1zm0 1zm8-370zm0 35zm0 44zm0 111zm0 6zm0 18zm0 13zm0 24zm0 0zm0 11zm0 4zm0 5zm0 4zm0 5zm0 5zm0 2zm0 22zm0 28zm0 2zm0 10zm0 1zm0 1zm0 0zm0 6zm0 5zm0 1zm0 7zm0 2zm0 7zm7-300zm0 43zm0 33zm0 22zm0 21zm0 9zm0 0zm0 24zm0 7zm0 20zm0 11zm0 8zm0 7zm0 4zm0 10zm0 6zm0 1zm0 0zm0 7zm0 4zm0 2zm0 1zm0 5zm0 10zm0 0zm0 6zm0 8zm0 17zm0 3zm0 6zm3-492zm0 247zm0 29zm0 53zm0 10zm0 1zm0 1zm0 16zm0 9zm0 5zm0 2zm0 19zm0 7zm0 6zm0 6zm0 3zm0 14zm0 12zm0 12zm0 3zm0 7zm0 4zm0 2zm0 0zm0 0zm0 4zm0 8zm0 4zm0 9zm2-635zm0 271zm0 13zm0 190zm0 8zm0 9zm0 0zm0 6zm0 12zm0 24zm0 3zm0 6zm0 25zm0 2zm0 6zm0 0zm0 10zm0 7zm0 1zm0 4zm0 4zm0 2zm0 0zm0 4zm0 22zm0 6zm4-267zm0 60zm0 32zm0 10zm0 7zm0 3zm0 5zm0 26zm0 3zm0 8zm0 11zm0 22zm0 3zm0 8zm0 4zm0 13zm0 3zm0 8zm0 1zm0 6zm0 20zm0 7zm0 5zm9-584zm0 107zm0 146zm0 35zm0 0zm0 97zm0 38zm0 35zm0 26zm0 0zm0 39zm0 7zm0 3zm0 13zm0 6zm0 4zm0 8zm0 1zm0 2zm0 0zm0 7zm0 2zm0 10zm2-446zm0 29zm0 147zm0 78zm0 57zm0 7zm0 25zm0 4zm0 19zm0 8zm0 4zm0 5zm0 2zm0 4zm0 10zm0 7zm0 1zm0 4zm0 4zm0 4zm0 2zm0 2zm0 16zm0 2zm0 2zm0 3zm5-323zm0 114zm0 18zm0 33zm0 13zm0 2zm0 45zm0 26zm0 10zm0 10zm0 4zm0 1zm0 24zm0 17zm0 3zm0 0zm5-333zm0 51zm0 48zm0 35zm0 6zm0 79zm0 1zm0 1zm0 18zm0 4zm0 6zm0 28zm0 2zm0 0zm0 0zm0 26zm0 7zm0 1zm0 3zm0 2zm0 8zm0 8zm3-241zm0 32zm0 8zm0 21zm0 17zm0 3zm0 54zm0 1zm0 14zm0 3zm0 7zm0 1zm0 3zm0 12zm0 11zm0 6zm0 3zm0 4zm0 2zm0 4zm0 9zm0 1zm0 3zm0 20zm0 1zm3-437zm0 113zm0 128zm0 91zm0 6zm0 0zm0 0zm0 4zm0 15zm0 1zm0 11zm0 3zm0 3zm0 6zm0 4zm0 4zm0 11zm0 0zm0 5zm0 12zm0 6zm0 8zm2-164zm0 42zm0 5zm0 7zm0 10zm0 9zm0 9zm0 0zm0 42zm0 17zm0 7zm0 10zm0 4zm0 1zm0 9zm4-196zm0 32zm0 55zm0 7zm0 13zm0 11zm0 12zm0 17zm0 2zm0 2zm0 14zm0 9zm0 15zm0 0zm0 2zm1-297zm0 86zm0 131zm0 18zm0 3zm0 20zm0 26zm0 5zm0 7zm0 2zm0 6zm0 4zm6-406zm0 117zm0 24zm0 59zm0 3zm0 26zm0 38zm0 12zm0 2zm0 17zm0 11zm0 30zm0 3zm0 4zm0 13zm0 6zm0 3zm0 3zm0 19zm0 9zm5-466zm0 235zm0 75zm0 35zm0 27zm0 11zm0 19zm0 4zm0 2zm0 4zm0 0zm0 2zm0 26zm0 12zm0 1zm0 6zm0 0zm1-239zm0 78zm0 19zm0 37zm0 1zm0 15zm0 14zm0 13zm0 7zm0 2zm0 16zm0 14zm0 6zm0 0zm0 1zm0 6zm0 9zm0 3zm0 6zm3-215zm0 27zm0 20zm0 23zm0 30zm0 2zm0 38zm0 2zm0 1zm0 3zm0 0zm0 3zm0 5zm0 4zm0 5zm0 8zm0 24zm0 0zm0 6zm0 1zm0 4zm0 1zm0 3zm0 2zm0 1zm1-183zm0 59zm0 36zm0 15zm0 10zm0 1zm0 9zm0 6zm0 5zm0 2zm0 1zm0 2zm0 5zm0 1zm0 11zm0 14zm0 2zm0 8zm0 1zm0 6zm6-306zm0 128zm0 20zm0 47zm0 12zm0 3zm0 13zm0 1zm0 24zm0 2zm0 2zm0 5zm0 37zm4-184zm0 19zm0 28zm0 20zm0 54zm0 9zm0 29zm0 1zm0 19zm0 2zm0 5zm3-325zm0 185zm0 22zm0 9zm0 10zm0 35zm0 12zm0 1zm0 34zm0 14zm1-256zm0 160zm0 11zm0 2zm0 23zm0 3zm0 2zm0 14zm0 12zm0 15zm0 10zm0 2zm0 15zm4-410zm0 211zm0 76zm0 3zm0 8zm0 8zm0 31zm0 5zm0 2zm0 1zm0 11zm0 0zm0 8zm0 13zm0 0zm0 6zm0 4zm0 22zm0 0zm4-148zm0 8zm0 66zm0 17zm0 3zm0 6zm0 7zm0 1zm0 9zm0 7zm0 6zm0 10zm0 8zm1-146zm0 13zm0 44zm0 20zm0 8zm0 3zm0 23zm0 2zm0 4zm0 2zm0 5zm0 16zm1-119zm0 5zm0 7zm0 1zm0 8zm0 43zm0 29zm0 2zm0 1zm0 8zm0 2zm0 9zm0 3zm6-365zm0 82zm0 189zm0 3zm0 15zm0 12zm0 5zm0 12zm0 0zm0 1zm1-202zm0 5zm0 82zm0 51zm0 50zm0 3zm0 12zm0 12zm0 4zm0 4zm0 3zm0 4zm1-201zm0 71zm0 26zm0 35zm0 21zm0 12zm0 18zm0 8zm0 1zm0 18zm0 2zm0 6zm3-141zm0 84zm0 8zm0 9zm0 0zm0 25zm0 4zm0 8zm0 1zm0 1zm0 0zm0 1zm4-320zm0 108zm0 39zm0 41zm0 7zm0 19zm0 7zm0 50zm0 6zm0 2zm0 10zm0 6zm0 4zm0 8zm1-107zm0 19zm0 12zm0 35zm0 7zm0 9zm0 9zm0 6zm0 1zm0 0zm0 12zm0 11zm0 1zm6-221zm0 152zm0 26zm0 24zm0 5zm0 12zm1-144zm0 73zm0 22zm0 3zm0 9zm0 41zm0 2zm2-158zm0 18zm0 1zm0 13zm0 43zm0 9zm0 33zm0 3zm0 3zm0 14zm0 14zm1-169zm0 30zm0 16zm0 48zm0 23zm0 27zm0 6zm0 1zm0 17zm3-172zm0 6zm0 14zm0 35zm0 67zm0 6zm0 9zm0 22zm0 4zm0 3zm0 11zm1-157zm0 20zm0 57zm0 8zm0 1zm0 8zm0 37zm0 2zm0 29zm3-236zm0 43zm0 35zm0 2zm0 13zm0 15zm0 14zm0 35zm0 22zm0 6zm0 2zm0 19zm0 3zm0 7zm0 2zm0 4zm0 9zm3-182zm0 163zm3-73zm0 6zm0 4zm0 39zm0 10zm0 3zm0 1zm0 11zm0 13zm1-129zm0 35zm0 7zm0 8zm0 25zm0 11zm0 12zm0 13zm0 0zm3-94zm0 29zm0 19zm0 4zm0 31zm0 18zm0 12zm0 1zm0 2zm1-68zm0 29zm0 39zm2-309zm0 211zm0 42zm0 14zm0 2zm0 25zm0 14zm3-82zm0 2zm0 2zm0 22zm0 5zm0 14zm0 8zm1-137zm0 139zm0 1zm0 4zm0 5zm0 12zm5-137zm0 72zm0 13zm0 4zm0 24zm0 6zm1-73zm0 1zm0 9zm0 0zm0 6zm0 9zm0 10zm0 25zm0 1zm0 17zm0 12zm5-120zm0 58zm0 19zm0 5zm0 3zm0 15zm0 1zm0 19zm0 1zm0 1zm1-117zm0 29zm0 10zm0 18zm0 16zm0 10zm0 17zm0 5zm0 5zm0 3zm0 11zm2-355zm0 237zm0 16zm0 33zm0 9zm0 21zm0 18zm0 2zm0 5zm0 5zm0 1zm0 2zm1-183zm0 62zm0 59zm0 15zm0 9zm0 15zm0 1zm0 12zm0 20zm2-34zm0 4zm3-66zm0 83zm2-42zm0 6zm0 33zm2-86zm0 43zm0 35zm1-77zm0 1zm0 29zm0 18zm0 8zm0 13zm0 6zm0 4zm0 10zm0 2zm4-169zm0 69zm0 37zm0 28zm0 1zm0 11zm0 11zm0 2zm0 3zm0 11zm3-118zm0 58zm0 2zm0 10zm0 5zm0 6zm0 30zm3-178zm0 118zm0 13zm0 10zm0 4zm0 6zm1-14zm0 14zm0 10zm0 3zm0 7zm0 4zm1-45zm0 1zm0 17zm0 17zm0 10zm3-116zm0 4zm0 51zm0 14zm5-103zm0 93zm0 1zm0 7zm0 16zm0 4zm0 13zm0 9zm0 1zm0 14zm2-159zm0 71zm0 4zm0 25zm0 6zm0 21zm0 0zm0 19zm0 3zm0 6zm0 3zm2-31zm0 5zm2-29zm0 20zm0 11zm0 9zm0 2zm1-53zm0 7zm0 8zm0 14zm0 35zm2-87zm0 15zm0 43zm0 31zm0 8zm3-130zm0 39zm0 41zm3-118zm0 104zm0 27zm0 3zm0 12zm0 4zm0 10zm0 2zm2-42zm0 10zm3-48zm0 17zm0 29zm0 19zm0 6zm0 4zm2-9zm0 5zm2-44zm0 21zm0 5zm0 30zm1-70zm0 42zm0 8zm0 9zm4-56zm0 59zm0 6zm0 2zm2-32zm0 4zm0 25zm0 1zm3-37zm0 26zm0 1zm0 5zm4-86zm0 20zm0 48zm0 15zm0 1zm0 1zm0 4zm2-249zm0 205zm0 37zm0 14zm0 1zm3-122zm0 62zm0 48zm0 6zm2-80zm0 14zm0 38zm0 8zm0 17zm1-35zm1 7zm0 8zm4-18zm0 9zm4-128zm0 99zm0 12zm0 16zm0 11zm0 3zm0 0zm0 7zm0 12zm0 1zm1-68zm0 26zm0 14zm0 14zm0 1zm0 13zm0 3zm1-71zm0 59zm1-38zm2 15zm0 2zm0 33zm4-65zm0 13zm0 0zm0 3zm0 3zm0 3zm4-8zm0 14zm0 27zm2-37zm1 19zm0 13zm2-36zm0 32zm1-42zm0 4zm0 35zm1-13zm5-29zm0 41zm0 4zm0 4zm0 9zm1-39zm0 6zm0 22zm0 7zm0 3zm3-81zm0 48zm0 32zm2-28zm2-109zm0 91zm0 53zm1-43zm2-17zm0 47zm0 5zm0 3zm0 1zm0 4zm1-13zm0 2zm1-49zm0 38zm0 7zm0 6zm2-62zm0 27zm0 19zm1-26zm1 27zm0 19zm0 6zm6-40zm0 21zm1-44zm0 16zm0 32zm0 11zm3-26zm0 28zm2-25zm2-65zm2 68zm0 7zm0 10zm0 8zm3-101zm0 87zm3-58zm1-14zm0 61zm0 21zm0 2zm4-22zm1-102zm0 87zm0 12zm0 12zm0 8zm0 4zm2-17zm1-7zm1-14zm3 33zm2 0zm3-13zm8-10zm0 11zm3 1zm0 15zm1-43zm3 38zm5-85zm0 70zm0 1zm8 8zm0 2zm4-7zm13 14zm2-17zm0 16zm3-10zm0 15zm1-46zm8 28zm3-29zm9 24zm1 3zm3 6z" stroke="#9acfbf"/><path d="M197 1350zm0 31zm0 134zm0 34zm0 35zm0 5zm0 24zm0 6zm0 17zm0 39zm0 6zm0 10zm0 24zm0 18zm0 5zm0 6zm0 3zm0 1zm0 0zm0 2zm0 3zm0 12zm0 5zm0 1zm0 0zm0 4zm0 1zm0 5zm0 2zm0 7zm0 4zm0 4zm0 8zm0 3zm0 0zm7-540zm0 91zm0 215zm0 1zm0 16zm0 19zm0 5zm0 18zm0 20zm0 5zm0 7zm0 14zm0 30zm0 9zm0 2zm0 24zm0 5zm0 18zm0 5zm0 8zm0 1zm0 4zm0 5zm0 7zm0 14zm11-702zm0 34zm0 276zm0 19zm0 69zm0 119zm0 7zm0 4zm0 48zm0 21zm0 2zm0 18zm0 6zm0 4zm0 2zm0 8zm0 12zm0 6zm0 10zm0 1zm0 5zm0 2zm0 12zm0 4zm0 3zm0 12zm0 7zm4-324zm0 17zm0 155zm0 3zm0 5zm0 0zm0 8zm0 7zm0 24zm0 0zm0 4zm0 0zm0 8zm0 8zm0 7zm0 1zm0 11zm0 2zm0 1zm0 6zm0 2zm0 4zm0 0zm0 6zm0 3zm0 1zm0 16zm0 4zm0 4zm0 1zm0 3zm0 3zm0 2zm0 5zm0 5zm10-333zm0 52zm0 18zm0 11zm0 16zm0 6zm0 20zm0 6zm0 10zm0 9zm0 23zm0 41zm0 10zm0 6zm0 5zm0 6zm0 10zm0 2zm0 6zm0 9zm0 1zm0 0zm0 3zm0 2zm0 6zm0 5zm0 10zm0 6zm0 3zm0 5zm0 1zm0 1zm0 1zm0 5zm0 2zm0 11zm0 1zm3-267zm0 18zm0 31zm0 46zm0 30zm0 1zm0 11zm0 42zm0 3zm0 0zm0 3zm0 10zm0 13zm0 11zm0 10zm0 6zm0 12zm3-428zm0 95zm0 155zm0 17zm0 10zm0 17zm0 2zm0 1zm0 2zm0 10zm0 36zm0 16zm0 0zm0 9zm0 13zm0 0zm0 3zm0 14zm0 7zm0 2zm0 3zm0 8zm0 11zm0 2zm0 1zm0 2zm0 2zm0 2zm0 1zm8-506zm0 157zm0 99zm0 16zm0 18zm0 33zm0 26zm0 34zm0 11zm0 25zm0 3zm0 2zm0 2zm0 5zm0 6zm0 7zm0 12zm0 10zm0 6zm0 16zm0 4zm0 4zm0 1zm0 3zm0 14zm7-225zm0 25zm0 49zm0 3zm0 28zm0 7zm0 3zm0 6zm0 9zm0 13zm0 27zm0 1zm0 11zm0 1zm0 2zm0 3zm0 6zm0 2zm0 9zm0 3zm0 1zm0 1zm0 5zm0 2zm3-466zm0 275zm0 4zm0 6zm0 40zm0 4zm0 9zm0 13zm0 12zm0 13zm0 27zm0 0zm0 3zm0 1zm0 1zm0 2zm0 0zm0 5zm0 8zm0 0zm0 3zm0 11zm0 0zm0 6zm0 0zm0 12zm0 1zm2-423zm0 93zm0 38zm0 31zm0 7zm0 19zm0 3zm0 22zm0 12zm0 2zm0 28zm0 4zm0 18zm0 17zm0 12zm0 2zm0 37zm0 5zm0 3zm0 2zm0 2zm0 9zm0 2zm0 6zm0 18zm0 3zm0 6zm0 1zm0 12zm0 8zm0 3zm0 10zm4-695zm0 550zm0 20zm0 1zm0 13zm0 6zm0 25zm0 12zm0 4zm0 5zm0 3zm0 2zm0 1zm0 11zm0 1zm0 8zm0 8zm0 2zm0 1zm0 9zm0 6zm0 0zm0 15zm0 1zm9-484zm0 61zm0 89zm0 153zm0 12zm0 11zm0 40zm0 3zm0 7zm0 31zm0 1zm0 1zm0 17zm0 5zm0 11zm0 5zm0 13zm0 2zm0 10zm0 6zm0 1zm2-237zm0 6zm0 91zm0 6zm0 34zm0 2zm0 3zm0 5zm0 5zm0 12zm0 1zm0 14zm0 9zm0 2zm0 9zm0 2zm0 1zm0 6zm0 0zm0 3zm0 1zm0 0zm0 6zm0 3zm0 1zm0 3zm0 2zm0 4zm0 1zm0 2zm5-247zm0 8zm0 130zm0 1zm0 1zm0 18zm0 9zm0 2zm0 0zm0 4zm0 3zm0 4zm0 4zm0 10zm0 1zm0 13zm0 6zm0 3zm0 15zm0 1zm0 8zm0 5zm0 1zm0 3zm5-336zm0 145zm0 4zm0 9zm0 73zm0 3zm0 9zm0 1zm0 7zm0 30zm0 11zm0 6zm0 3zm0 1zm0 2zm0 8zm0 2zm0 1zm0 4zm0 9zm0 5zm3-257zm0 57zm0 58zm0 44zm0 7zm0 30zm0 2zm0 8zm0 4zm0 7zm0 1zm0 7zm0 6zm0 19zm0 4zm0 1zm3-343zm0 154zm0 47zm0 8zm0 21zm0 10zm0 6zm0 7zm0 20zm0 9zm0 4zm0 2zm0 0zm0 11zm0 3zm0 0zm0 3zm0 10zm0 7zm0 6zm0 7zm0 2zm0 0zm2-221zm0 37zm0 5zm0 53zm0 60zm0 5zm0 10zm0 15zm0 1zm0 2zm0 0zm0 17zm0 1zm0 2zm0 5zm0 3zm0 1zm0 10zm0 5zm0 0zm4-208zm0 56zm0 30zm0 21zm0 8zm0 13zm0 7zm0 5zm0 10zm0 11zm0 5zm0 16zm0 12zm0 4zm0 1zm0 1zm0 1zm0 11zm1-377zm0 70zm0 80zm0 5zm0 78zm0 34zm0 8zm0 14zm0 32zm0 9zm0 2zm0 0zm0 1zm0 13zm0 4zm0 1zm0 10zm0 2zm0 11zm0 1zm0 3zm6-122zm0 23zm0 13zm0 9zm0 7zm0 13zm0 0zm0 2zm0 1zm0 5zm0 6zm0 3zm0 9zm0 4zm0 4zm0 0zm0 10zm0 11zm5-394zm0 17zm0 174zm0 36zm0 24zm0 21zm0 1zm0 0zm0 14zm0 11zm0 10zm0 12zm0 6zm0 23zm0 1zm0 6zm0 28zm0 1zm0 1zm0 3zm0 0zm0 0zm1-177zm0 34zm0 50zm0 16zm0 3zm0 3zm0 9zm0 18zm0 10zm0 10zm0 1zm0 1zm0 0zm0 5zm0 13zm3-257zm0 93zm0 28zm0 13zm0 26zm0 23zm0 4zm0 1zm0 8zm0 24zm0 14zm0 1zm0 8zm0 11zm0 0zm0 5zm1-524zm0 324zm0 16zm0 46zm0 29zm0 18zm0 6zm0 20zm0 20zm0 7zm0 4zm0 3zm0 5zm0 10zm0 3zm0 0zm0 4zm0 8zm0 5zm6-137zm0 55zm0 37zm0 2zm0 4zm0 17zm0 21zm0 7zm4-287zm0 159zm0 31zm0 16zm0 2zm0 2zm0 9zm0 1zm0 14zm0 6zm0 1zm0 8zm0 11zm0 6zm0 1zm0 12zm0 1zm3-335zm0 131zm0 113zm0 2zm0 19zm0 7zm0 24zm0 1zm0 6zm0 3zm0 0zm0 9zm0 8zm0 4zm0 8zm0 3zm0 1zm0 2zm1-118zm0 18zm0 21zm0 13zm0 5zm0 1zm0 7zm0 6zm0 2zm0 13zm0 5zm0 9zm0 12zm4-112zm0 3zm0 23zm0 11zm0 1zm0 1zm0 23zm0 5zm0 8zm0 3zm0 7zm0 7zm0 6zm0 14zm4-135zm0 58zm0 17zm0 25zm0 1zm0 1zm0 4zm0 17zm0 8zm0 4zm1-136zm0 56zm0 26zm0 6zm0 25zm0 7zm0 2zm0 5zm0 1zm0 1zm0 3zm0 3zm0 1zm1-230zm0 161zm0 24zm0 15zm0 7zm0 2zm0 2zm0 8zm0 7zm0 4zm0 2zm6-331zm0 179zm0 17zm0 2zm0 14zm0 70zm0 4zm0 2zm0 6zm0 13zm0 7zm0 4zm0 3zm0 1zm0 3zm0 6zm1-116zm0 31zm0 8zm0 24zm0 18zm0 0zm0 7zm0 4zm0 1zm0 4zm0 6zm0 2zm1-125zm0 30zm0 0zm0 17zm0 6zm0 18zm0 12zm0 4zm0 6zm0 18zm0 1zm0 3zm0 12zm0 2zm0 3zm0 4zm3-345zm0 185zm0 59zm0 17zm0 22zm0 10zm0 1zm0 21zm0 2zm0 7zm0 3zm0 1zm0 10zm4-128zm0 13zm0 5zm0 31zm0 15zm0 14zm0 16zm0 11zm0 1zm0 20zm0 0zm0 2zm0 0zm0 3zm0 1zm0 7zm1-128zm0 9zm0 28zm0 1zm0 7zm0 35zm0 4zm0 23zm0 7zm0 4zm0 0zm0 3zm0 3zm0 4zm6-141zm0 28zm0 20zm0 3zm0 19zm0 26zm0 3zm0 10zm0 3zm0 1zm0 8zm0 16zm1-53zm0 10zm0 12zm0 7zm0 2zm0 0zm0 16zm2-242zm0 33zm0 116zm0 36zm0 2zm0 32zm0 2zm0 11zm0 1zm0 15zm0 3zm1-245zm0 153zm0 17zm0 12zm0 2zm0 20zm0 13zm0 12zm0 3zm0 14zm3-224zm0 151zm0 29zm0 3zm0 4zm0 10zm0 4zm0 2zm0 10zm0 11zm1-160zm0 56zm0 42zm0 1zm0 11zm0 4zm0 14zm0 15zm0 1zm0 10zm3-135zm0 13zm0 17zm0 19zm0 3zm0 40zm0 18zm0 11zm0 4zm0 5zm0 0zm0 2zm0 2zm0 3zm3-130zm0 37zm0 19zm0 11zm0 16zm0 25zm0 1zm0 8zm0 5zm0 1zm0 8zm0 4zm3-107zm0 6zm0 19zm0 1zm0 47zm0 3zm0 5zm0 4zm0 1zm1-96zm0 16zm0 29zm0 42zm0 6zm0 2zm0 5zm0 5zm0 0zm0 7zm0 6zm0 0zm3-192zm0 57zm0 17zm0 61zm0 8zm0 15zm1-25zm0 5zm0 6zm0 9zm0 3zm0 0zm0 4zm0 2zm0 16zm0 3zm2-212zm0 76zm0 81zm0 2zm0 26zm0 15zm0 12zm0 5zm3-41zm0 4zm0 4zm0 3zm0 1zm1-78zm0 9zm0 22zm0 17zm0 12zm0 20zm0 11zm0 5zm0 3zm0 6zm5-135zm0 66zm0 13zm0 24zm0 10zm0 4zm1-57zm0 15zm0 5zm0 18zm0 26zm0 2zm0 4zm0 9zm5-66zm0 1zm0 9zm0 12zm0 3zm0 2zm0 32zm0 2zm0 5zm1-139zm0 47zm0 15zm0 5zm0 3zm0 11zm0 6zm0 13zm0 3zm0 5zm0 9zm0 0zm0 2zm0 0zm0 5zm0 8zm0 1zm0 2zm0 0zm2-133zm0 17zm0 41zm0 47zm0 30zm0 0zm1-76zm0 42zm0 4zm0 11zm0 11zm0 5zm2-129zm0 14zm0 91zm0 25zm3-198zm0 168zm0 15zm0 12zm0 2zm0 5zm2-100zm0 23zm0 41zm0 5zm0 1zm0 1zm0 5zm0 6zm0 5zm0 3zm0 6zm0 2zm2-57zm0 7zm0 1zm0 4zm0 8zm0 6zm0 19zm1-215zm0 27zm0 66zm0 86zm0 5zm0 11zm0 2zm0 1zm0 4zm0 8zm0 1zm0 6zm0 8zm4-130zm0 48zm0 49zm0 0zm0 2zm0 0zm0 4zm0 2zm0 0zm0 3zm0 5zm0 9zm0 4zm0 0zm3-159zm0 120zm0 16zm0 13zm0 11zm3-35zm0 30zm0 0zm0 4zm0 2zm1-82zm0 21zm0 38zm0 10zm0 6zm0 14zm1-87zm0 18zm0 12zm0 25zm0 7zm0 17zm3-8zm0 10zm5-121zm0 16zm0 18zm0 4zm0 4zm0 35zm0 16zm0 2zm0 11zm0 4zm0 10zm2-113zm0 43zm0 39zm0 16zm0 7zm0 4zm0 4zm0 1zm0 5zm0 0zm2-41zm0 12zm0 1zm0 16zm0 14zm0 0zm2-107zm0 53zm0 5zm0 2zm0 7zm0 11zm0 2zm0 4zm0 6zm0 2zm0 6zm0 6zm0 1zm1-95zm0 70zm0 9zm0 3zm2-33zm0 22zm0 2zm0 8zm0 0zm0 5zm0 1zm3-27zm0 0zm0 25zm0 8zm0 3zm3-8zm0 2zm0 1zm2-142zm0 99zm0 4zm0 22zm0 8zm0 6zm0 1zm3-99zm0 50zm0 2zm0 14zm0 8zm0 30zm2-132zm0 103zm0 10zm0 3zm0 9zm0 11zm2-95zm0 22zm0 20zm0 20zm0 4zm0 1zm0 1zm0 6zm0 10zm0 2zm0 7zm1-45zm0 31zm0 2zm0 4zm0 3zm4-90zm0 52zm0 25zm0 1zm0 7zm0 7zm1-110zm0 62zm0 42zm1-220zm0 165zm0 36zm0 1zm0 12zm0 9zm0 4zm0 1zm0 1zm3-25zm0 6zm4-106zm0 90zm0 4zm0 1zm0 4zm0 15zm0 1zm2-64zm0 6zm0 12zm0 13zm0 2zm0 5zm0 24zm0 4zm0 6zm3-51zm0 23zm0 15zm0 5zm2-54zm0 12zm0 18zm0 6zm0 20zm0 1zm0 9zm1-51zm0 3zm0 22zm0 2zm0 2zm3-115zm0 113zm0 11zm0 3zm0 2zm0 6zm2-143zm0 68zm0 22zm0 23zm0 6zm0 14zm0 4zm0 2zm4-103zm0 95zm1-9zm0 13zm0 3zm1-33zm0 29zm1-42zm0 28zm1-106zm0 61zm0 69zm1-28zm0 11zm4-82zm0 39zm0 2zm0 16zm0 41zm4-99zm0 28zm0 4zm0 40zm0 30zm2-53zm0 26zm1 9zm2-15zm0 9zm1-15zm0 4zm0 6zm0 10zm0 15zm0 2zm1-97zm0 25zm0 15zm0 34zm3-9zm0 15zm0 2zm2-45zm0 13zm0 15zm0 3zm0 7zm0 4zm0 6zm0 1zm0 5zm0 5zm1-40zm0 14zm0 8zm3-34zm0 37zm0 7zm2-49zm0 37zm0 11zm2-22zm1-39zm0 41zm0 8zm0 18zm0 1zm2-37zm0 14zm0 5zm0 4zm0 10zm1-12zm1-98zm0 96zm0 11zm0 8zm2-47zm2 38zm2-5zm0 8zm4 4zm1-38zm0 7zm0 6zm0 19zm3-32zm1 38zm0 0zm1-19zm0 2zm0 17zm1-59zm0 18zm0 6zm1-22zm0 13zm0 4zm0 19zm0 20zm0 3zm3-36zm0 37zm2-106zm0 68zm0 6zm4-8zm0 29zm0 3zm0 7zm5-6zm2 7zm5-16zm5 15zm8-1zm2-35zm0 19zm8-16zm1 18zm0 14zm1-18zm8 17zm5 1zm3-10zm1-18zm3 23zm1-5zm0 11zm4-15zm13-54zm4 43zm0 27zm1-23zm3 4zm1 10zm4-1zm2 5zm3-13zm5 0zm2-10zm9 18zm4 0zm20-2zm1 11zm4-13zm2 11zm11-4zm2 5z" stroke="#addac0"/><path d="M197 1367zm0 2zm0 76zm0 87zm0 32zm0 19zm0 6zm0 74zm0 5zm0 21zm0 0zm0 4zm0 0zm0 3zm0 3zm0 3zm0 27zm0 15zm0 16zm0 1zm0 3zm0 8zm0 2zm0 1zm0 4zm0 0zm0 11zm0 1zm0 6zm0 6zm0 5zm0 1zm0 8zm0 0zm7-358zm0 75zm0 97zm0 33zm0 56zm0 13zm0 9zm0 12zm0 4zm0 3zm0 4zm0 18zm0 5zm0 2zm0 2zm0 1zm0 1zm0 3zm0 2zm11-273zm0 89zm0 18zm0 0zm0 21zm0 14zm0 26zm0 7zm0 2zm0 9zm0 7zm0 8zm0 1zm0 1zm0 7zm0 7zm0 0zm0 18zm0 15zm0 2zm0 3zm0 4zm0 2zm0 3zm0 1zm0 5zm0 14zm0 6zm0 7zm4-258zm0 35zm0 2zm0 55zm0 14zm0 32zm0 6zm0 1zm0 2zm0 1zm0 2zm0 1zm0 5zm0 20zm0 1zm0 13zm0 3zm0 6zm0 5zm0 1zm0 0zm0 2zm0 8zm0 13zm0 12zm0 1zm0 1zm0 1zm0 3zm10-539zm0 129zm0 172zm0 50zm0 63zm0 5zm0 2zm0 31zm0 2zm0 27zm0 6zm0 13zm0 1zm0 3zm0 5zm0 5zm0 12zm0 3zm0 10zm3-310zm0 9zm0 129zm0 20zm0 17zm0 26zm0 2zm0 2zm0 2zm0 16zm0 27zm0 13zm0 3zm0 8zm0 14zm0 4zm0 3zm0 4zm0 12zm0 9zm0 3zm3-264zm0 92zm0 3zm0 32zm0 1zm0 27zm0 7zm0 9zm0 23zm0 20zm0 5zm0 1zm0 12zm0 1zm0 7zm0 8zm0 0zm0 1zm0 2zm0 1zm0 3zm0 6zm8-158zm0 58zm0 6zm0 6zm0 21zm0 10zm0 8zm0 3zm0 1zm0 1zm0 2zm0 4zm0 0zm0 1zm0 5zm0 1zm0 0zm0 2zm0 2zm0 9zm0 1zm0 5zm0 3zm0 0zm0 5zm0 1zm0 1zm7-462zm0 248zm0 8zm0 36zm0 31zm0 1zm0 18zm0 52zm0 3zm0 21zm0 11zm0 7zm0 1zm0 16zm0 9zm0 6zm0 0zm3-209zm0 77zm0 2zm0 5zm0 12zm0 14zm0 20zm0 4zm0 2zm0 5zm0 13zm0 0zm0 6zm0 1zm0 11zm0 5zm0 7zm0 3zm0 5zm0 1zm0 1zm0 6zm0 0zm0 1zm0 6zm0 0zm0 0zm2-121zm0 4zm0 10zm0 12zm0 2zm0 13zm0 2zm0 7zm0 8zm0 10zm0 2zm0 0zm0 4zm0 6zm0 0zm0 2zm0 2zm0 10zm0 1zm0 1zm0 2zm0 3zm0 3zm0 15zm4-206zm0 61zm0 12zm0 16zm0 6zm0 1zm0 11zm0 15zm0 3zm0 9zm0 4zm0 6zm0 2zm0 1zm0 14zm0 0zm0 5zm0 6zm0 4zm0 1zm0 2zm0 26zm0 2zm9-309zm0 82zm0 32zm0 39zm0 3zm0 43zm0 27zm0 12zm0 2zm0 21zm0 0zm0 6zm0 2zm0 2zm0 1zm0 1zm0 12zm0 3zm0 1zm0 3zm0 3zm0 2zm0 4zm0 0zm0 5zm2-144zm0 29zm0 12zm0 20zm0 15zm0 26zm0 4zm0 1zm0 0zm0 4zm0 1zm0 2zm0 2zm0 0zm0 3zm0 14zm0 1zm0 9zm0 0zm0 0zm0 4zm0 2zm0 0zm5-182zm0 6zm0 36zm0 5zm0 53zm0 4zm0 8zm0 2zm0 8zm0 9zm0 0zm0 9zm0 3zm0 3zm0 6zm0 2zm0 6zm0 1zm0 2zm0 1zm0 7zm0 3zm0 0zm0 5zm5-269zm0 163zm0 44zm0 0zm0 13zm0 2zm0 0zm0 1zm0 10zm0 11zm0 1zm0 3zm0 5zm0 1zm0 1zm0 1zm0 13zm0 1zm0 1zm3-109zm0 13zm0 51zm0 7zm0 3zm0 7zm0 3zm0 10zm0 5zm0 2zm0 4zm0 4zm3-177zm0 37zm0 10zm0 11zm0 10zm0 2zm0 4zm0 24zm0 29zm0 17zm0 8zm0 1zm0 19zm2-188zm0 17zm0 27zm0 26zm0 5zm0 31zm0 19zm0 10zm0 2zm0 19zm0 1zm0 4zm0 11zm0 6zm0 3zm0 1zm0 2zm0 7zm0 3zm4-239zm0 156zm0 17zm0 6zm0 17zm0 10zm0 1zm0 2zm0 1zm0 0zm0 6zm0 13zm0 6zm0 3zm1-557zm0 375zm0 50zm0 23zm0 16zm0 7zm0 3zm0 31zm0 13zm0 3zm0 5zm0 2zm0 3zm0 8zm0 7zm0 3zm0 1zm0 5zm0 1zm6-380zm0 295zm0 5zm0 20zm0 4zm0 4zm0 18zm0 5zm0 2zm0 1zm0 1zm0 4zm0 2zm0 5zm0 12zm0 2zm0 0zm5-240zm0 118zm0 10zm0 29zm0 24zm0 14zm0 3zm0 6zm0 11zm0 1zm0 0zm0 3zm0 4zm0 13zm1-207zm0 38zm0 57zm0 3zm0 36zm0 10zm0 4zm0 5zm0 7zm0 14zm0 8zm0 10zm0 2zm0 1zm0 3zm0 6zm0 2zm3-277zm0 189zm0 16zm0 25zm0 25zm0 1zm0 10zm0 1zm0 1zm0 15zm1-110zm0 4zm0 14zm0 7zm0 20zm0 2zm0 2zm0 14zm0 3zm0 4zm0 1zm0 3zm0 4zm0 0zm0 5zm0 2zm0 1zm0 2zm0 1zm0 13zm0 7zm6-311zm0 220zm0 2zm0 6zm0 41zm0 11zm0 3zm0 12zm0 0zm0 10zm0 6zm4-386zm0 296zm0 9zm0 15zm0 4zm0 11zm0 14zm0 1zm0 8zm0 0zm0 3zm0 1zm0 0zm0 13zm0 7zm0 3zm3-370zm0 263zm0 4zm0 16zm0 11zm0 2zm0 5zm0 2zm0 14zm0 20zm0 0zm0 3zm0 3zm0 1zm0 1zm0 11zm0 7zm0 4zm0 4zm0 0zm1-153zm0 40zm0 10zm0 28zm0 1zm0 5zm0 22zm0 13zm0 7zm0 0zm0 7zm0 9zm0 7zm4-283zm0 17zm0 114zm0 55zm0 6zm0 13zm0 5zm0 11zm0 3zm0 4zm0 1zm0 16zm0 21zm0 3zm0 2zm0 3zm0 7zm0 1zm0 3zm0 1zm4-164zm0 1zm0 86zm0 3zm0 2zm0 25zm0 1zm0 4zm0 16zm0 2zm0 8zm0 1zm0 1zm0 2zm1-344zm0 232zm0 6zm0 6zm0 39zm0 9zm0 5zm0 9zm0 4zm0 10zm0 0zm0 10zm0 2zm0 5zm0 5zm0 0zm0 5zm0 2zm0 3zm0 4zm1-347zm0 195zm0 67zm0 6zm0 19zm0 5zm0 5zm0 24zm0 2zm0 11zm0 0zm0 3zm0 3zm0 7zm0 1zm6-467zm0 257zm0 107zm0 48zm0 14zm0 2zm0 2zm0 1zm0 5zm0 5zm0 10zm0 1zm0 2zm0 1zm0 4zm0 3zm0 4zm1-119zm0 37zm0 2zm0 5zm0 2zm0 34zm0 12zm0 6zm0 7zm1-216zm0 148zm0 11zm0 17zm0 0zm0 13zm0 3zm0 1zm0 7zm0 6zm0 1zm0 8zm0 2zm0 14zm3-184zm0 95zm0 4zm0 35zm0 22zm0 4zm0 8zm0 2zm0 1zm0 3zm4-74zm0 44zm0 1zm0 4zm0 3zm0 1zm0 9zm0 1zm0 1zm0 1zm0 4zm0 3zm0 9zm0 4zm1-21zm0 6zm0 17zm6-78zm0 27zm0 14zm0 4zm0 4zm0 1zm0 2zm0 7zm0 5zm0 0zm0 5zm0 0zm0 1zm0 4zm0 1zm0 2zm1-90zm0 34zm0 26zm0 0zm0 13zm0 4zm0 1zm0 2zm0 3zm2-86zm0 1zm0 12zm0 44zm0 4zm0 3zm0 7zm0 8zm0 7zm1-170zm0 20zm0 121zm0 1zm0 8zm0 5zm0 1zm0 0zm0 2zm0 6zm0 2zm0 11zm3-86zm0 53zm0 10zm0 2zm0 6zm0 3zm0 3zm0 6zm1-151zm0 65zm0 42zm0 2zm0 6zm0 3zm0 2zm0 8zm0 3zm0 4zm0 5zm0 0zm0 0zm0 2zm0 9zm0 2zm3-84zm0 20zm0 14zm0 1zm0 21zm0 10zm0 2zm0 9zm0 9zm3-131zm0 12zm0 23zm0 28zm0 28zm0 2zm0 1zm0 8zm0 8zm0 5zm0 7zm0 2zm0 4zm0 1zm3-134zm0 10zm0 35zm0 45zm0 5zm0 7zm0 2zm0 10zm0 3zm0 9zm0 6zm1-82zm0 9zm0 33zm0 4zm0 16zm0 8zm0 10zm0 4zm3-146zm0 70zm0 1zm0 17zm0 1zm0 2zm0 12zm0 30zm0 1zm0 2zm1-63zm0 20zm0 7zm0 15zm0 9zm0 2zm0 11zm0 4zm0 4zm0 3zm2-128zm0 53zm0 38zm0 1zm0 3zm0 0zm0 22zm0 4zm0 2zm0 1zm0 2zm0 2zm3-67zm0 2zm0 37zm0 2zm0 5zm0 3zm0 1zm0 2zm0 4zm0 3zm0 1zm0 6zm1-131zm0 41zm0 58zm0 2zm0 2zm0 6zm0 4zm0 3zm0 6zm0 4zm0 3zm0 3zm5-66zm0 8zm0 17zm0 4zm0 15zm0 16zm1-64zm0 22zm0 8zm0 5zm0 2zm0 6zm0 3zm0 0zm0 5zm0 2zm0 1zm0 1zm0 9zm5-99zm0 41zm0 6zm0 30zm0 1zm0 6zm0 2zm0 8zm0 2zm1-118zm0 49zm0 28zm0 9zm0 8zm0 3zm0 1zm0 0zm0 8zm0 5zm0 2zm0 1zm0 2zm0 0zm0 1zm0 3zm0 2zm0 4zm2-149zm0 95zm0 35zm0 4zm0 3zm1-178zm0 110zm0 17zm0 22zm0 14zm0 5zm0 1zm0 4zm0 0zm0 2zm0 7zm2-134zm0 68zm0 10zm0 37zm0 4zm0 7zm0 5zm0 7zm3-34zm0 3zm0 4zm0 18zm0 5zm0 3zm0 1zm2-86zm0 3zm0 54zm0 16zm0 4zm0 9zm0 0zm0 1zm0 1zm0 0zm0 2zm2-110zm0 79zm0 9zm0 2zm0 1zm0 2zm0 4zm1-67zm0 3zm0 9zm0 18zm0 19zm0 6zm0 1zm0 0zm0 1zm0 2zm0 0zm0 1zm0 1zm0 6zm4-68zm0 12zm0 12zm0 3zm0 8zm0 15zm0 3zm0 1zm0 1zm0 1zm0 5zm0 4zm0 2zm0 5zm0 3zm0 3zm3-159zm0 48zm0 23zm0 40zm0 4zm0 6zm0 19zm0 2zm0 1zm0 6zm3-38zm0 1zm0 10zm0 9zm0 8zm0 6zm0 8zm0 4zm0 4zm1-122zm0 78zm0 0zm0 20zm0 20zm0 0zm1-47zm0 6zm0 11zm0 2zm0 23zm3-64zm0 18zm0 2zm0 5zm0 9zm0 9zm0 17zm0 10zm5-80zm0 12zm0 13zm0 4zm0 14zm0 14zm0 9zm0 4zm0 1zm0 3zm0 2zm0 3zm0 1zm0 5zm2-104zm0 39zm0 12zm0 1zm0 8zm0 4zm0 7zm0 3zm0 1zm0 8zm0 3zm0 3zm0 3zm0 0zm0 1zm0 1zm0 3zm2-51zm0 44zm2-54zm0 32zm0 24zm0 5zm0 5zm1-132zm0 92zm0 11zm2-61zm0 26zm0 5zm0 10zm0 16zm0 17zm0 3zm0 2zm0 8zm0 3zm3-155zm0 98zm0 14zm0 16zm0 17zm0 3zm3-79zm0 23zm0 6zm0 31zm0 5zm0 0zm0 4zm2-97zm0 54zm0 23zm0 3zm0 4zm0 10zm0 0zm0 7zm0 6zm0 1zm3-41zm0 12zm0 16zm0 0zm0 4zm0 2zm0 1zm0 2zm0 7zm0 2zm0 1zm0 0zm0 0zm2-55zm0 19zm0 2zm0 12zm2-73zm0 58zm0 16zm0 1zm0 2zm0 2zm0 1zm0 1zm0 4zm0 8zm0 3zm1-58zm0 22zm0 17zm0 3zm0 6zm0 6zm4-78zm0 9zm0 14zm0 3zm0 6zm0 5zm0 3zm0 15zm0 6zm0 12zm0 10zm1-49zm0 1zm0 7zm0 11zm0 0zm0 4zm0 5zm0 6zm0 1zm0 8zm0 4zm0 2zm1-97zm0 12zm0 22zm0 10zm0 22zm0 0zm0 6zm0 2zm0 0zm0 12zm0 6zm0 2zm3-58zm0 14zm0 41zm4-63zm0 4zm0 24zm0 5zm0 4zm0 11zm0 9zm0 6zm0 5zm2-52zm0 21zm0 5zm0 5zm0 2zm0 7zm0 0zm0 1zm0 2zm0 4zm3-71zm0 26zm0 18zm0 4zm0 26zm0 0zm2-11zm0 10zm0 2zm1-113zm0 58zm0 15zm0 17zm0 2zm1-9zm0 0zm0 7zm0 16zm0 1zm0 6zm2-19zm2-26zm0 22zm0 4zm0 8zm0 2zm0 7zm4-85zm0 27zm0 23zm0 5zm0 15zm0 1zm0 2zm0 8zm0 2zm0 1zm1-34zm1-46zm0 67zm0 12zm1-44zm0 33zm0 3zm0 6zm0 1zm0 2zm0 0zm1-82zm0 51zm0 2zm1-38zm0 21zm0 50zm0 1zm4-35zm0 5zm0 1zm0 16zm0 8zm0 5zm4-27zm0 7zm0 4zm0 2zm0 7zm2-21zm0 21zm1-40zm2 9zm0 28zm0 2zm1-16zm0 0zm0 12zm0 0zm1 3zm3-55zm2 37zm0 8zm0 0zm0 9zm1-39zm0 31zm0 5zm0 1zm3-19zm0 27zm2-51zm0 41zm0 0zm0 14zm2-29zm0 3zm0 20zm1-44zm0 22zm0 0zm2-49zm0 22zm0 32zm0 9zm0 8zm0 3zm1-4zm1-19zm0 9zm2-37zm0 9zm0 14zm0 14zm0 0zm0 8zm1-89zm0 62zm1-6zm0 22zm0 9zm2 1zm0 2zm0 3zm0 3zm4-30zm0 7zm0 4zm1-73zm0 70zm0 13zm0 7zm2 2zm1-34zm1-12zm0 32zm1-10zm1-15zm0 21zm0 11zm0 7zm1-44zm0 28zm0 10zm0 0zm0 1zm0 0zm3-51zm0 52zm0 1zm2-47zm0 9zm0 15zm0 25zm3 0zm1-48zm0 19zm0 6zm0 13zm0 3zm0 7zm4-16zm0 7zm1-79zm0 70zm0 4zm0 10zm2-26zm0 23zm1-38zm1-69zm0 90zm2-6zm3-33zm0 56zm0 8zm3-47zm0 27zm2-4zm5-23zm1 22zm0 26zm1-59zm2 3zm0 7zm9-55zm0 97zm3-18zm0 10zm0 1zm0 8zm3-12zm0 2zm0 13zm5-7zm3 3zm0 7zm2-30zm1 9zm4-9zm0 25zm0 4zm3-16zm1 9zm3-7zm2-22zm0 28zm1 6zm6-8zm0 11zm6-51zm0 43zm2-36zm0 16zm3 22zm2-3zm2 1zm4-44zm3 51zm1-1zm3-74zm2 33zm2 3zm4 39zm4-2zm1-50zm3 10zm2 27zm2 3zm3 8zm2 5zm2-2zm1-14zm1 9zm2-13zm0 13zm0 2zm5 4zm4-8zm1-9zm0 2zm7 7zm3-4zm0 10zm7-15zm5 13zm3-7zm2-46zm2 28zm0 26zm5-33zm3 9zm6 24zm2 1zm1-28zm4 18zm1 0zm0 8zm2 0zm4-16zm2 8zm9-8zm1 11zm1-10zm12 6zm1 4zm8-47zm0 42zm11 6zm5 4zm0 3zm2-10zm4 11z" stroke="#bee4c3"/><path d="M197 1281zm0 345zm0 15zm0 7zm0 13zm0 5zm0 24zm0 14zm0 21zm0 34zm0 9zm0 2zm0 14zm0 16zm0 2zm0 3zm0 1zm0 1zm0 0zm0 5zm0 2zm0 5zm0 1zm0 0zm0 1zm7-469zm0 187zm0 28zm0 83zm0 16zm0 6zm0 9zm0 0zm0 27zm0 32zm0 13zm0 3zm0 5zm0 28zm0 4zm0 5zm0 6zm0 3zm0 3zm0 1zm0 1zm0 0zm0 4zm0 2zm0 1zm0 1zm0 2zm0 2zm11-139zm0 20zm0 11zm0 2zm0 24zm0 25zm0 11zm0 1zm0 4zm0 1zm0 4zm0 1zm0 2zm0 5zm0 1zm0 2zm0 8zm0 3zm0 0zm0 8zm0 5zm0 1zm4-262zm0 124zm0 4zm0 21zm0 5zm0 6zm0 10zm0 4zm0 3zm0 15zm0 14zm0 3zm0 2zm0 6zm0 12zm0 1zm0 11zm0 3zm0 4zm0 0zm0 7zm0 8zm10-356zm0 77zm0 28zm0 37zm0 136zm0 7zm0 14zm0 10zm0 3zm0 2zm0 5zm0 2zm0 4zm0 4zm0 3zm0 0zm0 3zm0 9zm0 7zm3-286zm0 66zm0 24zm0 73zm0 19zm0 26zm0 1zm0 1zm0 21zm0 4zm0 2zm0 5zm0 2zm0 9zm0 14zm0 1zm0 0zm0 2zm0 1zm0 2zm0 1zm0 3zm0 3zm0 6zm0 1zm0 1zm3-340zm0 95zm0 42zm0 92zm0 7zm0 9zm0 5zm0 5zm0 10zm0 11zm0 9zm0 1zm0 3zm0 24zm0 0zm0 11zm0 2zm0 3zm0 4zm0 1zm0 3zm0 1zm0 1zm0 1zm0 2zm8-207zm0 6zm0 19zm0 31zm0 32zm0 37zm0 21zm0 6zm0 11zm0 1zm0 7zm0 1zm0 16zm0 1zm0 0zm0 2zm0 5zm0 0zm0 3zm0 6zm7-278zm0 160zm0 17zm0 26zm0 14zm0 2zm0 8zm0 0zm0 2zm0 0zm0 5zm0 1zm0 3zm0 12zm0 12zm0 7zm0 4zm0 6zm0 2zm0 0zm3-250zm0 54zm0 13zm0 54zm0 26zm0 7zm0 22zm0 10zm0 4zm0 1zm0 4zm0 7zm0 7zm0 3zm0 0zm0 7zm0 6zm0 10zm0 2zm0 0zm0 4zm0 2zm0 1zm0 1zm0 2zm2-314zm0 119zm0 77zm0 1zm0 0zm0 1zm0 6zm0 13zm0 3zm0 26zm0 19zm0 2zm0 4zm0 7zm0 5zm0 2zm0 8zm0 8zm0 2zm0 3zm0 7zm0 1zm0 0zm0 1zm0 0zm0 0zm4-137zm0 30zm0 7zm0 15zm0 17zm0 10zm0 8zm0 2zm0 2zm0 6zm0 3zm0 2zm0 1zm0 11zm0 0zm0 5zm0 1zm0 3zm0 1zm0 2zm0 3zm0 0zm9-81zm0 10zm0 9zm0 9zm0 4zm0 6zm0 10zm0 4zm0 3zm0 9zm0 2zm0 7zm0 5zm0 4zm0 0zm0 2zm0 3zm0 0zm0 0zm0 1zm2-91zm0 47zm0 2zm0 0zm0 3zm0 8zm0 0zm0 2zm0 3zm0 8zm0 7zm0 1zm0 6zm0 1zm0 0zm0 1zm0 4zm0 1zm5-208zm0 34zm0 48zm0 35zm0 26zm0 10zm0 5zm0 9zm0 5zm0 1zm0 8zm0 14zm0 1zm0 6zm5-240zm0 77zm0 96zm0 16zm0 12zm0 3zm0 4zm0 3zm0 0zm0 2zm0 7zm0 0zm0 4zm0 8zm0 5zm0 3zm3-290zm0 152zm0 13zm0 0zm0 18zm0 40zm0 15zm0 2zm0 6zm0 10zm0 1zm0 0zm0 0zm0 7zm0 6zm0 2zm0 2zm0 2zm0 3zm0 2zm0 2zm0 0zm0 4zm0 3zm0 5zm3-404zm0 225zm0 51zm0 42zm0 4zm0 9zm0 6zm0 5zm0 17zm0 1zm0 2zm0 0zm0 2zm0 2zm0 5zm0 1zm0 4zm0 4zm0 10zm0 1zm0 3zm0 5zm0 1zm2-153zm0 44zm0 52zm0 22zm0 4zm0 9zm0 1zm0 6zm0 6zm0 7zm0 0zm0 3zm0 0zm4-103zm0 32zm0 17zm0 3zm0 6zm0 1zm0 0zm0 2zm0 1zm0 0zm0 10zm0 5zm0 1zm0 1zm0 7zm0 2zm0 2zm0 1zm0 11zm0 2zm0 0zm0 2zm1-94zm0 2zm0 17zm0 2zm0 10zm0 1zm0 2zm0 6zm0 1zm0 12zm0 10zm0 5zm0 7zm0 3zm0 3zm0 0zm0 9zm0 1zm0 4zm6-171zm0 69zm0 41zm0 8zm0 4zm0 9zm0 3zm0 2zm0 7zm0 0zm0 4zm0 4zm0 4zm0 3zm0 6zm0 2zm0 1zm0 3zm5-122zm0 52zm0 3zm0 9zm0 3zm0 4zm0 13zm0 4zm0 2zm0 1zm0 14zm0 0zm0 2zm0 0zm0 3zm0 0zm0 1zm0 1zm0 6zm1-218zm0 105zm0 39zm0 54zm0 2zm0 0zm0 7zm0 3zm0 0zm0 8zm0 1zm0 3zm3-59zm0 2zm0 9zm0 11zm0 7zm0 6zm0 1zm0 5zm0 2zm0 6zm0 9zm0 1zm0 0zm1-77zm0 3zm0 13zm0 7zm0 0zm0 5zm0 1zm0 3zm0 5zm0 4zm0 3zm0 9zm0 6zm0 1zm0 4zm0 2zm0 8zm6-69zm0 9zm0 1zm0 13zm0 4zm0 4zm0 6zm0 2zm0 1zm0 8zm0 2zm0 9zm0 7zm0 6zm4-154zm0 80zm0 10zm0 2zm0 3zm0 20zm0 1zm0 15zm0 5zm0 8zm0 6zm3-100zm0 36zm0 9zm0 2zm0 4zm0 4zm0 5zm0 1zm0 11zm0 2zm0 2zm0 4zm0 2zm0 6zm0 9zm0 2zm0 0zm0 0zm0 3zm0 2zm1-102zm0 9zm0 25zm0 1zm0 25zm0 13zm0 9zm0 2zm0 1zm0 7zm0 2zm0 1zm0 2zm0 6zm4-98zm0 37zm0 1zm0 2zm0 2zm0 10zm0 2zm0 0zm0 5zm0 2zm0 1zm0 5zm0 4zm0 7zm0 1zm0 3zm0 0zm0 4zm0 1zm0 2zm0 0zm0 1zm0 2zm0 1zm0 1zm4-111zm0 30zm0 26zm0 1zm0 17zm0 0zm0 3zm0 1zm0 5zm0 2zm0 6zm0 11zm0 2zm0 10zm0 1zm1-110zm0 41zm0 13zm0 9zm0 7zm0 6zm0 5zm0 1zm0 5zm0 6zm0 5zm0 0zm0 3zm0 6zm0 1zm0 2zm1-179zm0 53zm0 58zm0 9zm0 5zm0 0zm0 1zm0 10zm0 2zm0 8zm0 16zm0 1zm0 3zm0 12zm0 1zm6-108zm0 62zm0 16zm0 1zm0 1zm0 2zm0 1zm0 4zm0 1zm0 3zm0 4zm0 6zm0 1zm0 0zm0 1zm0 0zm0 0zm0 2zm0 1zm0 2zm1-350zm0 210zm0 28zm0 50zm0 0zm0 3zm0 30zm0 6zm0 4zm0 1zm0 1zm0 1zm0 3zm0 5zm0 8zm1-205zm0 118zm0 3zm0 6zm0 8zm0 0zm0 1zm0 6zm0 4zm0 28zm0 3zm0 4zm0 2zm0 4zm0 1zm0 7zm0 1zm0 0zm0 4zm0 2zm0 3zm3-231zm0 97zm0 54zm0 16zm0 11zm0 17zm0 10zm0 15zm0 3zm0 0zm0 2zm0 3zm4-92zm0 4zm0 10zm0 29zm0 9zm0 6zm0 5zm0 12zm0 3zm0 3zm0 4zm0 8zm0 2zm1-55zm0 4zm0 10zm0 4zm0 12zm0 4zm0 5zm0 11zm6-184zm0 121zm0 29zm0 5zm0 0zm0 5zm0 2zm0 1zm0 3zm0 4zm0 2zm0 6zm0 1zm0 3zm0 5zm1-147zm0 43zm0 48zm0 9zm0 9zm0 4zm0 1zm0 9zm0 3zm0 20zm0 1zm2-65zm0 19zm0 4zm0 2zm0 14zm0 1zm0 1zm0 7zm0 2zm0 2zm0 1zm0 7zm0 0zm0 1zm0 0zm0 2zm0 4zm0 0zm1-216zm0 135zm0 23zm0 6zm0 39zm0 0zm0 3zm0 1zm0 1zm0 4zm0 4zm3-307zm0 132zm0 134zm0 1zm0 8zm0 5zm0 5zm0 0zm0 1zm0 1zm0 5zm0 1zm0 2zm0 1zm0 2zm0 1zm0 1zm0 0zm0 3zm1-107zm0 69zm0 11zm0 2zm0 5zm0 3zm0 3zm0 1zm0 1zm0 1zm0 9zm3-40zm0 5zm0 13zm0 1zm0 1zm0 16zm0 4zm0 0zm0 3zm0 1zm3-115zm0 39zm0 17zm0 1zm0 11zm0 33zm0 0zm0 6zm0 1zm0 0zm0 4zm0 2zm0 0zm0 1zm0 1zm3-136zm0 79zm0 22zm0 8zm0 1zm0 3zm0 4zm0 7zm0 2zm0 2zm0 2zm0 1zm0 3zm0 2zm1-70zm0 2zm0 8zm0 3zm0 9zm0 23zm0 1zm0 4zm0 10zm0 2zm0 0zm0 1zm0 2zm0 2zm3-42zm0 12zm0 7zm0 23zm0 2zm0 0zm1-68zm0 16zm0 22zm0 2zm0 5zm0 10zm0 0zm0 9zm0 0zm0 0zm0 3zm2-45zm0 11zm0 1zm0 6zm0 1zm0 1zm0 10zm0 2zm0 6zm0 0zm0 2zm0 1zm0 5zm0 1zm3-121zm0 2zm0 45zm0 33zm0 8zm0 10zm0 14zm0 4zm1-106zm0 42zm0 16zm0 4zm0 9zm0 24zm0 2zm0 3zm0 0zm0 1zm0 4zm0 2zm0 0zm0 2zm0 1zm0 0zm0 0zm0 0zm5-86zm0 69zm0 7zm0 7zm0 3zm0 0zm1-19zm0 12zm0 7zm0 0zm0 0zm0 0zm5-18zm0 7zm0 2zm0 0zm0 3zm0 2zm0 6zm1-135zm0 69zm0 9zm0 7zm0 7zm0 2zm0 12zm0 4zm0 1zm0 3zm0 1zm0 9zm0 0zm0 1zm0 2zm0 0zm0 0zm0 3zm0 1zm2-57zm0 16zm0 28zm0 6zm0 0zm0 0zm0 3zm0 0zm1-91zm0 23zm0 17zm0 5zm0 20zm0 9zm0 12zm0 6zm0 3zm0 3zm0 0zm2-68zm0 4zm0 2zm0 4zm0 33zm0 9zm0 8zm3-53zm0 32zm0 10zm0 8zm0 6zm0 1zm0 0zm0 3zm2-48zm0 3zm0 13zm0 9zm0 0zm0 5zm0 6zm0 0zm0 0zm0 3zm0 3zm0 2zm0 3zm0 2zm2-68zm0 5zm0 36zm0 9zm0 3zm0 1zm0 5zm0 0zm0 1zm0 0zm0 1zm1-243zm0 183zm0 10zm0 2zm0 6zm0 8zm0 15zm0 15zm4-33zm0 25zm0 11zm0 0zm0 1zm0 0zm0 6zm0 0zm0 1zm3-109zm0 63zm0 6zm0 0zm0 7zm0 7zm0 8zm0 14zm0 1zm0 2zm3-54zm0 11zm0 30zm0 2zm0 5zm0 7zm1-105zm0 8zm0 47zm0 4zm0 39zm0 0zm0 0zm0 4zm0 1zm0 0zm0 1zm1-28zm0 0zm0 12zm0 3zm0 7zm0 4zm3-36zm0 0zm0 20zm0 15zm0 1zm0 0zm0 2zm0 1zm5-71zm0 33zm0 16zm0 2zm0 1zm0 0zm0 2zm0 1zm0 0zm0 4zm0 12zm2-41zm0 4zm0 0zm0 3zm0 4zm0 1zm0 2zm0 2zm0 3zm0 8zm0 8zm0 5zm2-53zm0 20zm0 4zm0 2zm0 2zm0 8zm0 1zm0 8zm0 7zm2-58zm0 11zm0 19zm0 0zm0 8zm0 3zm0 5zm0 11zm1-85zm0 19zm0 29zm0 4zm0 2zm0 3zm0 13zm0 5zm0 5zm0 0zm2-52zm0 28zm0 25zm0 1zm3-20zm0 2zm0 23zm0 1zm3-57zm0 26zm0 18zm0 5zm0 1zm0 3zm0 2zm0 1zm0 2zm2-38zm0 1zm0 27zm3-22zm0 2zm0 2zm0 2zm0 7zm0 1zm0 3zm0 2zm0 2zm0 3zm0 1zm0 1zm0 1zm0 1zm2-92zm0 15zm0 18zm0 28zm0 29zm0 1zm0 0zm0 3zm0 1zm0 0zm2-48zm0 6zm0 5zm0 7zm0 0zm0 4zm0 3zm0 0zm0 13zm0 2zm0 1zm0 1zm0 0zm0 1zm0 0zm1-17zm0 10zm0 10zm4-75zm0 11zm0 29zm0 18zm0 4zm0 6zm0 1zm0 8zm1-35zm0 7zm0 4zm0 5zm0 6zm0 7zm1-60zm0 53zm0 7zm0 1zm0 2zm0 3zm3-40zm0 9zm0 10zm0 10zm0 7zm0 4zm4-69zm0 44zm0 7zm0 0zm0 0zm0 3zm0 1zm0 1zm0 2zm0 4zm0 4zm0 0zm0 1zm0 0zm0 1zm0 1zm2-110zm0 48zm0 21zm0 6zm0 3zm0 14zm0 4zm0 6zm0 1zm0 3zm0 0zm0 1zm0 0zm0 3zm3-77zm0 49zm0 21zm0 2zm0 0zm0 1zm2-52zm0 41zm0 0zm0 13zm1-30zm0 18zm0 9zm1-13zm0 2zm0 5zm0 1zm0 1zm0 6zm0 2zm0 1zm2-32zm0 9zm0 8zm0 5zm2-49zm0 18zm0 13zm0 6zm4-35zm0 14zm0 18zm0 3zm0 2zm0 3zm0 2zm0 2zm0 0zm0 1zm0 5zm0 7zm0 1zm1-4zm0 4zm1-83zm0 18zm0 24zm0 10zm0 5zm0 11zm0 7zm0 5zm1-83zm0 57zm0 11zm0 4zm0 11zm0 0zm0 2zm0 1zm1-20zm0 7zm0 9zm1-19zm0 5zm0 3zm0 11zm0 0zm0 0zm4-61zm0 23zm0 0zm0 17zm0 15zm0 1zm0 0zm0 0zm0 1zm0 3zm0 3zm0 1zm4-51zm0 23zm0 7zm0 6zm0 2zm0 1zm0 9zm0 4zm2-26zm0 5zm0 11zm0 6zm1-29zm0 29zm2-13zm0 9zm0 3zm1-3zm0 2zm0 3zm0 1zm1-40zm0 13zm0 8zm0 7zm0 3zm0 4zm0 2zm0 5zm3-34zm0 13zm0 6zm0 4zm2-17zm0 10zm0 5zm0 1zm0 4zm0 1zm0 2zm0 1zm0 2zm0 0zm0 2zm1-71zm0 12zm0 36zm0 5zm0 0zm0 13zm0 3zm0 1zm0 1zm3-35zm0 16zm0 4zm0 1zm0 2zm0 1zm0 8zm2-29zm0 11zm0 1zm0 3zm0 0zm0 1zm0 3zm0 2zm0 11zm2-29zm0 6zm0 0zm0 1zm0 14zm0 4zm0 1zm1-38zm0 14zm0 19zm0 8zm2-72zm0 27zm0 20zm0 5zm0 4zm0 0zm0 0zm0 1zm0 1zm0 3zm0 2zm0 5zm0 1zm0 3zm1-44zm0 20zm0 14zm0 2zm0 1zm1-12zm0 8zm0 1zm0 5zm0 0zm0 3zm2-32zm0 11zm0 2zm0 9zm0 8zm1-17zm0 17zm1-20zm0 11zm2-51zm0 51zm0 8zm0 3zm4-1zm1-88zm0 69zm0 4zm0 4zm0 4zm0 3zm0 1zm0 0zm2-12zm0 7zm0 1zm0 10zm1-12zm1-20zm0 25zm0 3zm1-10zm0 12zm1-26zm0 11zm0 2zm0 2zm0 7zm0 3zm1-21zm0 3zm0 3zm0 5zm0 1zm0 9zm0 0zm0 1zm0 1zm0 0zm3-7zm2-19zm0 5zm0 4zm0 13zm0 4zm0 0zm3-41zm0 18zm0 4zm0 15zm0 2zm1-11zm0 0zm0 10zm0 3zm4-36zm0 17zm0 3zm0 2zm0 10zm1-23zm0 20zm2-14zm0 11zm0 4zm2-28zm0 30zm2-6zm3-19zm0 7zm5 7zm0 6zm0 1zm0 9zm5-19zm0 12zm1-21zm2-14zm1 24zm0 4zm0 7zm1-9zm3 14zm3-3zm5-12zm3-1zm0 13zm2-38zm0 17zm3 15zm0 5zm1-51zm0 23zm0 18zm0 11zm1-27zm0 15zm0 16zm1-21zm0 18zm2 0zm0 4zm1-4zm2-6zm0 8zm6 1zm2-6zm0 0zm0 4zm1-6zm2 5zm1 3zm4-3zm2-4zm1-10zm4 7zm1-12zm2-18zm0 33zm0 2zm1-3zm0 8zm4-36zm2 22zm1 4zm0 7zm2-5zm5-62zm0 63zm1 1zm9-5zm0 8zm1-12zm0 4zm1-7zm3 15zm1-7zm0 6zm2-24zm0 26zm3-1zm0 2zm2-50zm0 32zm0 14zm0 1zm3-24zm0 3zm5-18zm1 16zm0 26zm2 0zm2-28zm1 25zm2-5zm0 3zm0 5zm1-17zm1 6zm0 8zm3-6zm0 4zm0 7zm0 0zm6-7zm1 6zm6-28zm6 4zm0 6zm0 15zm8-13zm0 15zm2-14zm3 13zm2-4zm2-7zm0 7zm0 3zm0 3zm1-40zm0 41zm1-2zm7-2zm0 4zm1-12zm0 12zm4-19zm1-6zm2 14zm4 6zm4-5zm0 2zm0 7zm1-6zm1-5zm0 12zm3-1zm2-3zm3-19zm2 18zm8-20zm1 19zm4-4zm14 1zm0 3zm9-5zm0 9zm2-3zm3 4zm3-8zm0 6zm1-11zm1 0zm2 1zm4 3zm0 9zm1-1zm4 0zm6-2zm3-5zm5-19zm18 16zm4 4zm1-8zm1 13zm2-13zm1 1zm1 12zm4 2zm2-11zm0 11zm1-6zm7 1zm1 4zm3-32zm3 5zm4 16zm31-5zm17 9z" stroke="#cfeec5"/><path d="M197 1169zm0 283zm0 16zm0 96zm0 161zm0 3zm0 42zm0 2zm0 1zm0 1zm0 1zm0 1zm0 4zm0 18zm0 1zm0 2zm0 2zm7-254zm0 123zm0 51zm0 3zm0 1zm0 48zm0 7zm0 12zm0 3zm0 1zm0 9zm0 0zm0 0zm0 2zm0 4zm0 2zm0 0zm0 1zm0 1zm0 0zm0 4zm0 3zm11-111zm0 7zm0 5zm0 1zm0 16zm0 17zm0 3zm0 7zm0 1zm0 10zm0 1zm0 5zm0 4zm0 10zm0 4zm0 1zm0 6zm0 8zm0 0zm0 1zm0 2zm0 2zm4-173zm0 21zm0 45zm0 2zm0 13zm0 33zm0 3zm0 4zm0 14zm0 3zm0 8zm0 3zm0 2zm0 0zm0 3zm0 6zm0 1zm0 6zm0 1zm0 0zm0 1zm0 4zm0 0zm10-377zm0 274zm0 1zm0 12zm0 12zm0 5zm0 13zm0 21zm0 2zm0 3zm0 1zm0 3zm0 1zm0 1zm0 7zm0 3zm0 3zm0 3zm0 1zm0 1zm0 2zm0 1zm0 3zm0 0zm0 2zm0 1zm0 1zm0 1zm3-543zm0 412zm0 17zm0 43zm0 3zm0 3zm0 1zm0 5zm0 9zm0 2zm0 2zm0 13zm0 1zm0 2zm0 1zm0 15zm0 1zm0 4zm0 3zm0 2zm0 3zm0 1zm3-265zm0 152zm0 9zm0 37zm0 2zm0 4zm0 2zm0 4zm0 10zm0 0zm0 2zm0 1zm0 2zm0 2zm0 3zm0 2zm0 1zm0 3zm0 1zm0 2zm0 9zm0 2zm0 2zm0 5zm0 6zm0 1zm8-79zm0 5zm0 2zm0 21zm0 14zm0 1zm0 17zm0 3zm0 3zm0 8zm0 1zm0 0zm0 2zm7-152zm0 84zm0 6zm0 7zm0 2zm0 0zm0 3zm0 10zm0 3zm0 6zm0 11zm0 4zm0 1zm0 3zm0 1zm0 1zm0 1zm0 0zm0 0zm0 2zm0 7zm3-179zm0 85zm0 12zm0 1zm0 10zm0 3zm0 5zm0 3zm0 3zm0 3zm0 0zm0 3zm0 5zm0 0zm0 6zm0 0zm0 2zm0 4zm0 3zm0 8zm0 4zm0 2zm0 0zm0 7zm0 1zm0 0zm0 5zm0 1zm2-284zm0 87zm0 28zm0 71zm0 20zm0 1zm0 0zm0 21zm0 12zm0 6zm0 7zm0 14zm0 6zm0 2zm0 0zm0 6zm0 2zm4-192zm0 40zm0 77zm0 10zm0 11zm0 3zm0 2zm0 4zm0 2zm0 18zm0 3zm0 1zm0 10zm0 3zm0 4zm0 2zm0 6zm0 0zm0 2zm9-160zm0 77zm0 13zm0 0zm0 5zm0 4zm0 8zm0 12zm0 7zm0 5zm0 2zm0 1zm0 3zm0 0zm0 2zm0 6zm0 5zm0 1zm0 9zm0 0zm0 1zm2-101zm0 21zm0 13zm0 0zm0 3zm0 3zm0 3zm0 7zm0 3zm0 4zm0 10zm0 4zm0 3zm0 1zm0 3zm0 6zm0 12zm0 0zm5-80zm0 5zm0 13zm0 6zm0 13zm0 0zm0 12zm0 1zm0 4zm0 2zm0 3zm0 6zm0 4zm0 2zm0 2zm0 1zm0 0zm0 4zm0 5zm5-65zm0 6zm0 4zm0 11zm0 3zm0 5zm0 17zm0 2zm0 3zm0 1zm0 2zm0 3zm0 0zm0 4zm0 1zm0 1zm0 3zm3-198zm0 127zm0 18zm0 0zm0 25zm0 0zm0 5zm0 1zm0 4zm0 1zm0 1zm0 3zm0 1zm0 2zm0 2zm0 2zm0 1zm0 1zm0 1zm0 2zm0 1zm3-116zm0 37zm0 28zm0 3zm0 11zm0 4zm0 6zm0 2zm0 1zm0 0zm0 2zm0 6zm0 1zm0 0zm0 0zm0 3zm0 0zm0 1zm0 1zm0 3zm0 1zm0 1zm0 2zm0 2zm0 2zm0 0zm2-153zm0 23zm0 18zm0 66zm0 4zm0 4zm0 1zm0 3zm0 6zm0 3zm0 3zm0 1zm0 1zm0 5zm0 9zm0 1zm0 1zm0 2zm0 1zm0 1zm4-485zm0 297zm0 94zm0 16zm0 10zm0 8zm0 8zm0 4zm0 4zm0 4zm0 9zm0 4zm0 1zm0 0zm0 3zm0 3zm0 1zm0 10zm0 2zm0 1zm0 0zm0 1zm0 4zm0 1zm1-225zm0 25zm0 111zm0 41zm0 3zm0 8zm0 6zm0 8zm0 4zm0 3zm0 8zm0 2zm0 0zm0 0zm0 3zm6-245zm0 59zm0 48zm0 55zm0 22zm0 12zm0 7zm0 6zm0 3zm0 4zm0 1zm0 2zm0 9zm0 4zm0 1zm0 9zm0 1zm0 0zm0 2zm5-75zm0 8zm0 3zm0 6zm0 9zm0 6zm0 11zm0 4zm0 2zm0 5zm0 3zm0 1zm0 8zm0 1zm0 0zm0 1zm0 1zm0 3zm0 2zm1-345zm0 221zm0 26zm0 20zm0 5zm0 42zm0 4zm0 2zm0 4zm0 4zm0 5zm0 2zm0 0zm0 5zm0 2zm0 0zm0 3zm0 0zm0 1zm0 3zm3-82zm0 22zm0 1zm0 2zm0 5zm0 1zm0 7zm0 1zm0 9zm0 5zm0 2zm0 4zm0 1zm0 4zm0 9zm0 1zm0 1zm0 4zm0 2zm0 0zm1-139zm0 47zm0 39zm0 19zm0 14zm0 3zm0 1zm0 4zm0 0zm0 0zm0 1zm0 3zm0 2zm0 0zm0 2zm0 0zm0 2zm0 1zm0 1zm6-99zm0 23zm0 5zm0 5zm0 2zm0 9zm0 3zm0 13zm0 7zm0 10zm0 0zm0 2zm0 3zm0 5zm0 2zm0 2zm0 2zm0 1zm0 1zm0 1zm4-129zm0 45zm0 28zm0 19zm0 8zm0 7zm0 2zm0 6zm0 4zm0 3zm0 1zm0 2zm0 1zm0 1zm0 1zm0 0zm0 1zm0 2zm0 1zm0 0zm3-156zm0 76zm0 20zm0 1zm0 9zm0 3zm0 17zm0 6zm0 3zm0 0zm0 1zm0 7zm0 1zm0 2zm0 1zm0 1zm0 1zm0 0zm0 0zm0 1zm0 0zm0 3zm0 2zm0 1zm1-98zm0 40zm0 20zm0 15zm0 9zm0 2zm0 1zm0 1zm0 1zm0 7zm0 0zm0 3zm4-86zm0 7zm0 1zm0 15zm0 16zm0 25zm0 3zm0 3zm0 1zm0 2zm0 3zm0 4zm0 0zm0 2zm0 2zm0 2zm4-93zm0 23zm0 12zm0 18zm0 9zm0 9zm0 1zm0 1zm0 3zm0 0zm0 1zm0 3zm0 3zm0 3zm0 0zm0 0zm0 3zm0 2zm0 2zm0 0zm1-68zm0 35zm0 11zm0 5zm0 10zm0 3zm0 0zm0 2zm0 2zm1-110zm0 23zm0 12zm0 28zm0 10zm0 20zm0 7zm0 0zm0 4zm0 5zm0 0zm6-67zm0 2zm0 19zm0 5zm0 8zm0 10zm0 1zm0 1zm0 1zm0 5zm0 8zm0 1zm0 1zm0 1zm0 3zm0 1zm1-111zm0 47zm0 12zm0 32zm0 1zm0 10zm0 0zm0 1zm0 2zm1-52zm0 7zm0 15zm0 1zm0 9zm0 4zm0 5zm0 4zm0 4zm0 0zm0 4zm0 3zm0 1zm0 0zm0 2zm0 0zm3-67zm0 26zm0 36zm4-59zm0 30zm0 9zm0 9zm0 1zm0 12zm0 0zm1-90zm0 25zm0 9zm0 17zm0 5zm0 7zm0 1zm0 9zm0 6zm0 2zm0 1zm0 3zm0 8zm6-159zm0 84zm0 4zm0 5zm0 1zm0 10zm0 9zm0 1zm0 5zm0 12zm0 9zm0 4zm0 1zm0 3zm0 0zm0 3zm0 2zm0 2zm1-47zm0 19zm0 16zm0 0zm0 1zm0 6zm0 3zm0 0zm0 2zm0 2zm0 1zm0 0zm0 1zm2-24zm0 4zm0 1zm0 9zm0 6zm0 4zm1-108zm0 30zm0 21zm0 15zm0 6zm0 4zm0 0zm0 6zm0 9zm0 3zm0 2zm0 0zm0 12zm3-32zm0 6zm0 4zm0 5zm0 2zm0 1zm0 3zm0 1zm0 3zm0 4zm1-93zm0 78zm0 12zm0 0zm0 1zm0 5zm3-60zm0 0zm0 21zm0 7zm0 2zm0 3zm0 8zm0 14zm0 0zm0 0zm0 3zm3-24zm0 7zm0 13zm0 0zm0 6zm0 0zm3-62zm0 31zm0 3zm0 4zm0 1zm0 0zm0 1zm0 2zm0 0zm0 11zm0 4zm0 0zm0 5zm1-56zm0 12zm0 11zm0 5zm0 6zm0 2zm0 1zm0 11zm0 4zm0 2zm0 1zm0 1zm0 0zm3-62zm0 4zm0 2zm0 14zm0 15zm0 2zm0 2zm0 3zm0 9zm0 6zm0 1zm0 1zm0 0zm0 1zm0 1zm0 1zm1-84zm0 27zm0 32zm0 9zm0 6zm0 2zm2-62zm0 10zm0 27zm0 2zm0 1zm0 6zm0 3zm0 3zm0 5zm0 9zm0 2zm0 1zm3-66zm0 16zm0 3zm0 30zm0 4zm0 5zm0 5zm0 1zm0 1zm0 0zm0 1zm1-50zm0 18zm0 2zm0 17zm0 0zm0 1zm0 11zm0 2zm0 0zm5-84zm0 22zm0 11zm0 30zm0 2zm0 2zm0 4zm0 5zm0 7zm1-151zm0 106zm0 16zm0 1zm0 9zm0 1zm0 1zm0 10zm0 1zm0 6zm0 1zm5-77zm0 5zm0 44zm0 18zm0 5zm0 1zm0 2zm0 2zm1-64zm0 0zm0 13zm0 7zm0 5zm0 4zm0 1zm0 11zm0 2zm0 1zm0 1zm0 5zm0 1zm0 6zm0 1zm0 1zm0 3zm0 1zm0 1zm0 0zm2-76zm0 14zm0 0zm0 2zm0 20zm0 7zm0 8zm0 4zm0 5zm0 5zm0 1zm0 5zm0 4zm1-65zm0 21zm0 14zm0 8zm0 8zm0 7zm0 1zm0 0zm0 2zm0 1zm0 2zm2-73zm0 14zm0 12zm0 16zm0 5zm0 1zm0 11zm0 16zm3-99zm0 13zm0 49zm0 9zm0 8zm0 5zm0 3zm0 0zm0 7zm0 1zm0 3zm0 1zm2-50zm0 5zm0 8zm0 22zm0 2zm0 1zm0 0zm0 1zm0 4zm0 2zm0 3zm0 0zm2-62zm0 25zm0 9zm0 3zm0 2zm0 4zm0 7zm0 5zm0 1zm0 1zm0 2zm0 2zm0 0zm0 3zm1-36zm0 10zm0 11zm0 2zm0 1zm0 1zm0 7zm0 0zm0 2zm0 2zm0 0zm4-113zm0 25zm0 15zm0 32zm0 4zm0 4zm0 6zm0 8zm0 3zm0 1zm0 0zm0 7zm0 3zm0 3zm0 1zm0 0zm0 0zm0 0zm3-84zm0 23zm0 25zm0 18zm0 0zm0 6zm0 5zm0 0zm0 1zm0 4zm0 2zm0 1zm0 0zm3-65zm0 28zm0 18zm0 0zm0 1zm0 9zm0 8zm1-57zm0 34zm0 2zm0 7zm0 13zm1-35zm0 2zm0 0zm0 1zm0 22zm0 0zm0 1zm0 11zm0 0zm3-54zm0 13zm0 5zm0 4zm0 9zm0 4zm0 3zm0 2zm0 4zm0 10zm5-50zm0 8zm0 6zm0 7zm0 1zm0 0zm0 7zm0 9zm0 2zm0 0zm0 0zm0 1zm0 2zm0 0zm0 0zm0 3zm0 1zm0 0zm0 1zm2-85zm0 11zm0 16zm0 27zm0 8zm0 1zm0 1zm0 1zm0 4zm0 3zm0 6zm0 2zm0 5zm0 1zm2-50zm0 17zm0 9zm0 2zm0 1zm0 10zm0 2zm0 3zm0 1zm0 1zm0 2zm0 3zm2-39zm0 5zm0 20zm0 3zm0 10zm1-44zm0 32zm0 7zm0 1zm0 3zm2-18zm0 10zm0 2zm0 1zm0 4zm3-22zm0 16zm0 1zm0 2zm3-139zm0 103zm0 1zm0 7zm0 11zm0 4zm0 14zm0 4zm0 0zm0 1zm2-32zm0 13zm0 1zm0 10zm0 3zm0 1zm3-44zm0 18zm0 8zm0 1zm0 2zm0 4zm0 5zm0 0zm2-40zm0 11zm0 15zm0 6zm0 11zm0 2zm0 2zm0 3zm2-91zm0 50zm0 1zm0 10zm0 1zm0 4zm0 1zm0 0zm0 1zm0 5zm0 0zm0 0zm0 3zm0 3zm0 0zm0 0zm0 2zm0 3zm0 1zm0 1zm0 0zm0 1zm0 1zm0 0zm0 0zm0 2zm1-13zm0 1zm0 12zm4-44zm0 6zm0 16zm0 2zm0 4zm0 3zm0 3zm0 10zm0 1zm1-13zm0 4zm0 3zm1-44zm0 9zm0 1zm0 8zm0 6zm0 5zm0 1zm0 3zm0 3zm0 1zm0 1zm0 1zm0 5zm0 1zm0 0zm0 3zm3-20zm0 18zm0 0zm0 3zm0 1zm4-49zm0 7zm0 22zm0 5zm0 6zm0 1zm0 0zm0 3zm0 0zm0 1zm0 2zm2-53zm0 12zm0 21zm0 5zm0 2zm0 5zm0 0zm0 3zm0 1zm0 1zm0 1zm0 4zm0 0zm3-25zm0 3zm0 11zm0 0zm0 9zm2-57zm0 5zm0 34zm0 4zm0 5zm0 3zm0 1zm0 2zm0 3zm1-26zm0 16zm0 0zm0 6zm0 1zm1-47zm0 12zm0 15zm0 16zm0 3zm0 1zm2-28zm0 7zm0 3zm0 2zm0 9zm0 6zm2-9zm0 10zm0 3zm4-25zm0 3zm0 1zm0 1zm0 3zm0 4zm0 3zm1-49zm0 6zm0 12zm0 31zm0 6zm0 2zm1-40zm0 30zm0 3zm0 6zm0 0zm0 1zm0 2zm1-37zm0 10zm0 20zm1-10zm0 5zm0 6zm0 2zm0 5zm1-22zm0 11zm4-50zm0 38zm0 6zm0 7zm0 4zm0 6zm4-39zm0 6zm0 14zm0 3zm0 3zm0 1zm0 3zm0 8zm0 1zm0 1zm2-34zm0 9zm0 11zm1-8zm0 11zm0 2zm0 0zm0 8zm0 0zm0 1zm0 0zm3-41zm0 39zm0 2zm1-41zm0 19zm0 15zm0 7zm3-46zm0 23zm0 0zm0 4zm0 7zm0 3zm0 2zm0 1zm0 5zm2-26zm0 9zm0 1zm0 8zm0 3zm0 1zm0 1zm1-35zm0 7zm0 1zm0 13zm0 12zm0 0zm3-26zm0 5zm0 9zm0 4zm0 7zm0 1zm2-7zm0 3zm0 9zm2-4zm0 5zm1-54zm0 40zm0 9zm0 4zm2-35zm0 5zm0 3zm0 19zm0 3zm0 1zm1-10zm0 3zm0 10zm1-8zm0 0zm0 0zm0 2zm0 2zm0 5zm0 1zm0 0zm2-40zm0 2zm0 18zm0 7zm0 2zm0 6zm0 1zm0 1zm0 3zm1-51zm0 20zm0 8zm0 20zm1-11zm0 11zm2-22zm0 11zm0 7zm0 3zm0 0zm0 3zm4-22zm0 14zm0 0zm0 2zm0 7zm1-21zm0 11zm0 2zm0 1zm0 3zm0 1zm2-5zm0 2zm0 5zm0 0zm0 1zm1-39zm0 29zm0 4zm0 2zm0 1zm0 1zm1-40zm0 22zm0 1zm0 13zm0 1zm0 2zm0 3zm1-61zm1 41zm0 4zm0 11zm1-27zm0 3zm0 24zm0 2zm0 1zm0 2zm2-43zm0 37zm0 6zm1-6zm2-41zm0 19zm0 14zm0 4zm0 5zm0 2zm3-18zm0 15zm0 1zm1 3zm0 1zm0 1zm4-47zm0 28zm0 2zm0 7zm0 10zm1-5zm0 2zm0 0zm0 3zm2-21zm0 4zm0 3zm0 14zm1-5zm1-1zm2-14zm0 14zm0 2zm0 4zm1-2zm2-27zm2 7zm1 19zm2 0zm5-32zm1 21zm0 4zm0 8zm0 1zm1-1zm2-12zm0 1zm0 10zm0 2zm4-12zm0 10zm2-6zm0 2zm2 0zm0 7zm1-23zm0 18zm3-39zm0 42zm3-3zm2 3zm3-1zm1-2zm0 1zm0 1zm1-6zm3-16zm1 11zm2 5zm5 2zm1-8zm0 3zm0 6zm2 5zm3-16zm3-5zm0 4zm0 14zm2-13zm0 14zm0 3zm3-9zm0 5zm1-17zm3 18zm1-7zm0 9zm2-40zm0 40zm1-11zm0 3zm0 4zm1 0zm0 4zm1-35zm3-4zm1 29zm0 4zm1-5zm0 2zm0 8zm2-27zm1 14zm0 11zm0 2zm3-4zm0 2zm1-6zm0 6zm7-13zm0 10zm0 4zm0 2zm3-9zm1 0zm0 8zm4-4zm0 5zm1-20zm5 16zm2-32zm0 36zm9-12zm1-6zm0 18zm3-12zm0 8zm3-23zm0 25zm1-2zm1-11zm0 12zm3-2zm3-4zm0 2zm4-4zm0 8zm4-19zm1 15zm1 4zm4-35zm0 27zm5 5zm5-10zm2 10zm3 1zm0 1zm2 1zm1 1zm0 2zm1-9zm0 8zm0 2zm4-15zm2 0zm1 6zm3-2zm0 9zm0 1zm4-7zm1 7zm1-16zm0 4zm0 5zm0 2zm0 5zm1 0zm3-8zm1 1zm2 3zm0 0zm4 3zm1-10zm2 5zm2-17zm5 18zm1-1zm5-2zm0 8zm2 1zm5-8zm10 8zm3-5zm1-9zm0 10zm2-10zm4 13zm9-1zm8 2zm1-3zm6-14zm2 14zm1-8zm2 1zm12-6zm8 6zm4 5zm1 5zm3 0zm7-4zm1-19zm0 16zm2-12zm3 12zm3-11zm15 0zm10 9zm3 7zm5-3zm3 4zm6-4zm0 5zm10-6zm6 1zm3 5zm3-6zm2 6zm11-7zm1 1z" stroke="#e7f8cc"/><path d="M179 1063zm0 1zm0 2zm0 25zm0 2zm0 5zm0 2zm0 1zm0 10zm0 3zm0 5zm0 8zm0 0zm0 4zm0 3zm0 3zm0 6zm0 3zm0 5zm0 5zm0 9zm0 6zm0 10zm0 13zm0 5zm0 11zm0 9zm0 10zm0 6zm0 0zm0 6zm0 6zm0 5zm0 7zm0 3zm0 6zm0 6zm0 1zm0 35zm0 6zm0 1zm0 1zm0 1zm0 4zm0 4zm0 1zm0 1zm0 5zm0 3zm0 13zm0 3zm0 13zm0 1zm0 4zm0 7zm0 1zm0 8zm0 1zm0 2zm0 23zm0 12zm0 5zm0 4zm0 7zm0 11zm0 23zm0 19zm0 7zm0 17zm0 2zm0 12zm0 5zm0 6zm0 4zm0 9zm0 3zm0 4zm0 8zm0 2zm0 4zm0 11zm0 0zm0 6zm0 8zm0 9zm0 12zm0 20zm0 10zm0 4zm0 0zm0 12zm0 7zm0 1zm0 1zm0 19zm0 7zm0 4zm0 30zm0 2zm0 4zm0 19zm0 2zm0 1zm0 7zm0 1zm0 24zm0 1zm0 4zm0 0zm0 21z" stroke="#7ab0b0"/><path d="M179 1062zm0 17zm0 12zm0 4zm0 7zm0 2zm0 3zm0 5zm0 6zm0 5zm0 5zm0 11zm0 9zm0 0zm0 15zm0 3zm0 2zm0 4zm0 13zm0 6zm0 0zm0 0zm0 6zm0 1zm0 11zm0 7zm0 6zm0 5zm0 1zm0 0zm0 8zm0 8zm0 2zm0 4zm0 24zm0 23zm0 1zm0 6zm0 7zm0 27zm0 1zm0 10zm0 13zm0 4zm0 7zm0 6zm0 1zm0 0zm0 14zm0 5zm0 5zm0 4zm0 2zm0 7zm0 1zm0 6zm0 6zm0 2zm0 3zm0 8zm0 5zm0 13zm0 6zm0 11zm0 2zm0 31zm0 19zm0 1zm0 13zm0 1zm0 1zm0 17zm0 7zm0 3zm0 5zm0 2zm0 1zm0 28zm0 5zm0 2zm0 4zm0 3zm0 7zm0 3zm0 3zm0 2zm0 7zm0 1zm0 5zm0 13zm0 7zm0 10zm0 6zm0 0zm0 8zm0 5zm0 16zm0 5zm0 0zm0 12zm0 6zm0 2zm0 2zm0 2zm0 7zm0 3zm0 5zm0 15zm0 36zm0 11z" stroke="#7dc0bb"/><path d="M179 1062zm0 0zm0 6zm0 5zm0 14zm0 16zm0 3zm0 1zm0 1zm0 7zm0 14zm0 4zm0 1zm0 15zm0 5zm0 11zm0 2zm0 6zm0 10zm0 1zm0 1zm0 2zm0 30zm0 3zm0 2zm0 9zm0 3zm0 2zm0 2zm0 8zm0 4zm0 3zm0 20zm0 8zm0 1zm0 5zm0 4zm0 3zm0 15zm0 0zm0 0zm0 26zm0 3zm0 2zm0 2zm0 9zm0 5zm0 10zm0 4zm0 1zm0 2zm0 1zm0 4zm0 11zm0 2zm0 1zm0 11zm0 2zm0 6zm0 2zm0 17zm0 5zm0 17zm0 0zm0 1zm0 8zm0 0zm0 2zm0 2zm0 13zm0 8zm0 9zm0 25zm0 21zm0 6zm0 26zm0 2zm0 12zm0 18zm0 16zm0 0zm0 10zm0 15zm0 3zm0 5zm0 1zm0 3zm0 2zm0 4zm0 1zm0 12zm0 4zm0 16zm0 5zm0 13zm0 1zm0 1zm0 3zm0 2zm0 24zm0 8zm0 6zm0 22zm0 7zm0 7zm0 1zm0 4zm0 4zm0 7zm0 3z" stroke="#84c4bb"/><path d="M179 1058zm0 1zm0 7zm0 6zm0 0zm0 17zm0 1zm0 24zm0 1zm0 4zm0 7zm0 4zm0 14zm0 7zm0 3zm0 16zm0 3zm0 1zm0 1zm0 10zm0 10zm0 5zm0 10zm0 7zm0 7zm0 0zm0 3zm0 2zm0 1zm0 5zm0 13zm0 10zm0 3zm0 0zm0 16zm0 2zm0 8zm0 2zm0 4zm0 4zm0 11zm0 6zm0 21zm0 12zm0 16zm0 9zm0 4zm0 0zm0 18zm0 6zm0 11zm0 5zm0 4zm0 6zm0 15zm0 14zm0 1zm0 6zm0 25zm0 5zm0 5zm0 0zm0 6zm0 7zm0 16zm0 0zm0 12zm0 4zm0 4zm0 17zm0 0zm0 8zm0 3zm0 3zm0 9zm0 6zm0 19zm0 19zm0 8zm0 3zm0 4zm0 11zm0 0zm0 0zm0 2zm0 8zm0 0zm0 18zm0 3zm0 6zm0 10zm0 1zm0 8zm0 10zm0 3zm0 2zm0 5zm0 0zm0 17zm0 10zm0 18zm0 9zm0 1zm0 12zm0 1zm0 8zm0 5zm0 9zm0 2zm0 0z" stroke="#addac0"/></g><g><rect x="192.9" y="1680.3" width="7.4" height="148.7" rx="3.7" fill="url(#gbt)"/><rect x="200.4" y="1680.3" width="7.4" height="148.7" rx="3.7" fill="url(#gbt)"/><rect x="210.9" y="1680.3" width="7.4" height="148.7" rx="3.7" fill="url(#gbt)"/><rect x="215.1" y="1680.3" width="7.4" height="148.7" rx="3.7" fill="url(#gbt)"/><rect x="225.7" y="1680.3" width="7.4" height="148.7" rx="3.7" fill="url(#gbt)"/><rect x="228.8" y="1680.3" width="7.4" height="148.7" rx="3.7" fill="url(#gbt)"/><rect x="231.7" y="1680.3" width="7.4" height="148.7" rx="3.7" fill="url(#gbt)"/><rect x="239.6" y="1680.3" width="7.4" height="148.7" rx="3.7" fill="url(#gbt)"/><rect x="246.7" y="1680.3" width="7.4" height="148.7" rx="3.7" fill="url(#gbt)"/><rect x="248.9" y="1680.3" width="7.4" height="148.7" rx="3.7" fill="url(#gbt)"/><rect x="251.1" y="1680.3" width="7.4" height="148.7" rx="3.7" fill="url(#gbt)"/><rect x="255.2" y="1680.3" width="7.4" height="148.7" rx="3.7" fill="url(#gbt)"/><rect x="264.6" y="1680.3" width="7.4" height="148.7" rx="3.7" fill="url(#gbt)"/><rect x="266.4" y="1680.3" width="7.4" height="148.7" rx="3.7" fill="url(#gbt)"/><rect x="271.5" y="1680.3" width="7.4" height="148.7" rx="3.7" fill="url(#gbt)"/><rect x="276.4" y="1680.3" width="7.4" height="148.7" rx="3.7" fill="url(#gbt)"/><rect x="285.2" y="1774.7" width="8.05" height="54.3" fill="url(#gbt)" opacity="1.00"/><rect x="293.2" y="1775.2" width="8.05" height="53.8" fill="url(#gbt)" opacity="0.99"/><rect x="301.2" y="1775.7" width="8.05" height="53.3" fill="url(#gbt)" opacity="0.99"/><rect x="309.2" y="1776.2" width="8.05" height="52.8" fill="url(#gbt)" opacity="0.98"/><rect x="317.2" y="1776.7" width="8.05" height="52.3" fill="url(#gbt)" opacity="0.98"/><rect x="325.2" y="1777.2" width="8.05" height="51.8" fill="url(#gbt)" opacity="0.98"/><rect x="333.2" y="1777.7" width="8.05" height="51.3" fill="url(#gbt)" opacity="0.97"/><rect x="341.2" y="1778.2" width="8.05" height="50.8" fill="url(#gbt)" opacity="0.97"/><rect x="349.2" y="1778.7" width="8.05" height="50.3" fill="url(#gbt)" opacity="0.96"/><rect x="357.2" y="1779.2" width="8.05" height="49.8" fill="url(#gbt)" opacity="0.96"/><rect x="365.2" y="1779.6" width="8.05" height="49.4" fill="url(#gbt)" opacity="0.95"/><rect x="373.2" y="1780.1" width="8.05" height="48.9" fill="url(#gbt)" opacity="0.95"/><rect x="381.2" y="1780.6" width="8.05" height="48.4" fill="url(#gbt)" opacity="0.95"/><rect x="389.2" y="1781.1" width="8.05" height="47.9" fill="url(#gbt)" opacity="0.94"/><rect x="397.2" y="1781.6" width="8.05" height="47.4" fill="url(#gbt)" opacity="0.94"/><rect x="405.2" y="1782.1" width="8.05" height="46.9" fill="url(#gbt)" opacity="0.93"/><rect x="413.2" y="1782.6" width="8.05" height="46.4" fill="url(#gbt)" opacity="0.93"/><rect x="421.2" y="1783.1" width="8.05" height="45.9" fill="url(#gbt)" opacity="0.93"/><rect x="429.2" y="1783.6" width="8.05" height="45.4" fill="url(#gbt)" opacity="0.92"/><rect x="437.2" y="1784.1" width="8.05" height="44.9" fill="url(#gbt)" opacity="0.92"/><rect x="445.2" y="1784.7" width="8.05" height="44.3" fill="url(#gbt)" opacity="0.91"/><rect x="453.2" y="1785.7" width="8.05" height="43.3" fill="url(#gbt)" opacity="0.91"/><rect x="461.2" y="1786.7" width="8.05" height="42.3" fill="url(#gbt)" opacity="0.90"/><rect x="469.2" y="1787.7" width="8.05" height="41.3" fill="url(#gbt)" opacity="0.90"/><rect x="477.2" y="1788.7" width="8.05" height="40.3" fill="url(#gbt)" opacity="0.86"/><rect x="485.2" y="1789.8" width="8.05" height="39.2" fill="url(#gbt)" opacity="0.81"/><rect x="493.2" y="1790.8" width="8.05" height="38.2" fill="url(#gbt)" opacity="0.76"/><rect x="501.2" y="1791.8" width="8.05" height="37.2" fill="url(#gbt)" opacity="0.70"/><rect x="509.2" y="1792.8" width="8.05" height="36.2" fill="url(#gbt)" opacity="0.65"/><rect x="517.2" y="1793.8" width="8.05" height="35.2" fill="url(#gbt)" opacity="0.60"/><rect x="525.2" y="1794.8" width="8.05" height="34.2" fill="url(#gbt)" opacity="0.55"/><rect x="533.2" y="1795.8" width="8.05" height="33.2" fill="url(#gbt)" opacity="0.50"/><rect x="541.2" y="1796.8" width="8.05" height="32.2" fill="url(#gbt)" opacity="0.46"/><rect x="549.2" y="1797.8" width="8.05" height="31.2" fill="url(#gbt)" opacity="0.43"/><rect x="557.2" y="1798.9" width="8.05" height="30.1" fill="url(#gbt)" opacity="0.39"/><rect x="565.2" y="1799.9" width="8.05" height="29.1" fill="url(#gbt)" opacity="0.36"/><rect x="573.2" y="1800.9" width="8.05" height="28.1" fill="url(#gbt)" opacity="0.32"/><rect x="581.2" y="1801.8" width="8.05" height="27.2" fill="url(#gbt)" opacity="0.29"/><rect x="589.2" y="1802.6" width="8.05" height="26.4" fill="url(#gbt)" opacity="0.28"/><rect x="597.2" y="1803.4" width="8.05" height="25.6" fill="url(#gbt)" opacity="0.26"/><rect x="605.2" y="1804.2" width="8.05" height="24.8" fill="url(#gbt)" opacity="0.24"/><rect x="613.2" y="1805.1" width="8.05" height="23.9" fill="url(#gbt)" opacity="0.23"/><rect x="621.2" y="1805.9" width="8.05" height="23.1" fill="url(#gbt)" opacity="0.21"/><rect x="629.2" y="1806.7" width="8.05" height="22.3" fill="url(#gbt)" opacity="0.19"/><rect x="637.2" y="1807.5" width="8.05" height="21.5" fill="url(#gbt)" opacity="0.18"/><rect x="645.2" y="1808.3" width="8.05" height="20.7" fill="url(#gbt)" opacity="0.16"/><rect x="653.2" y="1809.1" width="8.05" height="19.9" fill="url(#gbt)" opacity="0.14"/><rect x="661.2" y="1809.9" width="8.05" height="19.1" fill="url(#gbt)" opacity="0.13"/><rect x="669.2" y="1810.7" width="8.05" height="18.3" fill="url(#gbt)" opacity="0.12"/><rect x="677.2" y="1811.5" width="8.05" height="17.5" fill="url(#gbt)" opacity="0.12"/><rect x="685.2" y="1812.3" width="8.05" height="16.7" fill="url(#gbt)" opacity="0.12"/><rect x="693.2" y="1813.1" width="8.05" height="15.9" fill="url(#gbt)" opacity="0.11"/><rect x="701.2" y="1814.0" width="8.05" height="15.0" fill="url(#gbt)" opacity="0.11"/><rect x="709.2" y="1814.8" width="8.05" height="14.2" fill="url(#gbt)" opacity="0.10"/><rect x="717.2" y="1815.2" width="8.05" height="13.8" fill="url(#gbt)" opacity="0.10"/><rect x="725.2" y="1815.3" width="8.05" height="13.7" fill="url(#gbt)" opacity="0.09"/><rect x="733.2" y="1815.4" width="8.05" height="13.6" fill="url(#gbt)" opacity="0.09"/><rect x="741.2" y="1815.5" width="8.05" height="13.5" fill="url(#gbt)" opacity="0.08"/><rect x="749.2" y="1815.6" width="8.05" height="13.4" fill="url(#gbt)" opacity="0.08"/><rect x="757.2" y="1815.8" width="8.05" height="13.2" fill="url(#gbt)" opacity="0.08"/><rect x="765.2" y="1815.9" width="8.05" height="13.1" fill="url(#gbt)" opacity="0.07"/><rect x="773.2" y="1816.0" width="8.05" height="13.0" fill="url(#gbt)" opacity="0.07"/><rect x="781.2" y="1816.1" width="8.05" height="12.9" fill="url(#gbt)" opacity="0.06"/><rect x="789.2" y="1816.2" width="8.05" height="12.8" fill="url(#gbt)" opacity="0.06"/><rect x="797.2" y="1816.3" width="8.05" height="12.7" fill="url(#gbt)" opacity="0.05"/><rect x="805.2" y="1816.5" width="8.05" height="12.5" fill="url(#gbt)" opacity="0.05"/><rect x="813.2" y="1816.6" width="8.05" height="12.4" fill="url(#gbt)" opacity="0.05"/><rect x="821.2" y="1816.7" width="8.05" height="12.3" fill="url(#gbt)" opacity="0.05"/><rect x="829.2" y="1816.8" width="8.05" height="12.2" fill="url(#gbt)" opacity="0.04"/><rect x="837.2" y="1816.9" width="8.05" height="12.1" fill="url(#gbt)" opacity="0.04"/><rect x="845.2" y="1817.0" width="8.05" height="12.0" fill="url(#gbt)" opacity="0.04"/><rect x="853.2" y="1817.2" width="8.05" height="11.8" fill="url(#gbt)" opacity="0.04"/><rect x="861.2" y="1817.3" width="8.05" height="11.7" fill="url(#gbt)" opacity="0.04"/><rect x="869.2" y="1817.4" width="8.05" height="11.6" fill="url(#gbt)" opacity="0.04"/><rect x="877.2" y="1817.5" width="8.05" height="11.5" fill="url(#gbt)" opacity="0.03"/><rect x="885.2" y="1817.6" width="8.05" height="11.4" fill="url(#gbt)" opacity="0.03"/><rect x="893.2" y="1817.7" width="8.05" height="11.3" fill="url(#gbt)" opacity="0.03"/><rect x="901.2" y="1817.9" width="8.05" height="11.1" fill="url(#gbt)" opacity="0.03"/><rect x="909.2" y="1818.0" width="8.05" height="11.0" fill="url(#gbt)" opacity="0.03"/><rect x="917.2" y="1818.1" width="8.05" height="10.9" fill="url(#gbt)" opacity="0.03"/><rect x="925.2" y="1818.2" width="8.05" height="10.8" fill="url(#gbt)" opacity="0.02"/><rect x="933.2" y="1818.3" width="8.05" height="10.7" fill="url(#gbt)" opacity="0.02"/><rect x="941.2" y="1818.4" width="8.05" height="10.6" fill="url(#gbt)" opacity="0.02"/><rect x="949.2" y="1818.5" width="8.05" height="10.5" fill="url(#gbt)" opacity="0.02"/></g><path d="M520 1816zm0 7zm1 0zm2-15zm0 8zm0 7zm1-7zm0 7zm1 0zm6 0zm1-15zm0 15zm0 0zm2 0zm2-7zm0 7zm1 0zm1-7zm0 7zm1-15zm0 15zm0 0zm2 0zm1 0zm5-7zm0 7zm1-7zm0 7zm4 0zm3-7zm0 7zm1-7zm0 7zm1 0zm2-7zm0 7zm1 0zm2-7zm0 0zm0 7zm0 0zm2 0zm2-7zm0 7zm1 0zm3 0zm2-15zm0 15zm2-15zm0 15zm1 0zm1-15zm1 15zm3 0zm2 0zm1-15zm0 8zm1-8zm0 15zm1-7zm0 7zm3-7zm0 7zm3-7zm0 7zm4-15zm0 15zm2 0zm1-15zm0 15zm1 0zm2-7zm1 7zm2 0zm1-7zm0 7zm1-15zm3 15zm1 0zm2-15zm0 8zm0 7zm1-7zm2-8zm0 8zm0 7zm1-15zm0 15zm5-15zm2 15zm1-7zm3 7zm1 0zm2-7zm1 0zm0 7zm1-15zm0 15zm1-7zm2-8zm0 15zm1-7zm0 7zm2-15zm0 15zm3-7zm0 7zm3-7zm0 7zm1-7zm0 7zm4 0zm1 0zm2-15zm0 8zm0 7zm0 0zm3-15zm0 15zm1 0zm1 0zm4-7zm0 0zm0 7zm0 0zm2 0zm1-15zm4 8zm0 7zm0 0zm8 0zm1-15zm0 15zm1 0zm1 0zm2-15zm0 8zm0 7zm1-15zm0 15zm3 0zm3-7zm1 0zm0 7zm3 0zm3-7zm1 7zm0 0zm3-15zm0 15zm1 0zm1 0zm1 0zm2 0zm2-7zm2 0zm0 7zm4 0zm4 0zm1 0zm1-7zm3 7zm4-7zm2 0zm5 7zm8 0zm1 0zm5-7zm2 7zm1-7zm7 0zm1 0zm0 0zm5 7zm5 0zm3 0zm0 0zm1 0zm9 0zm8 0zm4 0zm3 0zm17 0zm1 0zm8-7zm0 7zm7-15zm0 15zm1-7zm0 7zm2 0zm4-7zm1 7zm2 0zm2-7zm0 7zm4-7zm7 7zm1 0zm2-7zm3 7zm4-15zm2 8zm4 7zm4-15zm9 15zm9-7zm7 7zm3 0zm5 0zm4-7zm1 7zm1-15zm0 15zm0 0zm7 0zm24-7zm4 0z" fill="none" stroke="#cfecc0" stroke-linecap="round" stroke-width="7.4" stroke-opacity="0.22"/>
<path d="M140.3 96.7V943.8H987.4" stroke="#4a4a4a" stroke-width="1.4" fill="none"/>
<path d="M124.6 135.2H140.3" stroke="#4a4a4a" stroke-width="1.4"/>
<text x="110.5" y="143.0" font-size="22.2" text-anchor="end" textLength="65.5" lengthAdjust="spacingAndGlyphs">8,000</text>
<path d="M124.6 327.6H140.3" stroke="#4a4a4a" stroke-width="1.4"/>
<text x="110.5" y="335.4" font-size="22.2" text-anchor="end" textLength="65.5" lengthAdjust="spacingAndGlyphs">6,000</text>
<path d="M124.6 520.0H140.3" stroke="#4a4a4a" stroke-width="1.4"/>
<text x="110.5" y="527.8" font-size="22.2" text-anchor="end" textLength="65.5" lengthAdjust="spacingAndGlyphs">4,000</text>
<path d="M124.6 712.4H140.3" stroke="#4a4a4a" stroke-width="1.4"/>
<text x="110.5" y="720.2" font-size="22.2" text-anchor="end" textLength="65.5" lengthAdjust="spacingAndGlyphs">2,000</text>
<path d="M124.6 904.8H140.3" stroke="#4a4a4a" stroke-width="1.4"/>
<text x="110.5" y="912.6" font-size="22.2" text-anchor="end" textLength="13.4" lengthAdjust="spacingAndGlyphs">0</text>
<path d="M178.7 943.8v15.2" stroke="#4a4a4a" stroke-width="1.4"/>
<path d="M402.8 943.8v15.2" stroke="#4a4a4a" stroke-width="1.4"/>
<path d="M626.9 943.8v15.2" stroke="#4a4a4a" stroke-width="1.4"/>
<path d="M851.0 943.8v15.2" stroke="#4a4a4a" stroke-width="1.4"/>
<path d="M279.8 96.7V943.8" stroke="#555" stroke-width="1.8" stroke-dasharray="12.6 6.3" stroke-dashoffset="9.5" fill="none"/>
<path d="M140.3 1018.0V1864.0H987.4" stroke="#4a4a4a" stroke-width="1.4" fill="none"/>
<path d="M124.6 1055.5H140.3" stroke="#4a4a4a" stroke-width="1.4"/>
<text x="110.5" y="1063.3" font-size="22.2" text-anchor="end" textLength="13.4" lengthAdjust="spacingAndGlyphs">5</text>
<path d="M124.6 1209.5H140.3" stroke="#4a4a4a" stroke-width="1.4"/>
<text x="110.5" y="1217.3" font-size="22.2" text-anchor="end" textLength="13.4" lengthAdjust="spacingAndGlyphs">4</text>
<path d="M124.6 1363.4H140.3" stroke="#4a4a4a" stroke-width="1.4"/>
<text x="110.5" y="1371.2" font-size="22.2" text-anchor="end" textLength="13.4" lengthAdjust="spacingAndGlyphs">3</text>
<path d="M124.6 1517.4H140.3" stroke="#4a4a4a" stroke-width="1.4"/>
<text x="110.5" y="1525.2" font-size="22.2" text-anchor="end" textLength="13.4" lengthAdjust="spacingAndGlyphs">2</text>
<path d="M124.6 1671.3H140.3" stroke="#4a4a4a" stroke-width="1.4"/>
<text x="110.5" y="1679.1" font-size="22.2" text-anchor="end" textLength="13.4" lengthAdjust="spacingAndGlyphs">1</text>
<path d="M124.6 1825.3H140.3" stroke="#4a4a4a" stroke-width="1.4"/>
<text x="110.5" y="1833.1" font-size="22.2" text-anchor="end" textLength="13.4" lengthAdjust="spacingAndGlyphs">0</text>
<path d="M178.7 1864.0v15.2" stroke="#4a4a4a" stroke-width="1.4"/>
<path d="M402.8 1864.0v15.2" stroke="#4a4a4a" stroke-width="1.4"/>
<path d="M626.9 1864.0v15.2" stroke="#4a4a4a" stroke-width="1.4"/>
<path d="M851.0 1864.0v15.2" stroke="#4a4a4a" stroke-width="1.4"/>
<path d="M279.8 1018.0V1864.0" stroke="#555" stroke-width="1.8" stroke-dasharray="12.6 6.3" stroke-dashoffset="9.5" fill="none"/>
<text x="178.7" y="1909.2" font-size="22.2" text-anchor="middle" textLength="13.5" lengthAdjust="spacingAndGlyphs">0</text>
<text x="402.8" y="1909.2" font-size="22.2" text-anchor="middle" textLength="40.0" lengthAdjust="spacingAndGlyphs">250</text>
<text x="626.9" y="1909.2" font-size="22.2" text-anchor="middle" textLength="42.5" lengthAdjust="spacingAndGlyphs">500</text>
<text x="851.0" y="1909.2" font-size="22.2" text-anchor="middle" textLength="39.0" lengthAdjust="spacingAndGlyphs">750</text>
<text x="411.5" y="1949.8" font-size="25" text-anchor="start" textLength="305.4" lengthAdjust="spacingAndGlyphs">Distance from forest (m)</text>
<text transform="translate(22.9 519.5) rotate(-90)" font-size="25" text-anchor="middle" textLength="214.6" lengthAdjust="spacingAndGlyphs">Number of seeds</text>
<text transform="translate(75.8 1440.5) rotate(-90)" font-size="25" text-anchor="middle" textLength="285" lengthAdjust="spacingAndGlyphs">Potential biomass (Mg)</text>
<g fill="none" stroke-width="4" stroke-linejoin="round">
<path d="M178.7 625.5 196.6 689.6 204.1 704.9 214.6 721.3 218.8 726.6 229.4 737.9 232.5 740.7 235.4 743.2 243.3 749.3 250.4 754.0 252.6 755.3 254.8 756.6 258.9 758.8 268.3 763.5 274.4 766.1 280.8 768.7 287.7 771.1 295.0 773.5 302.9 775.9 311.2 778.2 320.2 780.5 329.7 782.7 339.8 784.8 350.7 786.9 362.3 789.0 374.6 791.0 387.8 792.9 401.9 794.9 417.0 796.7 433.0 798.6 450.1 800.4 468.4 802.2 487.9 803.9 508.7 805.7 531.0 807.4 554.7 809.1 580.0 810.8 607.0 812.4 635.9 814.1 666.6 815.6 699.5 817.2 734.6 818.7 772.0 820.1 812.0 821.5 854.6 822.9 900.1 824.2 948.7 825.5" stroke="#d3f2a3"/>
<path d="M178.7 650.0 196.6 713.3 204.1 728.5 214.6 744.8 218.8 750.2 229.4 761.5 232.5 764.3 235.4 766.8 243.3 772.9 250.4 777.7 252.6 779.0 254.8 780.3 258.9 782.6 268.3 787.4 274.4 790.1 280.8 792.7 287.7 795.2 295.0 797.7 302.9 800.1 311.2 802.5 320.2 804.8 329.7 807.0 339.8 809.2 350.7 811.4 362.3 813.5 374.6 815.6 387.8 817.6 401.9 819.6 417.0 821.5 433.0 823.5 450.1 825.4 468.4 827.2 487.9 829.1 508.7 831.0 531.0 832.8 554.7 834.7 580.0 836.6 607.0 838.5 635.9 840.3 666.6 842.2 699.5 844.0 734.6 845.7 772.0 847.4 812.0 849.1 854.6 850.8 900.1 852.4 948.7 854.0" stroke="#a8e196"/>
<path d="M178.7 645.0 196.6 706.6 204.1 721.2 214.6 736.8 218.8 741.9 229.4 752.5 232.5 755.1 235.4 757.4 243.3 763.0 250.4 767.3 252.6 768.6 254.8 769.7 258.9 771.8 268.3 776.0 274.4 778.3 280.8 780.6 287.7 782.8 295.0 784.9 302.9 787.0 311.2 789.0 320.2 790.9 329.7 792.8 339.8 794.7 350.7 796.5 362.3 798.3 374.6 800.0 387.8 801.7 401.9 803.3 417.0 804.9 433.0 806.5 450.1 808.1 468.4 809.6 487.9 811.1 508.7 812.6 531.0 814.0 554.7 815.5 580.0 816.9 607.0 818.4 635.9 819.8 666.6 821.2 699.5 822.5 734.6 823.8 772.0 825.0 812.0 826.3 854.6 827.4 900.1 828.6 948.7 829.7" stroke="#88cd92"/>
<path d="M178.7 660.0 196.6 719.2 204.1 733.3 214.6 748.3 218.8 753.2 229.4 763.4 232.5 765.9 235.4 768.1 243.3 773.6 250.4 777.7 252.6 778.9 254.8 780.0 258.9 782.0 268.3 786.1 274.4 788.4 280.8 790.6 287.7 792.7 295.0 794.7 302.9 796.7 311.2 798.7 320.2 800.5 329.7 802.4 339.8 804.2 350.7 805.9 362.3 807.6 374.6 809.2 387.8 810.8 401.9 812.4 417.0 814.0 433.0 815.5 450.1 817.0 468.4 818.5 487.9 820.0 508.7 821.4 531.0 822.9 554.7 824.4 580.0 825.9 607.0 827.4 635.9 828.9 666.6 830.3 699.5 831.7 734.6 833.1 772.0 834.5 812.0 835.8 854.6 837.1 900.1 838.4 948.7 839.7" stroke="#6abb8c"/>
<path d="M178.7 668.0 196.6 727.7 204.1 741.8 214.6 756.7 218.8 761.5 229.4 771.6 232.5 774.1 235.4 776.2 243.3 781.5 250.4 785.5 252.6 786.6 254.8 787.7 258.9 789.6 268.3 793.4 274.4 795.5 280.8 797.5 287.7 799.4 295.0 801.3 302.9 803.1 311.2 804.9 320.2 806.6 329.7 808.2 339.8 809.8 350.7 811.4 362.3 812.9 374.6 814.4 387.8 815.8 401.9 817.2 417.0 818.6 433.0 819.9 450.1 821.2 468.4 822.5 487.9 823.8 508.7 825.1 531.0 826.4 554.7 827.7 580.0 829.0 607.0 830.3 635.9 831.6 666.6 832.9 699.5 834.1 734.6 835.3 772.0 836.5 812.0 837.7 854.6 838.8 900.1 839.9 948.7 841.0" stroke="#47a88a"/>
<path d="M178.7 677.0 196.6 732.9 204.1 746.3 214.6 760.8 218.8 765.6 229.4 775.6 232.5 778.2 235.4 780.4 243.3 785.9 250.4 790.1 252.6 791.3 254.8 792.5 258.9 794.5 268.3 798.8 274.4 801.2 280.8 803.6 287.7 805.9 295.0 808.2 302.9 810.4 311.2 812.6 320.2 814.7 329.7 816.8 339.8 818.9 350.7 820.9 362.3 822.8 374.6 824.8 387.8 826.6 401.9 828.5 417.0 830.3 433.0 832.1 450.1 833.8 468.4 835.6 487.9 837.2 508.7 838.9 531.0 840.6 554.7 842.2 580.0 843.8 607.0 845.4 635.9 847.0 666.6 848.5 699.5 849.9 734.6 851.4 772.0 852.8 812.0 854.1 854.6 855.4 900.1 856.7 948.7 857.9" stroke="#1f9484"/>
<path d="M178.7 632.0 196.6 695.0 204.1 710.0 214.6 726.1 218.8 731.4 229.4 742.5 232.5 745.3 235.4 747.7 243.3 753.7 250.4 758.3 252.6 759.6 254.8 760.8 258.9 763.0 268.3 767.6 274.4 770.2 280.8 772.6 287.7 775.1 295.0 777.4 302.9 779.7 311.2 782.0 320.2 784.2 329.7 786.4 339.8 788.5 350.7 790.6 362.3 792.6 374.6 794.6 387.8 796.5 401.9 798.4 417.0 800.3 433.0 802.1 450.1 803.8 468.4 805.6 487.9 807.3 508.7 809.0 531.0 810.6 554.7 812.2 580.0 813.8 607.0 815.4 635.9 816.9 666.6 818.4 699.5 819.9 734.6 821.3 772.0 822.6 812.0 823.9 854.6 825.1 900.1 826.3 948.7 827.5" stroke="#128c84"/>
<path d="M178.7 672.0 196.6 731.4 204.1 745.4 214.6 760.2 218.8 765.0 229.4 775.0 232.5 777.4 235.4 779.6 243.3 784.8 250.4 788.7 252.6 789.8 254.8 790.9 258.9 792.7 268.3 796.5 274.4 798.5 280.8 800.5 287.7 802.4 295.0 804.2 302.9 806.0 311.2 807.7 320.2 809.4 329.7 811.0 339.8 812.5 350.7 814.0 362.3 815.5 374.6 816.9 387.8 818.3 401.9 819.7 417.0 821.0 433.0 822.3 450.1 823.6 468.4 824.8 487.9 826.1 508.7 827.3 531.0 828.6 554.7 829.8 580.0 831.1 607.0 832.3 635.9 833.6 666.6 834.8 699.5 836.0 734.6 837.1 772.0 838.2 812.0 839.3 854.6 840.4 900.1 841.5 948.7 842.5" stroke="#0e7070"/>
<path d="M178.7 733.7 196.6 784.8 204.1 796.7 214.6 809.1 218.8 813.1 229.4 821.3 232.5 823.2 235.4 825.0 243.3 829.1 250.4 832.2 252.6 833.0 254.8 833.8 258.9 835.2 268.3 838.0 274.4 839.5 280.8 840.8 287.7 842.2 295.0 843.4 302.9 844.7 311.2 845.9 320.2 847.1 329.7 848.2 339.8 849.4 350.7 850.4 362.3 851.5 374.6 852.5 387.8 853.4 401.9 854.4 417.0 855.3 433.0 856.1 450.1 856.9 468.4 857.7 487.9 858.5 508.7 859.2 531.0 859.9 554.7 860.5 580.0 861.2 607.0 861.7 635.9 862.3 666.6 862.8 699.5 863.4 734.6 863.8 772.0 864.3 812.0 864.7 854.6 865.1 900.1 865.4 948.7 865.7" stroke="#0c4f60"/>
<path d="M178.7 715.0 196.6 766.0 204.1 777.7 214.6 789.9 218.8 793.7 229.4 801.5 232.5 803.4 235.4 805.0 243.3 808.8 250.4 811.6 252.6 812.3 254.8 813.0 258.9 814.3 268.3 816.6 274.4 817.8 280.8 818.9 287.7 819.9 295.0 820.9 302.9 821.8 311.2 822.8 320.2 823.7 329.7 824.6 339.8 825.4 350.7 826.2 362.3 827.0 374.6 827.8 387.8 828.5 401.9 829.2 417.0 829.8 433.0 830.5 450.1 831.0 468.4 831.6 487.9 832.1 508.7 832.6 531.0 833.0 554.7 833.4 580.0 833.8 607.0 834.1 635.9 834.4 666.6 834.7 699.5 835.0 734.6 835.2 772.0 835.4 812.0 835.6 854.6 835.8 900.1 835.9 948.7 836.0" stroke="#123f55"/>
<path d="M178.7 743.7 191.8 748.8 204.8 754.3 217.9 760.2 230.9 766.4 244.0 773.6 257.0 781.3 270.1 788.9 283.1 795.6 296.2 801.7 309.2 807.4 322.3 812.4 335.3 816.6 348.4 820.4 361.4 823.4 374.5 825.6 387.5 827.5 400.6 828.5 413.6 828.4 426.7 828.2 439.7 828.1 452.8 828.0 465.8 828.4 478.9 829.1 491.9 830.1 505.0 831.1 518.0 831.9 531.1 832.5 544.1 833.1 557.2 833.7 570.2 834.3 583.3 834.8 596.3 835.3 609.4 835.7 622.4 836.2 635.5 836.6 648.5 837.0 661.6 837.4 674.6 837.8 687.7 838.1 700.7 838.5 713.8 838.8 726.8 839.2 739.9 839.5 752.9 839.8 766.0 840.1 779.0 840.5 792.1 840.8 805.1 841.1 818.2 841.4 831.2 841.7 844.3 842.0 857.3 842.2 870.4 842.5 883.4 842.8 896.5 843.0 909.5 843.3 922.6 843.5 935.6 843.8 948.7 844.0" stroke="#a020f0" stroke-width="6.4"/>
</g>
<g fill="none" stroke-width="4" stroke-linejoin="round">
<path d="M178.7 1572.0 196.6 1634.9 204.1 1649.9 214.6 1665.8 218.8 1671.0 229.4 1681.8 232.5 1684.5 235.4 1686.9 243.3 1692.6 250.4 1697.0 252.6 1698.3 254.8 1699.5 258.9 1701.6 268.3 1705.9 274.4 1708.3 280.8 1710.6 287.7 1712.9 295.0 1715.1 302.9 1717.3 311.2 1719.5 320.2 1721.6 329.7 1723.7 339.8 1725.8 350.7 1727.8 362.3 1729.7 374.6 1731.6 387.8 1733.5 401.9 1735.3 417.0 1737.0 433.0 1738.7 450.1 1740.3 468.4 1741.8 487.9 1743.2 508.7 1744.6 531.0 1745.9 554.7 1747.1 580.0 1748.2 607.0 1749.3 635.9 1750.2 666.6 1751.2 699.5 1752.1 734.6 1752.9 772.0 1753.7 812.0 1754.4 854.6 1755.0 900.1 1755.5 948.7 1756.0" stroke="#d3f2a3"/>
<path d="M178.7 1590.0 196.6 1651.7 204.1 1666.5 214.6 1682.3 218.8 1687.6 229.4 1698.5 232.5 1701.3 235.4 1703.7 243.3 1709.6 250.4 1714.2 252.6 1715.5 254.8 1716.7 258.9 1719.0 268.3 1723.6 274.4 1726.1 280.8 1728.6 287.7 1731.1 295.0 1733.6 302.9 1736.0 311.2 1738.3 320.2 1740.7 329.7 1743.0 339.8 1745.2 350.7 1747.4 362.3 1749.6 374.6 1751.7 387.8 1753.8 401.9 1755.8 417.0 1757.7 433.0 1759.6 450.1 1761.4 468.4 1763.2 487.9 1764.9 508.7 1766.5 531.0 1768.1 554.7 1769.6 580.0 1771.0 607.0 1772.3 635.9 1773.6 666.6 1774.9 699.5 1776.0 734.6 1777.2 772.0 1778.2 812.0 1779.2 854.6 1780.1 900.1 1780.9 948.7 1781.7" stroke="#a8e196"/>
<path d="M178.7 1596.0 196.6 1655.2 204.1 1669.3 214.6 1684.3 218.8 1689.2 229.4 1699.4 232.5 1701.9 235.4 1704.1 243.3 1709.6 250.4 1713.7 252.6 1714.9 254.8 1716.0 258.9 1718.0 268.3 1722.1 274.4 1724.4 280.8 1726.6 287.7 1728.7 295.0 1730.8 302.9 1732.9 311.2 1734.9 320.2 1736.9 329.7 1738.9 339.8 1740.8 350.7 1742.7 362.3 1744.5 374.6 1746.3 387.8 1748.0 401.9 1749.7 417.0 1751.3 433.0 1752.9 450.1 1754.4 468.4 1755.8 487.9 1757.2 508.7 1758.6 531.0 1759.8 554.7 1761.0 580.0 1762.2 607.0 1763.3 635.9 1764.3 666.6 1765.3 699.5 1766.2 734.6 1767.1 772.0 1767.9 812.0 1768.7 854.6 1769.4 900.1 1770.0 948.7 1770.6" stroke="#88cd92"/>
<path d="M178.7 1604.0 196.6 1658.2 204.1 1671.1 214.6 1684.9 218.8 1689.5 229.4 1699.0 232.5 1701.3 235.4 1703.4 243.3 1708.5 250.4 1712.4 252.6 1713.5 254.8 1714.5 258.9 1716.4 268.3 1720.3 274.4 1722.4 280.8 1724.5 287.7 1726.6 295.0 1728.6 302.9 1730.6 311.2 1732.6 320.2 1734.5 329.7 1736.4 339.8 1738.2 350.7 1740.0 362.3 1741.8 374.6 1743.5 387.8 1745.2 401.9 1746.8 417.0 1748.4 433.0 1749.9 450.1 1751.4 468.4 1752.8 487.9 1754.2 508.7 1755.5 531.0 1756.8 554.7 1758.0 580.0 1759.2 607.0 1760.3 635.9 1761.3 666.6 1762.4 699.5 1763.3 734.6 1764.2 772.0 1765.1 812.0 1765.9 854.6 1766.7 900.1 1767.4 948.7 1768.0" stroke="#6abb8c"/>
<path d="M178.7 1611.0 196.6 1664.4 204.1 1677.1 214.6 1690.7 218.8 1695.2 229.4 1704.5 232.5 1706.8 235.4 1708.8 243.3 1713.8 250.4 1717.6 252.6 1718.7 254.8 1719.7 258.9 1721.6 268.3 1725.4 274.4 1727.5 280.8 1729.5 287.7 1731.5 295.0 1733.5 302.9 1735.5 311.2 1737.4 320.2 1739.3 329.7 1741.1 339.8 1742.9 350.7 1744.7 362.3 1746.5 374.6 1748.2 387.8 1749.8 401.9 1751.4 417.0 1752.9 433.0 1754.4 450.1 1755.9 468.4 1757.3 487.9 1758.6 508.7 1759.8 531.0 1761.0 554.7 1762.2 580.0 1763.2 607.0 1764.2 635.9 1765.2 666.6 1766.1 699.5 1767.0 734.6 1767.8 772.0 1768.6 812.0 1769.3 854.6 1769.9 900.1 1770.5 948.7 1771.0" stroke="#47a88a"/>
<path d="M178.7 1600.0 196.6 1660.8 204.1 1675.2 214.6 1690.5 218.8 1695.6 229.4 1706.0 232.5 1708.6 235.4 1710.8 243.3 1716.4 250.4 1720.6 252.6 1721.8 254.8 1722.9 258.9 1725.0 268.3 1729.1 274.4 1731.4 280.8 1733.6 287.7 1735.7 295.0 1737.8 302.9 1739.9 311.2 1741.9 320.2 1743.9 329.7 1745.8 339.8 1747.7 350.7 1749.5 362.3 1751.3 374.6 1753.0 387.8 1754.7 401.9 1756.4 417.0 1758.0 433.0 1759.5 450.1 1761.0 468.4 1762.5 487.9 1763.9 508.7 1765.3 531.0 1766.6 554.7 1767.9 580.0 1769.1 607.0 1770.3 635.9 1771.4 666.6 1772.5 699.5 1773.6 734.6 1774.6 772.0 1775.5 812.0 1776.4 854.6 1777.3 900.1 1778.1 948.7 1778.8" stroke="#1f9484"/>
<path d="M178.7 1528.6 196.6 1588.5 204.1 1603.0 214.6 1618.6 218.8 1623.8 229.4 1634.8 232.5 1637.5 235.4 1640.0 243.3 1646.0 250.4 1650.6 252.6 1652.0 254.8 1653.2 258.9 1655.5 268.3 1660.3 274.4 1663.0 280.8 1665.7 287.7 1668.3 295.0 1670.9 302.9 1673.5 311.2 1676.0 320.2 1678.5 329.7 1680.9 339.8 1683.4 350.7 1685.7 362.3 1688.1 374.6 1690.4 387.8 1692.6 401.9 1694.8 417.0 1696.9 433.0 1699.0 450.1 1701.0 468.4 1703.0 487.9 1704.9 508.7 1706.7 531.0 1708.5 554.7 1710.2 580.0 1711.8 607.0 1713.4 635.9 1714.9 666.6 1716.3 699.5 1717.7 734.6 1719.0 772.0 1720.3 812.0 1721.5 854.6 1722.6 900.1 1723.6 948.7 1724.6" stroke="#128c84"/>
<path d="M178.7 1634.0 196.6 1685.2 204.1 1697.1 214.6 1709.6 218.8 1713.6 229.4 1721.8 232.5 1723.7 235.4 1725.5 243.3 1729.6 250.4 1732.7 252.6 1733.5 254.8 1734.3 258.9 1735.7 268.3 1738.5 274.4 1740.0 280.8 1741.3 287.7 1742.6 295.0 1743.9 302.9 1745.1 311.2 1746.3 320.2 1747.4 329.7 1748.5 339.8 1749.6 350.7 1750.6 362.3 1751.5 374.6 1752.5 387.8 1753.4 401.9 1754.3 417.0 1755.1 433.0 1756.0 450.1 1756.8 468.4 1757.6 487.9 1758.4 508.7 1759.2 531.0 1759.9 554.7 1760.7 580.0 1761.4 607.0 1762.2 635.9 1762.9 666.6 1763.7 699.5 1764.3 734.6 1765.0 772.0 1765.7 812.0 1766.3 854.6 1766.9 900.1 1767.4 948.7 1768.0" stroke="#0e7070"/>
<path d="M178.7 1622.0 196.6 1675.9 204.1 1688.4 214.6 1701.6 218.8 1705.8 229.4 1714.4 232.5 1716.5 235.4 1718.4 243.3 1722.8 250.4 1726.0 252.6 1726.9 254.8 1727.8 258.9 1729.3 268.3 1732.3 274.4 1733.9 280.8 1735.4 287.7 1736.8 295.0 1738.2 302.9 1739.5 311.2 1740.7 320.2 1742.0 329.7 1743.1 339.8 1744.3 350.7 1745.4 362.3 1746.4 374.6 1747.5 387.8 1748.5 401.9 1749.4 417.0 1750.4 433.0 1751.3 450.1 1752.2 468.4 1753.1 487.9 1753.9 508.7 1754.8 531.0 1755.6 554.7 1756.5 580.0 1757.4 607.0 1758.2 635.9 1759.1 666.6 1759.9 699.5 1760.7 734.6 1761.5 772.0 1762.2 812.0 1762.9 854.6 1763.7 900.1 1764.3 948.7 1765.0" stroke="#0c4f60"/>
<path d="M178.7 1612.0 196.6 1660.0 204.1 1671.2 214.6 1682.9 218.8 1686.6 229.4 1694.2 232.5 1696.1 235.4 1697.7 243.3 1701.5 250.4 1704.3 252.6 1705.1 254.8 1705.9 258.9 1707.2 268.3 1709.7 274.4 1711.1 280.8 1712.3 287.7 1713.5 295.0 1714.7 302.9 1715.8 311.2 1717.0 320.2 1718.1 329.7 1719.1 339.8 1720.2 350.7 1721.2 362.3 1722.1 374.6 1723.1 387.8 1724.0 401.9 1724.8 417.0 1725.7 433.0 1726.4 450.1 1727.2 468.4 1727.9 487.9 1728.5 508.7 1729.1 531.0 1729.7 554.7 1730.2 580.0 1730.7 607.0 1731.1 635.9 1731.5 666.6 1731.9 699.5 1732.3 734.6 1732.6 772.0 1732.9 812.0 1733.2 854.6 1733.4 900.1 1733.6 948.7 1733.7" stroke="#123f55"/>
<path d="M178.7 1661.0 191.8 1667.2 204.8 1673.5 217.9 1680.0 230.9 1686.5 244.0 1693.4 257.0 1700.5 270.1 1707.2 283.1 1713.0 296.2 1718.1 309.2 1722.9 322.3 1726.9 335.3 1730.3 348.4 1733.4 361.4 1736.0 374.5 1738.0 387.5 1739.0 400.6 1739.8 413.6 1740.4 426.7 1740.6 439.7 1740.7 452.8 1740.8 465.8 1740.9 478.9 1741.3 491.9 1742.1 505.0 1743.2 518.0 1744.3 531.1 1745.4 544.1 1746.2 557.2 1746.9 570.2 1747.5 583.3 1748.1 596.3 1748.6 609.4 1749.1 622.4 1749.7 635.5 1750.3 648.5 1750.9 661.6 1751.7 674.6 1752.4 687.7 1753.1 700.7 1753.6 713.8 1754.1 726.8 1754.5 739.9 1754.9 752.9 1755.3 766.0 1755.6 779.0 1756.0 792.1 1756.3 805.1 1756.6 818.2 1757.0 831.2 1757.3 844.3 1757.6 857.3 1758.0 870.4 1758.3 883.4 1758.6 896.5 1758.9 909.5 1759.2 922.6 1759.5 935.6 1759.7 948.7 1760.0" stroke="#a020f0" stroke-width="6.4"/>
</g>
</svg>
<svg width="1786" height="1957" viewBox="0 0 1786 1957" style="position:absolute;left:0;top:0">
<defs>
<filter id="halo0" filterUnits="userSpaceOnUse" x="0" y="0" width="90" height="90" color-interpolation-filters="sRGB">
<feGaussianBlur in="SourceAlpha" stdDeviation="1.1" result="b1"/>
<feGaussianBlur in="SourceAlpha" stdDeviation="4.4" result="b2"/>
<feGaussianBlur in="SourceAlpha" stdDeviation="11" result="b3"/>
<feComposite in="b1" in2="b2" operator="arithmetic" k1="0" k2="0.15" k3="1.05" k4="0" result="b12"/>
<feComposite in="b12" in2="b3" operator="arithmetic" k1="0" k2="1" k3="0.08" k4="0" result="b"/>
<feColorMatrix in="b" type="matrix" values="0 0 0 1 0  0 0 0 1 0  0 0 0 1 0  0 0 0 0 1" result="g"/>
<feComponentTransfer in="g" result="c">
<feFuncR type="table" tableValues="0.992 0.973 0.941 0.882 0.765 0.627 0.47"/>
<feFuncG type="table" tableValues="0.886 0.784 0.647 0.51 0.373 0.235 0.118"/>
<feFuncB type="table" tableValues="0.914 0.847 0.776 0.706 0.627 0.549 0.45"/>
</feComponentTransfer>
<feMerge><feMergeNode in="c"/><feMergeNode in="SourceGraphic"/></feMerge>
</filter><filter id="halo1" filterUnits="userSpaceOnUse" x="0" y="0" width="90" height="90" color-interpolation-filters="sRGB">
<feGaussianBlur in="SourceAlpha" stdDeviation="1.1" result="b1"/>
<feGaussianBlur in="SourceAlpha" stdDeviation="3.9" result="b2"/>
<feGaussianBlur in="SourceAlpha" stdDeviation="11" result="b3"/>
<feComposite in="b1" in2="b2" operator="arithmetic" k1="0" k2="0.15" k3="0.9" k4="0" result="b12"/>
<feComposite in="b12" in2="b3" operator="arithmetic" k1="0" k2="1" k3="0.08" k4="0" result="b"/>
<feColorMatrix in="b" type="matrix" values="0 0 0 1 0  0 0 0 1 0  0 0 0 1 0  0 0 0 0 1" result="g"/>
<feComponentTransfer in="g" result="c">
<feFuncR type="table" tableValues="0.992 0.973 0.941 0.882 0.765 0.627 0.47"/>
<feFuncG type="table" tableValues="0.886 0.784 0.647 0.51 0.373 0.235 0.118"/>
<feFuncB type="table" tableValues="0.914 0.847 0.776 0.706 0.627 0.549 0.45"/>
</feComponentTransfer>
<feMerge><feMergeNode in="c"/><feMergeNode in="SourceGraphic"/></feMerge>
</filter><filter id="halo2" filterUnits="userSpaceOnUse" x="0" y="0" width="90" height="90" color-interpolation-filters="sRGB">
<feGaussianBlur in="SourceAlpha" stdDeviation="1.1" result="b1"/>
<feGaussianBlur in="SourceAlpha" stdDeviation="3.5" result="b2"/>
<feGaussianBlur in="SourceAlpha" stdDeviation="11" result="b3"/>
<feComposite in="b1" in2="b2" operator="arithmetic" k1="0" k2="0.15" k3="0.78" k4="0" result="b12"/>
<feComposite in="b12" in2="b3" operator="arithmetic" k1="0" k2="1" k3="0.08" k4="0" result="b"/>
<feColorMatrix in="b" type="matrix" values="0 0 0 1 0  0 0 0 1 0  0 0 0 1 0  0 0 0 0 1" result="g"/>
<feComponentTransfer in="g" result="c">
<feFuncR type="table" tableValues="0.992 0.973 0.941 0.882 0.765 0.627 0.47"/>
<feFuncG type="table" tableValues="0.886 0.784 0.647 0.51 0.373 0.235 0.118"/>
<feFuncB type="table" tableValues="0.914 0.847 0.776 0.706 0.627 0.549 0.45"/>
</feComponentTransfer>
<feMerge><feMergeNode in="c"/><feMergeNode in="SourceGraphic"/></feMerge>
</filter><filter id="halo3" filterUnits="userSpaceOnUse" x="0" y="0" width="90" height="90" color-interpolation-filters="sRGB">
<feGaussianBlur in="SourceAlpha" stdDeviation="1.1" result="b1"/>
<feGaussianBlur in="SourceAlpha" stdDeviation="3.2" result="b2"/>
<feGaussianBlur in="SourceAlpha" stdDeviation="11" result="b3"/>
<feComposite in="b1" in2="b2" operator="arithmetic" k1="0" k2="0.15" k3="0.68" k4="0" result="b12"/>
<feComposite in="b12" in2="b3" operator="arithmetic" k1="0" k2="1" k3="0.08" k4="0" result="b"/>
<feColorMatrix in="b" type="matrix" values="0 0 0 1 0  0 0 0 1 0  0 0 0 1 0  0 0 0 0 1" result="g"/>
<feComponentTransfer in="g" result="c">
<feFuncR type="table" tableValues="0.992 0.973 0.941 0.882 0.765 0.627 0.47"/>
<feFuncG type="table" tableValues="0.886 0.784 0.647 0.51 0.373 0.235 0.118"/>
<feFuncB type="table" tableValues="0.914 0.847 0.776 0.706 0.627 0.549 0.45"/>
</feComponentTransfer>
<feMerge><feMergeNode in="c"/><feMergeNode in="SourceGraphic"/></feMerge>
</filter><filter id="halo4" filterUnits="userSpaceOnUse" x="0" y="0" width="90" height="90" color-interpolation-filters="sRGB">
<feGaussianBlur in="SourceAlpha" stdDeviation="1.1" result="b1"/>
<feGaussianBlur in="SourceAlpha" stdDeviation="3.2" result="b2"/>
<feGaussianBlur in="SourceAlpha" stdDeviation="11" result="b3"/>
<feComposite in="b1" in2="b2" operator="arithmetic" k1="0" k2="0.15" k3="0.68" k4="0" result="b12"/>
<feComposite in="b12" in2="b3" operator="arithmetic" k1="0" k2="1" k3="0.08" k4="0" result="b"/>
<feColorMatrix in="b" type="matrix" values="0 0 0 1 0  0 0 0 1 0  0 0 0 1 0  0 0 0 0 1" result="g"/>
<feComponentTransfer in="g" result="c">
<feFuncR type="table" tableValues="0.992 0.973 0.941 0.882 0.765 0.627 0.47"/>
<feFuncG type="table" tableValues="0.886 0.784 0.647 0.51 0.373 0.235 0.118"/>
<feFuncB type="table" tableValues="0.914 0.847 0.776 0.706 0.627 0.549 0.45"/>
</feComponentTransfer>
<feMerge><feMergeNode in="c"/><feMergeNode in="SourceGraphic"/></feMerge>
</filter>
</defs>
<text transform="translate(1033.6 96.5) scale(1.15 1)" font-family="Liberation Sans, sans-serif" font-size="36.5" font-weight="bold" fill="#000" stroke="#000" stroke-width="1.5">c</text>
<g transform="translate(1049.1 112.2) scale(4.0844)">
<rect width="90" height="90" fill="#fde2e9"/>
<g filter="url(#halo0)"><path fill="#006400" fill-rule="evenodd" shape-rendering="crispEdges" d="M19 0h1v1h-1zM21 0h1v1h-1zM23 0h1v1h-1zM29 0h3v1h-3zM42 0h1v1h-1zM48 0h1v2h-1zM50 0h2v1h-1v2h-1zM56 0h7v1h-4v1h-1v-1h-2zM64 0h1v1h-1zM67 0h1v1h-1zM7 1h2v2h-1v1h-1v1h-1v2h-1v1h-1v2h-1v1h-1v2h-1v2h-1v-6h1v-1h1v-2h1v-2h1v-1h1v-1h2zM36 1h1v1h-1zM54 1h1v4h-1v-1h-1v-1h1zM78 1h2v1h-2zM88 1h1v1h-1zM41 2h1v1h-1zM42 3h1v1h-1zM50 3v1h-1v-1zM64 2h1v1h-1zM21 3h1v1h-1zM39 3h1v1h1v1h-2zM46 3h2v1h-1v1h-1zM48 4h1v1h-1zM67 3h1v1h-1zM25 4h1v1h-1zM57 4h2v2h-1v-1h-1zM80 4h2v3h-1v-2h-1zM15 5h1v1h-1zM36 5h2v1h-2zM58 6v1h-1v-1zM62 5h1v1h-1zM21 6h1v1h-1zM88 6h1v1h-1zM53 8h1v1h-1zM70 8h2v2h-2zM28 9h2v2h-2zM15 10h1v1h-1zM19 10h1v2h-1zM30 11h2v2h-2zM7 11h2v1h-2zM89 11h1v1h-1zM81 12h2v3h-2zM66 14h2v2h-2zM76 15h2v1h2v2h-3v-1h-1zM89 15h1v1h-1zM40 16h2v2h1v4h-1v1h-1v-3h1v-1h-1v-2h-1zM26 18h1v1h-1zM26 19v1h-1v-1zM68 18h1v1h-1zM33 19h2v2h-2zM45 19h6v1h1v5h-1v1h-6v-1h-1v-5h1zM85 22h1v1h-1zM86 23h1v1h-1zM87 24h1v1h-1zM4 24h2v1h1v6h1v2h3v3h-3v4h-1v2h-1v1h-1v1h-1v4h-1v1h-1v1h-2v-23h3v-2h1zM40 24h2v2h-2zM52 25h1v-1h4v5h-2v1h-1v2h2v3h1v2h1v1h2v1h1v1h9v-1h2v1h3v1h1v1h2v1h1v1h1v1h1v1h1v1h3v1h5v9h-2v1h-4v1h-2v2h-1v1h-1v1h-3v-1h-2v-1h-1v-1h-1v-1h-1v-1h-1v-2h4v-1h3v-1h2v-2h-1v-5h-1v-2h-1v-1h-1v-1h-2v-1h-11v1h-3v1h-1v1h-5v1h-1v1h-2v1h-4v-1h-1v-1h-2v-1h-1v-3h-1v-3h1v-1h1v3h3v3h2v-4h1v-1h1v-1h1v-2h-1v1h-1v2h-1v-1h-1v-1h-1v-3h-1v-2h-1v-2h-1v-1h4v1h1v1h1v-1h2v-1h1v-2h-1zM11 25h3v2h-3zM33 25h3v3h-1v1h-1v-1h-1zM70 25h1v1h-1zM80 26h1v1h-1zM83 26h2v1h-2zM89 27h1v2h-1zM15 29h2v2h-2zM87 29h1v1h-1zM88 32h1v1h-1zM22 38h1v2h-1v3h-1v-2h-1v-2h2zM55 41v1h-4v2h3v-1h2v-1h1v-1zM13 43h2v2h-2zM82 48v1h-1v1h1v1h1v1h2v-1h1v-1h-1v-1h-1v-1zM9 49h2v2h-2zM39 51h2v2h1v2h-2v-1h-1zM3 53h2v1h1v5h-1v1h-1v1h-3v-2h-1v-2h1v-1h1v-2h1zM33 58h3v1h1v1h2v1h1v1h1v1h-1v1h-2v-1h-1v-1h-1v-1h-2v-1h-1zM26 59h2v2h-2zM49 59h7v1h1v1h5v3h1v1h3v1h1v4h-3v-1h-1v-2h-2v-2h-1v-1h-4v-1h-1v-1h-1v-1h-2v1h-3zM9 60h2v1h1v2h-3zM43 60h2v2h-2zM86 60h4v20h-1v1h-3v-11h-1v-9h1zM66 61h2v2h-2zM30 63h3v1h1v1h4v3h2v1h1v-1h3v2h-1v3h-3v-1h-1v-1h-1v-1h-2v-1h-1v-1h-1v-2h-1v-1h-2v-1h-1zM13 64h2v1h1v1h1v1h1v1h-3v-1h-1v-1h-1zM21 64h2v2h-2zM72 64h1v1h-1zM80 64h2v8h1v2h1v5h-1v1h-1v3h-1v1h-3v-2h-1v-1h-2v-1h-1v-1h1v-1h4v-1h1v-1h1v-7h-1zM6 65h2v3h-1v-1h-1zM71 66h1v1h-1zM28 67h1v2h-1zM46 67h2v1h-1v1h-1zM1 69h1v1h1v1h2v1h1v3h-1v1h-1v-1h-1v-1h-1v-2h-2v-2h1zM56 72h2v1h3v3h-4v-3h-1zM63 72h1v2h-1zM9 74h2v1h1v4h-2v-3h-1zM77 74h2v2h-2zM57 76v2h-2v-2zM39 76h2v2h-2zM72 77h2v2h-2zM67 78h2v1h1v2h-1v1h-2v2h-4v-2h3v-1h-2v-2h3zM58 79h1v2h-1zM33 80h1v1h-1zM21 82h3v1h4v1h1v1h1v1h2v1h2v1h1v-1h7v1h1v2h-22v-5h-1v-1h1zM0 86h2v1h-2zM55 86h1v1h-1zM1 88h1v1h1v1h-2zM6 89h1v1h-1zM10 89h1v1h-1zM59 89h1v1h-1z"/></g>
</g>
<g transform="translate(1418.7 112.2) scale(4.0844)">
<rect width="90" height="90" fill="#fde2e9"/>
<g filter="url(#halo0)"><path fill="#006400" fill-rule="evenodd" shape-rendering="crispEdges" d="M7 0h1v1h-1zM27 0h4v5h-1v1h-1v3h-1v6h-1v2h-1v1h-1v1h-1v1h-5v1h-2v3h-1v1h-1v1h-1v1h-2v1h-1v1h-3v1h-2v1h-6v-7h3v1h3v-1h1v-1h1v-4h1v-1h1v-1h-1v-3h1v1h1v3h1v-1h2v-1h1v-1h2v-1h1v-1h-1v-1h-1v-3h2v-1h1v-4h1v-1h5v-1h2zM51 0h2v1h-1v3h1v1h2v1h-3v-1h-1v-1h-1v-2h1zM9 1h1v1h-1zM0 2h1v1h5v1h1v5h1v1h-2v1h-6zM42 2h1v7h2v1h4v1h-2v1h-1v1h1v4h-2v-2h-1v-2h-2v-1h-1v1h-1v-2h2zM67 2h1v1h-1zM59 3h2v1h-2zM81 3h1v2h-1zM48 4h1v1h-1zM84 4h1v1h-1zM37 6h1v1h-1zM63 6h1v1h-1zM70 6h3v1h-1v2h-1v1h-4v-1h3zM78 6h1v1h-1zM83 6h1v1h-1zM55 7h1v1h1v2h2v1h-3v1h-4v-1h3zM59 7h2v1h-2zM74 7h1v1h-1zM31 8h1v1h-1zM65 8h1v1h-1zM80 8h2v2h-1v-1h-1zM80 9v1h-1v-1zM13 9h1v1h-1zM33 9h1v1h-1zM59 9h5v1h-5zM64 10h2v1h3v1h2v1h1v1h-2v-1h-2v-1h-3v-1h-1zM83 9h1v1h-1zM38 10h2v1h-2zM89 10h1v2h-1zM35 11h1v1h1v3h-1v-1h-1zM40 13v1h2v3h-2v1h-2v1h-2v1h-2v1h-1v-1h-1v-2h1v-1h2v-1h2v-1h2v-2zM51 13h1v1h1v3h-1v-1h-1zM55 13h1v1h-1zM32 14h1v1h-1zM67 14h1v1h-1zM67 15v1h-1v-1zM73 14h15v1h2v12h-1v4h-1v3h-1v1h-2v1h-1v-1h-2v1h-3v-1h2v-1h3v-2h1v2h1v-2h1v-3h1v-3h1v-1h-1v-3h-1v-3h-1v-2h-1v-1h-9v-1h-3zM55 16h1v1h-1zM56 17h1v1h1v1h-2zM5 17h1v1h-1zM5 18v1h-1v-1zM61 17h1v1h-1zM61 18v1h-1v1h-1v-2zM48 19h1v4h1v1h1v4h1v5h-2v-4h-1v-5h-3v-1h2zM59 20v1h-1v-1zM1 20h2v2h-2zM53 20h1v1h-1zM28 21h1v1h-1zM39 22h1v1h-1zM54 22h1v1h-1zM56 22h1v1h-1zM42 23h1v1h-1zM44 23h1v1h-1zM83 23h1v1h-1zM45 25h1v1h-1zM41 27h1v1h-1zM41 28v1h-1v-1zM29 28h1v1h-1zM59 28h2v2h-1v-1h-1zM62 28h1v1h-1zM71 29h1v1h-1zM85 29h1v1h-1zM70 31h1v1h-1zM71 32h1v1h-1zM70 32v1h-1v-1zM72 31h1v1h-1zM83 31h1v1h-1zM69 33v1h-1v-1zM72 33h1v1h2v1h-3zM1 33h1v1h-1zM58 33h1v1h-1zM59 34h1v1h-1zM68 34v2h1v1h-3v-1h-1v-2zM76 33h1v1h-1zM80 33h1v1h-1zM50 34h5v2h-2v1h-3v1h-1v1h-1v1h-1v1h-1v1h-1v1h-1v1h-1v1h-2v1h-1v1h-1v1h-1v1h-2v1h-1v1h-2v1h-1v-1h-2v-2h1v-1h2v-1h1v-1h1v-1h1v-1h1v-1h1v-1h1v-1h1v-1h1v-1h1v-1h2v-1h1v-1h2v-1h3zM60 35h1v1h-1zM62 34h1v1h-1zM16 35h3v2h-5v1h-4v1h-2v3h-1v-4h1v-1h3v-1h5zM84 36v1h-1v-1zM77 36h1v1h-1zM40 37h1v1h-1zM4 38h1v1h-1zM36 38h1v1h-1zM86 38h1v1h-1zM87 39h1v1h-1zM29 39h1v4h-1v2h-1v-4h1zM34 39h1v1h-1zM81 39h1v1h4v1h1v1h2v1h1v19h-1v-3h-1v-4h-1v-3h-1v-8h-1v-1h-2v-1h-5v1h-5v-1h-1v-1h1v-1h8zM88 40h1v1h-1zM4 40h1v2h-1zM31 40h2v1h-2zM25 42h1v1h-1zM63 42h1v1h-1zM5 43h1v1h-1zM20 44h2v2h-5v-1h3zM62 45h2v1h1v1h1v2h1v3h1v6h-1v-3h-1v-1h-2v4h-1v-4h-3v1h-1v-1h-5v-1h-2v-1h-1v-1h-1v1h-1v1h-1v1h-1v6h-1v1h-1v1h-1v1h-1v3h-1v1h-2v1h-1v1h-2v-3h-1v-1h2v-1h1v-1h-2v-1h-1v-1h-2v-1h-1v-1h1v-4h2v1h1v2h1v1h2v1h3v-8h3v-1h2v-1h5v1h6v-2h1v-1h1v-1h1zM3 46h1v1h-1zM44 46h1v1h-1zM6 47h6v1h2v1h4v2h-4v-1h-2v1h-2v1h-1v1h-1v1h-2v1h-2v1h-4v-5h2v-1h2v-1h2zM26 47h1v1h-1zM72 51h1v1h-1zM12 52h1v1h-1zM35 52h1v2h-1zM28 54h1v1h-1zM32 54h1v2h-1zM59 55v3h-1v-3zM73 54h1v1h-1zM74 55h1v1h-1zM76 54h1v1h-1zM7 55h1v1h-1zM7 56v2h-1v2h-1v2h-1v1h-1v2h-1v2h-1v1h-1v-3h1v-1h1v-2h1v-1h1v-2h1v-2h1v-1zM9 55h1v1h-1zM75 56h1v1h-1zM14 57h1v1h-1zM76 58h1v1h-1zM76 59v2h-1v-2zM80 58h1v1h-1zM49 59h2v1h-2zM59 59h1v2h-1zM64 59h1v1h-1zM78 59h1v1h-1zM16 61h2v2h-1v1h-1zM66 61h1v1h-1zM66 62v2h-1v1h1v1h-3v1h-2v1h-1v-2h2v-1h1v-1h1v-1h1v-1zM87 61h1v1h-1zM27 62h1v1h-1zM60 62h1v1h-1zM45 63h2v3h-2zM79 63h2v1h-2zM79 64v1h-1v-1zM76 64h1v7h-1v1h-1v1h-1v-5h1v-3h1zM7 65h2v2h-2zM29 68h1v1h2v1h-5v1h-2v-2h4zM33 68h2v1h-2zM57 68h2v1h-1v1h-1zM64 68h1v1h-1zM82 68h1v1h-1zM54 69h1v1h1v1h-1v1h-1v1h-1v1h-1v1h-3v-3h4v-1h1zM70 69h1v1h1v1h1v2h-3zM78 69h1v1h-1zM80 69h1v1h-1zM81 70h1v1h-1zM82 71h1v1h-1zM19 71h1v2h-1zM24 72h1v6h-1v3h-1v-4h1zM75 73h1v1h1v1h1v-1h1v4h-1v-1h-1v-1h-1v-1h-1zM86 72h1v1h-1zM21 73h1v1h-1zM29 73h1v1h2v1h-2v1h-1zM68 73h1v2h-1v2h-2v-3h2zM82 73h2v1h1v1h5v2h-4v-1h-3v2h-2v-4h1zM0 74h1v1h-1zM49 75v1h-1v-1zM29 76v1h-1v-1zM33 75h1v1h1v2h-2zM42 75h1v1h1v5h-1v-4h-1zM48 76v1h-3v-1zM28 77v1h-1v-1zM0 77h1v2h-1zM27 78v1h-1v-1zM38 78h1v2h-2v-1h1zM48 78h1v1h-1zM87 78h1v1h-1zM78 79h1v1h-1zM81 79h1v1h-1zM28 80h1v1h-1zM29 81h1v1h-1zM0 81h1v1h-1zM14 81h2v1h-2zM17 81h1v1h-1zM49 81h1v1h-1zM70 81h1v2h-1zM82 81h1v5h-1zM31 82h1v1h-1zM32 83h1v1h-1zM5 83h1v1h-1zM12 83h2v1h-2zM33 84h2v1h-1v5h-1zM84 83h1v1h-1zM15 84h1v1h-1zM72 84h1v2h-1zM74 84h2v2h-2zM87 84h1v1h-1zM87 85v1h-1v1h-2v-2zM1 85h1v1h-1zM21 85h1v1h-1zM10 86h2v1h-2zM58 86h1v1h-1zM65 86h1v1h-1zM25 87h1v1h-1zM53 87h1v1h-1zM0 88h1v1h-1zM7 88h1v1h-1zM43 88h1v2h-1zM58 88h1v1h-1zM59 89h1v1h-1zM5 89h1v1h-1zM20 89h1v1h-1zM54 89h1v1h-1zM75 89h1v1h-1z"/></g>
</g>
<g transform="translate(1049.1 481.2) scale(4.0844)">
<rect width="90" height="90" fill="#fde2e9"/>
<g filter="url(#halo1)"><path fill="#006400" fill-rule="evenodd" shape-rendering="crispEdges" d="M7 0h17v9h-1v1h-2v1h-3v1h-1v6h-1v2h-1v2h-1v2h-1v1h-1v2h2v1h1v1h-2v2h-1v1h-1v1h-1v3h-1v11h-1v2h-1v3h11v4h-6v1h-4v1h-2v1h-1v1h-1v2h-1v2h-1v1h-2v-29h1v-4h1v-1h1v-2h-1v-2h-1v-1h1v-1h-1v-1h-1v-4h1v1h1v-1h1v-2h1v-2h1v-1h-1v-1h1v-1h-1v-3h1v-2h1v-3h1zM54 0h6v5h-1v2h-2v-1h-1v-2h-1v-2h-1zM82 0h2v6h-1v5h-1v4h-1v2h-1v1h2v2h-2v1h-1v1h-1v1h-1v1h-1v1h-1v1h-1v2h-1v3h-1v1h-1v1h-2v-1h-1v-1h-2v-2h-1v-2h-1v-2h-1v-1h-2v-1h-1v-3h3v-1h3v1h1v3h1v1h2v-1h2v-3h1v-2h1v-6h-1v-4h-1v-2h6v-1h2v-1h1v-3h1zM67 7h2v2h-2zM29 9h5v1h3v2h-2v1h-1v-1h-1v-1h-3v-1h-1zM41 9h2v1h2v1h1v4h-2v-2h-2v-1h-2v-2h1zM8 11v1h2v-1zM58 11h2v2h-2zM8 13h-1v2h-1v2h1v1h2v-3h-1zM1 13h2v2h-2zM71 13h2v3h-2zM0 16h2v1h-2zM43 19h1v2h-1zM47 20h2v1h1v2h-2v-2h-1zM69 20h2v1h-2zM20 22h2v3h1v2h-2v-1h-1v1h-1v1h-2v-4h2v-1h1zM78 24h2v14h-1v1h-2v-4h1zM37 32h1v1h-1zM83 34h3v1h3v4h1v9h-3v-1h-1v-2h-1v-3h-4v-7h2zM85 40v1h2v-1zM11 41h2v1h-2zM76 41h3v3h2v2h-2v6h1v1h1v-1h1v-1h4v1h1v1h1v2h-1v1h-2v-3h-2v1h-2v2h-2v-2h-1v-3h-1v-5h-1zM56 44h3v1h1v1h3v-1h1v1h1v3h-1v1h-1v1h-1v1h-1v1h-2v1h-1v1h-2v1h-1v1h-3v-1h-1v-1h-3v5h-4v1h-2v1h-1v1h-2v1h-1v-1h-3v1h-1v1h-1v7h-1v1h1v2h-1v1h-2v1h-1v1h-1v1h-2v1h-3v5h-4v-2h1v-5h-1v1h-1v1h-5v-1h-3v2h-1v7h-1v2h-6v-3h-2v-11h8v-1h-1v-1h-7v-6h1v-1h7v1h7v1h2v1h1v-1h6v-1h1v-1h-1v-1h-1v-1h-1v-1h-1v-2h1v1h1v1h1v1h1v1h1v1h3v-1h2v-1h1v-1h-3v-1h-2v-1h-1v-3h2v-2h1v-1h1v-2h1v-1h1v-1h1v-1h2v-1h3v-1h3v-1h3v-1h7v-1h2v-1h3zM19 47h1v2h-1zM21 48h2v2h-1v2h-2v-2h1zM74 48h2v2h-2zM74 51h2v2h-2zM56 57h2v2h-2zM13 58h2v1h1v1h2v1h1v1h1v2h-2v-1h-1v-1h-1v-1h-1v-1h-2zM66 58h3v3h-1v-1h-1v-1h-1zM75 58h3v1h1v1h2v4h1v1h1v2h1v1h1v1h1v1h1v2h1v1h1v2h1v15h-5v-3h2v-1h1v-4h-1v-2h-1v-2h-1v-1h-1v-1h-2v-1h-1v-1h-1v-1h1v-2h1v-2h-1v-3h-1v-2h-1v-3h-2v-1h-2zM35 64h1v1h1v5h1v3h1v2h1v10h-2v-9h-1v-4h-1v-3h-1zM43 64h2v2h-2zM19 66h1v1h-1zM76 66h3v2h-3zM48 67h1v1h1v1h-2zM31 69h-1v2h1zM23 70v1h-2v1h-3v2h5v-1h2v-1h1v-2zM53 75h2v1h1v2h1v1h1v2h-2v-1h-1v-1h-1v-2h-1zM57 83h2v1h-2zM50 84h2v1h-1v1h-1zM64 86h8v1h2v1h4v2h-6v-1h-1v-1h-8v-1h1z"/></g>
</g>
<g transform="translate(1418.7 481.2) scale(4.0844)">
<rect width="90" height="90" fill="#fde2e9"/>
<g filter="url(#halo1)"><path fill="#006400" fill-rule="evenodd" shape-rendering="crispEdges" d="M0 0h7v3h-1v1h1v-1h2v1h2v-4h4v1h1v-1h9v1h1v-1h7v3h-1v1h-2v-2h-2v1h-4v1h-2v-1h-7v1h-1v3h-1v1h-1v-1h-1v1h1v2h-1v2h3v2h-1v2h-2v-3h-3v1h1v2h2v1h3v1h2v1h1v1h2v1h2v-1h3v-1h-1v-3h1v-1h1v1h1v2h-1v2h1v7h-1v1h-5v-1h-1v-1h-2v1h1v2h2v2h4v1h2v1h1v-2h2v1h1v5h2v-1h2v1h2v-1h1v-1h3v1h5v1h1v-1h1v1h4v1h4v-1h1v-5h1v-2h1v-2h1v-2h-1v-2h2v-1h3v-1h2v-1h1v-2h2v1h1v-5h1v-1h4v-1h2v-1h1v-1h1v-3h4v1h4v3h1v-1h3v1h-2v2h2v13h-1v5h-2v-8h-2v-1h-3v1h-3v3h-1v6h-3v-1h-3v-2h-1v-4h-1v1h-1v1h-1v1h-4v2h-4v2h-1v2h-1v1h-1v3h2v-1h1v-2h1v1h4v-1h1v-1h2v-1h-1v-1h1v-4h2v7h1v3h-1v1h-2v1h-2v1h-2v2h2v1h1v2h-2v1h-2v1h-4v-4h-1v-5h-4v3h-2v1h-2v1h-10v-2h-5v-1h-1v-1h-1v-1h-3v-2h-1v-4h-2v2h-2v1h-3v-1h1v-1h1v-1h-1v-1h-7v-1h-1v1h-5v-3h4v-2h1v-3h-1v-5h-12v2h1v2h1v-1h1v-2h2v10h-1v1h-2v1h-2v1h-2v-15h2v-4h-1v1h-1v-6h1v-3h-1zM34 0h2v2h-2zM54 0h1v1h1v2h-2v-1h-1v-1h1zM66 0h2v2h-1v1h-2v-2h1zM37 1h2v2h-2zM59 1h3v3h-2v-1h-1zM42 2h7v5h-3v1h-2v-2h2v-1h1v-1h-6v-1h1zM3 4h-1v1h1zM5 5v4h-1v1h5v-5zM55 4h2v1h3v1h3v1h1v-1h2v-1h2v2h1v1h3v-1h3v-3h3v3h-2v2h-1v1h-1v1h-1v2h-3v-4h-1v1h-1v3h-2v-1h-1v-1h-3v-1h-2v-2h-1v-1h-1v1h-5v-2h1v-1h1zM34 5h2v4h-1v1h-2v4h-1v6h7v-1h1v1h2v1h3v1h1v1h1v1h2v3h-1v1h-1v1h-1v1h-1v-1h-3v1h-1v1h1v2h-2v-1h-1v-1h-1v-1h-1v-2h-3v-1h-1v-1h-1v-1h-1v-3h-3v-3h1v-4h1v-4h-3v-3h2v-2h3v1h2zM21 6h2v3h-2zM21 9v2h-2v-2zM31 9h-1v1h1zM37 8h3v1h1v3h-2v-2h-2zM56 9h2v2h-2zM42 10h2v2h-1v-1h-1zM16 11h2v1h-2zM85 13h-1v1h-1v1h-2v1h2v-1h4v-1h-2zM80 15h-1v2h1v2h1v1h1v-2h-1v-1h-1zM8 21h2v2h1v2h-2v-3h-1zM36 22v1h-2v1h1v3h1v-4h3v-1zM71 22h-1v1h1zM88 22h-1v1h1zM20 24v1h3v-1zM5 26h-1v1h1zM29 27h2v1h1v2h-2v-1h-1zM73 28v2h2v-2zM83 29h1v2h-1zM65 31h2v2h-2zM79 31h1v1h1v1h3v-1h3v2h2v2h-5v2h-1v1h-1v1h-1v3h-3v1h-1v-1h-1v-2h-1v-3h-1v-1h3v1h1v-2h1v-1h-2v-1h1v-1h1zM7 33h2v2h1v4h1v4h1v1h-1v1h-2v-5h-1v-6h-1zM49 33h2v2h-2zM82 35h-1v1h1zM38 38v1h1v1h1v1h2v1h3v1h2v-1h-1v-1h-1v-2h-5v-1zM47 39v1h1v1h2v-1h1v-1zM23 40h1v3h-2v-2h1zM72 40h2v5h-2v1h-2v-2h-1v-3h2v1h1zM31 42h1v5h1v2h-2v-1h-2v1h-2v5h2v-1h2v-1h-2v-3h2v2h2v-1h4v1h1v1h1v2h1v1h1v1h1v3h1v2h1v4h-1v1h2v2h-1v1h4v3h-1v-1h-2v1h-3v1h4v1h1v1h2v2h2v2h2v1h1v1h2v1h1v1h2v1h1v-1h2v2h4v1h1v1h1v-1h3v2h-2v1h-3v1h-10v-1h1v-1h1v-2h-1v-1h-2v-1h-2v-1h-1v-1h-2v-1h-3v-3h-1v-1h-1v1h-1v1h-1v1h-3v1h-2v1h-1v1h1v1h1v2h-1v1h-2v-2h-1v1h-3v-3h1v-1h-2v-1h-4v1h-1v1h-2v1h-2v-1h-2v1h1v2h-1v4h-3v-3h1v-2h-1v-2h1v-3h3v-3h1v-6h4v1h1v2h3v1h1v1h4v-1h3v-1h3v-3h1v-4h-1v-1h-1v-1h1v-1h1v-3h-1v-1h-1v1h-1v1h-2v1h-2v-2h2v-1h1v-1h1v-2h-1v-2h-1v-1h-1v-3h-1v1h-1v1h-2v1h-1v2h-1v-1h-2v1h-3v4h-1v5h-2v-6h1v-3h1v-5h1v-2h1v-4h1v-1h1v-1h3zM86 42h2v2h-2zM53 44h2v1h-2zM36 45h2v2h-1v1h-3v-2h2zM78 45h5v1h1v-1h1v2h1v1h1v-1h2v4h1v6h-1v-3h-1v-1h-1v-2h-3v1h1v2h1v3h-1v-1h-2v-3h-1v-1h-3v-5h-1zM42 46h3v2h-3zM53 47h2v1h1v4h-1v1h-1v-1h-2v1h-1v-1h-1v-1h-3v-2h2v1h3v-1h1v1h1v-1h-1zM69 49h2v2h-2zM64 50h2v3h-3v-2h1zM47 52h1v2h1v2h1v1h1v1h2v-1h4v2h1v2h1v-3h2v-1h-1v-3h6v1h2v1h2v2h8v1h-1v1h-1v1h-1v1h-1v3h-1v-4h-1v-1h-2v1h-2v1h-2v1h2v-1h2v-1h2v2h-1v1h-1v2h5v1h3v1h1v1h1v2h3v1h7v5h-1v-1h-1v-1h-4v-1h-3v-1h-4v-1h-3v-1h-2v-1h-1v-2h-4v1h-2v-1h-1v1h-2v-1h-1v-1h-1v-2h2v1h1v1h1v-4h-2v-3h-2v3h-2v1h-3v-2h-4v-1h-1v-1h-1v-2h-1v-2h-1v-2h-1v-1h1zM55 53h1v1h1v2h-2zM28 56h2v2h-2zM80 55h1v1h-1zM5 56h2v2h-2zM86 57h1v2h-1v1h-1v-2h1zM7 58h1v4h-2v-3h1zM81 58h2v2h-2zM11 59h3v2h-3zM53 60h-1v1h1zM39 62h1v3h-1zM51 62v2h-1v-2zM1 64h5v1h2v-1h2v1h1v2h-4v3h2v1h2v2h2v1h1v3h-1v1h-1v2h-2v-1h-2v-1h1v-1h-2v-1h-3v-1h-4v-10h1zM20 67h2v2h-2zM24 68h2v2h-2zM72 71v2h-2v-2zM62 71h2v2h-2zM51 72h1v1h1v1h-1v1h-1zM58 72h2v1h1v2h1v1h1v5h-1v-1h-3v-1h-1v-1h1v-2h1v-1h-1v-1h-1zM24 74v1h-1v1h1v3h1v1h2v-3h1v-1h-1v-1h-1v-1zM75 74h2v2h-2zM16 75h2v2h-2zM0 78h5v1h1v1h4v1h2v1h1v3h-1v-1h-1v-1h-3v-1h-4v2h-3v-1h-1zM84 86h3v2h-3zM26 87h2v2h-2zM3 88h1v2h-1zM31 88h1v2h-1z"/></g>
</g>
<g transform="translate(1049.1 850.2) scale(4.0844)">
<rect width="90" height="90" fill="#fde2e9"/>
<g filter="url(#halo2)"><path fill="#006400" fill-rule="evenodd" shape-rendering="crispEdges" d="M7 0h4v2h-4zM31 0h14v1h1v-1h5v1h1v1h3v-2h5v2h1v-2h5v1h5v-1h19v1h-9v1h1v1h1v2h2v-1h3v-1h2v31h-3v-1h-1v1h-1v1h2v1h2v-1h1v5h-3v1h-1v1h-2v1h-1v2h-1v2h-1v1h-1v1h-1v3h-1v-1h-1v-1h-1v-1h-2v-1h-2v-1h-1v-1h-1v-1h-2v2h-1v2h-4v-1h-2v-1h-2v-1h1v-3h-1v-1h-2v-1h-1v1h-3v1h-2v1h-1v2h-2v1h-2v-1h-1v-2h1v-1h1v-1h1v-1h2v-1h-1v-2h-1v-1h-5v1h-1v1h1v3h1v1h1v1h-1v6h1v3h1v3h1v3h2v1h2v1h-1v1h-1v1h-2v1h-2v1h5v1h1v1h1v1h1v1h1v1h1v1h5v-1h7v5h-1v5h-1v1h1v3h1v6h-22v-2h1v-6h1v-1h2v1h4v-1h2v-1h-3v1h-2v-1h-1v-1h-1v-2h-1v-3h-1v-3h-1v-1h-3v-9h1v-1h1v-1h1v-2h-1v-3h-1v-3h-3v-2h2v-1h-1v-3h-1v1h-2v-2h2v-5h-1v-4h-3v-1h-1v-1h1v-8h-1v-2h-1v-1h-1v-1h1v-1h1v2h1v-1h1v5h1v4h2v-2h1v-1h1v-1h1v-1h2v-1h2v-1h-1v-1h-2v-1h-1v1h-3v-1h-1v-2h-2v-2h-4v-1h-6v1h-1v1h-1v2h-1v2h-1v2h-1v5h-2v1h-1v-2h1v-5h1v-2h1v-1h1v-2h1v-3h11v-1h1v-8h-1v-2h-1v-1h-1v-1h-1v-1h-1zM23 1h3v4h-3zM12 2h1v1h-1zM57 3h-1v1h-1v3h2zM14 3h3v2h-3zM63 4h-1v1h1v1h2v-1h-2zM72 4h-1v3h-1v5h3v-4h1v-3h-2zM23 5v1h-1v-1zM42 5v4h1v3h-1v1h1v2h2v1h2v1h2v-1h5v-1h4v-3h7v1h-1v1h-1v1h-2v1h-2v1h-9v1h-1v1h1v1h1v1h1v2h-2v1h-1v1h-3v2h1v1h1v1h1v2h1v3h1v-1h13v-1h2v-1h2v-1h1v-2h1v-2h1v-1h1v-1h1v-1h-1v-1h-2v-1h-2v-1h-1v-2h2v-1h1v-1h-2v1h-2v-1h-1v-1h1v-3h-1v-1h1v-2h-2v1h-4v-1h-2v1h-3v-1h-2v-1h-1v-2h-3v1h-3v-1h-1v-1zM68 5h-1v1h1zM84 6h-1v6h-1v4h1v1h2v1h2v-1h2v-3h-1v-1h-1v-1h-1v-1h-1v-2h-1zM1 6h1v1h-1zM25 8h2v1h-2zM15 9h3v1h1v1h1v1h1v3h-4v-1h-1v-1h-1v-1h-1v-2h1zM25 10h2v3h-2zM0 11h2v4h-2zM8 20h2v1h1v3h1v1h5v1h1v3h-12v1h-2v1h-2v-1h-1v-5h4v-2h1v-1h1v-1h1zM53 20h3v1h1v1h-4zM87 25h-1v1h-2v2h3zM53 26h2v1h5v2h-1v2h-4v-1h-1v-1h-1zM62 28h1v1h-1zM50 30h1v1h-1zM61 30h2v2h-2zM10 31h2v2h-2zM20 33h1v2h-1zM35 34v1h-2v-1zM11 35h2v1h1v1h1v2h1v2h1v1h1v1h1v1h1v1h1v1h1v1h1v1h1v1h1v2h1v1h-1v1h-3v1h-2v1h1v2h1v1h1v1h1v2h1v1h1v5h-1v2h2v3h-1v1h-1v-1h-2v-2h-3v-1h-2v1h-1v2h-4v-1h-1v-2h-1v-1h-2v1h-2v3h2v1h1v3h-1v1h-1v1h-2v1h-3v-1h-1v-1h-1v-3h1v-2h-1v-1h-1v-22h2v1h1v1h3v1h4v1h2v1h6v-2h-1v-1h-1v-2h-1v-4h-1v4h-2v-1h-1v-1h-1v-1h-1v-2h2v-2h-2v-1h-1v1h-3v2h-1v1h-4v-5h3v-1h3v-1h2v-1h2v-1h1zM15 35h1v1h-1zM31 35h1v1h-1zM52 36v1h-1v2h1v-1h5v-2zM74 36v3h-1v4h2v-5h1v-2zM45 39h2v2h-2zM6 48h1v2h-1zM83 49h2v2h-2zM31 50h1v1h-1zM34 50h1v2h-1zM55 50h5v1h-2v1h-2v1h-2v-2h1zM80 51h1v2h1v5h-2zM29 52h2v1h-2zM56 53h4v1h3v1h1v1h1v1h1v1h1v1h1v2h-2v-1h-2v-1h-2v-1h-2v-1h-3v-1h-2v-1h-1v-1h2zM28 55h2v1h-2zM65 55h2v1h-2zM76 55h2v4h-4v-3h2zM29 58h2v2h1v1h1v4h-1v-1h-1v-1h-1v-2h-1zM35 58h1v1h-1zM38 58h1v2h-1zM83 58h1v4h1v1h-2zM70 60h3v2h1v3h-2v-2h-1v-1h-1zM63 61h2v2h-2zM78 62h2v1h1v1h1v2h1v1h1v2h1v1h1v1h1v1h1v3h-2v-1h-1v-2h-1v-1h-1v-1h-1v-2h-1v-1h-1v-1h-1v-1h-1zM68 63h2v2h-2zM87 63h1v1h-1zM34 64h1v1h-1zM87 65h1v2h-1zM33 66h1v1h1v3h-1v-1h-1zM65 66h2v1h-2zM74 66h2v1h-2zM69 67h2v1h1v1h4v1h2v3h-3v-1h-2v-1h-1v-1h-1v-1h-2zM12 73h2v1h1v1h1v1h1v2h1v1h1v1h2v4h-1v2h2v1h1v1h1v1h1v1h-19v-5h1v-1h1v-2h3v-1h1v-1h1v-2h1v-1h-1v-1h-1zM43 73h2v2h-2zM18 74h2v2h-2zM44 77h2v1h-2zM71 78h2v2h-2zM35 80h1v1h-1zM15 82h-1v3h1zM78 82h3v2h-2v-1h-1zM40 83h3v1h-1v1h-1v2h-1zM9 85v2h2v-2zM85 89h1v1h-1zM89 89h1v1h-1z"/></g>
</g>
<g transform="translate(1418.7 850.2) scale(4.0844)">
<rect width="90" height="90" fill="#fde2e9"/>
<g filter="url(#halo2)"><path fill="#006400" fill-rule="evenodd" shape-rendering="crispEdges" d="M13 0h17v1h1v1h1v1h1v2h1v1h1v1h1v1h1v-1h1v-7h3v3h1v4h6v1h1v1h1v1h1v1h1v2h1v5h-2v1h-1v1h-3v1h-1v1h-1v1h-2v3h-1v2h-1v1h1v4h-1v2h-1v1h1v-1h1v-1h1v-1h1v-1h1v-1h2v-1h2v1h2v-1h8v3h1v1h1v3h1v2h1v2h1v2h1v1h1v2h1v1h1v1h1v2h1v1h1v1h1v1h1v1h1v1h1v1h1v1h2v1h1v2h1v1h1v1h2v2h1v1h1v1h1v7h1v1h1v1h2v4h-3v1h-1v1h-2v1h-1v1h-1v1h-1v1h-1v1h-1v2h-1v2h-14v-2h-4v-1h-2v-1h-1v-5h1v-1h2v3h2v-2h4v1h3v-1h2v-1h1v-1h1v-1h1v-1h2v-2h1v-2h1v-3h-1v-1h-2v-1h-1v-1h-2v-1h-1v1h-1v1h-2v1h-1v-1h-1v-2h1v-1h1v-1h3v-1h2v-3h-1v-1h-1v-1h-1v-2h-1v-1h-1v-2h-1v-3h-2v-1h-1v1h-2v1h-3v-2h1v-1h1v-2h-1v-3h-1v-2h-1v-1h-1v3h1v1h-1v1h-2v2h-1v9h1v1h1v7h1v3h-1v1h-3v1h-1v1h-2v1h-1v2h-1v1h-2v2h-1v2h1v4h-1v2h1v1h1v1h-1v1h-3v2h-1v1h-4v-2h1v-1h2v-1h1v-12h1v-5h-6v-1h-1v-2h1v-1h1v-1h4v-7h-2v-2h-1v-7h-2v1h-1v1h-1v2h-1v1h-1v1h-1v1h-1v1h-3v-3h1v-1h3v-2h-2v-2h-1v-1h-2v1h-1v1h-1v1h-3v1h-1v-1h-2v-6h2v-1h2v-1h1v-2h1v-1h1v-3h-3v-1h-1v-5h-1v-1h-1v-1h-1v-1h-1v-1h-1v-1h-1v-3h1v-5h3v-3h3v3h1v3h-1v3h1v2h1v1h3v-1h2v1h1v-1h1v-2h1v-1h1v-2h1v-2h-1v-1h-1v-2h-1v-2h-3v-2h-1v-1h-1v-1h-1v-1h-1v1h-1v2h-5v-7h-1v-1h-3v-1h-1v-1h-1zM48 0h12v2h1v-2h2v1h1v-1h5v1h1v5h-10v2h1v1h1v1h1v1h1v1h5v-1h1v1h2v1h1v4h-2v2h-1v1h-1v1h-1v3h-1v2h-3v-1h-1v-2h-2v-5h-1v-2h-1v-2h-1v-2h-1v-2h-1v-3h-1v-1h-3v-1h-2v-1h-1v-2h-1zM1 3h4v1h2v3h-2v3h-1v6h-1v3h-1v1h-2v-16h1zM85 5h2v1h3v3h-5v-1h-1v-2h1zM40 8v1h-1v1h-1v1h-2v1h-1v1h1v2h2v-1h1v-1h1v-1h2v-4zM10 8h3v3h1v3h-1v1h-2v1h-2v-1h1v-1h1v-3h-1zM46 11v1h2v-1zM83 11h7v3h-4v1h-2v-1h-1zM77 12h5v3h1v5h-1v4h1v-1h1v-1h1v-1h1v-2h1v-2h1v-2h2v19h-1v1h-2v-2h-3v1h-1v5h1v6h-1v-1h-1v-1h-1v-1h-1v-1h-1v-6h-2v-1h-3v1h-2v-2h-1v-2h2v-1h2v-1h1v-2h-1v-2h2v-1h-2v1h-4v-1h-1v-1h1v-2h1v-1h1v-1h1v-1h1v-5h2zM67 15h-1v1h1zM8 18h2v3h-1v1h-1v1h-3v-2h2v-2h1zM86 28h-1v2h1zM10 28h2v2h1v1h1v4h-1v1h-1v3h-1v1h-1v2h-1v1h-3v-1h-1v-9h2v-1h1v-1h1v-1h1zM79 29v1h-1v1h1v1h1v-1h1v-2zM51 34v3h2v-1h1v-2zM35 36h-1v1h1zM37 37v2h2v-2zM33 38h-1v1h1zM49 39h-1v1h-1v2h4v-1h-1v-1h-1zM12 43h4v3h1v4h-1v1h-1v2h-2v-2h-1v-1h-1v-1h-1v-2h1v-2h1zM0 49h1v1h2v1h1v1h2v4h-1v2h1v2h1v2h1v1h1v1h2v1h4v-1h3v-3h1v-1h3v1h1v1h2v-1h1v2h1v1h1v2h1v1h1v1h1v1h1v2h1v1h-1v1h2v1h1v7h1v2h-1v1h-1v1h-1v3h-4v-6h-1v-2h-1v-1h-1v3h-1v1h-1v1h-1v1h-1v1h-3v-1h-3v-8h1v-1h1v-1h4v3h1v2h1v1h1v-1h-1v-8h-1v-1h-1v-1h-1v-1h-1v-1h-5v1h-2v1h-1v1h-4v-1h-2v-1h-6zM18 53h3v1h1v2h-1v1h-3v-1h-1v-2h1zM88 65h2v2h-2zM61 68h3v3h-3zM59 72h3v1h1v1h-1v2h-1v-1h-1v-1h-1zM52 73h1v1h1v1h1v3h-1v1h-2v-1h-1v-1h-1v-2h1v-1h1zM9 82h3v1h1v3h-3v1h-1v1h2v1h1v1h-8v-3h1v-1h1v-2h1v-1h2zM0 85h1v3h-1z"/></g>
</g>
<g transform="translate(1049.1 1219.2) scale(4.0844)">
<rect width="90" height="90" fill="#fde2e9"/>
<g filter="url(#halo3)"><path fill="#006400" fill-rule="evenodd" shape-rendering="crispEdges" d="M0 0h90v6h-1v4h1v11h-1v1h-5v-1h-5v4h2v2h-1v2h-2v1h-1v1h-1v1h-1v1h-10v1h-1v1h-3v1h-1v1h-2v1h-3v1h-3v1h-10v-1h-1v-4h-2v1h-1v1h-1v1h-2v-1h-2v-1h-1v-1h-1v-1h-1v-1h-1v-1h-1v2h-3v-2h-2v-1h-2v-1h-2v-1h-8v-1h-3v-1h-4v-1h-2v-1h-1v-1h-1zM60 6h-1v1h-1v1h-1v1h-1v1h-1v1h-1v1h-1v1h-1v1h-2v1h-1v2h1v-1h1v-1h4v-1h2v-2h1v-1h1v-1h2v1h1v1h12v-1h2v1h2v1h3v1h1v1h3v1h1v-1h1v-1h1v-3h-2v1h-1v-1h-2v-1h-2v-2h-4v-1h-1v-1h-3v1h-3v-1h-2v1h-1v1h-1v1h-3v-1h-2v-1h-1zM85 12v2h-2v-2zM84 27h1v1h-1zM44 31h-1v1h-3v2h3v-1h1zM11 31h1v2h-1zM16 32h1v2h-1zM25 36h2v7h-1v10h-1v4h-1v1h-2v1h-2v1h-2v2h-1v3h3v5h-1v1h-4v1h-2v2h1v7h-1v-2h-2v-1h-1v-2h-1v-2h-1v-2h-1v-1h-2v-1h-1v-1h-1v-1h-1v-1h-1v-1h-1v-9h2v1h1v5h2v-6h-1v-6h2v-1h1v-1h1v-2h2v-2h1v-1h-1v-4h1v-2h3v1h1v1h2v1h3v1h-1v4h-1v2h-1v1h-2v1h-2v5h1v-1h1v-1h1v-1h1v-1h1v-1h2v-2h1v-3h1v-6h1v-1h1v-1h1zM68 36h1v1h-1zM60 38h2v1h1v1h-1v1h-1v-1h-1zM73 39h4v1h1v1h2v1h2v1h2v1h5v-1h1v10h-1v-1h-1v-1h-1v-1h-1v-1h-2v-1h-2v1h-3v-1h-2v-1h-1v-1h-1v-1h-1v-1h-1v-2h-1v-1h1zM85 39h1v2h-1zM46 44h1v1h-1zM50 44h2v1h-2zM29 46h1v1h-1zM68 47h2v2h-2zM30 48h2v1h1v1h-1v2h-1v1h-1v1h-3v-2h1v-2h1v-1h1zM48 48h2v1h-2zM84 51h2v2h-1v-1h-1zM48 53h5v1h8v1h1v1h1v1h-1v1h-6v1h-4v-1h-1v-1h-1v1h-1v1h-2v-5h1zM67 55h3v1h1v1h1v1h5v-1h1v-1h4v2h1v2h1v1h2v5h1v2h1v2h-4v-1h-2v-2h2v-3h-1v-2h-1v-1h-1v-2h-3v1h-1v1h-4v-1h-1v-1h-1v-1h-2v-1h-2zM88 55h2v1h-2zM13 59h-1v1h-1v1h-1v1h-1v1h-1v2h1v1h1v1h-1v2h2v-2h1v-1h1zM25 60h12v1h4v1h1v3h-2v1h-1v1h-1v1h-2v1h-1v3h-1v2h-1v2h1v1h1v-1h1v-1h1v3h-2v1h1v1h1v3h3v2h-3v2h-1v1h-2v1h-1v1h-4v-2h-2v-2h3v-1h1v-1h1v-2h-1v1h-1v1h-1v1h-2v1h-1v-1h-3v5h-4v-10h1v-1h1v-4h1v-2h-1v-6h1v-3h1v-1h1v-2h1zM56 68h8v1h2v1h2v1h3v2h1v3h-3v-1h-2v-1h-1v-1h-2v1h-2v-1h-1v-1h-3v-1h-6v-2h4zM78 68h2v1h-2zM86 72h2v2h2v3h-1v1h-2v1h-2v-2h1v-1h1v-1h-1zM47 73h1v2h-1zM81 76h3v2h-3zM18 78h1v2h-1zM76 78h2v2h1v2h-3v-1h-2v-1h-1v-1h3zM38 80h1v1h-1zM83 81h2v3h-1v1h2v3h-1v-1h-2v-3h-1v-2h1zM52 82h1v1h-1zM48 84h5v1h2v1h1v-1h2v-1h3v1h3v1h2v1h1v1h1v1h2v1h-21v-5h-1z"/></g>
</g>
<g transform="translate(1418.7 1219.2) scale(4.0844)">
<rect width="90" height="90" fill="#fde2e9"/>
<g filter="url(#halo3)"><path fill="#006400" fill-rule="evenodd" shape-rendering="crispEdges" d="M3 0h87v8h-2v1h-2v1h-1v5h2v-1h-1v-2h2v5h2v7h-3v-1h-4v1h-1v1h-1v-3h1v-1h1v-1h3v-3h-1v-1h-2v-1h-1v-1h-1v-1h-5v1h-7v3h1v1h-1v1h-1v1h5v1h2v-1h1v-1h2v1h1v2h1v1h-5v6h1v4h1v2h2v-4h1v-1h2v1h-1v1h1v-1h3v2h-1v1h-1v1h-3v6h1v1h4v5h1v1h1v1h1v1h2v3h-3v-1h-1v-1h-1v-1h-4v1h-2v1h1v2h1v1h2v1h1v1h2v1h1v1h1v1h1v1h1v6h-1v2h1v2h-4v1h-3v1h-7v-1h-2v-1h-2v-1h-1v-1h-1v4h-1v1h-1v2h1v2h1v1h1v1h1v2h1v1h1v1h1v1h1v1h2v1h4v1h2v1h1v1h-11v-2h-1v-1h-1v-2h-1v-1h-1v-1h-1v-2h-1v-1h-1v-2h-1v-2h-1v-1h-3v1h-1v2h1v3h1v3h1v5h1v1h-5v-4h-2v-1h-1v-3h-1v-1h-1v-1h-1v-1h-8v1h3v1h1v1h-1v1h-1v1h-1v1h-2v-1h1v-1h1v-1h-1v-1h-1v1h-1v5h2v1h1v1h2v-2h3v1h1v1h1v1h-33v-1h-1v1h-5v-1h-1v1h-10v-1h1v-2h1v-2h1v-1h1v-2h-3v1h-1v1h-1v4h-1v2h-2v-20h3v1h4v1h1v2h1v1h2v1h1v1h1v-1h1v-1h1v-1h1v-1h1v1h3v-2h-1v-1h1v-4h-2v-1h-1v-3h-2v-1h-1v-2h-1v-1h4v-1h1v-1h-2v-1h-1v-3h1v-1h1v-1h1v-1h-5v-1h4v-1h-1v-1h1v-2h-2v3h-2v-2h-1v-1h-1v-2h-1v-1h2v-1h1v-1h-4v-2h1v-3h-2v-1h-2v-3h-4v-2h-2v-19h1v-1h1v-1h1v-1h1v-1h1v-4h-1v-1h-1zM10 7h-1v1h-1v2h-1v1h-1v2h-1v1h-1v2h-1v4h1v4h-1v1h4v1h1v1h3v-1h1v-1h1v-2h2v2h1v-1h1v-1h1v-2h1v-1h-1v-1h-2v-5h-1v-2h-1v-1h-1v-1h-1v-1h-1v-1h-1zM36 11v1h-1v1h-1v1h-1v2h-1v1h-1v1h-1v2h3v-1h1v-1h1v-1h2v-1h1v-1h1v-1h2v-1h2v-2zM15 14v2h-1v-2zM53 15v1h-2v1h-2v1h-1v1h-2v2h-1v1h-1v1h-1v1h-1v1h-2v1h-2v1h-1v1h-1v1h1v1h2v2h1v1h1v1h1v1h1v1h1v1h1v1h1v1h2v1h1v1h2v-1h1v-2h1v-1h1v-1h1v-3h1v-2h1v-1h1v-1h1v-1h1v-2h1v-1h1v-1h1v-1h1v-1h1v-1h1v-3h-1v-1h-7v-1h-2v-1zM6 16h2v1h-2zM12 17h1v1h-1zM14 20h1v2h-1zM22 23h-1v3h-1v2h-2v1h-1v1h-1v1h-2v1h-2v2h4v-1h1v-1h3v-1h2v2h2v1h1v2h1v1h1v-2h-1v-6h-1v-1h-1v-3h-1v-1h-1zM45 23h3v2h-3zM67 24v2h-3v2h1v2h-2v2h1v1h2v-1h2v1h1v3h1v1h-3v-1h-1v-1h-2v4h-2v2h-1v4h-1v3h1v1h1v1h1v1h5v-1h4v-1h2v-1h4v-1h1v-1h1v-2h-3v-3h-1v-1h-1v-1h-1v-2h-1v-3h-1v-4h-2v-1h2v-1h1v-3h-2v-1zM7 24h2v1h-2zM55 25h2v1h-2zM86 25h2v4h1v1h-1v1h-1v-1h-1v-1h-1v-3h1zM70 26h1v1h-1zM20 28h1v1h-1zM68 27h1v1h-1zM23 29h1v2h-1zM0 35h1v3h-1zM81 37h2v2h-2zM3 38h2v1h-2zM6 39h1v1h-1zM9 40v1h-1v-1zM87 39h1v1h1v1h-1v1h-1zM26 41v1h-1v1h-5v-1h-2v1h1v1h1v1h1v1h1v2h2v-1h1v-1h1v1h1v4h-1v4h1v1h1v2h1v3h1v1h1v-2h2v-5h1v-1h-1v-1h-1v-2h-1v-2h-1v-1h-1v-2h-1v-5zM54 42h-1v1h-1v5h1v-1h2v-1h1v-1h-2zM9 50h1v2h-1zM12 52h2v2h-2zM32 53v2h-1v-2zM62 53v2h4v-1h4v1h1v3h1v2h1v2h1v2h1v1h2v-1h-1v-1h-1v-2h-1v-2h-1v-2h-1v-2h-1v-2zM0 53h2v1h3v1h1v2h1v2h1v2h1v2h-1v1h-1v-1h-1v-3h-1v-2h-1v-1h-1v-1h-1v-1h-2zM47 55h-1v1h1zM26 56h-1v1h1zM14 57h1v1h-1zM52 58h-1v3h1v1h-1v1h-1v-1h-1v-1h-2v2h1v2h5v2h-1v1h-6v-1h-1v-6h-2v3h-1v2h-4v2h-7v-1h-1v1h-6v1h1v1h2v1h1v2h-1v3h4v1h2v1h1v1h2v1h4v-1h5v-1h3v-1h2v-6h2v4h1v1h1v1h3v-6h-3v-7h-1v-5h-1zM41 59v2h1v-1h3v-1zM32 62v1h1v1h1v-1h1v-1zM65 63v1h-2v1h-1v2h2v-1h1v-1h2v-2zM45 67v2h-2v2h-2v-4zM0 67h2v2h-2zM3 68h2v2h-2zM30 69h2v2h-2zM38 71h2v1h-2zM3 73v2h1v-1h1v-1zM47 72h1v2h-1zM16 75v1h2v-1zM73 74h3v3h-3zM20 76h-1v2h1zM36 76h4v1h-1v1h-3zM12 78h-1v1h1zM17 78h-1v1h1zM9 80h-1v1h1zM81 80h5v2h-1v1h-2v1h-1v1h-2v-2h1zM60 83h-1v1h1z"/></g>
</g>
<g transform="translate(1049.1 1588.2) scale(4.0844)">
<rect width="90" height="90" fill="#fde2e9"/>
<g filter="url(#halo4)"><path fill="#006400" fill-rule="evenodd" shape-rendering="crispEdges" d="M0 0h8v1h1v1h4v1h8v1h1v1h4v-1h-3v-1h1v-1h4v-2h3v2h-1v1h-2v1h4v1h-1v1h1v1h4v-1h2v1h1v1h2v1h1v1h1v-2h1v-1h1v-3h1v1h2v1h1v-5h1v-1h3v4h1v3h-1v2h1v2h-1v3h1v1h1v1h-1v1h1v2h-1v1h-3v1h1v1h1v2h2v1h3v1h2v1h1v1h2v1h2v1h7v-1h2v-2h1v-6h-1v-2h-1v-5h1v-1h-4v-2h-1v-1h-1v-1h-1v-1h-1v-1h-1v-2h1v-2h-2v-1h-1v-1h-3v-1h13v1h2v1h3v-2h9v1h-1v2h4v4h-5v1h-2v-1h-1v1h-2v1h4v2h-1v3h-1v-1h-3v1h1v1h1v1h1v-1h2v1h1v1h5v51h-1v-1h-1v-3h-4v-1h-1v1h-3v1h-3v-1h-1v-1h-1v-1h-1v-1h-1v-1h-5v1h-3v1h3v1h2v2h1v1h1v2h1v4h-1v3h-5v1h1v3h-2v1h-4v-1h-2v-1h-2v-1h-1v-1h-3v-1h-2v-2h-1v3h-2v1h-2v1h-1v1h-2v1h-1v1h1v1h1v2h-1v3h-1v1h-2v-4h-3v-1h-1v1h-1v1h-1v1h-2v1h-2v1h-1v1h-4v1h-26v-13h2v1h4v-1h2v1h5v-1h7v1h2v-3h5v-1h-1v-3h1v-1h-1v-5h-1v-4h-1v-1h-1v-1h-1v-1h-1v-1h-1v-1h-1v-3h-1v1h-3v-2h-1v-1h-1v-2h-1v-2h-2v1h1v2h1v2h-1v5h1v-1h1v1h3v1h1v1h-5v3h-1v1h-2v1h-1v1h-1v2h1v6h-2v1h-1v3h-2v-1h-1v-1h-1v-1h1v-1h1v-1h2v-2h-1v-1h-2v-1h-2v-3h1v-1h-1v-1h4v-1h1v-2h1v-2h1v-2h-2v1h-1v1h-1v1h-1v1h-1v1h-1v-8h1v-1h1v-1h1v-1h1v-2h-2v1h-2zM41 0h2v2h-2zM80 1v2h3v-1h-1v-1zM74 3v2h1v1h1v1h2v-1h1v-2h-1v-1zM41 3h1v2h-1zM58 7h2v1h1v2h-2v-1h-1zM37 9v1h-4v1h-1v5h-1v1h-1v1h-2v1h-2v1h3v1h2v1h-1v1h1v1h3v-4h1v3h1v-1h1v2h1v1h1v2h-2v1h1v1h2v1h4v2h-1v2h-1v2h-1v1h-1v-2h-1v-2h-1v-1h-1v3h1v1h-1v1h-1v1h3v-1h1v2h-1v3h1v4h-1v4h1v2h1v2h1v1h1v2h1v3h1v1h2v-1h1v-1h1v-1h1v-2h1v-1h1v-1h1v-2h1v-1h2v-1h1v-1h2v-1h1v-1h1v-2h1v-1h1v-1h1v-2h1v-2h-1v-1h-1v-2h-1v-2h-1v-1h-5v1h1v3h-1v3h-3v-1h-2v-1h-1v-2h-1v-1h-1v-1h-1v-1h1v-1h-1v-2h-2v-1h1v-1h1v-5h-1v-1h-1v-1h-1v1h1v2h1v2h-1v-1h-1v-2h-1v-3h1v-1h-1v-1h2v-1h-5v-1h-3v-1h-2v-1h3v1h4v-1h-1v-2h-1v-1h-1v-2zM46 10h-1v2h1v2h1v3h1v1h1v-2h1v1h1v2h2v-1h-1v-2h-1v-1h-1v-1h-2v-1h-1v-2h-1zM56 11h1v2h-1zM64 15h1v1h1v1h1v1h1v2h-2v-1h-1v-1h-1zM33 16h1v1h-1zM33 17v3h-1v-3zM59 16h2v2h-2zM78 17v1h1v1h1v1h3v-2h-1v-1zM21 20h-1v1h-1v2h2zM38 19h1v1h-1zM56 20h1v2h-1zM39 21h1v1h-1zM40 23h1v1h1v2h1v2h-1v-1h-1v-2h-1zM22 25v1h-1v1h-1v3h1v-2h1v-1h3v1h2v1h1v1h1v1h1v2h1v1h1v1h2v-2h-1v-1h-1v-2h-1v-1h-1v-1h-2v-1h-1v-1h-1v-1zM37 25h-1v1h1zM42 28v1h-1v-1zM12 30v1h-2v1h-2v1h1v1h3v-1h1v2h3v-1h1v-1h-4v-1h1v-2zM19 31h-1v1h1zM42 37h2v1h-2zM26 39h-1v1h1zM29 39h-1v3h-1v1h2v3h2v1h1v1h2v-4h-3v-2h-1v-2h-1zM60 39h2v1h-2zM26 42h-1v2h1v1h1v-1h-1zM16 43v1h-1v1h-1v1h2v1h1v2h1v1h1v1h1v1h1v-1h1v-7h-1v-1zM31 50v2h3v-1h-1v-1zM67 53v1h-1v1h-1v1h-1v1h1v1h3v-1h1v-4zM66 55h2v2h-2zM63 59h-1v2h-1v1h2zM52 63h-1v1h-4v1h-1v1h2v1h1v2h2v-1h2v-2h1v-2h-2zM52 70v1h2v1h1v-2zM18 70h1v2h-1zM63 73h-1v1h-2v1h3v1h1v-1h1v-1h-2zM88 72h2v18h-4v-8h-1v-4h1v-4h1v-1h1zM11 73h3v2h-3zM42 75h-1v1h-1v2h-1v1h2v-2h1zM70 76h2v2h1v2h-2v-1h-1zM48 78h4v5h-2v-1h-1v-1h-1v-1h-1v-1h1zM80 80h2v2h-2zM72 81h1v2h-4v-1h3zM50 83v1h-1v2h-1v1h-1v1h-1v-3h2v-2zM65 84h2v1h-2zM58 85h2v1h-2zM50 86h2v1h2v1h1v2h-6v-1h1z"/></g>
</g>
<g transform="translate(1418.7 1588.2) scale(4.0844)">
<rect width="90" height="90" fill="#fde2e9"/>
<g filter="url(#halo4)"><path fill="#006400" fill-rule="evenodd" shape-rendering="crispEdges" d="M10 0h18v1h-5v4h-2v1h-2v1h-3v2h2v-1h3v2h-2v1h-1v1h-2v2h3v1h-2v1h-2v1h2v3h-3v1h-1v2h-1v2h-1v2h1v1h2v1h1v1h2v-1h2v1h2v2h1v3h2v-1h2v1h10v-3h-1v-4h-3v-1h-6v1h-1v2h-2v-1h1v-4h1v-2h1v-2h-1v1h-1v1h-1v1h-1v-1h-1v-1h1v-1h1v-1h1v-3h-2v-1h-1v-1h-1v-1h-1v-3h3v-1h1v-1h3v-1h1v-3h1v-1h1v-1h-1v-1h9v-1h1v-1h49v2h1v3h1v2h-1v1h2v13h-1v1h-2v1h3v3h-5v3h-3v-2h-1v5h1v4h1v-1h1v-1h1v-1h2v-1h1v1h2v6h-2v1h2v3h-2v5h2v8h-1v3h1v13h-5v-1h-2v-3h-4v-2h-1v-1h-2v-2h-1v-1h-1v-1h-1v-1h-1v-2h-1v-1h-1v-1h-1v-2h-2v1h-1v1h-4v-1h-1v-1h-1v-1h-1v-1h-1v-1h-1v-1h-1v-2h-2v-1h-3v-1h-1v-2h-1v-2h-1v-2h-1v-4h-1v-2h-2v-1h-2v-3h-2v-1h-2v1h1v1h1v1h-1v3h1v3h-3v-1h-1v-1h-3v1h1v1h1v2h1v1h2v1h1v1h1v1h1v1h1v2h1v3h-1v2h-1v1h-4v-1h-2v1h-2v-3h1v-1h2v-1h-4v-2h-2v1h-1v1h-1v1h-1v1h-1v2h-1v1h-1v2h-1v1h2v-1h4v1h2v1h1v-1h1v1h1v1h2v1h-3v-1h-1v1h1v2h-1v1h1v1h1v3h-2v3h2v-2h4v1h1v2h1v3h2v-4h-1v-1h-1v-8h2v-1h1v-1h1v-2h4v3h-1v2h-1v2h-1v3h1v1h1v1h1v2h2v1h1v1h1v1h1v1h1v-1h2v-2h3v-1h3v-1h1v1h1v1h1v1h1v2h1v1h1v1h2v1h2v1h3v1h2v1h4v1h2v1h4v-1h1v-1h2v10h-47v-2h-4v1h-5v-1h-2v-1h-1v-1h-1v-2h-1v-1h-1v-1h1v-1h-1v-1h-1v-1h-1v-1h-5v1h-1v-1h-4v-1h3v-2h1v-1h-2v-1h-1v-2h-3v-1h-1v-1h-1v-1h-4v-4h-3v2h1v1h1v1h1v2h1v1h1v1h1v1h1v1h-2v-1h-1v-1h-1v-1h-1v-1h-1v-1h-1v-2h-1v-1h-1v-2h-1v-1h2v-2h-1v1h-2v-2h-1v-36h2v-1h1v-1h3v-1h-1v-1h-2v-2h-1v-2h-1v-2h4v1h2v-1h-1v-1h-1v-1h-1v-1h-2v-1h2v-1h1v1h2v1h1v1h3v-1h-1v-1h-1v-1h-1v-1h-2v-1h-1v-3h6v3h1v-4h-1v-2h-1zM37 3h-1v3h1v1h1v-2h1v-1h-2zM31 5v2h1v1h3v-3zM2 6h2v2h-2zM43 8h-1v1h1zM13 9h-1v1h1zM28 10h-1v1h1zM37 10h-1v1h1zM39 11v1h-1v2h1v2h3v-2h1v-1h-1v-1h-1v-1zM47 12h-1v2h-1v3h2v-1h4v-2h-2v-1h-2zM27 14v1h-1v2h1v3h1v-4h1v2h1v3h-1v2h-1v2h1v-1h1v-1h2v1h6v-1h1v-1h-1v-1h-1v-1h-2v-1h-1v-1h-2v-3h-3v-1zM67 16v1h-1v3h1v1h1v-2h1v-3zM50 19v1h2v-1zM42 21v1h-1v1h2v-1h1v1h2v-1h2v-1zM59 22h-1v1h-1v1h-2v1h1v1h2v1h1v2h2v-2h-1v-2h-1zM62 22h-1v3h1zM41 25v1h-1v2h3v1h4v-2h-2v-1h-1v-1zM49 26h-1v2h1v1h3v-1h-2v-1h-1zM63 28v1h-1v3h1v1h1v1h1v-1h1v-1h1v-3h-2v-1zM30 28h1v1h-1zM31 29h1v1h-1zM48 30v2h2v-2zM56 30h-1v1h-1v1h-3v1h1v1h1v1h1v1h2zM28 30h2v1h-1v1h1v2h-2v-2h-2v-1h2zM63 30h2v2h-2zM26 32v1h-1v-1zM32 31h1v1h-1zM59 34v2h2v3h1v1h2v-1h3v-1h-2v-2h-1v-1h-3v-1zM78 34v2h1v2h1v-1h1v-1h-1v-2zM66 41h-1v1h1v1h1v1h2v2h3v-2h-1v-1h-1v-1h-4zM83 41h-1v1h-2v1h4v1h1v-2h-2zM30 42h-1v1h-1v3h1v-2h1zM73 44v2h1v1h2v-3zM82 45h-1v1h-2v1h4v-1h-1zM44 45h1v1h2v2h3v1h2v1h-5v-1h-1v-1h-1v-1h-1zM37 50h-1v1h1zM44 53h1v1h-1zM37 55h1v1h-1zM39 56h3v2h-1v1h-3v-2h1zM51 56h2v2h-2zM50 59h3v2h-3zM54 60h1v2h-1zM35 61h2v1h-2zM56 62h1v1h-1zM61 63h1v1h-1zM49 64h1v1h1v1h1v1h1v3h-1v-1h-1v-1h-1v-1h-1zM63 64h11v2h-2v2h-2v-2h-3v1h-1v1h-3zM15 66h-1v1h1zM59 65h1v2h-1zM1 68h2v3h-2zM75 69h5v2h-2v1h-1v1h-2zM36 71h-1v1h-2v1h-1v1h-2v1h-1v3h3v-1h2v-1h3v-1h2v-1h-3zM5 72h2v3h-2zM1 73h2v2h-2zM12 74h1v1h2v3h-4v1h-1v1h1v1h1v2h1v1h-2v-1h-1v-1h-1v-1h-1v1h-1v2h-2v-3h2v-3h1v-1h1v-1h1v-1h2zM34 73h1v1h-1zM42 74h-1v1h1zM79 73h2v2h-2zM83 74h3v1h1v4h-2v-2h-2zM32 75h1v1h-1zM13 79h2v3h-1v-1h-1zM23 79h2v2h1v1h-1v1h-2v1h-1v4h-1v1h-1v1h-3v-4h2v-1h2v-1h-4v-3h3v1h1v-1h1v-1h1zM8 86h4v4h-3v-2h-1zM4 88h2v2h-2z"/></g>
</g>
</svg>
</body></html>
